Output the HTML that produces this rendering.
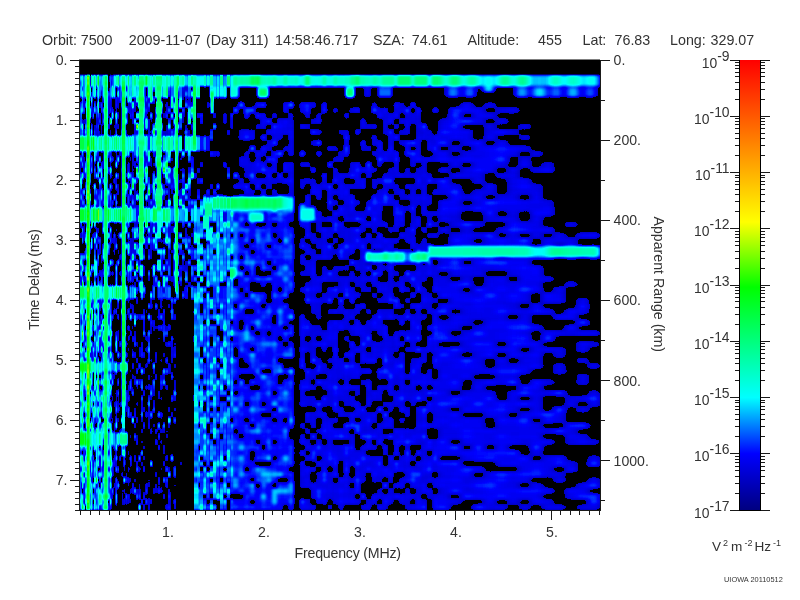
<!DOCTYPE html><html><head><meta charset="utf-8"><title>MARSIS Ionogram</title>
<style>html,body{margin:0;padding:0;background:#fff}svg{display:block}text{font-family:"Liberation Sans",Arial,sans-serif;fill:#333}</style></head><body>
<svg width="800" height="600" viewBox="0 0 800 600">
<rect width="800" height="600" fill="#fff"/>
<defs>
<linearGradient id="cb" x1="0" y1="1" x2="0" y2="0">
<stop offset="0.000" stop-color="rgb(0,0,128)"/>
<stop offset="0.125" stop-color="rgb(0,0,255)"/>
<stop offset="0.250" stop-color="rgb(0,255,255)"/>
<stop offset="0.495" stop-color="rgb(0,255,0)"/>
<stop offset="0.640" stop-color="rgb(255,255,0)"/>
<stop offset="1.000" stop-color="rgb(255,0,0)"/>
</linearGradient>
<filter id="fA" filterUnits="userSpaceOnUse" x="73.0" y="50" width="166.0" height="470" color-interpolation-filters="sRGB"><feGaussianBlur stdDeviation="0.6 1.3"/><feComponentTransfer><feFuncR type="table" tableValues="0.000 0.000 0.000 0.000 0.000 0.000 0.000 0.000 0.000 0.000 0.000 0.000 0.000 0.000 0.000 0.000 0.000 0.000 0.000 0.000 0.000 0.000 0.000 0.000 0.000 0.000 0.000 0.000 0.000 0.000 0.000 0.000 0.000 0.000 0.000 0.000 0.000 0.000 0.000 0.000 0.000 0.000 0.000 0.000 0.000 0.000 0.000 0.000 0.000 0.000 0.000 0.000 0.000 0.000 0.000 0.000 0.000 0.000 0.000 0.000 0.000 0.000 0.000 0.000 0.000 0.000 0.000 0.000 0.000 0.000 0.000 0.000 0.000 0.000 0.000 0.000 0.000 0.000 0.000 0.000 0.000 0.000 0.000 0.000 0.000 0.000 0.000 0.000 0.000 0.000 0.000 0.000 0.000 0.000 0.000 0.000 0.000 0.000 0.000 0.000 0.000 0.000 0.000 0.000 0.000 0.000 0.000 0.000 0.000 0.000 0.000 0.000 0.000 0.000 0.000 0.000 0.000 0.000 0.000 0.000 0.000 0.000 0.000 0.000 0.000 0.000 0.000 0.021 0.048 0.075 0.102 0.129 0.156 0.183 0.210 0.237 0.264 0.291 0.318 0.346 0.373 0.400 0.427 0.454 0.481 0.508 0.535 0.562 0.589 0.616 0.643 0.670 0.697 0.724 0.751 0.778 0.805 0.832 0.859 0.886 0.913 0.941 0.968 0.995 1.000 1.000 1.000 1.000 1.000 1.000 1.000 1.000 1.000 1.000 1.000 1.000 1.000 1.000 1.000 1.000 1.000 1.000 1.000 1.000 1.000 1.000 1.000 1.000 1.000 1.000 1.000 1.000 1.000 1.000 1.000 1.000 1.000 1.000 1.000 1.000 1.000 1.000 1.000 1.000 1.000 1.000 1.000 1.000 1.000 1.000 1.000 1.000 1.000 1.000 1.000 1.000 1.000 1.000 1.000 1.000 1.000 1.000 1.000 1.000 1.000 1.000 1.000 1.000 1.000 1.000 1.000 1.000 1.000 1.000 1.000 1.000 1.000 1.000 1.000 1.000 1.000 1.000 1.000 1.000 1.000 1.000 1.000 1.000 1.000 1.000 1.000 1.000 1.000 1.000 1.000 1.000"/><feFuncG type="table" tableValues="0.000 0.000 0.000 0.000 0.000 0.000 0.000 0.000 0.000 0.000 0.000 0.000 0.000 0.000 0.000 0.000 0.000 0.000 0.000 0.000 0.000 0.000 0.000 0.000 0.000 0.000 0.000 0.000 0.000 0.000 0.000 0.000 0.004 0.035 0.067 0.098 0.129 0.161 0.192 0.224 0.255 0.286 0.318 0.349 0.380 0.412 0.443 0.475 0.506 0.537 0.569 0.600 0.631 0.663 0.694 0.725 0.757 0.788 0.820 0.851 0.882 0.914 0.945 0.976 1.000 1.000 1.000 1.000 1.000 1.000 1.000 1.000 1.000 1.000 1.000 1.000 1.000 1.000 1.000 1.000 1.000 1.000 1.000 1.000 1.000 1.000 1.000 1.000 1.000 1.000 1.000 1.000 1.000 1.000 1.000 1.000 1.000 1.000 1.000 1.000 1.000 1.000 1.000 1.000 1.000 1.000 1.000 1.000 1.000 1.000 1.000 1.000 1.000 1.000 1.000 1.000 1.000 1.000 1.000 1.000 1.000 1.000 1.000 1.000 1.000 1.000 1.000 1.000 1.000 1.000 1.000 1.000 1.000 1.000 1.000 1.000 1.000 1.000 1.000 1.000 1.000 1.000 1.000 1.000 1.000 1.000 1.000 1.000 1.000 1.000 1.000 1.000 1.000 1.000 1.000 1.000 1.000 1.000 1.000 1.000 1.000 1.000 1.000 1.000 0.991 0.980 0.969 0.959 0.948 0.937 0.926 0.915 0.904 0.893 0.882 0.871 0.861 0.850 0.839 0.828 0.817 0.806 0.795 0.784 0.773 0.763 0.752 0.741 0.730 0.719 0.708 0.697 0.686 0.675 0.664 0.654 0.643 0.632 0.621 0.610 0.599 0.588 0.577 0.566 0.556 0.545 0.534 0.523 0.512 0.501 0.490 0.479 0.468 0.458 0.447 0.436 0.425 0.414 0.403 0.392 0.381 0.370 0.359 0.349 0.338 0.327 0.316 0.305 0.294 0.283 0.272 0.261 0.251 0.240 0.229 0.218 0.207 0.196 0.185 0.174 0.163 0.153 0.142 0.131 0.120 0.109 0.098 0.087 0.076 0.065 0.054 0.044 0.033 0.022 0.011 0.000"/><feFuncB type="table" tableValues="0.000 0.000 0.000 0.000 0.000 0.000 0.000 0.000 0.000 0.000 0.000 0.000 0.000 0.000 0.000 0.000 0.000 0.000 0.783 0.799 0.814 0.830 0.846 0.861 0.877 0.893 0.908 0.924 0.939 0.955 0.971 0.986 1.000 1.000 1.000 1.000 1.000 1.000 1.000 1.000 1.000 1.000 1.000 1.000 1.000 1.000 1.000 1.000 1.000 1.000 1.000 1.000 1.000 1.000 1.000 1.000 1.000 1.000 1.000 1.000 1.000 1.000 1.000 1.000 0.996 0.980 0.964 0.948 0.932 0.916 0.900 0.884 0.868 0.852 0.836 0.820 0.804 0.788 0.772 0.756 0.740 0.724 0.708 0.692 0.676 0.660 0.644 0.628 0.612 0.596 0.580 0.564 0.548 0.532 0.516 0.500 0.484 0.468 0.452 0.436 0.420 0.404 0.388 0.372 0.356 0.340 0.324 0.308 0.292 0.276 0.260 0.244 0.228 0.212 0.196 0.180 0.164 0.148 0.132 0.116 0.100 0.084 0.068 0.052 0.036 0.020 0.004 0.000 0.000 0.000 0.000 0.000 0.000 0.000 0.000 0.000 0.000 0.000 0.000 0.000 0.000 0.000 0.000 0.000 0.000 0.000 0.000 0.000 0.000 0.000 0.000 0.000 0.000 0.000 0.000 0.000 0.000 0.000 0.000 0.000 0.000 0.000 0.000 0.000 0.000 0.000 0.000 0.000 0.000 0.000 0.000 0.000 0.000 0.000 0.000 0.000 0.000 0.000 0.000 0.000 0.000 0.000 0.000 0.000 0.000 0.000 0.000 0.000 0.000 0.000 0.000 0.000 0.000 0.000 0.000 0.000 0.000 0.000 0.000 0.000 0.000 0.000 0.000 0.000 0.000 0.000 0.000 0.000 0.000 0.000 0.000 0.000 0.000 0.000 0.000 0.000 0.000 0.000 0.000 0.000 0.000 0.000 0.000 0.000 0.000 0.000 0.000 0.000 0.000 0.000 0.000 0.000 0.000 0.000 0.000 0.000 0.000 0.000 0.000 0.000 0.000 0.000 0.000 0.000 0.000 0.000 0.000 0.000 0.000 0.000 0.000 0.000 0.000 0.000 0.000 0.000"/></feComponentTransfer></filter>
<clipPath id="cA"><rect x="79.0" y="74.6" width="154.0" height="435.4"/></clipPath>
<filter id="fB" filterUnits="userSpaceOnUse" x="225.0" y="50" width="221.0" height="470" color-interpolation-filters="sRGB"><feGaussianBlur stdDeviation="1.35 1.35"/><feComponentTransfer><feFuncR type="table" tableValues="0.000 0.000 0.000 0.000 0.000 0.000 0.000 0.000 0.000 0.000 0.000 0.000 0.000 0.000 0.000 0.000 0.000 0.000 0.000 0.000 0.000 0.000 0.000 0.000 0.000 0.000 0.000 0.000 0.000 0.000 0.000 0.000 0.000 0.000 0.000 0.000 0.000 0.000 0.000 0.000 0.000 0.000 0.000 0.000 0.000 0.000 0.000 0.000 0.000 0.000 0.000 0.000 0.000 0.000 0.000 0.000 0.000 0.000 0.000 0.000 0.000 0.000 0.000 0.000 0.000 0.000 0.000 0.000 0.000 0.000 0.000 0.000 0.000 0.000 0.000 0.000 0.000 0.000 0.000 0.000 0.000 0.000 0.000 0.000 0.000 0.000 0.000 0.000 0.000 0.000 0.000 0.000 0.000 0.000 0.000 0.000 0.000 0.000 0.000 0.000 0.000 0.000 0.000 0.000 0.000 0.000 0.000 0.000 0.000 0.000 0.000 0.000 0.000 0.000 0.000 0.000 0.000 0.000 0.000 0.000 0.000 0.000 0.000 0.000 0.000 0.000 0.000 0.021 0.048 0.075 0.102 0.129 0.156 0.183 0.210 0.237 0.264 0.291 0.318 0.346 0.373 0.400 0.427 0.454 0.481 0.508 0.535 0.562 0.589 0.616 0.643 0.670 0.697 0.724 0.751 0.778 0.805 0.832 0.859 0.886 0.913 0.941 0.968 0.995 1.000 1.000 1.000 1.000 1.000 1.000 1.000 1.000 1.000 1.000 1.000 1.000 1.000 1.000 1.000 1.000 1.000 1.000 1.000 1.000 1.000 1.000 1.000 1.000 1.000 1.000 1.000 1.000 1.000 1.000 1.000 1.000 1.000 1.000 1.000 1.000 1.000 1.000 1.000 1.000 1.000 1.000 1.000 1.000 1.000 1.000 1.000 1.000 1.000 1.000 1.000 1.000 1.000 1.000 1.000 1.000 1.000 1.000 1.000 1.000 1.000 1.000 1.000 1.000 1.000 1.000 1.000 1.000 1.000 1.000 1.000 1.000 1.000 1.000 1.000 1.000 1.000 1.000 1.000 1.000 1.000 1.000 1.000 1.000 1.000 1.000 1.000 1.000 1.000 1.000 1.000 1.000"/><feFuncG type="table" tableValues="0.000 0.000 0.000 0.000 0.000 0.000 0.000 0.000 0.000 0.000 0.000 0.000 0.000 0.000 0.000 0.000 0.000 0.000 0.000 0.000 0.000 0.000 0.000 0.000 0.000 0.000 0.000 0.000 0.000 0.000 0.000 0.000 0.004 0.035 0.067 0.098 0.129 0.161 0.192 0.224 0.255 0.286 0.318 0.349 0.380 0.412 0.443 0.475 0.506 0.537 0.569 0.600 0.631 0.663 0.694 0.725 0.757 0.788 0.820 0.851 0.882 0.914 0.945 0.976 1.000 1.000 1.000 1.000 1.000 1.000 1.000 1.000 1.000 1.000 1.000 1.000 1.000 1.000 1.000 1.000 1.000 1.000 1.000 1.000 1.000 1.000 1.000 1.000 1.000 1.000 1.000 1.000 1.000 1.000 1.000 1.000 1.000 1.000 1.000 1.000 1.000 1.000 1.000 1.000 1.000 1.000 1.000 1.000 1.000 1.000 1.000 1.000 1.000 1.000 1.000 1.000 1.000 1.000 1.000 1.000 1.000 1.000 1.000 1.000 1.000 1.000 1.000 1.000 1.000 1.000 1.000 1.000 1.000 1.000 1.000 1.000 1.000 1.000 1.000 1.000 1.000 1.000 1.000 1.000 1.000 1.000 1.000 1.000 1.000 1.000 1.000 1.000 1.000 1.000 1.000 1.000 1.000 1.000 1.000 1.000 1.000 1.000 1.000 1.000 0.991 0.980 0.969 0.959 0.948 0.937 0.926 0.915 0.904 0.893 0.882 0.871 0.861 0.850 0.839 0.828 0.817 0.806 0.795 0.784 0.773 0.763 0.752 0.741 0.730 0.719 0.708 0.697 0.686 0.675 0.664 0.654 0.643 0.632 0.621 0.610 0.599 0.588 0.577 0.566 0.556 0.545 0.534 0.523 0.512 0.501 0.490 0.479 0.468 0.458 0.447 0.436 0.425 0.414 0.403 0.392 0.381 0.370 0.359 0.349 0.338 0.327 0.316 0.305 0.294 0.283 0.272 0.261 0.251 0.240 0.229 0.218 0.207 0.196 0.185 0.174 0.163 0.153 0.142 0.131 0.120 0.109 0.098 0.087 0.076 0.065 0.054 0.044 0.033 0.022 0.011 0.000"/><feFuncB type="table" tableValues="0.000 0.000 0.000 0.000 0.000 0.000 0.000 0.000 0.000 0.000 0.000 0.000 0.000 0.000 0.000 0.000 0.000 0.000 0.783 0.799 0.814 0.830 0.846 0.861 0.877 0.893 0.908 0.924 0.939 0.955 0.971 0.986 1.000 1.000 1.000 1.000 1.000 1.000 1.000 1.000 1.000 1.000 1.000 1.000 1.000 1.000 1.000 1.000 1.000 1.000 1.000 1.000 1.000 1.000 1.000 1.000 1.000 1.000 1.000 1.000 1.000 1.000 1.000 1.000 0.996 0.980 0.964 0.948 0.932 0.916 0.900 0.884 0.868 0.852 0.836 0.820 0.804 0.788 0.772 0.756 0.740 0.724 0.708 0.692 0.676 0.660 0.644 0.628 0.612 0.596 0.580 0.564 0.548 0.532 0.516 0.500 0.484 0.468 0.452 0.436 0.420 0.404 0.388 0.372 0.356 0.340 0.324 0.308 0.292 0.276 0.260 0.244 0.228 0.212 0.196 0.180 0.164 0.148 0.132 0.116 0.100 0.084 0.068 0.052 0.036 0.020 0.004 0.000 0.000 0.000 0.000 0.000 0.000 0.000 0.000 0.000 0.000 0.000 0.000 0.000 0.000 0.000 0.000 0.000 0.000 0.000 0.000 0.000 0.000 0.000 0.000 0.000 0.000 0.000 0.000 0.000 0.000 0.000 0.000 0.000 0.000 0.000 0.000 0.000 0.000 0.000 0.000 0.000 0.000 0.000 0.000 0.000 0.000 0.000 0.000 0.000 0.000 0.000 0.000 0.000 0.000 0.000 0.000 0.000 0.000 0.000 0.000 0.000 0.000 0.000 0.000 0.000 0.000 0.000 0.000 0.000 0.000 0.000 0.000 0.000 0.000 0.000 0.000 0.000 0.000 0.000 0.000 0.000 0.000 0.000 0.000 0.000 0.000 0.000 0.000 0.000 0.000 0.000 0.000 0.000 0.000 0.000 0.000 0.000 0.000 0.000 0.000 0.000 0.000 0.000 0.000 0.000 0.000 0.000 0.000 0.000 0.000 0.000 0.000 0.000 0.000 0.000 0.000 0.000 0.000 0.000 0.000 0.000 0.000 0.000 0.000 0.000 0.000 0.000 0.000 0.000"/></feComponentTransfer></filter>
<clipPath id="cB"><rect x="233.0" y="74.6" width="205.0" height="435.4"/></clipPath>
<filter id="fC" filterUnits="userSpaceOnUse" x="424.0" y="50" width="190.0" height="470" color-interpolation-filters="sRGB"><feGaussianBlur stdDeviation="3.0 1.7"/><feComponentTransfer><feFuncR type="table" tableValues="0.000 0.000 0.000 0.000 0.000 0.000 0.000 0.000 0.000 0.000 0.000 0.000 0.000 0.000 0.000 0.000 0.000 0.000 0.000 0.000 0.000 0.000 0.000 0.000 0.000 0.000 0.000 0.000 0.000 0.000 0.000 0.000 0.000 0.000 0.000 0.000 0.000 0.000 0.000 0.000 0.000 0.000 0.000 0.000 0.000 0.000 0.000 0.000 0.000 0.000 0.000 0.000 0.000 0.000 0.000 0.000 0.000 0.000 0.000 0.000 0.000 0.000 0.000 0.000 0.000 0.000 0.000 0.000 0.000 0.000 0.000 0.000 0.000 0.000 0.000 0.000 0.000 0.000 0.000 0.000 0.000 0.000 0.000 0.000 0.000 0.000 0.000 0.000 0.000 0.000 0.000 0.000 0.000 0.000 0.000 0.000 0.000 0.000 0.000 0.000 0.000 0.000 0.000 0.000 0.000 0.000 0.000 0.000 0.000 0.000 0.000 0.000 0.000 0.000 0.000 0.000 0.000 0.000 0.000 0.000 0.000 0.000 0.000 0.000 0.000 0.000 0.000 0.021 0.048 0.075 0.102 0.129 0.156 0.183 0.210 0.237 0.264 0.291 0.318 0.346 0.373 0.400 0.427 0.454 0.481 0.508 0.535 0.562 0.589 0.616 0.643 0.670 0.697 0.724 0.751 0.778 0.805 0.832 0.859 0.886 0.913 0.941 0.968 0.995 1.000 1.000 1.000 1.000 1.000 1.000 1.000 1.000 1.000 1.000 1.000 1.000 1.000 1.000 1.000 1.000 1.000 1.000 1.000 1.000 1.000 1.000 1.000 1.000 1.000 1.000 1.000 1.000 1.000 1.000 1.000 1.000 1.000 1.000 1.000 1.000 1.000 1.000 1.000 1.000 1.000 1.000 1.000 1.000 1.000 1.000 1.000 1.000 1.000 1.000 1.000 1.000 1.000 1.000 1.000 1.000 1.000 1.000 1.000 1.000 1.000 1.000 1.000 1.000 1.000 1.000 1.000 1.000 1.000 1.000 1.000 1.000 1.000 1.000 1.000 1.000 1.000 1.000 1.000 1.000 1.000 1.000 1.000 1.000 1.000 1.000 1.000 1.000 1.000 1.000 1.000 1.000"/><feFuncG type="table" tableValues="0.000 0.000 0.000 0.000 0.000 0.000 0.000 0.000 0.000 0.000 0.000 0.000 0.000 0.000 0.000 0.000 0.000 0.000 0.000 0.000 0.000 0.000 0.000 0.000 0.000 0.000 0.000 0.000 0.000 0.000 0.000 0.000 0.004 0.035 0.067 0.098 0.129 0.161 0.192 0.224 0.255 0.286 0.318 0.349 0.380 0.412 0.443 0.475 0.506 0.537 0.569 0.600 0.631 0.663 0.694 0.725 0.757 0.788 0.820 0.851 0.882 0.914 0.945 0.976 1.000 1.000 1.000 1.000 1.000 1.000 1.000 1.000 1.000 1.000 1.000 1.000 1.000 1.000 1.000 1.000 1.000 1.000 1.000 1.000 1.000 1.000 1.000 1.000 1.000 1.000 1.000 1.000 1.000 1.000 1.000 1.000 1.000 1.000 1.000 1.000 1.000 1.000 1.000 1.000 1.000 1.000 1.000 1.000 1.000 1.000 1.000 1.000 1.000 1.000 1.000 1.000 1.000 1.000 1.000 1.000 1.000 1.000 1.000 1.000 1.000 1.000 1.000 1.000 1.000 1.000 1.000 1.000 1.000 1.000 1.000 1.000 1.000 1.000 1.000 1.000 1.000 1.000 1.000 1.000 1.000 1.000 1.000 1.000 1.000 1.000 1.000 1.000 1.000 1.000 1.000 1.000 1.000 1.000 1.000 1.000 1.000 1.000 1.000 1.000 0.991 0.980 0.969 0.959 0.948 0.937 0.926 0.915 0.904 0.893 0.882 0.871 0.861 0.850 0.839 0.828 0.817 0.806 0.795 0.784 0.773 0.763 0.752 0.741 0.730 0.719 0.708 0.697 0.686 0.675 0.664 0.654 0.643 0.632 0.621 0.610 0.599 0.588 0.577 0.566 0.556 0.545 0.534 0.523 0.512 0.501 0.490 0.479 0.468 0.458 0.447 0.436 0.425 0.414 0.403 0.392 0.381 0.370 0.359 0.349 0.338 0.327 0.316 0.305 0.294 0.283 0.272 0.261 0.251 0.240 0.229 0.218 0.207 0.196 0.185 0.174 0.163 0.153 0.142 0.131 0.120 0.109 0.098 0.087 0.076 0.065 0.054 0.044 0.033 0.022 0.011 0.000"/><feFuncB type="table" tableValues="0.000 0.000 0.000 0.000 0.000 0.000 0.000 0.000 0.000 0.000 0.000 0.000 0.000 0.000 0.000 0.000 0.000 0.000 0.783 0.799 0.814 0.830 0.846 0.861 0.877 0.893 0.908 0.924 0.939 0.955 0.971 0.986 1.000 1.000 1.000 1.000 1.000 1.000 1.000 1.000 1.000 1.000 1.000 1.000 1.000 1.000 1.000 1.000 1.000 1.000 1.000 1.000 1.000 1.000 1.000 1.000 1.000 1.000 1.000 1.000 1.000 1.000 1.000 1.000 0.996 0.980 0.964 0.948 0.932 0.916 0.900 0.884 0.868 0.852 0.836 0.820 0.804 0.788 0.772 0.756 0.740 0.724 0.708 0.692 0.676 0.660 0.644 0.628 0.612 0.596 0.580 0.564 0.548 0.532 0.516 0.500 0.484 0.468 0.452 0.436 0.420 0.404 0.388 0.372 0.356 0.340 0.324 0.308 0.292 0.276 0.260 0.244 0.228 0.212 0.196 0.180 0.164 0.148 0.132 0.116 0.100 0.084 0.068 0.052 0.036 0.020 0.004 0.000 0.000 0.000 0.000 0.000 0.000 0.000 0.000 0.000 0.000 0.000 0.000 0.000 0.000 0.000 0.000 0.000 0.000 0.000 0.000 0.000 0.000 0.000 0.000 0.000 0.000 0.000 0.000 0.000 0.000 0.000 0.000 0.000 0.000 0.000 0.000 0.000 0.000 0.000 0.000 0.000 0.000 0.000 0.000 0.000 0.000 0.000 0.000 0.000 0.000 0.000 0.000 0.000 0.000 0.000 0.000 0.000 0.000 0.000 0.000 0.000 0.000 0.000 0.000 0.000 0.000 0.000 0.000 0.000 0.000 0.000 0.000 0.000 0.000 0.000 0.000 0.000 0.000 0.000 0.000 0.000 0.000 0.000 0.000 0.000 0.000 0.000 0.000 0.000 0.000 0.000 0.000 0.000 0.000 0.000 0.000 0.000 0.000 0.000 0.000 0.000 0.000 0.000 0.000 0.000 0.000 0.000 0.000 0.000 0.000 0.000 0.000 0.000 0.000 0.000 0.000 0.000 0.000 0.000 0.000 0.000 0.000 0.000 0.000 0.000 0.000 0.000 0.000 0.000"/></feComponentTransfer></filter>
<clipPath id="cC"><rect x="438.0" y="74.6" width="162.0" height="435.4"/></clipPath>
<g id="cells">
<path fill="#070707" d="M104.3,75.0h1.8v5.44h-1.8zM143.0,75.0h2.3v5.44h-2.3zM102.5,80.4h1.8v5.44h-1.8zM127.5,80.4h2.1v5.44h-2.1zM150.1,80.4h2.4v5.44h-2.4zM79.0,85.9h1.4v5.44h-1.4zM115.4,91.3h1.9v5.44h-1.9zM150.1,91.3h2.4v5.44h-2.4zM125.4,96.8h2.1v5.44h-2.1zM160.1,96.8h2.6v5.44h-2.6zM168.0,96.8h2.7v5.44h-2.7zM92.5,102.2h1.6v5.44h-1.6zM193.8,102.2h3.1v5.44h-3.1zM200.0,102.2h3.2v5.44h-3.2zM203.2,102.2h3.2v5.44h-3.2zM213.0,102.2h3.4v5.44h-3.4zM233.0,102.2h5.5v5.44h-5.5zM271.8,102.2h5.5v5.44h-5.5zM277.3,102.2h5.5v5.44h-5.5zM327.2,102.2h5.5v5.44h-5.5zM343.8,102.2h5.5v5.44h-5.5zM388.1,102.2h5.5v5.44h-5.5zM421.4,102.2h5.5v5.44h-5.5zM426.9,102.2h5.5v5.44h-5.5zM193.8,107.6h3.1v5.44h-3.1zM196.9,107.6h3.1v5.44h-3.1zM206.4,107.6h3.3v5.44h-3.3zM213.0,107.6h3.4v5.44h-3.4zM219.8,107.6h3.5v5.44h-3.5zM230.3,107.6h2.7v5.44h-2.7zM238.5,107.6h5.5v5.44h-5.5zM277.3,107.6h5.5v5.44h-5.5zM288.4,107.6h5.5v5.44h-5.5zM327.2,107.6h5.5v5.44h-5.5zM360.4,107.6h5.5v5.44h-5.5zM366.0,107.6h5.5v5.44h-5.5zM193.8,113.1h3.1v5.44h-3.1zM206.4,113.1h3.3v5.44h-3.3zM226.7,113.1h3.6v5.44h-3.6zM233.0,113.1h5.5v5.44h-5.5zM266.2,113.1h5.5v5.44h-5.5zM327.2,113.1h5.5v5.44h-5.5zM349.4,113.1h5.5v5.44h-5.5zM354.9,113.1h5.5v5.44h-5.5zM366.0,113.1h5.5v5.44h-5.5zM209.7,118.5h3.3v5.44h-3.3zM213.0,118.5h3.4v5.44h-3.4zM233.0,118.5h5.5v5.44h-5.5zM249.6,118.5h5.5v5.44h-5.5zM271.8,118.5h5.5v5.44h-5.5zM299.5,118.5h5.5v5.44h-5.5zM321.6,118.5h5.5v5.44h-5.5zM338.3,118.5h5.5v5.44h-5.5zM354.9,118.5h5.5v5.44h-5.5zM426.9,118.5h5.5v5.44h-5.5zM200.0,123.9h3.2v5.44h-3.2zM209.7,123.9h3.3v5.44h-3.3zM219.8,123.9h3.5v5.44h-3.5zM226.7,123.9h3.6v5.44h-3.6zM233.0,123.9h5.5v5.44h-5.5zM244.1,123.9h5.5v5.44h-5.5zM310.6,123.9h5.5v5.44h-5.5zM316.1,123.9h5.5v5.44h-5.5zM321.6,123.9h5.5v5.44h-5.5zM338.3,123.9h5.5v5.44h-5.5zM426.9,123.9h5.5v5.44h-5.5zM131.7,129.4h2.2v5.44h-2.2zM213.0,129.4h3.4v5.44h-3.4zM223.2,129.4h3.5v5.44h-3.5zM233.0,129.4h5.5v5.44h-5.5zM299.5,129.4h5.5v5.44h-5.5zM305.0,129.4h5.5v5.44h-5.5zM321.6,129.4h5.5v5.44h-5.5zM349.4,129.4h5.5v5.44h-5.5zM360.4,129.4h5.5v5.44h-5.5zM366.0,129.4h5.5v5.44h-5.5zM377.1,129.4h5.5v5.44h-5.5zM393.7,129.4h5.5v5.44h-5.5zM410.3,129.4h5.5v5.44h-5.5zM203.2,134.8h3.2v5.44h-3.2zM216.3,134.8h3.4v5.44h-3.4zM223.2,134.8h3.5v5.44h-3.5zM226.7,134.8h3.6v5.44h-3.6zM255.2,134.8h5.5v5.44h-5.5zM282.9,134.8h5.5v5.44h-5.5zM305.0,134.8h5.5v5.44h-5.5zM366.0,134.8h5.5v5.44h-5.5zM404.8,134.8h5.5v5.44h-5.5zM213.0,140.2h3.4v5.44h-3.4zM223.2,140.2h3.5v5.44h-3.5zM226.7,140.2h3.6v5.44h-3.6zM230.3,140.2h2.7v5.44h-2.7zM260.7,140.2h5.5v5.44h-5.5zM277.3,140.2h5.5v5.44h-5.5zM299.5,140.2h5.5v5.44h-5.5zM327.2,140.2h5.5v5.44h-5.5zM349.4,140.2h5.5v5.44h-5.5zM354.9,140.2h5.5v5.44h-5.5zM421.4,140.2h5.5v5.44h-5.5zM193.8,145.7h3.1v5.44h-3.1zM216.3,145.7h3.4v5.44h-3.4zM219.8,145.7h3.5v5.44h-3.5zM223.2,145.7h3.5v5.44h-3.5zM226.7,145.7h3.6v5.44h-3.6zM271.8,145.7h5.5v5.44h-5.5zM277.3,145.7h5.5v5.44h-5.5zM305.0,145.7h5.5v5.44h-5.5zM310.6,145.7h5.5v5.44h-5.5zM338.3,145.7h5.5v5.44h-5.5zM349.4,145.7h5.5v5.44h-5.5zM354.9,145.7h5.5v5.44h-5.5zM371.5,145.7h5.5v5.44h-5.5zM421.4,145.7h5.5v5.44h-5.5zM193.8,151.1h3.1v5.44h-3.1zM203.2,151.1h3.2v5.44h-3.2zM206.4,151.1h3.3v5.44h-3.3zM219.8,151.1h3.5v5.44h-3.5zM223.2,151.1h3.5v5.44h-3.5zM238.5,151.1h5.5v5.44h-5.5zM310.6,151.1h5.5v5.44h-5.5zM327.2,151.1h5.5v5.44h-5.5zM399.2,151.1h5.5v5.44h-5.5zM181.9,156.6h2.9v5.44h-2.9zM184.8,156.6h3.0v5.44h-3.0zM193.8,156.6h3.1v5.44h-3.1zM209.7,156.6h3.3v5.44h-3.3zM223.2,156.6h3.5v5.44h-3.5zM230.3,156.6h2.7v5.44h-2.7zM233.0,156.6h5.5v5.44h-5.5zM249.6,156.6h5.5v5.44h-5.5zM260.7,156.6h5.5v5.44h-5.5zM277.3,156.6h5.5v5.44h-5.5zM288.4,156.6h5.5v5.44h-5.5zM316.1,156.6h5.5v5.44h-5.5zM327.2,156.6h5.5v5.44h-5.5zM360.4,156.6h5.5v5.44h-5.5zM399.2,156.6h5.5v5.44h-5.5zM404.8,156.6h5.5v5.44h-5.5zM125.4,162.0h2.1v5.44h-2.1zM206.4,162.0h3.3v5.44h-3.3zM209.7,162.0h3.3v5.44h-3.3zM219.8,162.0h3.5v5.44h-3.5zM226.7,162.0h3.6v5.44h-3.6zM230.3,162.0h2.7v5.44h-2.7zM371.5,162.0h5.5v5.44h-5.5zM388.1,162.0h5.5v5.44h-5.5zM432.5,162.0h5.5v5.44h-5.5zM193.8,167.4h3.1v5.44h-3.1zM200.0,167.4h3.2v5.44h-3.2zM206.4,167.4h3.3v5.44h-3.3zM213.0,167.4h3.4v5.44h-3.4zM216.3,167.4h3.4v5.44h-3.4zM277.3,167.4h5.5v5.44h-5.5zM305.0,167.4h5.5v5.44h-5.5zM316.1,167.4h5.5v5.44h-5.5zM321.6,167.4h5.5v5.44h-5.5zM399.2,167.4h5.5v5.44h-5.5zM426.9,167.4h5.5v5.44h-5.5zM196.9,172.9h3.1v5.44h-3.1zM200.0,172.9h3.2v5.44h-3.2zM203.2,172.9h3.2v5.44h-3.2zM206.4,172.9h3.3v5.44h-3.3zM216.3,172.9h3.4v5.44h-3.4zM219.8,172.9h3.5v5.44h-3.5zM223.2,172.9h3.5v5.44h-3.5zM230.3,172.9h2.7v5.44h-2.7zM305.0,172.9h5.5v5.44h-5.5zM310.6,172.9h5.5v5.44h-5.5zM316.1,172.9h5.5v5.44h-5.5zM360.4,172.9h5.5v5.44h-5.5zM371.5,172.9h5.5v5.44h-5.5zM90.9,178.3h1.6v5.44h-1.6zM94.1,178.3h1.6v5.44h-1.6zM213.0,178.3h3.4v5.44h-3.4zM216.3,178.3h3.4v5.44h-3.4zM230.3,178.3h2.7v5.44h-2.7zM233.0,178.3h5.5v5.44h-5.5zM327.2,178.3h5.5v5.44h-5.5zM349.4,178.3h5.5v5.44h-5.5zM366.0,178.3h5.5v5.44h-5.5zM393.7,178.3h5.5v5.44h-5.5zM404.8,178.3h5.5v5.44h-5.5zM196.9,183.8h3.1v5.44h-3.1zM200.0,183.8h3.2v5.44h-3.2zM203.2,183.8h3.2v5.44h-3.2zM219.8,183.8h3.5v5.44h-3.5zM223.2,183.8h3.5v5.44h-3.5zM271.8,183.8h5.5v5.44h-5.5zM282.9,183.8h5.5v5.44h-5.5zM332.7,183.8h5.5v5.44h-5.5zM138.4,189.2h2.3v5.44h-2.3zM209.7,189.2h3.3v5.44h-3.3zM216.3,189.2h3.4v5.44h-3.4zM223.2,189.2h3.5v5.44h-3.5zM266.2,189.2h5.5v5.44h-5.5zM277.3,189.2h5.5v5.44h-5.5zM299.5,189.2h5.5v5.44h-5.5zM349.4,189.2h5.5v5.44h-5.5zM360.4,189.2h5.5v5.44h-5.5zM366.0,189.2h5.5v5.44h-5.5zM388.1,189.2h5.5v5.44h-5.5zM404.8,189.2h5.5v5.44h-5.5zM415.8,189.2h5.5v5.44h-5.5zM426.9,189.2h5.5v5.44h-5.5zM92.5,194.6h1.6v5.44h-1.6zM106.1,194.6h1.8v5.44h-1.8zM193.8,194.6h3.1v5.44h-3.1zM200.0,194.6h3.2v5.44h-3.2zM226.7,194.6h3.6v5.44h-3.6zM255.2,194.6h5.5v5.44h-5.5zM310.6,194.6h5.5v5.44h-5.5zM354.9,194.6h5.5v5.44h-5.5zM393.7,194.6h5.5v5.44h-5.5zM87.8,200.1h1.5v5.44h-1.5zM170.7,200.1h2.7v5.44h-2.7zM206.4,200.1h3.3v5.44h-3.3zM404.8,200.1h5.5v5.44h-5.5zM432.5,200.1h5.5v5.44h-5.5zM288.4,205.5h5.5v5.44h-5.5zM299.5,205.5h5.5v5.44h-5.5zM354.9,205.5h5.5v5.44h-5.5zM360.4,205.5h5.5v5.44h-5.5zM388.1,205.5h5.5v5.44h-5.5zM426.9,205.5h5.5v5.44h-5.5zM165.3,210.9h2.7v5.44h-2.7zM203.2,210.9h3.2v5.44h-3.2zM206.4,210.9h3.3v5.44h-3.3zM223.2,210.9h3.5v5.44h-3.5zM321.6,210.9h5.5v5.44h-5.5zM404.8,210.9h5.5v5.44h-5.5zM415.8,210.9h5.5v5.44h-5.5zM200.0,216.4h3.2v5.44h-3.2zM260.7,216.4h5.5v5.44h-5.5zM366.0,216.4h5.5v5.44h-5.5zM388.1,216.4h5.5v5.44h-5.5zM97.4,221.8h1.7v5.44h-1.7zM143.0,221.8h2.3v5.44h-2.3zM147.7,221.8h2.4v5.44h-2.4zM209.7,221.8h3.3v5.44h-3.3zM288.4,221.8h5.5v5.44h-5.5zM310.6,221.8h5.5v5.44h-5.5zM321.6,221.8h5.5v5.44h-5.5zM343.8,221.8h5.5v5.44h-5.5zM388.1,221.8h5.5v5.44h-5.5zM404.8,221.8h5.5v5.44h-5.5zM213.0,227.2h3.4v5.44h-3.4zM299.5,227.2h5.5v5.44h-5.5zM366.0,227.2h5.5v5.44h-5.5zM426.9,227.2h5.5v5.44h-5.5zM219.8,232.7h3.5v5.44h-3.5zM299.5,232.7h5.5v5.44h-5.5zM316.1,232.7h5.5v5.44h-5.5zM332.7,232.7h5.5v5.44h-5.5zM360.4,232.7h5.5v5.44h-5.5zM371.5,232.7h5.5v5.44h-5.5zM382.6,232.7h5.5v5.44h-5.5zM388.1,232.7h5.5v5.44h-5.5zM117.3,238.1h2.0v5.44h-2.0zM200.0,238.1h3.2v5.44h-3.2zM206.4,238.1h3.3v5.44h-3.3zM249.6,238.1h5.5v5.44h-5.5zM305.0,238.1h5.5v5.44h-5.5zM327.2,238.1h5.5v5.44h-5.5zM415.8,238.1h5.5v5.44h-5.5zM332.7,243.6h5.5v5.44h-5.5zM432.5,243.6h5.5v5.44h-5.5zM299.5,249.0h5.5v5.44h-5.5zM316.1,249.0h5.5v5.44h-5.5zM354.9,249.0h5.5v5.44h-5.5zM410.3,249.0h5.5v5.44h-5.5zM426.9,249.0h5.5v5.44h-5.5zM157.6,254.4h2.6v5.44h-2.6zM200.0,254.4h3.2v5.44h-3.2zM399.2,254.4h5.5v5.44h-5.5zM415.8,254.4h5.5v5.44h-5.5zM86.3,259.9h1.5v5.44h-1.5zM140.7,259.9h2.3v5.44h-2.3zM152.6,259.9h2.5v5.44h-2.5zM162.7,259.9h2.6v5.44h-2.6zM193.8,259.9h3.1v5.44h-3.1zM266.2,259.9h5.5v5.44h-5.5zM321.6,259.9h5.5v5.44h-5.5zM327.2,259.9h5.5v5.44h-5.5zM332.7,259.9h5.5v5.44h-5.5zM366.0,259.9h5.5v5.44h-5.5zM206.4,265.3h3.3v5.44h-3.3zM238.5,265.3h5.5v5.44h-5.5zM349.4,265.3h5.5v5.44h-5.5zM393.7,265.3h5.5v5.44h-5.5zM104.3,270.8h1.8v5.44h-1.8zM244.1,270.8h5.5v5.44h-5.5zM366.0,270.8h5.5v5.44h-5.5zM86.3,276.2h1.5v5.44h-1.5zM92.5,276.2h1.6v5.44h-1.6zM117.3,276.2h2.0v5.44h-2.0zM393.7,276.2h5.5v5.44h-5.5zM92.5,281.6h1.6v5.44h-1.6zM107.9,281.6h1.8v5.44h-1.8zM200.0,281.6h3.2v5.44h-3.2zM255.2,281.6h5.5v5.44h-5.5zM299.5,281.6h5.5v5.44h-5.5zM404.8,281.6h5.5v5.44h-5.5zM426.9,281.6h5.5v5.44h-5.5zM238.5,287.1h5.5v5.44h-5.5zM255.2,287.1h5.5v5.44h-5.5zM260.7,287.1h5.5v5.44h-5.5zM266.2,287.1h5.5v5.44h-5.5zM371.5,287.1h5.5v5.44h-5.5zM426.9,287.1h5.5v5.44h-5.5zM203.2,292.5h3.2v5.44h-3.2zM299.5,292.5h5.5v5.44h-5.5zM393.7,292.5h5.5v5.44h-5.5zM404.8,292.5h5.5v5.44h-5.5zM432.5,292.5h5.5v5.44h-5.5zM266.2,297.9h5.5v5.44h-5.5zM282.9,297.9h5.5v5.44h-5.5zM366.0,297.9h5.5v5.44h-5.5zM399.2,297.9h5.5v5.44h-5.5zM415.8,297.9h5.5v5.44h-5.5zM200.0,303.4h3.2v5.44h-3.2zM233.0,303.4h5.5v5.44h-5.5zM260.7,303.4h5.5v5.44h-5.5zM288.4,303.4h5.5v5.44h-5.5zM299.5,303.4h5.5v5.44h-5.5zM321.6,303.4h5.5v5.44h-5.5zM332.7,303.4h5.5v5.44h-5.5zM349.4,303.4h5.5v5.44h-5.5zM366.0,303.4h5.5v5.44h-5.5zM377.1,303.4h5.5v5.44h-5.5zM382.6,303.4h5.5v5.44h-5.5zM388.1,303.4h5.5v5.44h-5.5zM404.8,303.4h5.5v5.44h-5.5zM299.5,308.8h5.5v5.44h-5.5zM305.0,308.8h5.5v5.44h-5.5zM371.5,308.8h5.5v5.44h-5.5zM421.4,308.8h5.5v5.44h-5.5zM310.6,314.2h5.5v5.44h-5.5zM327.2,314.2h5.5v5.44h-5.5zM332.7,314.2h5.5v5.44h-5.5zM360.4,314.2h5.5v5.44h-5.5zM138.4,319.7h2.3v5.44h-2.3zM165.3,319.7h2.7v5.44h-2.7zM230.3,319.7h2.7v5.44h-2.7zM310.6,319.7h5.5v5.44h-5.5zM349.4,319.7h5.5v5.44h-5.5zM360.4,319.7h5.5v5.44h-5.5zM404.8,319.7h5.5v5.44h-5.5zM282.9,325.1h5.5v5.44h-5.5zM157.6,330.6h2.6v5.44h-2.6zM216.3,330.6h3.4v5.44h-3.4zM255.2,330.6h5.5v5.44h-5.5zM338.3,330.6h5.5v5.44h-5.5zM343.8,330.6h5.5v5.44h-5.5zM388.1,330.6h5.5v5.44h-5.5zM86.3,336.0h1.5v5.44h-1.5zM209.7,336.0h3.3v5.44h-3.3zM277.3,336.0h5.5v5.44h-5.5zM305.0,336.0h5.5v5.44h-5.5zM349.4,336.0h5.5v5.44h-5.5zM377.1,336.0h5.5v5.44h-5.5zM209.7,341.4h3.3v5.44h-3.3zM338.3,341.4h5.5v5.44h-5.5zM404.8,341.4h5.5v5.44h-5.5zM421.4,341.4h5.5v5.44h-5.5zM200.0,346.9h3.2v5.44h-3.2zM249.6,346.9h5.5v5.44h-5.5zM316.1,346.9h5.5v5.44h-5.5zM343.8,346.9h5.5v5.44h-5.5zM399.2,346.9h5.5v5.44h-5.5zM121.3,352.3h2.0v5.44h-2.0zM160.1,352.3h2.6v5.44h-2.6zM200.0,352.3h3.2v5.44h-3.2zM233.0,352.3h5.5v5.44h-5.5zM305.0,352.3h5.5v5.44h-5.5zM316.1,352.3h5.5v5.44h-5.5zM393.7,352.3h5.5v5.44h-5.5zM404.8,352.3h5.5v5.44h-5.5zM168.0,357.8h2.7v5.44h-2.7zM203.2,357.8h3.2v5.44h-3.2zM288.4,357.8h5.5v5.44h-5.5zM305.0,357.8h5.5v5.44h-5.5zM354.9,357.8h5.5v5.44h-5.5zM404.8,357.8h5.5v5.44h-5.5zM150.1,363.2h2.4v5.44h-2.4zM157.6,363.2h2.6v5.44h-2.6zM288.4,363.2h5.5v5.44h-5.5zM305.0,363.2h5.5v5.44h-5.5zM366.0,363.2h5.5v5.44h-5.5zM371.5,363.2h5.5v5.44h-5.5zM377.1,363.2h5.5v5.44h-5.5zM404.8,363.2h5.5v5.44h-5.5zM216.3,368.6h3.4v5.44h-3.4zM421.4,368.6h5.5v5.44h-5.5zM99.1,374.1h1.7v5.44h-1.7zM129.6,374.1h2.1v5.44h-2.1zM165.3,374.1h2.7v5.44h-2.7zM216.3,374.1h3.4v5.44h-3.4zM238.5,374.1h5.5v5.44h-5.5zM316.1,374.1h5.5v5.44h-5.5zM371.5,374.1h5.5v5.44h-5.5zM432.5,374.1h5.5v5.44h-5.5zM155.0,379.5h2.5v5.44h-2.5zM168.0,379.5h2.7v5.44h-2.7zM233.0,379.5h5.5v5.44h-5.5zM338.3,379.5h5.5v5.44h-5.5zM349.4,379.5h5.5v5.44h-5.5zM255.2,384.9h5.5v5.44h-5.5zM393.7,384.9h5.5v5.44h-5.5zM426.9,384.9h5.5v5.44h-5.5zM226.7,390.4h3.6v5.44h-3.6zM305.0,390.4h5.5v5.44h-5.5zM121.3,395.8h2.0v5.44h-2.0zM219.8,395.8h3.5v5.44h-3.5zM223.2,395.8h3.5v5.44h-3.5zM382.6,395.8h5.5v5.44h-5.5zM203.2,401.2h3.2v5.44h-3.2zM244.1,401.2h5.5v5.44h-5.5zM377.1,401.2h5.5v5.44h-5.5zM165.3,406.7h2.7v5.44h-2.7zM203.2,406.7h3.2v5.44h-3.2zM209.7,406.7h3.3v5.44h-3.3zM299.5,406.7h5.5v5.44h-5.5zM310.6,406.7h5.5v5.44h-5.5zM321.6,406.7h5.5v5.44h-5.5zM393.7,406.7h5.5v5.44h-5.5zM410.3,406.7h5.5v5.44h-5.5zM119.3,412.1h2.0v5.44h-2.0zM266.2,412.1h5.5v5.44h-5.5zM299.5,412.1h5.5v5.44h-5.5zM393.7,412.1h5.5v5.44h-5.5zM399.2,412.1h5.5v5.44h-5.5zM230.3,417.6h2.7v5.44h-2.7zM244.1,417.6h5.5v5.44h-5.5zM271.8,417.6h5.5v5.44h-5.5zM299.5,417.6h5.5v5.44h-5.5zM316.1,417.6h5.5v5.44h-5.5zM343.8,417.6h5.5v5.44h-5.5zM393.7,417.6h5.5v5.44h-5.5zM404.8,417.6h5.5v5.44h-5.5zM206.4,423.0h3.3v5.44h-3.3zM316.1,423.0h5.5v5.44h-5.5zM299.5,428.4h5.5v5.44h-5.5zM310.6,428.4h5.5v5.44h-5.5zM388.1,428.4h5.5v5.44h-5.5zM432.5,428.4h5.5v5.44h-5.5zM168.0,433.9h2.7v5.44h-2.7zM219.8,433.9h3.5v5.44h-3.5zM305.0,433.9h5.5v5.44h-5.5zM271.8,439.3h5.5v5.44h-5.5zM388.1,439.3h5.5v5.44h-5.5zM136.1,444.8h2.2v5.44h-2.2zM138.4,444.8h2.3v5.44h-2.3zM260.7,444.8h5.5v5.44h-5.5zM299.5,444.8h5.5v5.44h-5.5zM354.9,444.8h5.5v5.44h-5.5zM377.1,444.8h5.5v5.44h-5.5zM388.1,444.8h5.5v5.44h-5.5zM113.5,450.2h1.9v5.44h-1.9zM131.7,450.2h2.2v5.44h-2.2zM399.2,450.2h5.5v5.44h-5.5zM223.2,455.6h3.5v5.44h-3.5zM382.6,455.6h5.5v5.44h-5.5zM393.7,455.6h5.5v5.44h-5.5zM203.2,461.1h3.2v5.44h-3.2zM266.2,461.1h5.5v5.44h-5.5zM310.6,461.1h5.5v5.44h-5.5zM382.6,461.1h5.5v5.44h-5.5zM410.3,461.1h5.5v5.44h-5.5zM97.4,466.5h1.7v5.44h-1.7zM170.7,466.5h2.7v5.44h-2.7zM223.2,466.5h3.5v5.44h-3.5zM316.1,466.5h5.5v5.44h-5.5zM123.3,471.9h2.1v5.44h-2.1zM366.0,471.9h5.5v5.44h-5.5zM136.1,477.4h2.2v5.44h-2.2zM150.1,477.4h2.4v5.44h-2.4zM277.3,477.4h5.5v5.44h-5.5zM282.9,477.4h5.5v5.44h-5.5zM310.6,477.4h5.5v5.44h-5.5zM366.0,477.4h5.5v5.44h-5.5zM226.7,482.8h3.6v5.44h-3.6zM371.5,482.8h5.5v5.44h-5.5zM404.8,482.8h5.5v5.44h-5.5zM426.9,482.8h5.5v5.44h-5.5zM193.8,488.2h3.1v5.44h-3.1zM360.4,488.2h5.5v5.44h-5.5zM366.0,488.2h5.5v5.44h-5.5zM206.4,499.1h3.3v5.44h-3.3zM213.0,499.1h3.4v5.44h-3.4zM249.6,499.1h5.5v5.44h-5.5zM377.1,499.1h5.5v5.44h-5.5zM349.4,504.6h5.5v5.44h-5.5zM354.9,504.6h5.5v5.44h-5.5zM399.2,504.6h5.5v5.44h-5.5z"/>
<path fill="#080808" d="M173.5,85.9h2.8v5.44h-2.8zM131.7,91.3h2.2v5.44h-2.2zM104.3,102.2h1.8v5.44h-1.8zM196.9,102.2h3.1v5.44h-3.1zM216.3,102.2h3.4v5.44h-3.4zM223.2,102.2h3.5v5.44h-3.5zM244.1,102.2h5.5v5.44h-5.5zM249.6,102.2h5.5v5.44h-5.5zM266.2,102.2h5.5v5.44h-5.5zM349.4,102.2h5.5v5.44h-5.5zM354.9,102.2h5.5v5.44h-5.5zM360.4,102.2h5.5v5.44h-5.5zM377.1,102.2h5.5v5.44h-5.5zM404.8,102.2h5.5v5.44h-5.5zM216.3,107.6h3.4v5.44h-3.4zM223.2,107.6h3.5v5.44h-3.5zM255.2,107.6h5.5v5.44h-5.5zM266.2,107.6h5.5v5.44h-5.5zM271.8,107.6h5.5v5.44h-5.5zM338.3,107.6h5.5v5.44h-5.5zM343.8,107.6h5.5v5.44h-5.5zM410.3,107.6h5.5v5.44h-5.5zM426.9,107.6h5.5v5.44h-5.5zM147.7,113.1h2.4v5.44h-2.4zM209.7,113.1h3.3v5.44h-3.3zM216.3,113.1h3.4v5.44h-3.4zM219.8,113.1h3.5v5.44h-3.5zM238.5,113.1h5.5v5.44h-5.5zM249.6,113.1h5.5v5.44h-5.5zM277.3,113.1h5.5v5.44h-5.5zM282.9,113.1h5.5v5.44h-5.5zM299.5,113.1h5.5v5.44h-5.5zM321.6,113.1h5.5v5.44h-5.5zM332.7,113.1h5.5v5.44h-5.5zM360.4,113.1h5.5v5.44h-5.5zM371.5,113.1h5.5v5.44h-5.5zM399.2,113.1h5.5v5.44h-5.5zM421.4,113.1h5.5v5.44h-5.5zM92.5,118.5h1.6v5.44h-1.6zM190.8,118.5h3.0v5.44h-3.0zM206.4,118.5h3.3v5.44h-3.3zM219.8,118.5h3.5v5.44h-3.5zM226.7,118.5h3.6v5.44h-3.6zM238.5,118.5h5.5v5.44h-5.5zM244.1,118.5h5.5v5.44h-5.5zM255.2,118.5h5.5v5.44h-5.5zM305.0,118.5h5.5v5.44h-5.5zM327.2,118.5h5.5v5.44h-5.5zM332.7,118.5h5.5v5.44h-5.5zM343.8,118.5h5.5v5.44h-5.5zM366.0,118.5h5.5v5.44h-5.5zM393.7,118.5h5.5v5.44h-5.5zM421.4,118.5h5.5v5.44h-5.5zM123.3,123.9h2.1v5.44h-2.1zM127.5,123.9h2.1v5.44h-2.1zM157.6,123.9h2.6v5.44h-2.6zM193.8,123.9h3.1v5.44h-3.1zM203.2,123.9h3.2v5.44h-3.2zM206.4,123.9h3.3v5.44h-3.3zM216.3,123.9h3.4v5.44h-3.4zM238.5,123.9h5.5v5.44h-5.5zM249.6,123.9h5.5v5.44h-5.5zM332.7,123.9h5.5v5.44h-5.5zM349.4,123.9h5.5v5.44h-5.5zM354.9,123.9h5.5v5.44h-5.5zM388.1,123.9h5.5v5.44h-5.5zM432.5,123.9h5.5v5.44h-5.5zM117.3,129.4h2.0v5.44h-2.0zM127.5,129.4h2.1v5.44h-2.1zM129.6,129.4h2.1v5.44h-2.1zM145.3,129.4h2.4v5.44h-2.4zM193.8,129.4h3.1v5.44h-3.1zM216.3,129.4h3.4v5.44h-3.4zM219.8,129.4h3.5v5.44h-3.5zM327.2,129.4h5.5v5.44h-5.5zM371.5,129.4h5.5v5.44h-5.5zM432.5,129.4h5.5v5.44h-5.5zM84.8,134.8h1.5v5.44h-1.5zM150.1,134.8h2.4v5.44h-2.4zM193.8,134.8h3.1v5.44h-3.1zM196.9,134.8h3.1v5.44h-3.1zM200.0,134.8h3.2v5.44h-3.2zM206.4,134.8h3.3v5.44h-3.3zM213.0,134.8h3.4v5.44h-3.4zM233.0,134.8h5.5v5.44h-5.5zM266.2,134.8h5.5v5.44h-5.5zM310.6,134.8h5.5v5.44h-5.5zM316.1,134.8h5.5v5.44h-5.5zM321.6,134.8h5.5v5.44h-5.5zM332.7,134.8h5.5v5.44h-5.5zM382.6,134.8h5.5v5.44h-5.5zM173.5,140.2h2.8v5.44h-2.8zM193.8,140.2h3.1v5.44h-3.1zM216.3,140.2h3.4v5.44h-3.4zM238.5,140.2h5.5v5.44h-5.5zM244.1,140.2h5.5v5.44h-5.5zM255.2,140.2h5.5v5.44h-5.5zM305.0,140.2h5.5v5.44h-5.5zM321.6,140.2h5.5v5.44h-5.5zM338.3,140.2h5.5v5.44h-5.5zM366.0,140.2h5.5v5.44h-5.5zM393.7,140.2h5.5v5.44h-5.5zM196.9,145.7h3.1v5.44h-3.1zM200.0,145.7h3.2v5.44h-3.2zM206.4,145.7h3.3v5.44h-3.3zM209.7,145.7h3.3v5.44h-3.3zM233.0,145.7h5.5v5.44h-5.5zM244.1,145.7h5.5v5.44h-5.5zM255.2,145.7h5.5v5.44h-5.5zM299.5,145.7h5.5v5.44h-5.5zM316.1,145.7h5.5v5.44h-5.5zM321.6,145.7h5.5v5.44h-5.5zM393.7,145.7h5.5v5.44h-5.5zM410.3,145.7h5.5v5.44h-5.5zM170.7,151.1h2.7v5.44h-2.7zM196.9,151.1h3.1v5.44h-3.1zM230.3,151.1h2.7v5.44h-2.7zM233.0,151.1h5.5v5.44h-5.5zM282.9,151.1h5.5v5.44h-5.5zM305.0,151.1h5.5v5.44h-5.5zM321.6,151.1h5.5v5.44h-5.5zM332.7,151.1h5.5v5.44h-5.5zM354.9,151.1h5.5v5.44h-5.5zM157.6,156.6h2.6v5.44h-2.6zM196.9,156.6h3.1v5.44h-3.1zM203.2,156.6h3.2v5.44h-3.2zM206.4,156.6h3.3v5.44h-3.3zM213.0,156.6h3.4v5.44h-3.4zM282.9,156.6h5.5v5.44h-5.5zM349.4,156.6h5.5v5.44h-5.5zM354.9,156.6h5.5v5.44h-5.5zM366.0,156.6h5.5v5.44h-5.5zM107.9,162.0h1.8v5.44h-1.8zM193.8,162.0h3.1v5.44h-3.1zM266.2,162.0h5.5v5.44h-5.5zM277.3,162.0h5.5v5.44h-5.5zM338.3,162.0h5.5v5.44h-5.5zM360.4,162.0h5.5v5.44h-5.5zM399.2,162.0h5.5v5.44h-5.5zM404.8,162.0h5.5v5.44h-5.5zM415.8,162.0h5.5v5.44h-5.5zM147.7,167.4h2.4v5.44h-2.4zM203.2,167.4h3.2v5.44h-3.2zM219.8,167.4h3.5v5.44h-3.5zM233.0,167.4h5.5v5.44h-5.5zM299.5,167.4h5.5v5.44h-5.5zM338.3,167.4h5.5v5.44h-5.5zM343.8,167.4h5.5v5.44h-5.5zM377.1,167.4h5.5v5.44h-5.5zM99.1,172.9h1.7v5.44h-1.7zM113.5,172.9h1.9v5.44h-1.9zM213.0,172.9h3.4v5.44h-3.4zM238.5,172.9h5.5v5.44h-5.5zM260.7,172.9h5.5v5.44h-5.5zM271.8,172.9h5.5v5.44h-5.5zM327.2,172.9h5.5v5.44h-5.5zM377.1,172.9h5.5v5.44h-5.5zM432.5,172.9h5.5v5.44h-5.5zM123.3,178.3h2.1v5.44h-2.1zM160.1,178.3h2.6v5.44h-2.6zM193.8,178.3h3.1v5.44h-3.1zM203.2,178.3h3.2v5.44h-3.2zM206.4,178.3h3.3v5.44h-3.3zM209.7,178.3h3.3v5.44h-3.3zM226.7,178.3h3.6v5.44h-3.6zM343.8,178.3h5.5v5.44h-5.5zM410.3,178.3h5.5v5.44h-5.5zM106.1,183.8h1.8v5.44h-1.8zM155.0,183.8h2.5v5.44h-2.5zM213.0,183.8h3.4v5.44h-3.4zM260.7,183.8h5.5v5.44h-5.5zM399.2,183.8h5.5v5.44h-5.5zM432.5,183.8h5.5v5.44h-5.5zM203.2,189.2h3.2v5.44h-3.2zM226.7,189.2h3.6v5.44h-3.6zM233.0,189.2h5.5v5.44h-5.5zM238.5,189.2h5.5v5.44h-5.5zM255.2,189.2h5.5v5.44h-5.5zM321.6,189.2h5.5v5.44h-5.5zM354.9,189.2h5.5v5.44h-5.5zM371.5,189.2h5.5v5.44h-5.5zM230.3,194.6h2.7v5.44h-2.7zM233.0,194.6h5.5v5.44h-5.5zM249.6,194.6h5.5v5.44h-5.5zM299.5,194.6h5.5v5.44h-5.5zM321.6,194.6h5.5v5.44h-5.5zM360.4,194.6h5.5v5.44h-5.5zM366.0,194.6h5.5v5.44h-5.5zM113.5,200.1h1.9v5.44h-1.9zM230.3,200.1h2.7v5.44h-2.7zM310.6,200.1h5.5v5.44h-5.5zM316.1,200.1h5.5v5.44h-5.5zM321.6,200.1h5.5v5.44h-5.5zM206.4,205.5h3.3v5.44h-3.3zM316.1,205.5h5.5v5.44h-5.5zM321.6,205.5h5.5v5.44h-5.5zM332.7,205.5h5.5v5.44h-5.5zM415.8,205.5h5.5v5.44h-5.5zM152.6,210.9h2.5v5.44h-2.5zM181.9,210.9h2.9v5.44h-2.9zM310.6,210.9h5.5v5.44h-5.5zM327.2,210.9h5.5v5.44h-5.5zM388.1,210.9h5.5v5.44h-5.5zM109.7,216.4h1.9v5.44h-1.9zM150.1,216.4h2.4v5.44h-2.4zM233.0,216.4h5.5v5.44h-5.5zM382.6,216.4h5.5v5.44h-5.5zM432.5,216.4h5.5v5.44h-5.5zM244.1,221.8h5.5v5.44h-5.5zM260.7,221.8h5.5v5.44h-5.5zM117.3,227.2h2.0v5.44h-2.0zM203.2,227.2h3.2v5.44h-3.2zM310.6,227.2h5.5v5.44h-5.5zM382.6,227.2h5.5v5.44h-5.5zM399.2,227.2h5.5v5.44h-5.5zM160.1,232.7h2.6v5.44h-2.6zM238.5,232.7h5.5v5.44h-5.5zM421.4,232.7h5.5v5.44h-5.5zM170.7,238.1h2.7v5.44h-2.7zM203.2,238.1h3.2v5.44h-3.2zM399.2,238.1h5.5v5.44h-5.5zM193.8,243.6h3.1v5.44h-3.1zM266.2,243.6h5.5v5.44h-5.5zM310.6,243.6h5.5v5.44h-5.5zM393.7,243.6h5.5v5.44h-5.5zM399.2,243.6h5.5v5.44h-5.5zM213.0,249.0h3.4v5.44h-3.4zM249.6,249.0h5.5v5.44h-5.5zM371.5,249.0h5.5v5.44h-5.5zM377.1,249.0h5.5v5.44h-5.5zM238.5,254.4h5.5v5.44h-5.5zM305.0,254.4h5.5v5.44h-5.5zM332.7,254.4h5.5v5.44h-5.5zM349.4,254.4h5.5v5.44h-5.5zM354.9,254.4h5.5v5.44h-5.5zM393.7,254.4h5.5v5.44h-5.5zM421.4,254.4h5.5v5.44h-5.5zM90.9,259.9h1.6v5.44h-1.6zM316.1,259.9h5.5v5.44h-5.5zM343.8,259.9h5.5v5.44h-5.5zM89.4,265.3h1.6v5.44h-1.6zM100.8,265.3h1.7v5.44h-1.7zM255.2,265.3h5.5v5.44h-5.5zM271.8,265.3h5.5v5.44h-5.5zM299.5,265.3h5.5v5.44h-5.5zM327.2,265.3h5.5v5.44h-5.5zM371.5,265.3h5.5v5.44h-5.5zM399.2,265.3h5.5v5.44h-5.5zM79.0,270.8h1.4v5.44h-1.4zM145.3,270.8h2.4v5.44h-2.4zM193.8,270.8h3.1v5.44h-3.1zM316.1,270.8h5.5v5.44h-5.5zM338.3,270.8h5.5v5.44h-5.5zM343.8,270.8h5.5v5.44h-5.5zM399.2,270.8h5.5v5.44h-5.5zM125.4,276.2h2.1v5.44h-2.1zM143.0,276.2h2.3v5.44h-2.3zM196.9,276.2h3.1v5.44h-3.1zM203.2,276.2h3.2v5.44h-3.2zM233.0,276.2h5.5v5.44h-5.5zM299.5,276.2h5.5v5.44h-5.5zM377.1,276.2h5.5v5.44h-5.5zM426.9,276.2h5.5v5.44h-5.5zM89.4,281.6h1.6v5.44h-1.6zM168.0,281.6h2.7v5.44h-2.7zM203.2,281.6h3.2v5.44h-3.2zM219.8,281.6h3.5v5.44h-3.5zM223.2,281.6h3.5v5.44h-3.5zM321.6,281.6h5.5v5.44h-5.5zM327.2,281.6h5.5v5.44h-5.5zM349.4,281.6h5.5v5.44h-5.5zM366.0,281.6h5.5v5.44h-5.5zM206.4,287.1h3.3v5.44h-3.3zM277.3,287.1h5.5v5.44h-5.5zM410.3,287.1h5.5v5.44h-5.5zM244.1,292.5h5.5v5.44h-5.5zM338.3,292.5h5.5v5.44h-5.5zM366.0,292.5h5.5v5.44h-5.5zM377.1,292.5h5.5v5.44h-5.5zM415.8,292.5h5.5v5.44h-5.5zM354.9,297.9h5.5v5.44h-5.5zM360.4,297.9h5.5v5.44h-5.5zM371.5,297.9h5.5v5.44h-5.5zM410.3,297.9h5.5v5.44h-5.5zM305.0,303.4h5.5v5.44h-5.5zM200.0,308.8h3.2v5.44h-3.2zM209.7,308.8h3.3v5.44h-3.3zM249.6,308.8h5.5v5.44h-5.5zM321.6,308.8h5.5v5.44h-5.5zM360.4,308.8h5.5v5.44h-5.5zM393.7,308.8h5.5v5.44h-5.5zM410.3,308.8h5.5v5.44h-5.5zM271.8,314.2h5.5v5.44h-5.5zM305.0,314.2h5.5v5.44h-5.5zM321.6,314.2h5.5v5.44h-5.5zM338.3,314.2h5.5v5.44h-5.5zM354.9,314.2h5.5v5.44h-5.5zM426.9,314.2h5.5v5.44h-5.5zM140.7,319.7h2.3v5.44h-2.3zM147.7,319.7h2.4v5.44h-2.4zM213.0,319.7h3.4v5.44h-3.4zM238.5,319.7h5.5v5.44h-5.5zM271.8,319.7h5.5v5.44h-5.5zM288.4,319.7h5.5v5.44h-5.5zM316.1,319.7h5.5v5.44h-5.5zM321.6,319.7h5.5v5.44h-5.5zM382.6,319.7h5.5v5.44h-5.5zM216.3,325.1h3.4v5.44h-3.4zM249.6,325.1h5.5v5.44h-5.5zM321.6,325.1h5.5v5.44h-5.5zM393.7,325.1h5.5v5.44h-5.5zM399.2,325.1h5.5v5.44h-5.5zM404.8,325.1h5.5v5.44h-5.5zM219.8,330.6h3.5v5.44h-3.5zM266.2,330.6h5.5v5.44h-5.5zM371.5,330.6h5.5v5.44h-5.5zM421.4,330.6h5.5v5.44h-5.5zM426.9,330.6h5.5v5.44h-5.5zM125.4,336.0h2.1v5.44h-2.1zM230.3,336.0h2.7v5.44h-2.7zM288.4,336.0h5.5v5.44h-5.5zM338.3,336.0h5.5v5.44h-5.5zM354.9,336.0h5.5v5.44h-5.5zM371.5,336.0h5.5v5.44h-5.5zM399.2,336.0h5.5v5.44h-5.5zM152.6,341.4h2.5v5.44h-2.5zM343.8,341.4h5.5v5.44h-5.5zM354.9,341.4h5.5v5.44h-5.5zM133.9,346.9h2.2v5.44h-2.2zM338.3,346.9h5.5v5.44h-5.5zM366.0,346.9h5.5v5.44h-5.5zM113.5,352.3h1.9v5.44h-1.9zM123.3,352.3h2.1v5.44h-2.1zM136.1,352.3h2.2v5.44h-2.2zM165.3,352.3h2.7v5.44h-2.7zM354.9,352.3h5.5v5.44h-5.5zM415.8,352.3h5.5v5.44h-5.5zM426.9,352.3h5.5v5.44h-5.5zM123.3,357.8h2.1v5.44h-2.1zM216.3,357.8h3.4v5.44h-3.4zM238.5,357.8h5.5v5.44h-5.5zM282.9,357.8h5.5v5.44h-5.5zM321.6,357.8h5.5v5.44h-5.5zM343.8,357.8h5.5v5.44h-5.5zM426.9,357.8h5.5v5.44h-5.5zM162.7,363.2h2.6v5.44h-2.6zM219.8,363.2h3.5v5.44h-3.5zM238.5,363.2h5.5v5.44h-5.5zM360.4,363.2h5.5v5.44h-5.5zM157.6,368.6h2.6v5.44h-2.6zM260.7,368.6h5.5v5.44h-5.5zM371.5,368.6h5.5v5.44h-5.5zM404.8,368.6h5.5v5.44h-5.5zM193.8,374.1h3.1v5.44h-3.1zM200.0,374.1h3.2v5.44h-3.2zM244.1,374.1h5.5v5.44h-5.5zM249.6,374.1h5.5v5.44h-5.5zM277.3,374.1h5.5v5.44h-5.5zM321.6,374.1h5.5v5.44h-5.5zM360.4,374.1h5.5v5.44h-5.5zM366.0,374.1h5.5v5.44h-5.5zM244.1,379.5h5.5v5.44h-5.5zM310.6,379.5h5.5v5.44h-5.5zM371.5,379.5h5.5v5.44h-5.5zM377.1,379.5h5.5v5.44h-5.5zM404.8,379.5h5.5v5.44h-5.5zM143.0,384.9h2.3v5.44h-2.3zM203.2,384.9h3.2v5.44h-3.2zM360.4,384.9h5.5v5.44h-5.5zM316.1,390.4h5.5v5.44h-5.5zM349.4,390.4h5.5v5.44h-5.5zM382.6,390.4h5.5v5.44h-5.5zM129.6,395.8h2.1v5.44h-2.1zM209.7,395.8h3.3v5.44h-3.3zM316.1,395.8h5.5v5.44h-5.5zM426.9,395.8h5.5v5.44h-5.5zM106.1,401.2h1.8v5.44h-1.8zM260.7,401.2h5.5v5.44h-5.5zM360.4,401.2h5.5v5.44h-5.5zM371.5,401.2h5.5v5.44h-5.5zM415.8,401.2h5.5v5.44h-5.5zM371.5,406.7h5.5v5.44h-5.5zM382.6,406.7h5.5v5.44h-5.5zM152.6,412.1h2.5v5.44h-2.5zM327.2,412.1h5.5v5.44h-5.5zM332.7,412.1h5.5v5.44h-5.5zM388.1,412.1h5.5v5.44h-5.5zM209.7,417.6h3.3v5.44h-3.3zM377.1,417.6h5.5v5.44h-5.5zM196.9,423.0h3.1v5.44h-3.1zM305.0,423.0h5.5v5.44h-5.5zM338.3,423.0h5.5v5.44h-5.5zM399.2,423.0h5.5v5.44h-5.5zM410.3,423.0h5.5v5.44h-5.5zM233.0,428.4h5.5v5.44h-5.5zM288.4,428.4h5.5v5.44h-5.5zM349.4,428.4h5.5v5.44h-5.5zM152.6,433.9h2.5v5.44h-2.5zM193.8,433.9h3.1v5.44h-3.1zM238.5,433.9h5.5v5.44h-5.5zM288.4,433.9h5.5v5.44h-5.5zM426.9,433.9h5.5v5.44h-5.5zM432.5,433.9h5.5v5.44h-5.5zM213.0,439.3h3.4v5.44h-3.4zM255.2,439.3h5.5v5.44h-5.5zM321.6,439.3h5.5v5.44h-5.5zM332.7,439.3h5.5v5.44h-5.5zM338.3,439.3h5.5v5.44h-5.5zM343.8,439.3h5.5v5.44h-5.5zM371.5,439.3h5.5v5.44h-5.5zM382.6,439.3h5.5v5.44h-5.5zM196.9,444.8h3.1v5.44h-3.1zM399.2,444.8h5.5v5.44h-5.5zM415.8,444.8h5.5v5.44h-5.5zM305.0,450.2h5.5v5.44h-5.5zM377.1,450.2h5.5v5.44h-5.5zM145.3,455.6h2.4v5.44h-2.4zM200.0,455.6h3.2v5.44h-3.2zM249.6,455.6h5.5v5.44h-5.5zM415.8,455.6h5.5v5.44h-5.5zM147.7,461.1h2.4v5.44h-2.4zM152.6,466.5h2.5v5.44h-2.5zM200.0,466.5h3.2v5.44h-3.2zM288.4,466.5h5.5v5.44h-5.5zM338.3,471.9h5.5v5.44h-5.5zM393.7,471.9h5.5v5.44h-5.5zM399.2,471.9h5.5v5.44h-5.5zM143.0,477.4h2.3v5.44h-2.3zM209.7,477.4h3.3v5.44h-3.3zM249.6,477.4h5.5v5.44h-5.5zM332.7,477.4h5.5v5.44h-5.5zM196.9,482.8h3.1v5.44h-3.1zM271.8,482.8h5.5v5.44h-5.5zM349.4,482.8h5.5v5.44h-5.5zM388.1,482.8h5.5v5.44h-5.5zM299.5,488.2h5.5v5.44h-5.5zM305.0,488.2h5.5v5.44h-5.5zM371.5,488.2h5.5v5.44h-5.5zM393.7,488.2h5.5v5.44h-5.5zM399.2,488.2h5.5v5.44h-5.5zM203.2,493.7h3.2v5.44h-3.2zM209.7,493.7h3.3v5.44h-3.3zM223.2,493.7h3.5v5.44h-3.5zM230.3,493.7h2.7v5.44h-2.7zM238.5,493.7h5.5v5.44h-5.5zM133.9,499.1h2.2v5.44h-2.2zM216.3,499.1h3.4v5.44h-3.4zM327.2,499.1h5.5v5.44h-5.5zM360.4,499.1h5.5v5.44h-5.5zM393.7,499.1h5.5v5.44h-5.5zM410.3,499.1h5.5v5.44h-5.5zM79.0,504.6h1.4v5.44h-1.4zM111.6,504.6h1.9v5.44h-1.9zM131.7,504.6h2.2v5.44h-2.2zM282.9,504.6h5.5v5.44h-5.5zM316.1,504.6h5.5v5.44h-5.5zM388.1,504.6h5.5v5.44h-5.5z"/>
<path fill="#090909" d="M150.1,75.0h2.4v5.44h-2.4zM165.3,75.0h2.7v5.44h-2.7zM155.0,96.8h2.5v5.44h-2.5zM125.4,102.2h2.1v5.44h-2.1zM495.9,102.2h11.6v5.44h-11.6zM519.0,102.2h11.6v5.44h-11.6zM179.1,107.6h2.9v5.44h-2.9zM438.0,107.6h11.6v5.44h-11.6zM519.0,107.6h11.6v5.44h-11.6zM84.8,113.1h1.5v5.44h-1.5zM530.6,113.1h11.6v5.44h-11.6zM100.8,118.5h1.7v5.44h-1.7zM119.3,118.5h2.0v5.44h-2.0zM152.6,118.5h2.5v5.44h-2.5zM92.5,123.9h1.6v5.44h-1.6zM472.7,134.8h11.6v5.44h-11.6zM507.4,134.8h11.6v5.44h-11.6zM165.3,140.2h2.7v5.44h-2.7zM507.4,140.2h11.6v5.44h-11.6zM150.1,151.1h2.4v5.44h-2.4zM519.0,151.1h11.6v5.44h-11.6zM79.0,162.0h1.4v5.44h-1.4zM438.0,162.0h11.6v5.44h-11.6zM438.0,172.9h11.6v5.44h-11.6zM530.6,172.9h11.6v5.44h-11.6zM106.1,178.3h1.8v5.44h-1.8zM150.1,178.3h2.4v5.44h-2.4zM565.3,183.8h11.6v5.44h-11.6zM519.0,194.6h11.6v5.44h-11.6zM553.7,194.6h11.6v5.44h-11.6zM553.7,200.1h11.6v5.44h-11.6zM131.7,205.5h2.2v5.44h-2.2zM576.9,205.5h11.6v5.44h-11.6zM461.1,210.9h11.6v5.44h-11.6zM495.9,210.9h11.6v5.44h-11.6zM519.0,210.9h11.6v5.44h-11.6zM179.1,221.8h2.9v5.44h-2.9zM588.4,221.8h11.6v5.44h-11.6zM113.5,227.2h1.9v5.44h-1.9zM553.7,227.2h11.6v5.44h-11.6zM102.5,232.7h1.8v5.44h-1.8zM173.5,232.7h2.8v5.44h-2.8zM519.0,232.7h11.6v5.44h-11.6zM133.9,238.1h2.2v5.44h-2.2zM117.3,243.6h2.0v5.44h-2.0zM553.7,243.6h11.6v5.44h-11.6zM576.9,243.6h11.6v5.44h-11.6zM95.8,249.0h1.7v5.44h-1.7zM106.1,254.4h1.8v5.44h-1.8zM138.4,254.4h2.3v5.44h-2.3zM140.7,254.4h2.3v5.44h-2.3zM553.7,254.4h11.6v5.44h-11.6zM89.4,259.9h1.6v5.44h-1.6zM106.1,259.9h1.8v5.44h-1.8zM530.6,259.9h11.6v5.44h-11.6zM542.1,259.9h11.6v5.44h-11.6zM97.4,265.3h1.7v5.44h-1.7zM125.4,265.3h2.1v5.44h-2.1zM155.0,270.8h2.5v5.44h-2.5zM157.6,270.8h2.6v5.44h-2.6zM495.9,270.8h11.6v5.44h-11.6zM565.3,270.8h11.6v5.44h-11.6zM472.7,276.2h11.6v5.44h-11.6zM147.7,287.1h2.4v5.44h-2.4zM152.6,287.1h2.5v5.44h-2.5zM565.3,287.1h11.6v5.44h-11.6zM576.9,287.1h11.6v5.44h-11.6zM89.4,292.5h1.6v5.44h-1.6zM565.3,292.5h11.6v5.44h-11.6zM576.9,292.5h11.6v5.44h-11.6zM438.0,297.9h11.6v5.44h-11.6zM115.4,303.4h1.9v5.44h-1.9zM121.3,303.4h2.0v5.44h-2.0zM143.0,303.4h2.3v5.44h-2.3zM542.1,303.4h11.6v5.44h-11.6zM138.4,308.8h2.3v5.44h-2.3zM152.6,308.8h2.5v5.44h-2.5zM553.7,308.8h11.6v5.44h-11.6zM588.4,308.8h11.6v5.44h-11.6zM145.3,314.2h2.4v5.44h-2.4zM438.0,314.2h11.6v5.44h-11.6zM507.4,314.2h11.6v5.44h-11.6zM588.4,314.2h11.6v5.44h-11.6zM121.3,319.7h2.0v5.44h-2.0zM542.1,319.7h11.6v5.44h-11.6zM565.3,319.7h11.6v5.44h-11.6zM127.5,330.6h2.1v5.44h-2.1zM449.6,330.6h11.6v5.44h-11.6zM553.7,336.0h11.6v5.44h-11.6zM565.3,336.0h11.6v5.44h-11.6zM588.4,336.0h11.6v5.44h-11.6zM438.0,341.4h11.6v5.44h-11.6zM495.9,341.4h11.6v5.44h-11.6zM542.1,341.4h11.6v5.44h-11.6zM553.7,341.4h11.6v5.44h-11.6zM119.3,346.9h2.0v5.44h-2.0zM461.1,352.3h11.6v5.44h-11.6zM495.9,352.3h11.6v5.44h-11.6zM162.7,357.8h2.6v5.44h-2.6zM507.4,357.8h11.6v5.44h-11.6zM155.0,363.2h2.5v5.44h-2.5zM565.3,363.2h11.6v5.44h-11.6zM588.4,368.6h11.6v5.44h-11.6zM138.4,374.1h2.3v5.44h-2.3zM140.7,374.1h2.3v5.44h-2.3zM565.3,374.1h11.6v5.44h-11.6zM145.3,379.5h2.4v5.44h-2.4zM519.0,379.5h11.6v5.44h-11.6zM588.4,379.5h11.6v5.44h-11.6zM125.4,384.9h2.1v5.44h-2.1zM495.9,384.9h11.6v5.44h-11.6zM553.7,384.9h11.6v5.44h-11.6zM495.9,390.4h11.6v5.44h-11.6zM576.9,390.4h11.6v5.44h-11.6zM519.0,395.8h11.6v5.44h-11.6zM542.1,395.8h11.6v5.44h-11.6zM576.9,401.2h11.6v5.44h-11.6zM565.3,412.1h11.6v5.44h-11.6zM157.6,417.6h2.6v5.44h-2.6zM170.7,417.6h2.7v5.44h-2.7zM576.9,417.6h11.6v5.44h-11.6zM123.3,433.9h2.1v5.44h-2.1zM542.1,433.9h11.6v5.44h-11.6zM83.3,439.3h1.5v5.44h-1.5zM449.6,439.3h11.6v5.44h-11.6zM553.7,439.3h11.6v5.44h-11.6zM542.1,444.8h11.6v5.44h-11.6zM588.4,444.8h11.6v5.44h-11.6zM565.3,450.2h11.6v5.44h-11.6zM438.0,455.6h11.6v5.44h-11.6zM576.9,455.6h11.6v5.44h-11.6zM143.0,461.1h2.3v5.44h-2.3zM152.6,461.1h2.5v5.44h-2.5zM461.1,461.1h11.6v5.44h-11.6zM553.7,466.5h11.6v5.44h-11.6zM588.4,471.9h11.6v5.44h-11.6zM530.6,477.4h11.6v5.44h-11.6zM136.1,482.8h2.2v5.44h-2.2zM553.7,482.8h11.6v5.44h-11.6zM133.9,493.7h2.2v5.44h-2.2zM542.1,493.7h11.6v5.44h-11.6zM495.9,499.1h11.6v5.44h-11.6zM553.7,499.1h11.6v5.44h-11.6zM576.9,499.1h11.6v5.44h-11.6zM119.3,504.6h2.0v5.44h-2.0zM507.4,504.6h11.6v5.44h-11.6z"/>
<path fill="#0a0a0a" d="M119.3,75.0h2.0v5.44h-2.0zM140.7,80.4h2.3v5.44h-2.3zM111.6,85.9h1.9v5.44h-1.9zM160.1,91.3h2.6v5.44h-2.6zM173.5,91.3h2.8v5.44h-2.8zM99.1,96.8h1.7v5.44h-1.7zM123.3,102.2h2.1v5.44h-2.1zM449.6,102.2h11.6v5.44h-11.6zM168.0,113.1h2.7v5.44h-2.7zM461.1,113.1h11.6v5.44h-11.6zM530.6,118.5h11.6v5.44h-11.6zM102.5,123.9h1.8v5.44h-1.8zM131.7,123.9h2.2v5.44h-2.2zM461.1,123.9h11.6v5.44h-11.6zM495.9,123.9h11.6v5.44h-11.6zM530.6,123.9h11.6v5.44h-11.6zM472.7,129.4h11.6v5.44h-11.6zM519.0,129.4h11.6v5.44h-11.6zM90.9,134.8h1.6v5.44h-1.6zM530.6,134.8h11.6v5.44h-11.6zM484.3,140.2h11.6v5.44h-11.6zM542.1,140.2h11.6v5.44h-11.6zM461.1,145.7h11.6v5.44h-11.6zM530.6,145.7h11.6v5.44h-11.6zM542.1,156.6h11.6v5.44h-11.6zM173.5,162.0h2.8v5.44h-2.8zM461.1,162.0h11.6v5.44h-11.6zM507.4,162.0h11.6v5.44h-11.6zM553.7,162.0h11.6v5.44h-11.6zM449.6,167.4h11.6v5.44h-11.6zM495.9,167.4h11.6v5.44h-11.6zM553.7,167.4h11.6v5.44h-11.6zM106.1,172.9h1.8v5.44h-1.8zM133.9,172.9h2.2v5.44h-2.2zM484.3,172.9h11.6v5.44h-11.6zM519.0,172.9h11.6v5.44h-11.6zM542.1,172.9h11.6v5.44h-11.6zM553.7,172.9h11.6v5.44h-11.6zM107.9,178.3h1.8v5.44h-1.8zM162.7,178.3h2.6v5.44h-2.6zM542.1,178.3h11.6v5.44h-11.6zM553.7,178.3h11.6v5.44h-11.6zM461.1,183.8h11.6v5.44h-11.6zM495.9,183.8h11.6v5.44h-11.6zM127.5,189.2h2.1v5.44h-2.1zM542.1,189.2h11.6v5.44h-11.6zM553.7,189.2h11.6v5.44h-11.6zM438.0,194.6h11.6v5.44h-11.6zM565.3,194.6h11.6v5.44h-11.6zM81.9,205.5h1.5v5.44h-1.5zM179.1,205.5h2.9v5.44h-2.9zM553.7,205.5h11.6v5.44h-11.6zM565.3,205.5h11.6v5.44h-11.6zM138.4,210.9h2.3v5.44h-2.3zM553.7,210.9h11.6v5.44h-11.6zM576.9,210.9h11.6v5.44h-11.6zM133.9,216.4h2.2v5.44h-2.2zM576.9,216.4h11.6v5.44h-11.6zM79.0,221.8h1.4v5.44h-1.4zM129.6,227.2h2.1v5.44h-2.1zM157.6,227.2h2.6v5.44h-2.6zM187.8,227.2h3.0v5.44h-3.0zM449.6,227.2h11.6v5.44h-11.6zM484.3,227.2h11.6v5.44h-11.6zM565.3,227.2h11.6v5.44h-11.6zM89.4,238.1h1.6v5.44h-1.6zM530.6,238.1h11.6v5.44h-11.6zM576.9,238.1h11.6v5.44h-11.6zM588.4,238.1h11.6v5.44h-11.6zM438.0,243.6h11.6v5.44h-11.6zM81.9,249.0h1.5v5.44h-1.5zM125.4,249.0h2.1v5.44h-2.1zM176.2,249.0h2.8v5.44h-2.8zM553.7,249.0h11.6v5.44h-11.6zM588.4,249.0h11.6v5.44h-11.6zM152.6,254.4h2.5v5.44h-2.5zM576.9,254.4h11.6v5.44h-11.6zM127.5,259.9h2.1v5.44h-2.1zM179.1,259.9h2.9v5.44h-2.9zM461.1,259.9h11.6v5.44h-11.6zM565.3,259.9h11.6v5.44h-11.6zM576.9,259.9h11.6v5.44h-11.6zM553.7,265.3h11.6v5.44h-11.6zM542.1,270.8h11.6v5.44h-11.6zM553.7,270.8h11.6v5.44h-11.6zM449.6,276.2h11.6v5.44h-11.6zM507.4,276.2h11.6v5.44h-11.6zM553.7,276.2h11.6v5.44h-11.6zM565.3,276.2h11.6v5.44h-11.6zM106.1,281.6h1.8v5.44h-1.8zM472.7,281.6h11.6v5.44h-11.6zM542.1,281.6h11.6v5.44h-11.6zM576.9,281.6h11.6v5.44h-11.6zM542.1,287.1h11.6v5.44h-11.6zM565.3,297.9h11.6v5.44h-11.6zM588.4,297.9h11.6v5.44h-11.6zM119.3,303.4h2.0v5.44h-2.0zM133.9,303.4h2.2v5.44h-2.2zM553.7,303.4h11.6v5.44h-11.6zM565.3,303.4h11.6v5.44h-11.6zM588.4,303.4h11.6v5.44h-11.6zM95.8,308.8h1.7v5.44h-1.7zM155.0,308.8h2.5v5.44h-2.5zM542.1,314.2h11.6v5.44h-11.6zM136.1,319.7h2.2v5.44h-2.2zM472.7,319.7h11.6v5.44h-11.6zM588.4,319.7h11.6v5.44h-11.6zM170.7,325.1h2.7v5.44h-2.7zM461.1,325.1h11.6v5.44h-11.6zM542.1,325.1h11.6v5.44h-11.6zM553.7,325.1h11.6v5.44h-11.6zM588.4,325.1h11.6v5.44h-11.6zM530.6,330.6h11.6v5.44h-11.6zM530.6,336.0h11.6v5.44h-11.6zM576.9,336.0h11.6v5.44h-11.6zM79.0,341.4h1.4v5.44h-1.4zM86.3,341.4h1.5v5.44h-1.5zM162.7,341.4h2.6v5.44h-2.6zM449.6,341.4h11.6v5.44h-11.6zM565.3,352.3h11.6v5.44h-11.6zM588.4,352.3h11.6v5.44h-11.6zM173.5,357.8h2.8v5.44h-2.8zM179.1,357.8h2.9v5.44h-2.9zM484.3,357.8h11.6v5.44h-11.6zM542.1,357.8h11.6v5.44h-11.6zM588.4,357.8h11.6v5.44h-11.6zM140.7,363.2h2.3v5.44h-2.3zM542.1,363.2h11.6v5.44h-11.6zM173.5,368.6h2.8v5.44h-2.8zM530.6,368.6h11.6v5.44h-11.6zM542.1,368.6h11.6v5.44h-11.6zM484.3,374.1h11.6v5.44h-11.6zM519.0,374.1h11.6v5.44h-11.6zM530.6,374.1h11.6v5.44h-11.6zM588.4,374.1h11.6v5.44h-11.6zM127.5,379.5h2.1v5.44h-2.1zM565.3,379.5h11.6v5.44h-11.6zM542.1,384.9h11.6v5.44h-11.6zM576.9,384.9h11.6v5.44h-11.6zM588.4,384.9h11.6v5.44h-11.6zM136.1,390.4h2.2v5.44h-2.2zM155.0,390.4h2.5v5.44h-2.5zM160.1,390.4h2.6v5.44h-2.6zM449.6,390.4h11.6v5.44h-11.6zM495.9,395.8h11.6v5.44h-11.6zM553.7,395.8h11.6v5.44h-11.6zM553.7,401.2h11.6v5.44h-11.6zM113.5,406.7h1.9v5.44h-1.9zM449.6,406.7h11.6v5.44h-11.6zM519.0,406.7h11.6v5.44h-11.6zM143.0,412.1h2.3v5.44h-2.3zM472.7,412.1h11.6v5.44h-11.6zM507.4,412.1h11.6v5.44h-11.6zM576.9,412.1h11.6v5.44h-11.6zM588.4,412.1h11.6v5.44h-11.6zM89.4,417.6h1.6v5.44h-1.6zM143.0,417.6h2.3v5.44h-2.3zM484.3,417.6h11.6v5.44h-11.6zM140.7,423.0h2.3v5.44h-2.3zM553.7,423.0h11.6v5.44h-11.6zM179.1,428.4h2.9v5.44h-2.9zM576.9,428.4h11.6v5.44h-11.6zM553.7,433.9h11.6v5.44h-11.6zM588.4,433.9h11.6v5.44h-11.6zM125.4,439.3h2.1v5.44h-2.1zM173.5,439.3h2.8v5.44h-2.8zM147.7,444.8h2.4v5.44h-2.4zM484.3,444.8h11.6v5.44h-11.6zM507.4,444.8h11.6v5.44h-11.6zM565.3,444.8h11.6v5.44h-11.6zM576.9,444.8h11.6v5.44h-11.6zM145.3,450.2h2.4v5.44h-2.4zM519.0,450.2h11.6v5.44h-11.6zM553.7,450.2h11.6v5.44h-11.6zM576.9,450.2h11.6v5.44h-11.6zM588.4,450.2h11.6v5.44h-11.6zM530.6,455.6h11.6v5.44h-11.6zM484.3,461.1h11.6v5.44h-11.6zM133.9,466.5h2.2v5.44h-2.2zM484.3,466.5h11.6v5.44h-11.6zM495.9,466.5h11.6v5.44h-11.6zM576.9,466.5h11.6v5.44h-11.6zM588.4,466.5h11.6v5.44h-11.6zM115.4,471.9h1.9v5.44h-1.9zM472.7,471.9h11.6v5.44h-11.6zM565.3,471.9h11.6v5.44h-11.6zM542.1,477.4h11.6v5.44h-11.6zM565.3,477.4h11.6v5.44h-11.6zM576.9,477.4h11.6v5.44h-11.6zM133.9,482.8h2.2v5.44h-2.2zM140.7,482.8h2.3v5.44h-2.3zM119.3,488.2h2.0v5.44h-2.0zM553.7,488.2h11.6v5.44h-11.6zM553.7,493.7h11.6v5.44h-11.6zM136.1,499.1h2.2v5.44h-2.2zM565.3,499.1h11.6v5.44h-11.6zM449.6,504.6h11.6v5.44h-11.6zM461.1,504.6h11.6v5.44h-11.6zM530.6,504.6h11.6v5.44h-11.6z"/>
<path fill="#0b0b0b" d="M84.8,96.8h1.5v5.44h-1.5zM111.6,102.2h1.9v5.44h-1.9zM438.0,102.2h11.6v5.44h-11.6zM472.7,102.2h11.6v5.44h-11.6zM507.4,102.2h11.6v5.44h-11.6zM157.6,107.6h2.6v5.44h-2.6zM484.3,107.6h11.6v5.44h-11.6zM438.0,113.1h11.6v5.44h-11.6zM495.9,113.1h11.6v5.44h-11.6zM507.4,113.1h11.6v5.44h-11.6zM519.0,113.1h11.6v5.44h-11.6zM484.3,118.5h11.6v5.44h-11.6zM507.4,118.5h11.6v5.44h-11.6zM519.0,118.5h11.6v5.44h-11.6zM472.7,123.9h11.6v5.44h-11.6zM507.4,123.9h11.6v5.44h-11.6zM530.6,129.4h11.6v5.44h-11.6zM495.9,134.8h11.6v5.44h-11.6zM542.1,134.8h11.6v5.44h-11.6zM449.6,140.2h11.6v5.44h-11.6zM519.0,140.2h11.6v5.44h-11.6zM530.6,140.2h11.6v5.44h-11.6zM438.0,145.7h11.6v5.44h-11.6zM542.1,145.7h11.6v5.44h-11.6zM84.8,151.1h1.5v5.44h-1.5zM123.3,151.1h2.1v5.44h-2.1zM449.6,151.1h11.6v5.44h-11.6zM542.1,151.1h11.6v5.44h-11.6zM507.4,156.6h11.6v5.44h-11.6zM530.6,156.6h11.6v5.44h-11.6zM553.7,156.6h11.6v5.44h-11.6zM530.6,162.0h11.6v5.44h-11.6zM138.4,167.4h2.3v5.44h-2.3zM155.0,167.4h2.5v5.44h-2.5zM519.0,167.4h11.6v5.44h-11.6zM150.1,172.9h2.4v5.44h-2.4zM449.6,178.3h11.6v5.44h-11.6zM461.1,178.3h11.6v5.44h-11.6zM484.3,178.3h11.6v5.44h-11.6zM495.9,178.3h11.6v5.44h-11.6zM530.6,178.3h11.6v5.44h-11.6zM565.3,178.3h11.6v5.44h-11.6zM107.9,183.8h1.8v5.44h-1.8zM138.4,183.8h2.3v5.44h-2.3zM472.7,183.8h11.6v5.44h-11.6zM542.1,183.8h11.6v5.44h-11.6zM553.7,183.8h11.6v5.44h-11.6zM461.1,189.2h11.6v5.44h-11.6zM495.9,189.2h11.6v5.44h-11.6zM565.3,189.2h11.6v5.44h-11.6zM484.3,194.6h11.6v5.44h-11.6zM542.1,194.6h11.6v5.44h-11.6zM143.0,200.1h2.3v5.44h-2.3zM461.1,200.1h11.6v5.44h-11.6zM565.3,200.1h11.6v5.44h-11.6zM576.9,200.1h11.6v5.44h-11.6zM150.1,205.5h2.4v5.44h-2.4zM472.7,210.9h11.6v5.44h-11.6zM565.3,210.9h11.6v5.44h-11.6zM461.1,216.4h11.6v5.44h-11.6zM472.7,216.4h11.6v5.44h-11.6zM519.0,216.4h11.6v5.44h-11.6zM542.1,216.4h11.6v5.44h-11.6zM553.7,216.4h11.6v5.44h-11.6zM565.3,216.4h11.6v5.44h-11.6zM438.0,221.8h11.6v5.44h-11.6zM484.3,221.8h11.6v5.44h-11.6zM495.9,221.8h11.6v5.44h-11.6zM542.1,221.8h11.6v5.44h-11.6zM553.7,221.8h11.6v5.44h-11.6zM576.9,221.8h11.6v5.44h-11.6zM138.4,227.2h2.3v5.44h-2.3zM472.7,227.2h11.6v5.44h-11.6zM576.9,227.2h11.6v5.44h-11.6zM588.4,227.2h11.6v5.44h-11.6zM152.6,232.7h2.5v5.44h-2.5zM438.0,232.7h11.6v5.44h-11.6zM495.9,232.7h11.6v5.44h-11.6zM542.1,232.7h11.6v5.44h-11.6zM565.3,232.7h11.6v5.44h-11.6zM438.0,238.1h11.6v5.44h-11.6zM472.7,238.1h11.6v5.44h-11.6zM530.6,243.6h11.6v5.44h-11.6zM588.4,243.6h11.6v5.44h-11.6zM519.0,249.0h11.6v5.44h-11.6zM179.1,254.4h2.9v5.44h-2.9zM495.9,254.4h11.6v5.44h-11.6zM145.3,259.9h2.4v5.44h-2.4zM553.7,259.9h11.6v5.44h-11.6zM109.7,265.3h1.9v5.44h-1.9zM140.7,265.3h2.3v5.44h-2.3zM176.2,265.3h2.8v5.44h-2.8zM542.1,265.3h11.6v5.44h-11.6zM565.3,265.3h11.6v5.44h-11.6zM576.9,265.3h11.6v5.44h-11.6zM162.7,270.8h2.6v5.44h-2.6zM170.7,270.8h2.7v5.44h-2.7zM181.9,270.8h2.9v5.44h-2.9zM438.0,270.8h11.6v5.44h-11.6zM484.3,270.8h11.6v5.44h-11.6zM576.9,270.8h11.6v5.44h-11.6zM157.6,276.2h2.6v5.44h-2.6zM576.9,276.2h11.6v5.44h-11.6zM184.8,281.6h3.0v5.44h-3.0zM553.7,281.6h11.6v5.44h-11.6zM125.4,287.1h2.1v5.44h-2.1zM187.8,287.1h3.0v5.44h-3.0zM461.1,287.1h11.6v5.44h-11.6zM530.6,292.5h11.6v5.44h-11.6zM140.7,297.9h2.3v5.44h-2.3zM530.6,297.9h11.6v5.44h-11.6zM519.0,303.4h11.6v5.44h-11.6zM449.6,308.8h11.6v5.44h-11.6zM89.4,314.2h1.6v5.44h-1.6zM102.5,314.2h1.8v5.44h-1.8zM530.6,314.2h11.6v5.44h-11.6zM576.9,314.2h11.6v5.44h-11.6zM168.0,319.7h2.7v5.44h-2.7zM530.6,319.7h11.6v5.44h-11.6zM553.7,319.7h11.6v5.44h-11.6zM576.9,325.1h11.6v5.44h-11.6zM145.3,330.6h2.4v5.44h-2.4zM173.5,336.0h2.8v5.44h-2.8zM131.7,341.4h2.2v5.44h-2.2zM565.3,341.4h11.6v5.44h-11.6zM152.6,346.9h2.5v5.44h-2.5zM519.0,346.9h11.6v5.44h-11.6zM565.3,346.9h11.6v5.44h-11.6zM588.4,346.9h11.6v5.44h-11.6zM87.8,352.3h1.5v5.44h-1.5zM542.1,352.3h11.6v5.44h-11.6zM576.9,352.3h11.6v5.44h-11.6zM113.5,357.8h1.9v5.44h-1.9zM553.7,357.8h11.6v5.44h-11.6zM565.3,357.8h11.6v5.44h-11.6zM143.0,363.2h2.3v5.44h-2.3zM484.3,363.2h11.6v5.44h-11.6zM576.9,363.2h11.6v5.44h-11.6zM565.3,368.6h11.6v5.44h-11.6zM576.9,368.6h11.6v5.44h-11.6zM472.7,374.1h11.6v5.44h-11.6zM542.1,374.1h11.6v5.44h-11.6zM553.7,374.1h11.6v5.44h-11.6zM119.3,379.5h2.0v5.44h-2.0zM461.1,379.5h11.6v5.44h-11.6zM553.7,379.5h11.6v5.44h-11.6zM155.0,384.9h2.5v5.44h-2.5zM461.1,384.9h11.6v5.44h-11.6zM484.3,384.9h11.6v5.44h-11.6zM507.4,384.9h11.6v5.44h-11.6zM565.3,384.9h11.6v5.44h-11.6zM111.6,390.4h1.9v5.44h-1.9zM129.6,390.4h2.1v5.44h-2.1zM162.7,390.4h2.6v5.44h-2.6zM170.7,390.4h2.7v5.44h-2.7zM565.3,390.4h11.6v5.44h-11.6zM542.1,401.2h11.6v5.44h-11.6zM542.1,406.7h11.6v5.44h-11.6zM565.3,406.7h11.6v5.44h-11.6zM588.4,406.7h11.6v5.44h-11.6zM461.1,412.1h11.6v5.44h-11.6zM530.6,417.6h11.6v5.44h-11.6zM565.3,417.6h11.6v5.44h-11.6zM588.4,417.6h11.6v5.44h-11.6zM125.4,423.0h2.1v5.44h-2.1zM484.3,423.0h11.6v5.44h-11.6zM542.1,423.0h11.6v5.44h-11.6zM588.4,423.0h11.6v5.44h-11.6zM588.4,428.4h11.6v5.44h-11.6zM83.3,433.9h1.5v5.44h-1.5zM127.5,439.3h2.1v5.44h-2.1zM111.6,444.8h1.9v5.44h-1.9zM461.1,444.8h11.6v5.44h-11.6zM519.0,444.8h11.6v5.44h-11.6zM553.7,444.8h11.6v5.44h-11.6zM542.1,450.2h11.6v5.44h-11.6zM136.1,455.6h2.2v5.44h-2.2zM449.6,455.6h11.6v5.44h-11.6zM565.3,455.6h11.6v5.44h-11.6zM472.7,461.1h11.6v5.44h-11.6zM576.9,461.1h11.6v5.44h-11.6zM507.4,466.5h11.6v5.44h-11.6zM131.7,471.9h2.2v5.44h-2.2zM140.7,471.9h2.3v5.44h-2.3zM576.9,471.9h11.6v5.44h-11.6zM140.7,477.4h2.3v5.44h-2.3zM519.0,482.8h11.6v5.44h-11.6zM542.1,482.8h11.6v5.44h-11.6zM565.3,482.8h11.6v5.44h-11.6zM588.4,488.2h11.6v5.44h-11.6zM150.1,493.7h2.4v5.44h-2.4zM157.6,493.7h2.6v5.44h-2.6zM449.6,493.7h11.6v5.44h-11.6zM152.6,499.1h2.5v5.44h-2.5zM461.1,499.1h11.6v5.44h-11.6zM472.7,499.1h11.6v5.44h-11.6zM519.0,499.1h11.6v5.44h-11.6zM115.4,504.6h1.9v5.44h-1.9zM565.3,504.6h11.6v5.44h-11.6z"/>
<path fill="#0c0c0c" d="M179.1,80.4h2.9v5.44h-2.9zM138.4,85.9h2.3v5.44h-2.3zM190.8,96.8h3.0v5.44h-3.0zM168.0,102.2h2.7v5.44h-2.7zM136.1,107.6h2.2v5.44h-2.2zM152.6,134.8h2.5v5.44h-2.5zM152.6,140.2h2.5v5.44h-2.5zM155.0,140.2h2.5v5.44h-2.5zM107.9,145.7h1.8v5.44h-1.8zM84.8,156.6h1.5v5.44h-1.5zM140.7,162.0h2.3v5.44h-2.3zM133.9,167.4h2.2v5.44h-2.2zM179.1,172.9h2.9v5.44h-2.9zM143.0,189.2h2.3v5.44h-2.3zM176.2,194.6h2.8v5.44h-2.8zM157.6,200.1h2.6v5.44h-2.6zM117.3,205.5h2.0v5.44h-2.0zM79.0,210.9h1.4v5.44h-1.4zM136.1,210.9h2.2v5.44h-2.2zM190.8,210.9h3.0v5.44h-3.0zM190.8,221.8h3.0v5.44h-3.0zM90.9,227.2h1.6v5.44h-1.6zM94.1,227.2h1.6v5.44h-1.6zM99.1,232.7h1.7v5.44h-1.7zM115.4,232.7h1.9v5.44h-1.9zM129.6,232.7h2.1v5.44h-2.1zM181.9,232.7h2.9v5.44h-2.9zM147.7,243.6h2.4v5.44h-2.4zM86.3,249.0h1.5v5.44h-1.5zM133.9,265.3h2.2v5.44h-2.2zM131.7,270.8h2.2v5.44h-2.2zM95.8,276.2h1.7v5.44h-1.7zM160.1,276.2h2.6v5.44h-2.6zM181.9,276.2h2.9v5.44h-2.9zM181.9,281.6h2.9v5.44h-2.9zM173.5,287.1h2.8v5.44h-2.8zM179.1,287.1h2.9v5.44h-2.9zM92.5,292.5h1.6v5.44h-1.6zM157.6,292.5h2.6v5.44h-2.6zM129.6,297.9h2.1v5.44h-2.1zM157.6,297.9h2.6v5.44h-2.6zM123.3,303.4h2.1v5.44h-2.1zM160.1,308.8h2.6v5.44h-2.6zM129.6,325.1h2.1v5.44h-2.1zM133.9,325.1h2.2v5.44h-2.2zM150.1,336.0h2.4v5.44h-2.4zM165.3,346.9h2.7v5.44h-2.7zM115.4,379.5h1.9v5.44h-1.9zM113.5,384.9h1.9v5.44h-1.9zM84.8,395.8h1.5v5.44h-1.5zM170.7,401.2h2.7v5.44h-2.7zM86.3,412.1h1.5v5.44h-1.5zM111.6,412.1h1.9v5.44h-1.9zM129.6,417.6h2.1v5.44h-2.1zM155.0,417.6h2.5v5.44h-2.5zM123.3,428.4h2.1v5.44h-2.1zM143.0,428.4h2.3v5.44h-2.3zM147.7,428.4h2.4v5.44h-2.4zM113.5,439.3h1.9v5.44h-1.9zM147.7,439.3h2.4v5.44h-2.4zM133.9,450.2h2.2v5.44h-2.2zM165.3,450.2h2.7v5.44h-2.7zM117.3,455.6h2.0v5.44h-2.0zM157.6,455.6h2.6v5.44h-2.6zM173.5,461.1h2.8v5.44h-2.8zM147.7,466.5h2.4v5.44h-2.4zM121.3,482.8h2.0v5.44h-2.0zM123.3,493.7h2.1v5.44h-2.1zM84.8,504.6h1.5v5.44h-1.5zM125.4,504.6h2.1v5.44h-2.1zM157.6,504.6h2.6v5.44h-2.6z"/>
<path fill="#0d0d0d" d="M89.4,75.0h1.6v5.44h-1.6zM160.1,75.0h2.6v5.44h-2.6zM179.1,75.0h2.9v5.44h-2.9zM129.6,80.4h2.1v5.44h-2.1zM84.8,85.9h1.5v5.44h-1.5zM86.3,85.9h1.5v5.44h-1.5zM136.1,85.9h2.2v5.44h-2.2zM127.5,91.3h2.1v5.44h-2.1zM165.3,96.8h2.7v5.44h-2.7zM150.1,102.2h2.4v5.44h-2.4zM162.7,102.2h2.6v5.44h-2.6zM150.1,107.6h2.4v5.44h-2.4zM81.9,113.1h1.5v5.44h-1.5zM181.9,123.9h2.9v5.44h-2.9zM190.8,129.4h3.0v5.44h-3.0zM99.1,134.8h1.7v5.44h-1.7zM187.8,140.2h3.0v5.44h-3.0zM117.3,145.7h2.0v5.44h-2.0zM152.6,156.6h2.5v5.44h-2.5zM129.6,167.4h2.1v5.44h-2.1zM190.8,194.6h3.0v5.44h-3.0zM136.1,200.1h2.2v5.44h-2.2zM127.5,205.5h2.1v5.44h-2.1zM131.7,210.9h2.2v5.44h-2.2zM143.0,232.7h2.3v5.44h-2.3zM160.1,243.6h2.6v5.44h-2.6zM99.1,254.4h1.7v5.44h-1.7zM127.5,254.4h2.1v5.44h-2.1zM133.9,259.9h2.2v5.44h-2.2zM155.0,259.9h2.5v5.44h-2.5zM90.9,276.2h1.6v5.44h-1.6zM102.5,281.6h1.8v5.44h-1.8zM127.5,281.6h2.1v5.44h-2.1zM136.1,292.5h2.2v5.44h-2.2zM165.3,303.4h2.7v5.44h-2.7zM84.8,308.8h1.5v5.44h-1.5zM133.9,308.8h2.2v5.44h-2.2zM111.6,319.7h1.9v5.44h-1.9zM136.1,346.9h2.2v5.44h-2.2zM155.0,346.9h2.5v5.44h-2.5zM160.1,346.9h2.6v5.44h-2.6zM162.7,346.9h2.6v5.44h-2.6zM129.6,363.2h2.1v5.44h-2.1zM86.3,390.4h1.5v5.44h-1.5zM133.9,395.8h2.2v5.44h-2.2zM157.6,406.7h2.6v5.44h-2.6zM102.5,417.6h1.8v5.44h-1.8zM92.5,439.3h1.6v5.44h-1.6zM165.3,444.8h2.7v5.44h-2.7zM147.7,455.6h2.4v5.44h-2.4zM160.1,455.6h2.6v5.44h-2.6zM160.1,461.1h2.6v5.44h-2.6zM179.1,477.4h2.9v5.44h-2.9zM145.3,493.7h2.4v5.44h-2.4zM170.7,493.7h2.7v5.44h-2.7zM117.3,504.6h2.0v5.44h-2.0z"/>
<path fill="#0e0e0e" d="M119.3,80.4h2.0v5.44h-2.0zM160.1,80.4h2.6v5.44h-2.6zM90.9,85.9h1.6v5.44h-1.6zM190.8,85.9h3.0v5.44h-3.0zM147.7,91.3h2.4v5.44h-2.4zM113.5,96.8h1.9v5.44h-1.9zM95.8,102.2h1.7v5.44h-1.7zM123.3,118.5h2.1v5.44h-2.1zM136.1,118.5h2.2v5.44h-2.2zM143.0,129.4h2.3v5.44h-2.3zM79.0,134.8h1.4v5.44h-1.4zM121.3,140.2h2.0v5.44h-2.0zM133.9,156.6h2.2v5.44h-2.2zM181.9,162.0h2.9v5.44h-2.9zM184.8,162.0h3.0v5.44h-3.0zM80.4,167.4h1.4v5.44h-1.4zM111.6,167.4h1.9v5.44h-1.9zM125.4,167.4h2.1v5.44h-2.1zM184.8,167.4h3.0v5.44h-3.0zM107.9,172.9h1.8v5.44h-1.8zM143.0,172.9h2.3v5.44h-2.3zM117.3,178.3h2.0v5.44h-2.0zM89.4,183.8h1.6v5.44h-1.6zM121.3,183.8h2.0v5.44h-2.0zM129.6,183.8h2.1v5.44h-2.1zM173.5,189.2h2.8v5.44h-2.8zM187.8,210.9h3.0v5.44h-3.0zM99.1,216.4h1.7v5.44h-1.7zM176.2,216.4h2.8v5.44h-2.8zM115.4,221.8h1.9v5.44h-1.9zM184.8,221.8h3.0v5.44h-3.0zM125.4,238.1h2.1v5.44h-2.1zM176.2,238.1h2.8v5.44h-2.8zM92.5,243.6h1.6v5.44h-1.6zM170.7,243.6h2.7v5.44h-2.7zM125.4,254.4h2.1v5.44h-2.1zM129.6,281.6h2.1v5.44h-2.1zM150.1,281.6h2.4v5.44h-2.4zM102.5,287.1h1.8v5.44h-1.8zM138.4,287.1h2.3v5.44h-2.3zM145.3,287.1h2.4v5.44h-2.4zM170.7,292.5h2.7v5.44h-2.7zM136.1,303.4h2.2v5.44h-2.2zM155.0,314.2h2.5v5.44h-2.5zM125.4,319.7h2.1v5.44h-2.1zM140.7,330.6h2.3v5.44h-2.3zM109.7,363.2h1.9v5.44h-1.9zM111.6,368.6h1.9v5.44h-1.9zM92.5,379.5h1.6v5.44h-1.6zM115.4,384.9h1.9v5.44h-1.9zM117.3,384.9h2.0v5.44h-2.0zM168.0,384.9h2.7v5.44h-2.7zM143.0,401.2h2.3v5.44h-2.3zM145.3,406.7h2.4v5.44h-2.4zM131.7,412.1h2.2v5.44h-2.2zM113.5,417.6h1.9v5.44h-1.9zM99.1,444.8h1.7v5.44h-1.7zM102.5,444.8h1.8v5.44h-1.8zM129.6,444.8h2.1v5.44h-2.1zM136.1,450.2h2.2v5.44h-2.2zM152.6,455.6h2.5v5.44h-2.5zM133.9,461.1h2.2v5.44h-2.2zM150.1,471.9h2.4v5.44h-2.4zM97.4,477.4h1.7v5.44h-1.7zM143.0,482.8h2.3v5.44h-2.3zM129.6,493.7h2.1v5.44h-2.1zM165.3,499.1h2.7v5.44h-2.7zM121.3,504.6h2.0v5.44h-2.0zM123.3,504.6h2.1v5.44h-2.1z"/>
<path fill="#0f0f0f" d="M97.4,80.4h1.7v5.44h-1.7zM121.3,80.4h2.0v5.44h-2.0zM155.0,80.4h2.5v5.44h-2.5zM168.0,80.4h2.7v5.44h-2.7zM97.4,85.9h1.7v5.44h-1.7zM160.1,85.9h2.6v5.44h-2.6zM187.8,91.3h3.0v5.44h-3.0zM152.6,102.2h2.5v5.44h-2.5zM83.3,113.1h1.5v5.44h-1.5zM160.1,113.1h2.6v5.44h-2.6zM162.7,118.5h2.6v5.44h-2.6zM170.7,118.5h2.7v5.44h-2.7zM176.2,118.5h2.8v5.44h-2.8zM111.6,123.9h1.9v5.44h-1.9zM179.1,134.8h2.9v5.44h-2.9zM111.6,140.2h1.9v5.44h-1.9zM150.1,140.2h2.4v5.44h-2.4zM121.3,145.7h2.0v5.44h-2.0zM83.3,151.1h1.5v5.44h-1.5zM90.9,151.1h1.6v5.44h-1.6zM129.6,151.1h2.1v5.44h-2.1zM162.7,151.1h2.6v5.44h-2.6zM107.9,156.6h1.8v5.44h-1.8zM173.5,156.6h2.8v5.44h-2.8zM90.9,172.9h1.6v5.44h-1.6zM147.7,172.9h2.4v5.44h-2.4zM155.0,172.9h2.5v5.44h-2.5zM95.8,183.8h1.7v5.44h-1.7zM136.1,183.8h2.2v5.44h-2.2zM179.1,183.8h2.9v5.44h-2.9zM83.3,194.6h1.5v5.44h-1.5zM92.5,200.1h1.6v5.44h-1.6zM125.4,200.1h2.1v5.44h-2.1zM143.0,205.5h2.3v5.44h-2.3zM127.5,210.9h2.1v5.44h-2.1zM121.3,216.4h2.0v5.44h-2.0zM125.4,216.4h2.1v5.44h-2.1zM131.7,216.4h2.2v5.44h-2.2zM170.7,221.8h2.7v5.44h-2.7zM80.4,227.2h1.4v5.44h-1.4zM190.8,227.2h3.0v5.44h-3.0zM121.3,238.1h2.0v5.44h-2.0zM162.7,243.6h2.6v5.44h-2.6zM83.3,249.0h1.5v5.44h-1.5zM155.0,249.0h2.5v5.44h-2.5zM155.0,254.4h2.5v5.44h-2.5zM170.7,254.4h2.7v5.44h-2.7zM107.9,259.9h1.8v5.44h-1.8zM99.1,265.3h1.7v5.44h-1.7zM117.3,270.8h2.0v5.44h-2.0zM131.7,281.6h2.2v5.44h-2.2zM140.7,281.6h2.3v5.44h-2.3zM150.1,287.1h2.4v5.44h-2.4zM162.7,297.9h2.6v5.44h-2.6zM125.4,308.8h2.1v5.44h-2.1zM123.3,325.1h2.1v5.44h-2.1zM152.6,330.6h2.5v5.44h-2.5zM84.8,346.9h1.5v5.44h-1.5zM145.3,357.8h2.4v5.44h-2.4zM127.5,368.6h2.1v5.44h-2.1zM117.3,374.1h2.0v5.44h-2.0zM106.1,395.8h1.8v5.44h-1.8zM79.0,428.4h1.4v5.44h-1.4zM133.9,439.3h2.2v5.44h-2.2zM138.4,439.3h2.3v5.44h-2.3zM168.0,439.3h2.7v5.44h-2.7zM140.7,466.5h2.3v5.44h-2.3zM117.3,471.9h2.0v5.44h-2.0zM117.3,477.4h2.0v5.44h-2.0zM147.7,493.7h2.4v5.44h-2.4zM143.0,499.1h2.3v5.44h-2.3zM136.1,504.6h2.2v5.44h-2.2z"/>
<path fill="#101010" d="M147.7,75.0h2.4v5.44h-2.4zM107.9,80.4h1.8v5.44h-1.8zM152.6,80.4h2.5v5.44h-2.5zM89.4,96.8h1.6v5.44h-1.6zM94.1,96.8h1.6v5.44h-1.6zM79.0,107.6h1.4v5.44h-1.4zM117.3,107.6h2.0v5.44h-2.0zM152.6,107.6h2.5v5.44h-2.5zM162.7,107.6h2.6v5.44h-2.6zM184.8,113.1h3.0v5.44h-3.0zM138.4,118.5h2.3v5.44h-2.3zM129.6,123.9h2.1v5.44h-2.1zM89.4,140.2h1.6v5.44h-1.6zM160.1,145.7h2.6v5.44h-2.6zM179.1,145.7h2.9v5.44h-2.9zM100.8,151.1h1.7v5.44h-1.7zM184.8,151.1h3.0v5.44h-3.0zM136.1,162.0h2.2v5.44h-2.2zM152.6,167.4h2.5v5.44h-2.5zM160.1,172.9h2.6v5.44h-2.6zM84.8,178.3h1.5v5.44h-1.5zM145.3,183.8h2.4v5.44h-2.4zM165.3,183.8h2.7v5.44h-2.7zM111.6,189.2h1.9v5.44h-1.9zM143.0,194.6h2.3v5.44h-2.3zM119.3,205.5h2.0v5.44h-2.0zM190.8,205.5h3.0v5.44h-3.0zM147.7,216.4h2.4v5.44h-2.4zM84.8,221.8h1.5v5.44h-1.5zM113.5,221.8h1.9v5.44h-1.9zM119.3,221.8h2.0v5.44h-2.0zM100.8,227.2h1.7v5.44h-1.7zM97.4,232.7h1.7v5.44h-1.7zM100.8,232.7h1.7v5.44h-1.7zM140.7,232.7h2.3v5.44h-2.3zM79.0,238.1h1.4v5.44h-1.4zM136.1,238.1h2.2v5.44h-2.2zM121.3,243.6h2.0v5.44h-2.0zM102.5,259.9h1.8v5.44h-1.8zM170.7,259.9h2.7v5.44h-2.7zM145.3,265.3h2.4v5.44h-2.4zM111.6,281.6h1.9v5.44h-1.9zM181.9,287.1h2.9v5.44h-2.9zM125.4,297.9h2.1v5.44h-2.1zM117.3,325.1h2.0v5.44h-2.0zM136.1,330.6h2.2v5.44h-2.2zM138.4,336.0h2.3v5.44h-2.3zM106.1,352.3h1.8v5.44h-1.8zM86.3,357.8h1.5v5.44h-1.5zM157.6,357.8h2.6v5.44h-2.6zM170.7,363.2h2.7v5.44h-2.7zM147.7,379.5h2.4v5.44h-2.4zM99.1,384.9h1.7v5.44h-1.7zM113.5,390.4h1.9v5.44h-1.9zM152.6,395.8h2.5v5.44h-2.5zM119.3,406.7h2.0v5.44h-2.0zM150.1,417.6h2.4v5.44h-2.4zM160.1,417.6h2.6v5.44h-2.6zM157.6,428.4h2.6v5.44h-2.6zM117.3,444.8h2.0v5.44h-2.0zM168.0,444.8h2.7v5.44h-2.7zM170.7,450.2h2.7v5.44h-2.7zM138.4,477.4h2.3v5.44h-2.3zM160.1,482.8h2.6v5.44h-2.6zM143.0,488.2h2.3v5.44h-2.3zM107.9,499.1h1.8v5.44h-1.8z"/>
<path fill="#111111" d="M176.2,75.0h2.8v5.44h-2.8zM176.2,80.4h2.8v5.44h-2.8zM95.8,85.9h1.7v5.44h-1.7zM138.4,91.3h2.3v5.44h-2.3zM173.5,96.8h2.8v5.44h-2.8zM176.2,96.8h2.8v5.44h-2.8zM162.7,123.9h2.6v5.44h-2.6zM181.9,129.4h2.9v5.44h-2.9zM165.3,134.8h2.7v5.44h-2.7zM117.3,140.2h2.0v5.44h-2.0zM131.7,140.2h2.2v5.44h-2.2zM170.7,140.2h2.7v5.44h-2.7zM181.9,140.2h2.9v5.44h-2.9zM143.0,145.7h2.3v5.44h-2.3zM86.3,151.1h1.5v5.44h-1.5zM179.1,151.1h2.9v5.44h-2.9zM157.6,162.0h2.6v5.44h-2.6zM102.5,167.4h1.8v5.44h-1.8zM160.1,167.4h2.6v5.44h-2.6zM115.4,189.2h1.9v5.44h-1.9zM125.4,194.6h2.1v5.44h-2.1zM129.6,200.1h2.1v5.44h-2.1zM138.4,200.1h2.3v5.44h-2.3zM147.7,205.5h2.4v5.44h-2.4zM90.9,210.9h1.6v5.44h-1.6zM145.3,210.9h2.4v5.44h-2.4zM173.5,216.4h2.8v5.44h-2.8zM145.3,227.2h2.4v5.44h-2.4zM176.2,227.2h2.8v5.44h-2.8zM187.8,232.7h3.0v5.44h-3.0zM127.5,238.1h2.1v5.44h-2.1zM165.3,243.6h2.7v5.44h-2.7zM152.6,249.0h2.5v5.44h-2.5zM157.6,259.9h2.6v5.44h-2.6zM136.1,270.8h2.2v5.44h-2.2zM133.9,276.2h2.2v5.44h-2.2zM143.0,281.6h2.3v5.44h-2.3zM92.5,287.1h1.6v5.44h-1.6zM113.5,287.1h1.9v5.44h-1.9zM127.5,287.1h2.1v5.44h-2.1zM131.7,287.1h2.2v5.44h-2.2zM81.9,292.5h1.5v5.44h-1.5zM111.6,292.5h1.9v5.44h-1.9zM145.3,292.5h2.4v5.44h-2.4zM99.1,314.2h1.7v5.44h-1.7zM121.3,314.2h2.0v5.44h-2.0zM121.3,341.4h2.0v5.44h-2.0zM170.7,368.6h2.7v5.44h-2.7zM109.7,395.8h1.9v5.44h-1.9zM86.3,401.2h1.5v5.44h-1.5zM111.6,406.7h1.9v5.44h-1.9zM87.8,423.0h1.5v5.44h-1.5zM111.6,428.4h1.9v5.44h-1.9zM125.4,433.9h2.1v5.44h-2.1zM94.1,450.2h1.6v5.44h-1.6zM168.0,450.2h2.7v5.44h-2.7zM168.0,455.6h2.7v5.44h-2.7zM113.5,471.9h1.9v5.44h-1.9zM152.6,477.4h2.5v5.44h-2.5zM157.6,482.8h2.6v5.44h-2.6zM152.6,504.6h2.5v5.44h-2.5z"/>
<path fill="#121212" d="M170.7,80.4h2.7v5.44h-2.7zM129.6,91.3h2.1v5.44h-2.1zM181.9,96.8h2.9v5.44h-2.9zM79.0,102.2h1.4v5.44h-1.4zM150.1,118.5h2.4v5.44h-2.4zM160.1,118.5h2.6v5.44h-2.6zM181.9,118.5h2.9v5.44h-2.9zM176.2,129.4h2.8v5.44h-2.8zM127.5,134.8h2.1v5.44h-2.1zM162.7,134.8h2.6v5.44h-2.6zM184.8,134.8h3.0v5.44h-3.0zM145.3,140.2h2.4v5.44h-2.4zM147.7,140.2h2.4v5.44h-2.4zM99.1,145.7h1.7v5.44h-1.7zM147.7,145.7h2.4v5.44h-2.4zM80.4,151.1h1.4v5.44h-1.4zM179.1,156.6h2.9v5.44h-2.9zM83.3,162.0h1.5v5.44h-1.5zM117.3,162.0h2.0v5.44h-2.0zM111.6,172.9h1.9v5.44h-1.9zM97.4,178.3h1.7v5.44h-1.7zM184.8,189.2h3.0v5.44h-3.0zM133.9,194.6h2.2v5.44h-2.2zM147.7,194.6h2.4v5.44h-2.4zM145.3,200.1h2.4v5.44h-2.4zM115.4,227.2h1.9v5.44h-1.9zM145.3,232.7h2.4v5.44h-2.4zM80.4,249.0h1.4v5.44h-1.4zM170.7,249.0h2.7v5.44h-2.7zM100.8,259.9h1.7v5.44h-1.7zM181.9,259.9h2.9v5.44h-2.9zM150.1,265.3h2.4v5.44h-2.4zM97.4,270.8h1.7v5.44h-1.7zM121.3,270.8h2.0v5.44h-2.0zM109.7,281.6h1.9v5.44h-1.9zM86.3,287.1h1.5v5.44h-1.5zM162.7,287.1h2.6v5.44h-2.6zM95.8,292.5h1.7v5.44h-1.7zM127.5,314.2h2.1v5.44h-2.1zM86.3,330.6h1.5v5.44h-1.5zM125.4,330.6h2.1v5.44h-2.1zM150.1,330.6h2.4v5.44h-2.4zM157.6,336.0h2.6v5.44h-2.6zM173.5,341.4h2.8v5.44h-2.8zM107.9,346.9h1.8v5.44h-1.8zM131.7,346.9h2.2v5.44h-2.2zM129.6,368.6h2.1v5.44h-2.1zM133.9,374.1h2.2v5.44h-2.2zM150.1,374.1h2.4v5.44h-2.4zM92.5,384.9h1.6v5.44h-1.6zM131.7,384.9h2.2v5.44h-2.2zM157.6,395.8h2.6v5.44h-2.6zM165.3,428.4h2.7v5.44h-2.7zM162.7,450.2h2.6v5.44h-2.6zM99.1,455.6h1.7v5.44h-1.7zM115.4,461.1h1.9v5.44h-1.9zM160.1,466.5h2.6v5.44h-2.6zM147.7,477.4h2.4v5.44h-2.4zM80.4,482.8h1.4v5.44h-1.4zM127.5,482.8h2.1v5.44h-2.1zM173.5,482.8h2.8v5.44h-2.8zM121.3,488.2h2.0v5.44h-2.0z"/>
<path fill="#131313" d="M184.8,75.0h3.0v5.44h-3.0zM155.0,91.3h2.5v5.44h-2.5zM83.3,102.2h1.5v5.44h-1.5zM145.3,102.2h2.4v5.44h-2.4zM133.9,107.6h2.2v5.44h-2.2zM138.4,107.6h2.3v5.44h-2.3zM90.9,113.1h1.6v5.44h-1.6zM176.2,113.1h2.8v5.44h-2.8zM89.4,118.5h1.6v5.44h-1.6zM140.7,123.9h2.3v5.44h-2.3zM184.8,123.9h3.0v5.44h-3.0zM162.7,129.4h2.6v5.44h-2.6zM165.3,129.4h2.7v5.44h-2.7zM190.8,134.8h3.0v5.44h-3.0zM179.1,140.2h2.9v5.44h-2.9zM150.1,156.6h2.4v5.44h-2.4zM170.7,156.6h2.7v5.44h-2.7zM131.7,162.0h2.2v5.44h-2.2zM152.6,162.0h2.5v5.44h-2.5zM179.1,167.4h2.9v5.44h-2.9zM100.8,178.3h1.7v5.44h-1.7zM127.5,178.3h2.1v5.44h-2.1zM100.8,183.8h1.7v5.44h-1.7zM133.9,189.2h2.2v5.44h-2.2zM150.1,189.2h2.4v5.44h-2.4zM168.0,189.2h2.7v5.44h-2.7zM168.0,194.6h2.7v5.44h-2.7zM123.3,200.1h2.1v5.44h-2.1zM89.4,205.5h1.6v5.44h-1.6zM121.3,205.5h2.0v5.44h-2.0zM179.1,216.4h2.9v5.44h-2.9zM184.8,216.4h3.0v5.44h-3.0zM133.9,221.8h2.2v5.44h-2.2zM150.1,227.2h2.4v5.44h-2.4zM155.0,227.2h2.5v5.44h-2.5zM184.8,227.2h3.0v5.44h-3.0zM86.3,243.6h1.5v5.44h-1.5zM181.9,249.0h2.9v5.44h-2.9zM184.8,259.9h3.0v5.44h-3.0zM123.3,276.2h2.1v5.44h-2.1zM84.8,281.6h1.5v5.44h-1.5zM133.9,281.6h2.2v5.44h-2.2zM179.1,281.6h2.9v5.44h-2.9zM119.3,287.1h2.0v5.44h-2.0zM99.1,292.5h1.7v5.44h-1.7zM106.1,292.5h1.8v5.44h-1.8zM145.3,308.8h2.4v5.44h-2.4zM99.1,325.1h1.7v5.44h-1.7zM131.7,325.1h2.2v5.44h-2.2zM121.3,336.0h2.0v5.44h-2.0zM86.3,346.9h1.5v5.44h-1.5zM127.5,346.9h2.1v5.44h-2.1zM150.1,357.8h2.4v5.44h-2.4zM121.3,379.5h2.0v5.44h-2.0zM136.1,384.9h2.2v5.44h-2.2zM117.3,395.8h2.0v5.44h-2.0zM140.7,417.6h2.3v5.44h-2.3zM147.7,417.6h2.4v5.44h-2.4zM84.8,423.0h1.5v5.44h-1.5zM152.6,423.0h2.5v5.44h-2.5zM84.8,428.4h1.5v5.44h-1.5zM106.1,428.4h1.8v5.44h-1.8zM129.6,433.9h2.1v5.44h-2.1zM165.3,433.9h2.7v5.44h-2.7zM140.7,439.3h2.3v5.44h-2.3zM179.1,461.1h2.9v5.44h-2.9zM99.1,466.5h1.7v5.44h-1.7zM123.3,466.5h2.1v5.44h-2.1zM138.4,482.8h2.3v5.44h-2.3z"/>
<path fill="#141414" d="M136.1,80.4h2.2v5.44h-2.2zM173.5,80.4h2.8v5.44h-2.8zM181.9,80.4h2.9v5.44h-2.9zM125.4,85.9h2.1v5.44h-2.1zM90.9,91.3h1.6v5.44h-1.6zM181.9,91.3h2.9v5.44h-2.9zM133.9,96.8h2.2v5.44h-2.2zM157.6,96.8h2.6v5.44h-2.6zM136.1,102.2h2.2v5.44h-2.2zM147.7,107.6h2.4v5.44h-2.4zM162.7,113.1h2.6v5.44h-2.6zM95.8,118.5h1.7v5.44h-1.7zM165.3,123.9h2.7v5.44h-2.7zM100.8,129.4h1.7v5.44h-1.7zM170.7,134.8h2.7v5.44h-2.7zM102.5,151.1h1.8v5.44h-1.8zM143.0,151.1h2.3v5.44h-2.3zM129.6,156.6h2.1v5.44h-2.1zM145.3,156.6h2.4v5.44h-2.4zM109.7,162.0h1.9v5.44h-1.9zM147.7,162.0h2.4v5.44h-2.4zM157.6,172.9h2.6v5.44h-2.6zM115.4,178.3h1.9v5.44h-1.9zM170.7,178.3h2.7v5.44h-2.7zM111.6,183.8h1.9v5.44h-1.9zM117.3,183.8h2.0v5.44h-2.0zM168.0,183.8h2.7v5.44h-2.7zM176.2,183.8h2.8v5.44h-2.8zM136.1,189.2h2.2v5.44h-2.2zM187.8,194.6h3.0v5.44h-3.0zM95.8,205.5h1.7v5.44h-1.7zM162.7,205.5h2.6v5.44h-2.6zM165.3,205.5h2.7v5.44h-2.7zM184.8,205.5h3.0v5.44h-3.0zM117.3,210.9h2.0v5.44h-2.0zM168.0,210.9h2.7v5.44h-2.7zM173.5,210.9h2.8v5.44h-2.8zM121.3,221.8h2.0v5.44h-2.0zM138.4,221.8h2.3v5.44h-2.3zM190.8,232.7h3.0v5.44h-3.0zM157.6,238.1h2.6v5.44h-2.6zM109.7,243.6h1.9v5.44h-1.9zM190.8,243.6h3.0v5.44h-3.0zM87.8,281.6h1.5v5.44h-1.5zM100.8,292.5h1.7v5.44h-1.7zM121.3,297.9h2.0v5.44h-2.0zM150.1,314.2h2.4v5.44h-2.4zM162.7,314.2h2.6v5.44h-2.6zM86.3,319.7h1.5v5.44h-1.5zM121.3,325.1h2.0v5.44h-2.0zM155.0,325.1h2.5v5.44h-2.5zM84.8,336.0h1.5v5.44h-1.5zM99.1,352.3h1.7v5.44h-1.7zM100.8,352.3h1.7v5.44h-1.7zM119.3,352.3h2.0v5.44h-2.0zM162.7,352.3h2.6v5.44h-2.6zM127.5,357.8h2.1v5.44h-2.1zM160.1,357.8h2.6v5.44h-2.6zM173.5,363.2h2.8v5.44h-2.8zM125.4,379.5h2.1v5.44h-2.1zM173.5,384.9h2.8v5.44h-2.8zM115.4,395.8h1.9v5.44h-1.9zM160.1,395.8h2.6v5.44h-2.6zM147.7,406.7h2.4v5.44h-2.4zM136.1,433.9h2.2v5.44h-2.2zM106.1,450.2h1.8v5.44h-1.8zM127.5,450.2h2.1v5.44h-2.1zM140.7,461.1h2.3v5.44h-2.3zM104.3,477.4h1.8v5.44h-1.8zM133.9,477.4h2.2v5.44h-2.2zM79.0,493.7h1.4v5.44h-1.4zM129.6,499.1h2.1v5.44h-2.1z"/>
<path fill="#151515" d="M170.7,75.0h2.7v5.44h-2.7zM133.9,85.9h2.2v5.44h-2.2zM184.8,85.9h3.0v5.44h-3.0zM100.8,91.3h1.7v5.44h-1.7zM184.8,96.8h3.0v5.44h-3.0zM127.5,102.2h2.1v5.44h-2.1zM113.5,123.9h1.9v5.44h-1.9zM115.4,123.9h1.9v5.44h-1.9zM99.1,129.4h1.7v5.44h-1.7zM106.1,129.4h1.8v5.44h-1.8zM109.7,129.4h1.9v5.44h-1.9zM187.8,129.4h3.0v5.44h-3.0zM107.9,134.8h1.8v5.44h-1.8zM155.0,145.7h2.5v5.44h-2.5zM155.0,151.1h2.5v5.44h-2.5zM150.1,162.0h2.4v5.44h-2.4zM131.7,167.4h2.2v5.44h-2.2zM170.7,167.4h2.7v5.44h-2.7zM125.4,172.9h2.1v5.44h-2.1zM136.1,178.3h2.2v5.44h-2.2zM179.1,178.3h2.9v5.44h-2.9zM170.7,189.2h2.7v5.44h-2.7zM84.8,194.6h1.5v5.44h-1.5zM129.6,194.6h2.1v5.44h-2.1zM181.9,194.6h2.9v5.44h-2.9zM162.7,210.9h2.6v5.44h-2.6zM127.5,216.4h2.1v5.44h-2.1zM138.4,216.4h2.3v5.44h-2.3zM173.5,221.8h2.8v5.44h-2.8zM131.7,232.7h2.2v5.44h-2.2zM106.1,238.1h1.8v5.44h-1.8zM115.4,238.1h1.9v5.44h-1.9zM131.7,238.1h2.2v5.44h-2.2zM160.1,238.1h2.6v5.44h-2.6zM113.5,243.6h1.9v5.44h-1.9zM187.8,243.6h3.0v5.44h-3.0zM89.4,249.0h1.6v5.44h-1.6zM117.3,249.0h2.0v5.44h-2.0zM168.0,249.0h2.7v5.44h-2.7zM81.9,287.1h1.5v5.44h-1.5zM168.0,303.4h2.7v5.44h-2.7zM99.1,308.8h1.7v5.44h-1.7zM133.9,330.6h2.2v5.44h-2.2zM94.1,352.3h1.6v5.44h-1.6zM121.3,357.8h2.0v5.44h-2.0zM170.7,357.8h2.7v5.44h-2.7zM173.5,379.5h2.8v5.44h-2.8zM152.6,390.4h2.5v5.44h-2.5zM150.1,395.8h2.4v5.44h-2.4zM123.3,401.2h2.1v5.44h-2.1zM133.9,406.7h2.2v5.44h-2.2zM173.5,406.7h2.8v5.44h-2.8zM100.8,412.1h1.7v5.44h-1.7zM106.1,417.6h1.8v5.44h-1.8zM117.3,417.6h2.0v5.44h-2.0zM168.0,423.0h2.7v5.44h-2.7zM113.5,428.4h1.9v5.44h-1.9zM162.7,428.4h2.6v5.44h-2.6zM121.3,439.3h2.0v5.44h-2.0zM143.0,444.8h2.3v5.44h-2.3zM143.0,455.6h2.3v5.44h-2.3zM168.0,466.5h2.7v5.44h-2.7zM147.7,482.8h2.4v5.44h-2.4zM121.3,493.7h2.0v5.44h-2.0z"/>
<path fill="#161616" d="M95.8,75.0h1.7v5.44h-1.7zM100.8,75.0h1.7v5.44h-1.7zM187.8,96.8h3.0v5.44h-3.0zM165.3,107.6h2.7v5.44h-2.7zM145.3,113.1h2.4v5.44h-2.4zM181.9,113.1h2.9v5.44h-2.9zM121.3,118.5h2.0v5.44h-2.0zM150.1,129.4h2.4v5.44h-2.4zM109.7,140.2h1.9v5.44h-1.9zM95.8,156.6h1.7v5.44h-1.7zM176.2,156.6h2.8v5.44h-2.8zM94.1,162.0h1.6v5.44h-1.6zM181.9,167.4h2.9v5.44h-2.9zM104.3,183.8h1.8v5.44h-1.8zM181.9,183.8h2.9v5.44h-2.9zM102.5,189.2h1.8v5.44h-1.8zM179.1,189.2h2.9v5.44h-2.9zM86.3,210.9h1.5v5.44h-1.5zM115.4,216.4h1.9v5.44h-1.9zM83.3,221.8h1.5v5.44h-1.5zM136.1,221.8h2.2v5.44h-2.2zM155.0,221.8h2.5v5.44h-2.5zM160.1,227.2h2.6v5.44h-2.6zM150.1,232.7h2.4v5.44h-2.4zM140.7,238.1h2.3v5.44h-2.3zM131.7,243.6h2.2v5.44h-2.2zM121.3,259.9h2.0v5.44h-2.0zM184.8,265.3h3.0v5.44h-3.0zM157.6,287.1h2.6v5.44h-2.6zM160.1,297.9h2.6v5.44h-2.6zM100.8,303.4h1.7v5.44h-1.7zM131.7,303.4h2.2v5.44h-2.2zM143.0,308.8h2.3v5.44h-2.3zM125.4,314.2h2.1v5.44h-2.1zM131.7,314.2h2.2v5.44h-2.2zM100.8,319.7h1.7v5.44h-1.7zM150.1,325.1h2.4v5.44h-2.4zM165.3,325.1h2.7v5.44h-2.7zM83.3,330.6h1.5v5.44h-1.5zM107.9,336.0h1.8v5.44h-1.8zM123.3,336.0h2.1v5.44h-2.1zM89.4,352.3h1.6v5.44h-1.6zM138.4,352.3h2.3v5.44h-2.3zM155.0,357.8h2.5v5.44h-2.5zM147.7,374.1h2.4v5.44h-2.4zM162.7,374.1h2.6v5.44h-2.6zM127.5,390.4h2.1v5.44h-2.1zM157.6,390.4h2.6v5.44h-2.6zM119.3,401.2h2.0v5.44h-2.0zM136.1,401.2h2.2v5.44h-2.2zM143.0,406.7h2.3v5.44h-2.3zM121.3,412.1h2.0v5.44h-2.0zM94.1,423.0h1.6v5.44h-1.6zM113.5,423.0h1.9v5.44h-1.9zM140.7,428.4h2.3v5.44h-2.3zM107.9,433.9h1.8v5.44h-1.8zM111.6,439.3h1.9v5.44h-1.9zM160.1,439.3h2.6v5.44h-2.6zM86.3,444.8h1.5v5.44h-1.5zM79.0,471.9h1.4v5.44h-1.4zM125.4,471.9h2.1v5.44h-2.1zM129.6,477.4h2.1v5.44h-2.1zM95.8,482.8h1.7v5.44h-1.7zM155.0,482.8h2.5v5.44h-2.5z"/>
<path fill="#171717" d="M150.1,85.9h2.4v5.44h-2.4zM165.3,91.3h2.7v5.44h-2.7zM143.0,96.8h2.3v5.44h-2.3zM147.7,96.8h2.4v5.44h-2.4zM107.9,107.6h1.8v5.44h-1.8zM107.9,113.1h1.8v5.44h-1.8zM81.9,118.5h1.5v5.44h-1.5zM147.7,118.5h2.4v5.44h-2.4zM94.1,123.9h1.6v5.44h-1.6zM121.3,123.9h2.0v5.44h-2.0zM147.7,123.9h2.4v5.44h-2.4zM86.3,145.7h1.5v5.44h-1.5zM97.4,156.6h1.7v5.44h-1.7zM89.4,167.4h1.6v5.44h-1.6zM176.2,172.9h2.8v5.44h-2.8zM133.9,183.8h2.2v5.44h-2.2zM109.7,189.2h1.9v5.44h-1.9zM79.0,194.6h1.4v5.44h-1.4zM102.5,194.6h1.8v5.44h-1.8zM140.7,194.6h2.3v5.44h-2.3zM133.9,205.5h2.2v5.44h-2.2zM111.6,210.9h1.9v5.44h-1.9zM176.2,210.9h2.8v5.44h-2.8zM79.0,227.2h1.4v5.44h-1.4zM97.4,227.2h1.7v5.44h-1.7zM184.8,232.7h3.0v5.44h-3.0zM95.8,238.1h1.7v5.44h-1.7zM129.6,243.6h2.1v5.44h-2.1zM150.1,249.0h2.4v5.44h-2.4zM150.1,254.4h2.4v5.44h-2.4zM115.4,259.9h1.9v5.44h-1.9zM81.9,270.8h1.5v5.44h-1.5zM106.1,270.8h1.8v5.44h-1.8zM109.7,270.8h1.9v5.44h-1.9zM138.4,270.8h2.3v5.44h-2.3zM147.7,276.2h2.4v5.44h-2.4zM152.6,276.2h2.5v5.44h-2.5zM109.7,287.1h1.9v5.44h-1.9zM176.2,287.1h2.8v5.44h-2.8zM87.8,292.5h1.5v5.44h-1.5zM190.8,292.5h3.0v5.44h-3.0zM157.6,308.8h2.6v5.44h-2.6zM152.6,325.1h2.5v5.44h-2.5zM121.3,363.2h2.0v5.44h-2.0zM160.1,374.1h2.6v5.44h-2.6zM111.6,395.8h1.9v5.44h-1.9zM97.4,401.2h1.7v5.44h-1.7zM125.4,406.7h2.1v5.44h-2.1zM168.0,406.7h2.7v5.44h-2.7zM109.7,417.6h1.9v5.44h-1.9zM123.3,417.6h2.1v5.44h-2.1zM162.7,444.8h2.6v5.44h-2.6zM92.5,461.1h1.6v5.44h-1.6zM136.1,488.2h2.2v5.44h-2.2zM168.0,488.2h2.7v5.44h-2.7zM173.5,504.6h2.8v5.44h-2.8z"/>
<path fill="#181818" d="M87.8,80.4h1.5v5.44h-1.5zM104.3,96.8h1.8v5.44h-1.8zM107.9,102.2h1.8v5.44h-1.8zM165.3,102.2h2.7v5.44h-2.7zM104.3,113.1h1.8v5.44h-1.8zM83.3,118.5h1.5v5.44h-1.5zM143.0,118.5h2.3v5.44h-2.3zM138.4,123.9h2.3v5.44h-2.3zM147.7,129.4h2.4v5.44h-2.4zM155.0,129.4h2.5v5.44h-2.5zM104.3,140.2h1.8v5.44h-1.8zM104.3,151.1h1.8v5.44h-1.8zM81.9,156.6h1.5v5.44h-1.5zM102.5,156.6h1.8v5.44h-1.8zM131.7,172.9h2.2v5.44h-2.2zM145.3,205.5h2.4v5.44h-2.4zM147.7,210.9h2.4v5.44h-2.4zM106.1,221.8h1.8v5.44h-1.8zM123.3,221.8h2.1v5.44h-2.1zM168.0,227.2h2.7v5.44h-2.7zM117.3,232.7h2.0v5.44h-2.0zM123.3,238.1h2.1v5.44h-2.1zM79.0,249.0h1.4v5.44h-1.4zM106.1,249.0h1.8v5.44h-1.8zM143.0,249.0h2.3v5.44h-2.3zM168.0,259.9h2.7v5.44h-2.7zM143.0,265.3h2.3v5.44h-2.3zM123.3,281.6h2.1v5.44h-2.1zM90.9,303.4h1.6v5.44h-1.6zM83.3,314.2h1.5v5.44h-1.5zM136.1,341.4h2.2v5.44h-2.2zM102.5,346.9h1.8v5.44h-1.8zM170.7,346.9h2.7v5.44h-2.7zM173.5,346.9h2.8v5.44h-2.8zM102.5,363.2h1.8v5.44h-1.8zM131.7,374.1h2.2v5.44h-2.2zM152.6,401.2h2.5v5.44h-2.5zM87.8,412.1h1.5v5.44h-1.5zM111.6,417.6h1.9v5.44h-1.9zM138.4,466.5h2.3v5.44h-2.3zM123.3,488.2h2.1v5.44h-2.1zM121.3,499.1h2.0v5.44h-2.0zM147.7,504.6h2.4v5.44h-2.4z"/>
<path fill="#191919" d="M94.1,75.0h1.6v5.44h-1.6zM157.6,80.4h2.6v5.44h-2.6zM115.4,107.6h1.9v5.44h-1.9zM84.8,118.5h1.5v5.44h-1.5zM131.7,118.5h2.2v5.44h-2.2zM89.4,129.4h1.6v5.44h-1.6zM136.1,129.4h2.2v5.44h-2.2zM94.1,140.2h1.6v5.44h-1.6zM115.4,156.6h1.9v5.44h-1.9zM123.3,162.0h2.1v5.44h-2.1zM143.0,162.0h2.3v5.44h-2.3zM162.7,172.9h2.6v5.44h-2.6zM97.4,200.1h1.7v5.44h-1.7zM143.0,210.9h2.3v5.44h-2.3zM84.8,216.4h1.5v5.44h-1.5zM89.4,216.4h1.6v5.44h-1.6zM104.3,227.2h1.8v5.44h-1.8zM80.4,232.7h1.4v5.44h-1.4zM176.2,232.7h2.8v5.44h-2.8zM140.7,243.6h2.3v5.44h-2.3zM133.9,249.0h2.2v5.44h-2.2zM138.4,259.9h2.3v5.44h-2.3zM160.1,265.3h2.6v5.44h-2.6zM119.3,270.8h2.0v5.44h-2.0zM143.0,270.8h2.3v5.44h-2.3zM179.1,270.8h2.9v5.44h-2.9zM168.0,276.2h2.7v5.44h-2.7zM187.8,281.6h3.0v5.44h-3.0zM97.4,297.9h1.7v5.44h-1.7zM127.5,297.9h2.1v5.44h-2.1zM150.1,297.9h2.4v5.44h-2.4zM160.1,303.4h2.6v5.44h-2.6zM123.3,319.7h2.1v5.44h-2.1zM92.5,341.4h1.6v5.44h-1.6zM90.9,346.9h1.6v5.44h-1.6zM90.9,352.3h1.6v5.44h-1.6zM106.1,357.8h1.8v5.44h-1.8zM100.8,363.2h1.7v5.44h-1.7zM152.6,368.6h2.5v5.44h-2.5zM115.4,390.4h1.9v5.44h-1.9zM113.5,401.2h1.9v5.44h-1.9zM117.3,401.2h2.0v5.44h-2.0zM140.7,401.2h2.3v5.44h-2.3zM170.7,412.1h2.7v5.44h-2.7zM89.4,428.4h1.6v5.44h-1.6zM160.1,428.4h2.6v5.44h-2.6zM84.8,433.9h1.5v5.44h-1.5zM99.1,461.1h1.7v5.44h-1.7zM89.4,466.5h1.6v5.44h-1.6zM129.6,488.2h2.1v5.44h-2.1zM155.0,488.2h2.5v5.44h-2.5zM160.1,488.2h2.6v5.44h-2.6zM111.6,493.7h1.9v5.44h-1.9zM127.5,499.1h2.1v5.44h-2.1zM147.7,499.1h2.4v5.44h-2.4zM168.0,499.1h2.7v5.44h-2.7z"/>
<path fill="#1a1a1a" d="M162.7,75.0h2.6v5.44h-2.6zM127.5,85.9h2.1v5.44h-2.1zM138.4,96.8h2.3v5.44h-2.3zM117.3,102.2h2.0v5.44h-2.0zM140.7,102.2h2.3v5.44h-2.3zM209.7,102.2h3.3v5.44h-3.3zM399.2,102.2h5.5v5.44h-5.5zM129.6,107.6h2.1v5.44h-2.1zM176.2,107.6h2.8v5.44h-2.8zM332.7,107.6h5.5v5.44h-5.5zM393.7,107.6h5.5v5.44h-5.5zM213.0,113.1h3.4v5.44h-3.4zM223.2,113.1h3.5v5.44h-3.5zM305.0,113.1h5.5v5.44h-5.5zM316.1,113.1h5.5v5.44h-5.5zM382.6,113.1h5.5v5.44h-5.5zM404.8,113.1h5.5v5.44h-5.5zM97.4,118.5h1.7v5.44h-1.7zM288.4,118.5h5.5v5.44h-5.5zM415.8,118.5h5.5v5.44h-5.5zM255.2,123.9h5.5v5.44h-5.5zM305.0,123.9h5.5v5.44h-5.5zM382.6,123.9h5.5v5.44h-5.5zM95.8,129.4h1.7v5.44h-1.7zM125.4,129.4h2.1v5.44h-2.1zM133.9,129.4h2.2v5.44h-2.2zM140.7,129.4h2.3v5.44h-2.3zM168.0,129.4h2.7v5.44h-2.7zM338.3,129.4h5.5v5.44h-5.5zM343.8,129.4h5.5v5.44h-5.5zM415.8,129.4h5.5v5.44h-5.5zM271.8,134.8h5.5v5.44h-5.5zM277.3,134.8h5.5v5.44h-5.5zM426.9,134.8h5.5v5.44h-5.5zM140.7,140.2h2.3v5.44h-2.3zM266.2,140.2h5.5v5.44h-5.5zM282.9,145.7h5.5v5.44h-5.5zM332.7,145.7h5.5v5.44h-5.5zM360.4,145.7h5.5v5.44h-5.5zM366.0,145.7h5.5v5.44h-5.5zM115.4,151.1h1.9v5.44h-1.9zM377.1,151.1h5.5v5.44h-5.5zM432.5,151.1h5.5v5.44h-5.5zM131.7,156.6h2.2v5.44h-2.2zM255.2,156.6h5.5v5.44h-5.5zM388.1,156.6h5.5v5.44h-5.5zM200.0,162.0h3.2v5.44h-3.2zM377.1,162.0h5.5v5.44h-5.5zM393.7,162.0h5.5v5.44h-5.5zM410.3,162.0h5.5v5.44h-5.5zM421.4,162.0h5.5v5.44h-5.5zM244.1,167.4h5.5v5.44h-5.5zM404.8,167.4h5.5v5.44h-5.5zM332.7,172.9h5.5v5.44h-5.5zM404.8,172.9h5.5v5.44h-5.5zM426.9,172.9h5.5v5.44h-5.5zM129.6,178.3h2.1v5.44h-2.1zM238.5,178.3h5.5v5.44h-5.5zM277.3,178.3h5.5v5.44h-5.5zM299.5,178.3h5.5v5.44h-5.5zM371.5,178.3h5.5v5.44h-5.5zM421.4,178.3h5.5v5.44h-5.5zM432.5,178.3h5.5v5.44h-5.5zM150.1,183.8h2.4v5.44h-2.4zM354.9,183.8h5.5v5.44h-5.5zM382.6,183.8h5.5v5.44h-5.5zM410.3,183.8h5.5v5.44h-5.5zM187.8,189.2h3.0v5.44h-3.0zM249.6,189.2h5.5v5.44h-5.5zM288.4,189.2h5.5v5.44h-5.5zM223.2,194.6h3.5v5.44h-3.5zM288.4,194.6h5.5v5.44h-5.5zM399.2,194.6h5.5v5.44h-5.5zM426.9,194.6h5.5v5.44h-5.5zM366.0,200.1h5.5v5.44h-5.5zM410.3,200.1h5.5v5.44h-5.5zM415.8,200.1h5.5v5.44h-5.5zM115.4,205.5h1.9v5.44h-1.9zM310.6,205.5h5.5v5.44h-5.5zM343.8,205.5h5.5v5.44h-5.5zM92.5,210.9h1.6v5.44h-1.6zM349.4,210.9h5.5v5.44h-5.5zM410.3,210.9h5.5v5.44h-5.5zM145.3,216.4h2.4v5.44h-2.4zM377.1,216.4h5.5v5.44h-5.5zM410.3,216.4h5.5v5.44h-5.5zM426.9,216.4h5.5v5.44h-5.5zM316.1,221.8h5.5v5.44h-5.5zM360.4,221.8h5.5v5.44h-5.5zM432.5,221.8h5.5v5.44h-5.5zM83.3,227.2h1.5v5.44h-1.5zM316.1,227.2h5.5v5.44h-5.5zM338.3,227.2h5.5v5.44h-5.5zM343.8,227.2h5.5v5.44h-5.5zM360.4,227.2h5.5v5.44h-5.5zM393.7,227.2h5.5v5.44h-5.5zM404.8,227.2h5.5v5.44h-5.5zM343.8,232.7h5.5v5.44h-5.5zM349.4,232.7h5.5v5.44h-5.5zM354.9,232.7h5.5v5.44h-5.5zM410.3,232.7h5.5v5.44h-5.5zM426.9,232.7h5.5v5.44h-5.5zM316.1,238.1h5.5v5.44h-5.5zM343.8,238.1h5.5v5.44h-5.5zM371.5,238.1h5.5v5.44h-5.5zM421.4,238.1h5.5v5.44h-5.5zM94.1,243.6h1.6v5.44h-1.6zM316.1,243.6h5.5v5.44h-5.5zM382.6,243.6h5.5v5.44h-5.5zM415.8,243.6h5.5v5.44h-5.5zM421.4,243.6h5.5v5.44h-5.5zM310.6,249.0h5.5v5.44h-5.5zM332.7,249.0h5.5v5.44h-5.5zM388.1,249.0h5.5v5.44h-5.5zM129.6,254.4h2.1v5.44h-2.1zM310.6,254.4h5.5v5.44h-5.5zM343.8,254.4h5.5v5.44h-5.5zM382.6,254.4h5.5v5.44h-5.5zM388.1,254.4h5.5v5.44h-5.5zM432.5,254.4h5.5v5.44h-5.5zM131.7,259.9h2.2v5.44h-2.2zM299.5,259.9h5.5v5.44h-5.5zM360.4,259.9h5.5v5.44h-5.5zM371.5,259.9h5.5v5.44h-5.5zM377.1,259.9h5.5v5.44h-5.5zM404.8,259.9h5.5v5.44h-5.5zM321.6,265.3h5.5v5.44h-5.5zM332.7,265.3h5.5v5.44h-5.5zM343.8,265.3h5.5v5.44h-5.5zM360.4,265.3h5.5v5.44h-5.5zM382.6,265.3h5.5v5.44h-5.5zM140.7,270.8h2.3v5.44h-2.3zM305.0,270.8h5.5v5.44h-5.5zM332.7,270.8h5.5v5.44h-5.5zM393.7,270.8h5.5v5.44h-5.5zM354.9,276.2h5.5v5.44h-5.5zM404.8,276.2h5.5v5.44h-5.5zM432.5,276.2h5.5v5.44h-5.5zM152.6,281.6h2.5v5.44h-2.5zM305.0,281.6h5.5v5.44h-5.5zM338.3,281.6h5.5v5.44h-5.5zM360.4,281.6h5.5v5.44h-5.5zM371.5,281.6h5.5v5.44h-5.5zM388.1,281.6h5.5v5.44h-5.5zM410.3,281.6h5.5v5.44h-5.5zM360.4,287.1h5.5v5.44h-5.5zM388.1,287.1h5.5v5.44h-5.5zM404.8,287.1h5.5v5.44h-5.5zM321.6,292.5h5.5v5.44h-5.5zM426.9,292.5h5.5v5.44h-5.5zM432.5,297.9h5.5v5.44h-5.5zM170.7,303.4h2.7v5.44h-2.7zM338.3,303.4h5.5v5.44h-5.5zM354.9,303.4h5.5v5.44h-5.5zM399.2,303.4h5.5v5.44h-5.5zM426.9,303.4h5.5v5.44h-5.5zM310.6,308.8h5.5v5.44h-5.5zM316.1,308.8h5.5v5.44h-5.5zM338.3,308.8h5.5v5.44h-5.5zM349.4,308.8h5.5v5.44h-5.5zM382.6,308.8h5.5v5.44h-5.5zM123.3,314.2h2.1v5.44h-2.1zM371.5,314.2h5.5v5.44h-5.5zM382.6,314.2h5.5v5.44h-5.5zM393.7,314.2h5.5v5.44h-5.5zM399.2,314.2h5.5v5.44h-5.5zM327.2,319.7h5.5v5.44h-5.5zM316.1,325.1h5.5v5.44h-5.5zM343.8,325.1h5.5v5.44h-5.5zM366.0,325.1h5.5v5.44h-5.5zM310.6,330.6h5.5v5.44h-5.5zM349.4,330.6h5.5v5.44h-5.5zM377.1,330.6h5.5v5.44h-5.5zM140.7,341.4h2.3v5.44h-2.3zM299.5,341.4h5.5v5.44h-5.5zM305.0,341.4h5.5v5.44h-5.5zM138.4,346.9h2.3v5.44h-2.3zM145.3,346.9h2.4v5.44h-2.4zM310.6,346.9h5.5v5.44h-5.5zM349.4,346.9h5.5v5.44h-5.5zM360.4,346.9h5.5v5.44h-5.5zM388.1,346.9h5.5v5.44h-5.5zM393.7,346.9h5.5v5.44h-5.5zM404.8,346.9h5.5v5.44h-5.5zM170.7,352.3h2.7v5.44h-2.7zM388.1,352.3h5.5v5.44h-5.5zM432.5,352.3h5.5v5.44h-5.5zM327.2,357.8h5.5v5.44h-5.5zM349.4,357.8h5.5v5.44h-5.5zM410.3,357.8h5.5v5.44h-5.5zM145.3,363.2h2.4v5.44h-2.4zM168.0,363.2h2.7v5.44h-2.7zM388.1,363.2h5.5v5.44h-5.5zM168.0,368.6h2.7v5.44h-2.7zM321.6,368.6h5.5v5.44h-5.5zM415.8,368.6h5.5v5.44h-5.5zM343.8,374.1h5.5v5.44h-5.5zM382.6,374.1h5.5v5.44h-5.5zM393.7,374.1h5.5v5.44h-5.5zM343.8,379.5h5.5v5.44h-5.5zM360.4,379.5h5.5v5.44h-5.5zM121.3,384.9h2.0v5.44h-2.0zM321.6,384.9h5.5v5.44h-5.5zM421.4,384.9h5.5v5.44h-5.5zM432.5,384.9h5.5v5.44h-5.5zM343.8,390.4h5.5v5.44h-5.5zM366.0,390.4h5.5v5.44h-5.5zM410.3,390.4h5.5v5.44h-5.5zM173.5,395.8h2.8v5.44h-2.8zM305.0,395.8h5.5v5.44h-5.5zM310.6,395.8h5.5v5.44h-5.5zM327.2,395.8h5.5v5.44h-5.5zM338.3,395.8h5.5v5.44h-5.5zM343.8,395.8h5.5v5.44h-5.5zM432.5,395.8h5.5v5.44h-5.5zM305.0,401.2h5.5v5.44h-5.5zM327.2,401.2h5.5v5.44h-5.5zM343.8,401.2h5.5v5.44h-5.5zM382.6,401.2h5.5v5.44h-5.5zM388.1,401.2h5.5v5.44h-5.5zM410.3,401.2h5.5v5.44h-5.5zM388.1,406.7h5.5v5.44h-5.5zM115.4,412.1h1.9v5.44h-1.9zM147.7,412.1h2.4v5.44h-2.4zM343.8,412.1h5.5v5.44h-5.5zM360.4,412.1h5.5v5.44h-5.5zM415.8,412.1h5.5v5.44h-5.5zM432.5,412.1h5.5v5.44h-5.5zM305.0,417.6h5.5v5.44h-5.5zM321.6,417.6h5.5v5.44h-5.5zM360.4,417.6h5.5v5.44h-5.5zM382.6,417.6h5.5v5.44h-5.5zM415.8,417.6h5.5v5.44h-5.5zM133.9,423.0h2.2v5.44h-2.2zM316.1,428.4h5.5v5.44h-5.5zM360.4,428.4h5.5v5.44h-5.5zM366.0,428.4h5.5v5.44h-5.5zM421.4,428.4h5.5v5.44h-5.5zM349.4,433.9h5.5v5.44h-5.5zM349.4,439.3h5.5v5.44h-5.5zM415.8,439.3h5.5v5.44h-5.5zM321.6,444.8h5.5v5.44h-5.5zM332.7,444.8h5.5v5.44h-5.5zM404.8,444.8h5.5v5.44h-5.5zM382.6,450.2h5.5v5.44h-5.5zM421.4,450.2h5.5v5.44h-5.5zM338.3,455.6h5.5v5.44h-5.5zM343.8,455.6h5.5v5.44h-5.5zM421.4,455.6h5.5v5.44h-5.5zM426.9,455.6h5.5v5.44h-5.5zM102.5,461.1h1.8v5.44h-1.8zM349.4,461.1h5.5v5.44h-5.5zM366.0,461.1h5.5v5.44h-5.5zM87.8,466.5h1.5v5.44h-1.5zM332.7,466.5h5.5v5.44h-5.5zM354.9,466.5h5.5v5.44h-5.5zM415.8,466.5h5.5v5.44h-5.5zM155.0,471.9h2.5v5.44h-2.5zM327.2,471.9h5.5v5.44h-5.5zM360.4,471.9h5.5v5.44h-5.5zM426.9,471.9h5.5v5.44h-5.5zM299.5,477.4h5.5v5.44h-5.5zM316.1,477.4h5.5v5.44h-5.5zM327.2,477.4h5.5v5.44h-5.5zM349.4,477.4h5.5v5.44h-5.5zM377.1,477.4h5.5v5.44h-5.5zM421.4,477.4h5.5v5.44h-5.5zM83.3,482.8h1.5v5.44h-1.5zM316.1,482.8h5.5v5.44h-5.5zM321.6,482.8h5.5v5.44h-5.5zM332.7,482.8h5.5v5.44h-5.5zM338.3,482.8h5.5v5.44h-5.5zM415.8,488.2h5.5v5.44h-5.5zM310.6,493.7h5.5v5.44h-5.5zM332.7,493.7h5.5v5.44h-5.5zM426.9,493.7h5.5v5.44h-5.5zM305.0,499.1h5.5v5.44h-5.5zM366.0,499.1h5.5v5.44h-5.5zM404.8,499.1h5.5v5.44h-5.5zM327.2,504.6h5.5v5.44h-5.5z"/>
<path fill="#1b1b1b" d="M102.5,75.0h1.8v5.44h-1.8zM147.7,85.9h2.4v5.44h-2.4zM157.6,85.9h2.6v5.44h-2.6zM117.3,96.8h2.0v5.44h-2.0zM190.8,102.2h3.0v5.44h-3.0zM206.4,102.2h3.3v5.44h-3.3zM495.9,107.6h11.6v5.44h-11.6zM271.8,113.1h5.5v5.44h-5.5zM288.4,113.1h5.5v5.44h-5.5zM415.8,113.1h5.5v5.44h-5.5zM223.2,118.5h3.5v5.44h-3.5zM230.3,118.5h2.7v5.44h-2.7zM310.6,118.5h5.5v5.44h-5.5zM382.6,118.5h5.5v5.44h-5.5zM410.3,118.5h5.5v5.44h-5.5zM438.0,118.5h11.6v5.44h-11.6zM79.0,123.9h1.4v5.44h-1.4zM100.8,123.9h1.7v5.44h-1.7zM173.5,123.9h2.8v5.44h-2.8zM230.3,123.9h2.7v5.44h-2.7zM366.0,123.9h5.5v5.44h-5.5zM393.7,123.9h5.5v5.44h-5.5zM226.7,129.4h3.6v5.44h-3.6zM382.6,129.4h5.5v5.44h-5.5zM421.4,129.4h5.5v5.44h-5.5zM426.9,129.4h5.5v5.44h-5.5zM507.4,129.4h11.6v5.44h-11.6zM113.5,134.8h1.9v5.44h-1.9zM155.0,134.8h2.5v5.44h-2.5zM438.0,134.8h11.6v5.44h-11.6zM519.0,134.8h11.6v5.44h-11.6zM288.4,140.2h5.5v5.44h-5.5zM310.6,140.2h5.5v5.44h-5.5zM371.5,140.2h5.5v5.44h-5.5zM388.1,140.2h5.5v5.44h-5.5zM136.1,145.7h2.2v5.44h-2.2zM266.2,145.7h5.5v5.44h-5.5zM288.4,145.7h5.5v5.44h-5.5zM244.1,151.1h5.5v5.44h-5.5zM260.7,151.1h5.5v5.44h-5.5zM338.3,151.1h5.5v5.44h-5.5zM371.5,151.1h5.5v5.44h-5.5zM83.3,156.6h1.5v5.44h-1.5zM332.7,156.6h5.5v5.44h-5.5zM519.0,156.6h11.6v5.44h-11.6zM238.5,162.0h5.5v5.44h-5.5zM249.6,162.0h5.5v5.44h-5.5zM299.5,162.0h5.5v5.44h-5.5zM349.4,162.0h5.5v5.44h-5.5zM542.1,162.0h11.6v5.44h-11.6zM196.9,167.4h3.1v5.44h-3.1zM249.6,167.4h5.5v5.44h-5.5zM332.7,167.4h5.5v5.44h-5.5zM349.4,167.4h5.5v5.44h-5.5zM371.5,167.4h5.5v5.44h-5.5zM415.8,167.4h5.5v5.44h-5.5zM421.4,167.4h5.5v5.44h-5.5zM170.7,172.9h2.7v5.44h-2.7zM244.1,172.9h5.5v5.44h-5.5zM288.4,172.9h5.5v5.44h-5.5zM343.8,172.9h5.5v5.44h-5.5zM388.1,172.9h5.5v5.44h-5.5zM410.3,172.9h5.5v5.44h-5.5zM415.8,172.9h5.5v5.44h-5.5zM196.9,178.3h3.1v5.44h-3.1zM310.6,178.3h5.5v5.44h-5.5zM321.6,178.3h5.5v5.44h-5.5zM338.3,178.3h5.5v5.44h-5.5zM299.5,183.8h5.5v5.44h-5.5zM343.8,183.8h5.5v5.44h-5.5zM349.4,183.8h5.5v5.44h-5.5zM371.5,183.8h5.5v5.44h-5.5zM388.1,183.8h5.5v5.44h-5.5zM415.8,183.8h5.5v5.44h-5.5zM530.6,183.8h11.6v5.44h-11.6zM97.4,189.2h1.7v5.44h-1.7zM106.1,189.2h1.8v5.44h-1.8zM393.7,189.2h5.5v5.44h-5.5zM507.4,189.2h11.6v5.44h-11.6zM519.0,189.2h11.6v5.44h-11.6zM104.3,194.6h1.8v5.44h-1.8zM162.7,194.6h2.6v5.44h-2.6zM209.7,194.6h3.3v5.44h-3.3zM343.8,194.6h5.5v5.44h-5.5zM404.8,194.6h5.5v5.44h-5.5zM410.3,194.6h5.5v5.44h-5.5zM461.1,194.6h11.6v5.44h-11.6zM507.4,194.6h11.6v5.44h-11.6zM133.9,200.1h2.2v5.44h-2.2zM147.7,200.1h2.4v5.44h-2.4zM332.7,200.1h5.5v5.44h-5.5zM354.9,200.1h5.5v5.44h-5.5zM426.9,200.1h5.5v5.44h-5.5zM472.7,200.1h11.6v5.44h-11.6zM542.1,200.1h11.6v5.44h-11.6zM327.2,205.5h5.5v5.44h-5.5zM371.5,205.5h5.5v5.44h-5.5zM404.8,205.5h5.5v5.44h-5.5zM104.3,210.9h1.8v5.44h-1.8zM343.8,210.9h5.5v5.44h-5.5zM354.9,210.9h5.5v5.44h-5.5zM366.0,210.9h5.5v5.44h-5.5zM377.1,210.9h5.5v5.44h-5.5zM426.9,210.9h5.5v5.44h-5.5zM432.5,210.9h5.5v5.44h-5.5zM321.6,216.4h5.5v5.44h-5.5zM332.7,216.4h5.5v5.44h-5.5zM449.6,216.4h11.6v5.44h-11.6zM371.5,221.8h5.5v5.44h-5.5zM410.3,221.8h5.5v5.44h-5.5zM106.1,227.2h1.8v5.44h-1.8zM327.2,227.2h5.5v5.44h-5.5zM461.1,227.2h11.6v5.44h-11.6zM147.7,232.7h2.4v5.44h-2.4zM310.6,232.7h5.5v5.44h-5.5zM338.3,232.7h5.5v5.44h-5.5zM404.8,232.7h5.5v5.44h-5.5zM111.6,238.1h1.9v5.44h-1.9zM113.5,238.1h1.9v5.44h-1.9zM129.6,238.1h2.1v5.44h-2.1zM173.5,238.1h2.8v5.44h-2.8zM321.6,238.1h5.5v5.44h-5.5zM332.7,238.1h5.5v5.44h-5.5zM349.4,238.1h5.5v5.44h-5.5zM360.4,238.1h5.5v5.44h-5.5zM366.0,238.1h5.5v5.44h-5.5zM449.6,243.6h11.6v5.44h-11.6zM99.1,249.0h1.7v5.44h-1.7zM327.2,249.0h5.5v5.44h-5.5zM121.3,254.4h2.0v5.44h-2.0zM565.3,254.4h11.6v5.44h-11.6zM305.0,259.9h5.5v5.44h-5.5zM354.9,259.9h5.5v5.44h-5.5zM410.3,259.9h5.5v5.44h-5.5zM165.3,265.3h2.7v5.44h-2.7zM338.3,265.3h5.5v5.44h-5.5zM484.3,265.3h11.6v5.44h-11.6zM90.9,270.8h1.6v5.44h-1.6zM299.5,270.8h5.5v5.44h-5.5zM321.6,270.8h5.5v5.44h-5.5zM349.4,270.8h5.5v5.44h-5.5zM360.4,270.8h5.5v5.44h-5.5zM410.3,270.8h5.5v5.44h-5.5zM421.4,270.8h5.5v5.44h-5.5zM432.5,270.8h5.5v5.44h-5.5zM327.2,276.2h5.5v5.44h-5.5zM332.7,276.2h5.5v5.44h-5.5zM338.3,276.2h5.5v5.44h-5.5zM343.8,276.2h5.5v5.44h-5.5zM349.4,276.2h5.5v5.44h-5.5zM388.1,276.2h5.5v5.44h-5.5zM415.8,276.2h5.5v5.44h-5.5zM461.1,276.2h11.6v5.44h-11.6zM165.3,281.6h2.7v5.44h-2.7zM310.6,281.6h5.5v5.44h-5.5zM316.1,281.6h5.5v5.44h-5.5zM354.9,281.6h5.5v5.44h-5.5zM382.6,281.6h5.5v5.44h-5.5zM393.7,281.6h5.5v5.44h-5.5zM438.0,281.6h11.6v5.44h-11.6zM507.4,281.6h11.6v5.44h-11.6zM117.3,287.1h2.0v5.44h-2.0zM338.3,287.1h5.5v5.44h-5.5zM366.0,287.1h5.5v5.44h-5.5zM421.4,287.1h5.5v5.44h-5.5zM109.7,292.5h1.9v5.44h-1.9zM115.4,292.5h1.9v5.44h-1.9zM310.6,292.5h5.5v5.44h-5.5zM327.2,292.5h5.5v5.44h-5.5zM371.5,292.5h5.5v5.44h-5.5zM382.6,292.5h5.5v5.44h-5.5zM472.7,292.5h11.6v5.44h-11.6zM321.6,297.9h5.5v5.44h-5.5zM377.1,297.9h5.5v5.44h-5.5zM382.6,297.9h5.5v5.44h-5.5zM404.8,297.9h5.5v5.44h-5.5zM316.1,303.4h5.5v5.44h-5.5zM421.4,303.4h5.5v5.44h-5.5zM507.4,303.4h11.6v5.44h-11.6zM327.2,308.8h5.5v5.44h-5.5zM366.0,308.8h5.5v5.44h-5.5zM388.1,308.8h5.5v5.44h-5.5zM404.8,308.8h5.5v5.44h-5.5zM484.3,308.8h11.6v5.44h-11.6zM92.5,314.2h1.6v5.44h-1.6zM316.1,314.2h5.5v5.44h-5.5zM343.8,314.2h5.5v5.44h-5.5zM484.3,314.2h11.6v5.44h-11.6zM305.0,319.7h5.5v5.44h-5.5zM343.8,319.7h5.5v5.44h-5.5zM415.8,319.7h5.5v5.44h-5.5zM438.0,319.7h11.6v5.44h-11.6zM472.7,325.1h11.6v5.44h-11.6zM117.3,330.6h2.0v5.44h-2.0zM305.0,330.6h5.5v5.44h-5.5zM321.6,330.6h5.5v5.44h-5.5zM366.0,330.6h5.5v5.44h-5.5zM393.7,330.6h5.5v5.44h-5.5zM484.3,330.6h11.6v5.44h-11.6zM565.3,330.6h11.6v5.44h-11.6zM310.6,336.0h5.5v5.44h-5.5zM321.6,336.0h5.5v5.44h-5.5zM343.8,336.0h5.5v5.44h-5.5zM360.4,336.0h5.5v5.44h-5.5zM382.6,336.0h5.5v5.44h-5.5zM388.1,336.0h5.5v5.44h-5.5zM472.7,336.0h11.6v5.44h-11.6zM484.3,336.0h11.6v5.44h-11.6zM165.3,341.4h2.7v5.44h-2.7zM170.7,341.4h2.7v5.44h-2.7zM366.0,341.4h5.5v5.44h-5.5zM588.4,341.4h11.6v5.44h-11.6zM321.6,346.9h5.5v5.44h-5.5zM377.1,346.9h5.5v5.44h-5.5zM461.1,346.9h11.6v5.44h-11.6zM155.0,352.3h2.5v5.44h-2.5zM299.5,352.3h5.5v5.44h-5.5zM366.0,352.3h5.5v5.44h-5.5zM421.4,352.3h5.5v5.44h-5.5zM84.8,357.8h1.5v5.44h-1.5zM87.8,357.8h1.5v5.44h-1.5zM399.2,357.8h5.5v5.44h-5.5zM576.9,357.8h11.6v5.44h-11.6zM438.0,363.2h11.6v5.44h-11.6zM507.4,363.2h11.6v5.44h-11.6zM121.3,368.6h2.0v5.44h-2.0zM310.6,368.6h5.5v5.44h-5.5zM327.2,368.6h5.5v5.44h-5.5zM332.7,368.6h5.5v5.44h-5.5zM426.9,368.6h5.5v5.44h-5.5zM113.5,374.1h1.9v5.44h-1.9zM310.6,374.1h5.5v5.44h-5.5zM332.7,374.1h5.5v5.44h-5.5zM338.3,374.1h5.5v5.44h-5.5zM404.8,374.1h5.5v5.44h-5.5zM410.3,374.1h5.5v5.44h-5.5zM415.8,374.1h5.5v5.44h-5.5zM426.9,374.1h5.5v5.44h-5.5zM449.6,374.1h11.6v5.44h-11.6zM507.4,374.1h11.6v5.44h-11.6zM332.7,379.5h5.5v5.44h-5.5zM393.7,379.5h5.5v5.44h-5.5zM127.5,384.9h2.1v5.44h-2.1zM145.3,384.9h2.4v5.44h-2.4zM160.1,384.9h2.6v5.44h-2.6zM382.6,384.9h5.5v5.44h-5.5zM410.3,384.9h5.5v5.44h-5.5zM327.2,390.4h5.5v5.44h-5.5zM393.7,390.4h5.5v5.44h-5.5zM404.8,390.4h5.5v5.44h-5.5zM299.5,395.8h5.5v5.44h-5.5zM371.5,395.8h5.5v5.44h-5.5zM377.1,395.8h5.5v5.44h-5.5zM404.8,395.8h5.5v5.44h-5.5zM565.3,395.8h11.6v5.44h-11.6zM393.7,401.2h5.5v5.44h-5.5zM399.2,401.2h5.5v5.44h-5.5zM461.1,401.2h11.6v5.44h-11.6zM316.1,406.7h5.5v5.44h-5.5zM404.8,406.7h5.5v5.44h-5.5zM310.6,412.1h5.5v5.44h-5.5zM327.2,417.6h5.5v5.44h-5.5zM371.5,417.6h5.5v5.44h-5.5zM432.5,417.6h5.5v5.44h-5.5zM553.7,417.6h11.6v5.44h-11.6zM310.6,423.0h5.5v5.44h-5.5zM438.0,423.0h11.6v5.44h-11.6zM119.3,428.4h2.0v5.44h-2.0zM343.8,428.4h5.5v5.44h-5.5zM371.5,428.4h5.5v5.44h-5.5zM410.3,428.4h5.5v5.44h-5.5zM377.1,433.9h5.5v5.44h-5.5zM382.6,433.9h5.5v5.44h-5.5zM393.7,433.9h5.5v5.44h-5.5zM404.8,433.9h5.5v5.44h-5.5zM484.3,433.9h11.6v5.44h-11.6zM305.0,439.3h5.5v5.44h-5.5zM421.4,439.3h5.5v5.44h-5.5zM519.0,439.3h11.6v5.44h-11.6zM588.4,439.3h11.6v5.44h-11.6zM84.8,450.2h1.5v5.44h-1.5zM102.5,450.2h1.8v5.44h-1.8zM316.1,450.2h5.5v5.44h-5.5zM338.3,450.2h5.5v5.44h-5.5zM354.9,450.2h5.5v5.44h-5.5zM360.4,450.2h5.5v5.44h-5.5zM321.6,455.6h5.5v5.44h-5.5zM354.9,455.6h5.5v5.44h-5.5zM371.5,455.6h5.5v5.44h-5.5zM136.1,461.1h2.2v5.44h-2.2zM162.7,461.1h2.6v5.44h-2.6zM321.6,461.1h5.5v5.44h-5.5zM388.1,461.1h5.5v5.44h-5.5zM399.2,461.1h5.5v5.44h-5.5zM404.8,461.1h5.5v5.44h-5.5zM565.3,461.1h11.6v5.44h-11.6zM299.5,466.5h5.5v5.44h-5.5zM360.4,466.5h5.5v5.44h-5.5zM432.5,466.5h5.5v5.44h-5.5zM305.0,471.9h5.5v5.44h-5.5zM316.1,471.9h5.5v5.44h-5.5zM421.4,471.9h5.5v5.44h-5.5zM371.5,477.4h5.5v5.44h-5.5zM388.1,477.4h5.5v5.44h-5.5zM461.1,477.4h11.6v5.44h-11.6zM113.5,482.8h1.9v5.44h-1.9zM299.5,482.8h5.5v5.44h-5.5zM507.4,482.8h11.6v5.44h-11.6zM138.4,488.2h2.3v5.44h-2.3zM377.1,488.2h5.5v5.44h-5.5zM404.8,488.2h5.5v5.44h-5.5zM438.0,488.2h11.6v5.44h-11.6zM461.1,488.2h11.6v5.44h-11.6zM321.6,493.7h5.5v5.44h-5.5zM327.2,493.7h5.5v5.44h-5.5zM343.8,493.7h5.5v5.44h-5.5zM349.4,493.7h5.5v5.44h-5.5zM415.8,493.7h5.5v5.44h-5.5zM432.5,493.7h5.5v5.44h-5.5zM125.4,499.1h2.1v5.44h-2.1zM150.1,499.1h2.4v5.44h-2.4zM316.1,499.1h5.5v5.44h-5.5zM332.7,499.1h5.5v5.44h-5.5zM388.1,499.1h5.5v5.44h-5.5zM421.4,499.1h5.5v5.44h-5.5zM143.0,504.6h2.3v5.44h-2.3zM360.4,504.6h5.5v5.44h-5.5zM382.6,504.6h5.5v5.44h-5.5zM404.8,504.6h5.5v5.44h-5.5zM484.3,504.6h11.6v5.44h-11.6zM576.9,504.6h11.6v5.44h-11.6z"/>
<path fill="#1c1c1c" d="M181.9,85.9h2.9v5.44h-2.9zM95.8,91.3h1.7v5.44h-1.7zM102.5,91.3h1.8v5.44h-1.8zM99.1,102.2h1.7v5.44h-1.7zM106.1,102.2h1.8v5.44h-1.8zM371.5,102.2h5.5v5.44h-5.5zM349.4,107.6h5.5v5.44h-5.5zM377.1,107.6h5.5v5.44h-5.5zM399.2,107.6h5.5v5.44h-5.5zM196.9,113.1h3.1v5.44h-3.1zM388.1,113.1h5.5v5.44h-5.5zM410.3,113.1h5.5v5.44h-5.5zM399.2,118.5h5.5v5.44h-5.5zM404.8,118.5h5.5v5.44h-5.5zM260.7,123.9h5.5v5.44h-5.5zM288.4,123.9h5.5v5.44h-5.5zM238.5,129.4h5.5v5.44h-5.5zM249.6,129.4h5.5v5.44h-5.5zM399.2,129.4h5.5v5.44h-5.5zM484.3,129.4h11.6v5.44h-11.6zM415.8,134.8h5.5v5.44h-5.5zM421.4,134.8h5.5v5.44h-5.5zM461.1,134.8h11.6v5.44h-11.6zM83.3,140.2h1.5v5.44h-1.5zM138.4,140.2h2.3v5.44h-2.3zM343.8,140.2h5.5v5.44h-5.5zM399.2,140.2h5.5v5.44h-5.5zM432.5,140.2h5.5v5.44h-5.5zM190.8,145.7h3.0v5.44h-3.0zM415.8,145.7h5.5v5.44h-5.5zM119.3,151.1h2.0v5.44h-2.0zM213.0,151.1h3.4v5.44h-3.4zM461.1,151.1h11.6v5.44h-11.6zM472.7,151.1h11.6v5.44h-11.6zM138.4,156.6h2.3v5.44h-2.3zM238.5,156.6h5.5v5.44h-5.5zM244.1,156.6h5.5v5.44h-5.5zM338.3,156.6h5.5v5.44h-5.5zM432.5,156.6h5.5v5.44h-5.5zM449.6,156.6h11.6v5.44h-11.6zM102.5,162.0h1.8v5.44h-1.8zM244.1,162.0h5.5v5.44h-5.5zM305.0,162.0h5.5v5.44h-5.5zM495.9,162.0h11.6v5.44h-11.6zM388.1,167.4h5.5v5.44h-5.5zM382.6,172.9h5.5v5.44h-5.5zM393.7,172.9h5.5v5.44h-5.5zM399.2,172.9h5.5v5.44h-5.5zM472.7,172.9h11.6v5.44h-11.6zM507.4,172.9h11.6v5.44h-11.6zM81.9,178.3h1.5v5.44h-1.5zM266.2,178.3h5.5v5.44h-5.5zM271.8,178.3h5.5v5.44h-5.5zM305.0,178.3h5.5v5.44h-5.5zM377.1,178.3h5.5v5.44h-5.5zM86.3,183.8h1.5v5.44h-1.5zM162.7,183.8h2.6v5.44h-2.6zM209.7,183.8h3.3v5.44h-3.3zM288.4,183.8h5.5v5.44h-5.5zM316.1,183.8h5.5v5.44h-5.5zM393.7,183.8h5.5v5.44h-5.5zM449.6,183.8h11.6v5.44h-11.6zM507.4,183.8h11.6v5.44h-11.6zM89.4,189.2h1.6v5.44h-1.6zM377.1,189.2h5.5v5.44h-5.5zM410.3,189.2h5.5v5.44h-5.5zM421.4,189.2h5.5v5.44h-5.5zM438.0,189.2h11.6v5.44h-11.6zM472.7,189.2h11.6v5.44h-11.6zM95.8,194.6h1.7v5.44h-1.7zM115.4,194.6h1.9v5.44h-1.9zM238.5,194.6h5.5v5.44h-5.5zM377.1,194.6h5.5v5.44h-5.5zM415.8,194.6h5.5v5.44h-5.5zM495.9,194.6h11.6v5.44h-11.6zM152.6,200.1h2.5v5.44h-2.5zM343.8,200.1h5.5v5.44h-5.5zM421.4,200.1h5.5v5.44h-5.5zM170.7,205.5h2.7v5.44h-2.7zM461.1,205.5h11.6v5.44h-11.6zM495.9,205.5h11.6v5.44h-11.6zM507.4,205.5h11.6v5.44h-11.6zM530.6,205.5h11.6v5.44h-11.6zM360.4,210.9h5.5v5.44h-5.5zM421.4,210.9h5.5v5.44h-5.5zM449.6,210.9h11.6v5.44h-11.6zM507.4,210.9h11.6v5.44h-11.6zM87.8,216.4h1.5v5.44h-1.5zM170.7,216.4h2.7v5.44h-2.7zM310.6,216.4h5.5v5.44h-5.5zM484.3,216.4h11.6v5.44h-11.6zM399.2,221.8h5.5v5.44h-5.5zM449.6,221.8h11.6v5.44h-11.6zM530.6,221.8h11.6v5.44h-11.6zM565.3,221.8h11.6v5.44h-11.6zM371.5,227.2h5.5v5.44h-5.5zM388.1,227.2h5.5v5.44h-5.5zM321.6,232.7h5.5v5.44h-5.5zM449.6,232.7h11.6v5.44h-11.6zM472.7,232.7h11.6v5.44h-11.6zM507.4,232.7h11.6v5.44h-11.6zM162.7,238.1h2.6v5.44h-2.6zM299.5,238.1h5.5v5.44h-5.5zM310.6,238.1h5.5v5.44h-5.5zM377.1,238.1h5.5v5.44h-5.5zM404.8,238.1h5.5v5.44h-5.5zM507.4,238.1h11.6v5.44h-11.6zM553.7,238.1h11.6v5.44h-11.6zM565.3,238.1h11.6v5.44h-11.6zM87.8,243.6h1.5v5.44h-1.5zM305.0,243.6h5.5v5.44h-5.5zM131.7,249.0h2.2v5.44h-2.2zM147.7,249.0h2.4v5.44h-2.4zM343.8,249.0h5.5v5.44h-5.5zM349.4,249.0h5.5v5.44h-5.5zM399.2,249.0h5.5v5.44h-5.5zM404.8,249.0h5.5v5.44h-5.5zM432.5,249.0h5.5v5.44h-5.5zM438.0,249.0h11.6v5.44h-11.6zM449.6,249.0h11.6v5.44h-11.6zM461.1,249.0h11.6v5.44h-11.6zM472.7,249.0h11.6v5.44h-11.6zM495.9,249.0h11.6v5.44h-11.6zM542.1,249.0h11.6v5.44h-11.6zM168.0,254.4h2.7v5.44h-2.7zM366.0,254.4h5.5v5.44h-5.5zM377.1,254.4h5.5v5.44h-5.5zM410.3,254.4h5.5v5.44h-5.5zM426.9,254.4h5.5v5.44h-5.5zM472.7,254.4h11.6v5.44h-11.6zM507.4,254.4h11.6v5.44h-11.6zM588.4,254.4h11.6v5.44h-11.6zM310.6,259.9h5.5v5.44h-5.5zM438.0,259.9h11.6v5.44h-11.6zM86.3,265.3h1.5v5.44h-1.5zM87.8,265.3h1.5v5.44h-1.5zM305.0,265.3h5.5v5.44h-5.5zM415.8,265.3h5.5v5.44h-5.5zM421.4,265.3h5.5v5.44h-5.5zM432.5,265.3h5.5v5.44h-5.5zM472.7,265.3h11.6v5.44h-11.6zM461.1,270.8h11.6v5.44h-11.6zM507.4,270.8h11.6v5.44h-11.6zM84.8,276.2h1.5v5.44h-1.5zM170.7,276.2h2.7v5.44h-2.7zM310.6,276.2h5.5v5.44h-5.5zM399.2,276.2h5.5v5.44h-5.5zM438.0,276.2h11.6v5.44h-11.6zM484.3,276.2h11.6v5.44h-11.6zM542.1,276.2h11.6v5.44h-11.6zM377.1,281.6h5.5v5.44h-5.5zM432.5,281.6h5.5v5.44h-5.5zM495.9,281.6h11.6v5.44h-11.6zM530.6,281.6h11.6v5.44h-11.6zM484.3,287.1h11.6v5.44h-11.6zM507.4,287.1h11.6v5.44h-11.6zM332.7,292.5h5.5v5.44h-5.5zM421.4,292.5h5.5v5.44h-5.5zM495.9,292.5h11.6v5.44h-11.6zM519.0,292.5h11.6v5.44h-11.6zM426.9,297.9h5.5v5.44h-5.5zM495.9,297.9h11.6v5.44h-11.6zM519.0,297.9h11.6v5.44h-11.6zM310.6,303.4h5.5v5.44h-5.5zM461.1,303.4h11.6v5.44h-11.6zM131.7,308.8h2.2v5.44h-2.2zM415.8,308.8h5.5v5.44h-5.5zM461.1,308.8h11.6v5.44h-11.6zM519.0,308.8h11.6v5.44h-11.6zM410.3,314.2h5.5v5.44h-5.5zM421.4,314.2h5.5v5.44h-5.5zM472.7,314.2h11.6v5.44h-11.6zM495.9,314.2h11.6v5.44h-11.6zM366.0,319.7h5.5v5.44h-5.5zM377.1,319.7h5.5v5.44h-5.5zM461.1,319.7h11.6v5.44h-11.6zM143.0,325.1h2.3v5.44h-2.3zM310.6,325.1h5.5v5.44h-5.5zM332.7,325.1h5.5v5.44h-5.5zM449.6,325.1h11.6v5.44h-11.6zM316.1,330.6h5.5v5.44h-5.5zM404.8,330.6h5.5v5.44h-5.5zM410.3,330.6h5.5v5.44h-5.5zM415.8,330.6h5.5v5.44h-5.5zM461.1,330.6h11.6v5.44h-11.6zM519.0,330.6h11.6v5.44h-11.6zM117.3,336.0h2.0v5.44h-2.0zM145.3,336.0h2.4v5.44h-2.4zM449.6,336.0h11.6v5.44h-11.6zM327.2,341.4h5.5v5.44h-5.5zM382.6,341.4h5.5v5.44h-5.5zM388.1,341.4h5.5v5.44h-5.5zM410.3,341.4h5.5v5.44h-5.5zM305.0,346.9h5.5v5.44h-5.5zM421.4,346.9h5.5v5.44h-5.5zM553.7,346.9h11.6v5.44h-11.6zM377.1,352.3h5.5v5.44h-5.5zM553.7,352.3h11.6v5.44h-11.6zM316.1,357.8h5.5v5.44h-5.5zM338.3,357.8h5.5v5.44h-5.5zM388.1,357.8h5.5v5.44h-5.5zM393.7,357.8h5.5v5.44h-5.5zM472.7,357.8h11.6v5.44h-11.6zM519.0,357.8h11.6v5.44h-11.6zM530.6,357.8h11.6v5.44h-11.6zM115.4,363.2h1.9v5.44h-1.9zM338.3,363.2h5.5v5.44h-5.5zM354.9,363.2h5.5v5.44h-5.5zM432.5,363.2h5.5v5.44h-5.5zM102.5,368.6h1.8v5.44h-1.8zM338.3,368.6h5.5v5.44h-5.5zM399.2,368.6h5.5v5.44h-5.5zM449.6,368.6h11.6v5.44h-11.6zM461.1,368.6h11.6v5.44h-11.6zM472.7,368.6h11.6v5.44h-11.6zM305.0,374.1h5.5v5.44h-5.5zM349.4,374.1h5.5v5.44h-5.5zM354.9,374.1h5.5v5.44h-5.5zM495.9,374.1h11.6v5.44h-11.6zM576.9,374.1h11.6v5.44h-11.6zM109.7,379.5h1.9v5.44h-1.9zM299.5,379.5h5.5v5.44h-5.5zM438.0,379.5h11.6v5.44h-11.6zM472.7,379.5h11.6v5.44h-11.6zM495.9,379.5h11.6v5.44h-11.6zM542.1,379.5h11.6v5.44h-11.6zM576.9,379.5h11.6v5.44h-11.6zM147.7,384.9h2.4v5.44h-2.4zM404.8,384.9h5.5v5.44h-5.5zM438.0,384.9h11.6v5.44h-11.6zM143.0,390.4h2.3v5.44h-2.3zM354.9,390.4h5.5v5.44h-5.5zM377.1,390.4h5.5v5.44h-5.5zM421.4,390.4h5.5v5.44h-5.5zM461.1,390.4h11.6v5.44h-11.6zM472.7,390.4h11.6v5.44h-11.6zM484.3,390.4h11.6v5.44h-11.6zM530.6,390.4h11.6v5.44h-11.6zM588.4,390.4h11.6v5.44h-11.6zM332.7,395.8h5.5v5.44h-5.5zM438.0,395.8h11.6v5.44h-11.6zM472.7,395.8h11.6v5.44h-11.6zM530.6,395.8h11.6v5.44h-11.6zM310.6,401.2h5.5v5.44h-5.5zM349.4,401.2h5.5v5.44h-5.5zM484.3,401.2h11.6v5.44h-11.6zM530.6,401.2h11.6v5.44h-11.6zM140.7,406.7h2.3v5.44h-2.3zM432.5,406.7h5.5v5.44h-5.5zM438.0,406.7h11.6v5.44h-11.6zM507.4,406.7h11.6v5.44h-11.6zM530.6,406.7h11.6v5.44h-11.6zM366.0,412.1h5.5v5.44h-5.5zM404.8,412.1h5.5v5.44h-5.5zM438.0,412.1h11.6v5.44h-11.6zM495.9,412.1h11.6v5.44h-11.6zM310.6,417.6h5.5v5.44h-5.5zM332.7,417.6h5.5v5.44h-5.5zM421.4,417.6h5.5v5.44h-5.5zM449.6,417.6h11.6v5.44h-11.6zM147.7,423.0h2.4v5.44h-2.4zM360.4,423.0h5.5v5.44h-5.5zM366.0,423.0h5.5v5.44h-5.5zM377.1,423.0h5.5v5.44h-5.5zM495.9,423.0h11.6v5.44h-11.6zM507.4,423.0h11.6v5.44h-11.6zM530.6,423.0h11.6v5.44h-11.6zM305.0,428.4h5.5v5.44h-5.5zM415.8,428.4h5.5v5.44h-5.5zM438.0,428.4h11.6v5.44h-11.6zM449.6,428.4h11.6v5.44h-11.6zM542.1,428.4h11.6v5.44h-11.6zM565.3,428.4h11.6v5.44h-11.6zM321.6,433.9h5.5v5.44h-5.5zM438.0,433.9h11.6v5.44h-11.6zM449.6,433.9h11.6v5.44h-11.6zM576.9,433.9h11.6v5.44h-11.6zM102.5,439.3h1.8v5.44h-1.8zM316.1,439.3h5.5v5.44h-5.5zM327.2,439.3h5.5v5.44h-5.5zM432.5,439.3h5.5v5.44h-5.5zM565.3,439.3h11.6v5.44h-11.6zM310.6,444.8h5.5v5.44h-5.5zM327.2,444.8h5.5v5.44h-5.5zM371.5,444.8h5.5v5.44h-5.5zM332.7,450.2h5.5v5.44h-5.5zM349.4,450.2h5.5v5.44h-5.5zM106.1,455.6h1.8v5.44h-1.8zM377.1,455.6h5.5v5.44h-5.5zM399.2,455.6h5.5v5.44h-5.5zM410.3,455.6h5.5v5.44h-5.5zM461.1,455.6h11.6v5.44h-11.6zM507.4,455.6h11.6v5.44h-11.6zM327.2,461.1h5.5v5.44h-5.5zM360.4,461.1h5.5v5.44h-5.5zM371.5,461.1h5.5v5.44h-5.5zM432.5,461.1h5.5v5.44h-5.5zM519.0,461.1h11.6v5.44h-11.6zM542.1,461.1h11.6v5.44h-11.6zM127.5,466.5h2.1v5.44h-2.1zM310.6,466.5h5.5v5.44h-5.5zM388.1,466.5h5.5v5.44h-5.5zM438.0,466.5h11.6v5.44h-11.6zM519.0,466.5h11.6v5.44h-11.6zM542.1,466.5h11.6v5.44h-11.6zM111.6,471.9h1.9v5.44h-1.9zM299.5,471.9h5.5v5.44h-5.5zM377.1,471.9h5.5v5.44h-5.5zM404.8,471.9h5.5v5.44h-5.5zM438.0,471.9h11.6v5.44h-11.6zM542.1,471.9h11.6v5.44h-11.6zM553.7,471.9h11.6v5.44h-11.6zM432.5,477.4h5.5v5.44h-5.5zM472.7,477.4h11.6v5.44h-11.6zM165.3,482.8h2.7v5.44h-2.7zM327.2,482.8h5.5v5.44h-5.5zM432.5,482.8h5.5v5.44h-5.5zM152.6,488.2h2.5v5.44h-2.5zM310.6,488.2h5.5v5.44h-5.5zM349.4,488.2h5.5v5.44h-5.5zM162.7,493.7h2.6v5.44h-2.6zM382.6,493.7h5.5v5.44h-5.5zM388.1,493.7h5.5v5.44h-5.5zM404.8,493.7h5.5v5.44h-5.5zM410.3,493.7h5.5v5.44h-5.5zM438.0,493.7h11.6v5.44h-11.6zM565.3,493.7h11.6v5.44h-11.6zM86.3,499.1h1.5v5.44h-1.5zM507.4,499.1h11.6v5.44h-11.6zM542.1,499.1h11.6v5.44h-11.6zM310.6,504.6h5.5v5.44h-5.5zM366.0,504.6h5.5v5.44h-5.5zM519.0,504.6h11.6v5.44h-11.6zM588.4,504.6h11.6v5.44h-11.6z"/>
<path fill="#1d1d1d" d="M111.6,75.0h1.9v5.44h-1.9zM92.5,85.9h1.6v5.44h-1.6zM121.3,96.8h2.0v5.44h-2.0zM109.7,102.2h1.9v5.44h-1.9zM129.6,102.2h2.1v5.44h-2.1zM133.9,102.2h2.2v5.44h-2.2zM484.3,102.2h11.6v5.44h-11.6zM92.5,107.6h1.6v5.44h-1.6zM104.3,107.6h1.8v5.44h-1.8zM299.5,107.6h5.5v5.44h-5.5zM99.1,113.1h1.7v5.44h-1.7zM155.0,113.1h2.5v5.44h-2.5zM343.8,113.1h5.5v5.44h-5.5zM277.3,118.5h5.5v5.44h-5.5zM282.9,123.9h5.5v5.44h-5.5zM360.4,123.9h5.5v5.44h-5.5zM371.5,123.9h5.5v5.44h-5.5zM415.8,123.9h5.5v5.44h-5.5zM438.0,123.9h11.6v5.44h-11.6zM484.3,123.9h11.6v5.44h-11.6zM519.0,123.9h11.6v5.44h-11.6zM282.9,129.4h5.5v5.44h-5.5zM404.8,129.4h5.5v5.44h-5.5zM106.1,134.8h1.8v5.44h-1.8zM238.5,134.8h5.5v5.44h-5.5zM388.1,134.8h5.5v5.44h-5.5zM415.8,140.2h5.5v5.44h-5.5zM426.9,140.2h5.5v5.44h-5.5zM81.9,145.7h1.5v5.44h-1.5zM87.8,145.7h1.5v5.44h-1.5zM102.5,145.7h1.8v5.44h-1.8zM426.9,145.7h5.5v5.44h-5.5zM449.6,145.7h11.6v5.44h-11.6zM472.7,145.7h11.6v5.44h-11.6zM519.0,145.7h11.6v5.44h-11.6zM97.4,151.1h1.7v5.44h-1.7zM288.4,151.1h5.5v5.44h-5.5zM382.6,151.1h5.5v5.44h-5.5zM388.1,151.1h5.5v5.44h-5.5zM415.8,151.1h5.5v5.44h-5.5zM507.4,151.1h11.6v5.44h-11.6zM530.6,151.1h11.6v5.44h-11.6zM89.4,156.6h1.6v5.44h-1.6zM410.3,156.6h5.5v5.44h-5.5zM421.4,156.6h5.5v5.44h-5.5zM426.9,156.6h5.5v5.44h-5.5zM106.1,162.0h1.8v5.44h-1.8zM271.8,162.0h5.5v5.44h-5.5zM288.4,167.4h5.5v5.44h-5.5zM393.7,167.4h5.5v5.44h-5.5zM461.1,167.4h11.6v5.44h-11.6zM530.6,167.4h11.6v5.44h-11.6zM84.8,172.9h1.5v5.44h-1.5zM449.6,172.9h11.6v5.44h-11.6zM461.1,172.9h11.6v5.44h-11.6zM495.9,172.9h11.6v5.44h-11.6zM354.9,178.3h5.5v5.44h-5.5zM507.4,178.3h11.6v5.44h-11.6zM266.2,183.8h5.5v5.44h-5.5zM404.8,183.8h5.5v5.44h-5.5zM421.4,183.8h5.5v5.44h-5.5zM196.9,189.2h3.1v5.44h-3.1zM260.7,189.2h5.5v5.44h-5.5zM271.8,189.2h5.5v5.44h-5.5zM484.3,189.2h11.6v5.44h-11.6zM530.6,189.2h11.6v5.44h-11.6zM260.7,194.6h5.5v5.44h-5.5zM327.2,194.6h5.5v5.44h-5.5zM338.3,194.6h5.5v5.44h-5.5zM100.8,200.1h1.7v5.44h-1.7zM388.1,200.1h5.5v5.44h-5.5zM530.6,200.1h11.6v5.44h-11.6zM83.3,205.5h1.5v5.44h-1.5zM377.1,205.5h5.5v5.44h-5.5zM519.0,205.5h11.6v5.44h-11.6zM160.1,210.9h2.6v5.44h-2.6zM349.4,216.4h5.5v5.44h-5.5zM507.4,216.4h11.6v5.44h-11.6zM377.1,221.8h5.5v5.44h-5.5zM472.7,221.8h11.6v5.44h-11.6zM170.7,227.2h2.7v5.44h-2.7zM495.9,227.2h11.6v5.44h-11.6zM123.3,232.7h2.1v5.44h-2.1zM327.2,232.7h5.5v5.44h-5.5zM432.5,232.7h5.5v5.44h-5.5zM530.6,232.7h11.6v5.44h-11.6zM388.1,238.1h5.5v5.44h-5.5zM145.3,243.6h2.4v5.44h-2.4zM354.9,243.6h5.5v5.44h-5.5zM484.3,243.6h11.6v5.44h-11.6zM495.9,243.6h11.6v5.44h-11.6zM519.0,243.6h11.6v5.44h-11.6zM129.6,249.0h2.1v5.44h-2.1zM421.4,249.0h5.5v5.44h-5.5zM100.8,254.4h1.7v5.44h-1.7zM371.5,254.4h5.5v5.44h-5.5zM404.8,254.4h5.5v5.44h-5.5zM519.0,254.4h11.6v5.44h-11.6zM530.6,254.4h11.6v5.44h-11.6zM102.5,265.3h1.8v5.44h-1.8zM155.0,265.3h2.5v5.44h-2.5zM354.9,265.3h5.5v5.44h-5.5zM366.0,276.2h5.5v5.44h-5.5zM343.8,281.6h5.5v5.44h-5.5zM484.3,281.6h11.6v5.44h-11.6zM519.0,281.6h11.6v5.44h-11.6zM565.3,281.6h11.6v5.44h-11.6zM83.3,287.1h1.5v5.44h-1.5zM299.5,287.1h5.5v5.44h-5.5zM382.6,287.1h5.5v5.44h-5.5zM438.0,287.1h11.6v5.44h-11.6zM143.0,292.5h2.3v5.44h-2.3zM461.1,292.5h11.6v5.44h-11.6zM553.7,292.5h11.6v5.44h-11.6zM576.9,297.9h11.6v5.44h-11.6zM117.3,303.4h2.0v5.44h-2.0zM354.9,308.8h5.5v5.44h-5.5zM377.1,308.8h5.5v5.44h-5.5zM426.9,308.8h5.5v5.44h-5.5zM472.7,308.8h11.6v5.44h-11.6zM576.9,308.8h11.6v5.44h-11.6zM415.8,314.2h5.5v5.44h-5.5zM461.1,314.2h11.6v5.44h-11.6zM519.0,314.2h11.6v5.44h-11.6zM152.6,319.7h2.5v5.44h-2.5zM338.3,319.7h5.5v5.44h-5.5zM410.3,325.1h5.5v5.44h-5.5zM111.6,330.6h1.9v5.44h-1.9zM115.4,330.6h1.9v5.44h-1.9zM495.9,330.6h11.6v5.44h-11.6zM553.7,330.6h11.6v5.44h-11.6zM127.5,336.0h2.1v5.44h-2.1zM299.5,336.0h5.5v5.44h-5.5zM495.9,336.0h11.6v5.44h-11.6zM310.6,341.4h5.5v5.44h-5.5zM332.7,341.4h5.5v5.44h-5.5zM371.5,341.4h5.5v5.44h-5.5zM377.1,341.4h5.5v5.44h-5.5zM393.7,341.4h5.5v5.44h-5.5zM399.2,341.4h5.5v5.44h-5.5zM432.5,341.4h5.5v5.44h-5.5zM461.1,341.4h11.6v5.44h-11.6zM410.3,346.9h5.5v5.44h-5.5zM426.9,346.9h5.5v5.44h-5.5zM530.6,346.9h11.6v5.44h-11.6zM371.5,352.3h5.5v5.44h-5.5zM399.2,352.3h5.5v5.44h-5.5zM449.6,352.3h11.6v5.44h-11.6zM472.7,352.3h11.6v5.44h-11.6zM519.0,352.3h11.6v5.44h-11.6zM332.7,357.8h5.5v5.44h-5.5zM415.8,357.8h5.5v5.44h-5.5zM421.4,357.8h5.5v5.44h-5.5zM438.0,357.8h11.6v5.44h-11.6zM321.6,363.2h5.5v5.44h-5.5zM382.6,363.2h5.5v5.44h-5.5zM495.9,363.2h11.6v5.44h-11.6zM519.0,363.2h11.6v5.44h-11.6zM553.7,363.2h11.6v5.44h-11.6zM143.0,368.6h2.3v5.44h-2.3zM438.0,368.6h11.6v5.44h-11.6zM123.3,374.1h2.1v5.44h-2.1zM155.0,374.1h2.5v5.44h-2.5zM377.1,374.1h5.5v5.44h-5.5zM305.0,379.5h5.5v5.44h-5.5zM321.6,379.5h5.5v5.44h-5.5zM327.2,379.5h5.5v5.44h-5.5zM399.2,379.5h5.5v5.44h-5.5zM165.3,384.9h2.7v5.44h-2.7zM354.9,384.9h5.5v5.44h-5.5zM299.5,390.4h5.5v5.44h-5.5zM415.8,390.4h5.5v5.44h-5.5zM507.4,390.4h11.6v5.44h-11.6zM349.4,395.8h5.5v5.44h-5.5zM366.0,395.8h5.5v5.44h-5.5zM421.4,395.8h5.5v5.44h-5.5zM507.4,395.8h11.6v5.44h-11.6zM576.9,395.8h11.6v5.44h-11.6zM321.6,401.2h5.5v5.44h-5.5zM338.3,406.7h5.5v5.44h-5.5zM472.7,406.7h11.6v5.44h-11.6zM338.3,412.1h5.5v5.44h-5.5zM354.9,412.1h5.5v5.44h-5.5zM349.4,417.6h5.5v5.44h-5.5zM399.2,417.6h5.5v5.44h-5.5zM472.7,417.6h11.6v5.44h-11.6zM299.5,423.0h5.5v5.44h-5.5zM426.9,423.0h5.5v5.44h-5.5zM432.5,423.0h5.5v5.44h-5.5zM461.1,423.0h11.6v5.44h-11.6zM155.0,428.4h2.5v5.44h-2.5zM377.1,428.4h5.5v5.44h-5.5zM495.9,428.4h11.6v5.44h-11.6zM507.4,428.4h11.6v5.44h-11.6zM519.0,428.4h11.6v5.44h-11.6zM530.6,428.4h11.6v5.44h-11.6zM92.5,433.9h1.6v5.44h-1.6zM299.5,433.9h5.5v5.44h-5.5zM472.7,433.9h11.6v5.44h-11.6zM507.4,433.9h11.6v5.44h-11.6zM472.7,439.3h11.6v5.44h-11.6zM484.3,439.3h11.6v5.44h-11.6zM87.8,444.8h1.5v5.44h-1.5zM338.3,444.8h5.5v5.44h-5.5zM360.4,444.8h5.5v5.44h-5.5zM421.4,444.8h5.5v5.44h-5.5zM432.5,444.8h5.5v5.44h-5.5zM115.4,450.2h1.9v5.44h-1.9zM449.6,450.2h11.6v5.44h-11.6zM530.6,450.2h11.6v5.44h-11.6zM87.8,455.6h1.5v5.44h-1.5zM349.4,455.6h5.5v5.44h-5.5zM495.9,455.6h11.6v5.44h-11.6zM542.1,455.6h11.6v5.44h-11.6zM588.4,455.6h11.6v5.44h-11.6zM371.5,466.5h5.5v5.44h-5.5zM404.8,466.5h5.5v5.44h-5.5zM410.3,466.5h5.5v5.44h-5.5zM449.6,466.5h11.6v5.44h-11.6zM121.3,471.9h2.0v5.44h-2.0zM343.8,471.9h5.5v5.44h-5.5zM79.0,477.4h1.4v5.44h-1.4zM360.4,477.4h5.5v5.44h-5.5zM399.2,477.4h5.5v5.44h-5.5zM426.9,477.4h5.5v5.44h-5.5zM507.4,477.4h11.6v5.44h-11.6zM519.0,477.4h11.6v5.44h-11.6zM588.4,477.4h11.6v5.44h-11.6zM145.3,482.8h2.4v5.44h-2.4zM305.0,482.8h5.5v5.44h-5.5zM343.8,482.8h5.5v5.44h-5.5zM410.3,482.8h5.5v5.44h-5.5zM415.8,482.8h5.5v5.44h-5.5zM449.6,482.8h11.6v5.44h-11.6zM461.1,482.8h11.6v5.44h-11.6zM495.9,482.8h11.6v5.44h-11.6zM576.9,482.8h11.6v5.44h-11.6zM332.7,488.2h5.5v5.44h-5.5zM388.1,488.2h5.5v5.44h-5.5zM472.7,488.2h11.6v5.44h-11.6zM338.3,493.7h5.5v5.44h-5.5zM377.1,493.7h5.5v5.44h-5.5zM507.4,493.7h11.6v5.44h-11.6zM519.0,493.7h11.6v5.44h-11.6zM530.6,493.7h11.6v5.44h-11.6zM123.3,499.1h2.1v5.44h-2.1zM371.5,499.1h5.5v5.44h-5.5zM399.2,499.1h5.5v5.44h-5.5zM449.6,499.1h11.6v5.44h-11.6zM305.0,504.6h5.5v5.44h-5.5zM338.3,504.6h5.5v5.44h-5.5zM495.9,504.6h11.6v5.44h-11.6zM542.1,504.6h11.6v5.44h-11.6zM553.7,504.6h11.6v5.44h-11.6z"/>
<path fill="#1e1e1e" d="M94.1,85.9h1.6v5.44h-1.6zM113.5,91.3h1.9v5.44h-1.9zM107.9,96.8h1.8v5.44h-1.8zM310.6,102.2h5.5v5.44h-5.5zM127.5,107.6h2.1v5.44h-2.1zM382.6,107.6h5.5v5.44h-5.5zM507.4,107.6h11.6v5.44h-11.6zM260.7,113.1h5.5v5.44h-5.5zM472.7,113.1h11.6v5.44h-11.6zM316.1,118.5h5.5v5.44h-5.5zM495.9,118.5h11.6v5.44h-11.6zM117.3,123.9h2.0v5.44h-2.0zM404.8,123.9h5.5v5.44h-5.5zM97.4,129.4h1.7v5.44h-1.7zM277.3,129.4h5.5v5.44h-5.5zM316.1,129.4h5.5v5.44h-5.5zM94.1,134.8h1.6v5.44h-1.6zM160.1,134.8h2.6v5.44h-2.6zM371.5,134.8h5.5v5.44h-5.5zM432.5,134.8h5.5v5.44h-5.5zM461.1,140.2h11.6v5.44h-11.6zM97.4,145.7h1.7v5.44h-1.7zM131.7,151.1h2.2v5.44h-2.2zM216.3,151.1h3.4v5.44h-3.4zM484.3,151.1h11.6v5.44h-11.6zM472.7,156.6h11.6v5.44h-11.6zM484.3,156.6h11.6v5.44h-11.6zM133.9,162.0h2.2v5.44h-2.2zM288.4,162.0h5.5v5.44h-5.5zM449.6,162.0h11.6v5.44h-11.6zM472.7,162.0h11.6v5.44h-11.6zM484.3,162.0h11.6v5.44h-11.6zM271.8,167.4h5.5v5.44h-5.5zM484.3,167.4h11.6v5.44h-11.6zM507.4,167.4h11.6v5.44h-11.6zM338.3,172.9h5.5v5.44h-5.5zM366.0,172.9h5.5v5.44h-5.5zM421.4,172.9h5.5v5.44h-5.5zM249.6,178.3h5.5v5.44h-5.5zM255.2,178.3h5.5v5.44h-5.5zM260.7,178.3h5.5v5.44h-5.5zM472.7,178.3h11.6v5.44h-11.6zM92.5,183.8h1.6v5.44h-1.6zM140.7,183.8h2.3v5.44h-2.3zM233.0,183.8h5.5v5.44h-5.5zM238.5,183.8h5.5v5.44h-5.5zM310.6,183.8h5.5v5.44h-5.5zM321.6,183.8h5.5v5.44h-5.5zM80.4,189.2h1.4v5.44h-1.4zM244.1,189.2h5.5v5.44h-5.5zM332.7,189.2h5.5v5.44h-5.5zM399.2,189.2h5.5v5.44h-5.5zM432.5,189.2h5.5v5.44h-5.5zM219.8,194.6h3.5v5.44h-3.5zM305.0,194.6h5.5v5.44h-5.5zM316.1,194.6h5.5v5.44h-5.5zM388.1,194.6h5.5v5.44h-5.5zM530.6,194.6h11.6v5.44h-11.6zM393.7,200.1h5.5v5.44h-5.5zM519.0,200.1h11.6v5.44h-11.6zM97.4,205.5h1.7v5.44h-1.7zM136.1,205.5h2.2v5.44h-2.2zM305.0,205.5h5.5v5.44h-5.5zM421.4,205.5h5.5v5.44h-5.5zM484.3,205.5h11.6v5.44h-11.6zM271.8,210.9h5.5v5.44h-5.5zM299.5,210.9h5.5v5.44h-5.5zM338.3,210.9h5.5v5.44h-5.5zM438.0,210.9h11.6v5.44h-11.6zM299.5,216.4h5.5v5.44h-5.5zM343.8,216.4h5.5v5.44h-5.5zM415.8,216.4h5.5v5.44h-5.5zM495.9,216.4h11.6v5.44h-11.6zM305.0,221.8h5.5v5.44h-5.5zM393.7,221.8h5.5v5.44h-5.5zM415.8,221.8h5.5v5.44h-5.5zM519.0,221.8h11.6v5.44h-11.6zM123.3,227.2h2.1v5.44h-2.1zM305.0,227.2h5.5v5.44h-5.5zM349.4,227.2h5.5v5.44h-5.5zM421.4,227.2h5.5v5.44h-5.5zM530.6,227.2h11.6v5.44h-11.6zM109.7,232.7h1.9v5.44h-1.9zM168.0,232.7h2.7v5.44h-2.7zM277.3,232.7h5.5v5.44h-5.5zM366.0,232.7h5.5v5.44h-5.5zM553.7,232.7h11.6v5.44h-11.6zM87.8,238.1h1.5v5.44h-1.5zM145.3,238.1h2.4v5.44h-2.4zM393.7,238.1h5.5v5.44h-5.5zM410.3,238.1h5.5v5.44h-5.5zM461.1,238.1h11.6v5.44h-11.6zM542.1,238.1h11.6v5.44h-11.6zM321.6,243.6h5.5v5.44h-5.5zM338.3,243.6h5.5v5.44h-5.5zM388.1,243.6h5.5v5.44h-5.5zM410.3,243.6h5.5v5.44h-5.5zM472.7,243.6h11.6v5.44h-11.6zM97.4,249.0h1.7v5.44h-1.7zM360.4,249.0h5.5v5.44h-5.5zM366.0,249.0h5.5v5.44h-5.5zM565.3,249.0h11.6v5.44h-11.6zM316.1,254.4h5.5v5.44h-5.5zM327.2,254.4h5.5v5.44h-5.5zM160.1,259.9h2.6v5.44h-2.6zM399.2,259.9h5.5v5.44h-5.5zM507.4,259.9h11.6v5.44h-11.6zM519.0,259.9h11.6v5.44h-11.6zM181.9,265.3h2.9v5.44h-2.9zM377.1,265.3h5.5v5.44h-5.5zM495.9,265.3h11.6v5.44h-11.6zM388.1,270.8h5.5v5.44h-5.5zM449.6,270.8h11.6v5.44h-11.6zM472.7,270.8h11.6v5.44h-11.6zM519.0,270.8h11.6v5.44h-11.6zM360.4,276.2h5.5v5.44h-5.5zM421.4,276.2h5.5v5.44h-5.5zM519.0,276.2h11.6v5.44h-11.6zM530.6,276.2h11.6v5.44h-11.6zM104.3,281.6h1.8v5.44h-1.8zM277.3,281.6h5.5v5.44h-5.5zM399.2,281.6h5.5v5.44h-5.5zM377.1,287.1h5.5v5.44h-5.5zM449.6,287.1h11.6v5.44h-11.6zM553.7,287.1h11.6v5.44h-11.6zM184.8,292.5h3.0v5.44h-3.0zM305.0,292.5h5.5v5.44h-5.5zM349.4,292.5h5.5v5.44h-5.5zM449.6,292.5h11.6v5.44h-11.6zM107.9,297.9h1.8v5.44h-1.8zM271.8,297.9h5.5v5.44h-5.5zM449.6,297.9h11.6v5.44h-11.6zM484.3,297.9h11.6v5.44h-11.6zM553.7,297.9h11.6v5.44h-11.6zM79.0,303.4h1.4v5.44h-1.4zM129.6,303.4h2.1v5.44h-2.1zM449.6,303.4h11.6v5.44h-11.6zM484.3,303.4h11.6v5.44h-11.6zM495.9,303.4h11.6v5.44h-11.6zM288.4,308.8h5.5v5.44h-5.5zM332.7,308.8h5.5v5.44h-5.5zM343.8,308.8h5.5v5.44h-5.5zM507.4,308.8h11.6v5.44h-11.6zM238.5,314.2h5.5v5.44h-5.5zM432.5,314.2h5.5v5.44h-5.5zM80.4,319.7h1.4v5.44h-1.4zM143.0,319.7h2.3v5.44h-2.3zM162.7,319.7h2.6v5.44h-2.6zM299.5,319.7h5.5v5.44h-5.5zM432.5,319.7h5.5v5.44h-5.5zM449.6,319.7h11.6v5.44h-11.6zM484.3,319.7h11.6v5.44h-11.6zM507.4,319.7h11.6v5.44h-11.6zM371.5,325.1h5.5v5.44h-5.5zM377.1,325.1h5.5v5.44h-5.5zM438.0,325.1h11.6v5.44h-11.6zM495.9,325.1h11.6v5.44h-11.6zM299.5,330.6h5.5v5.44h-5.5zM327.2,330.6h5.5v5.44h-5.5zM360.4,330.6h5.5v5.44h-5.5zM576.9,330.6h11.6v5.44h-11.6zM461.1,336.0h11.6v5.44h-11.6zM125.4,341.4h2.1v5.44h-2.1zM371.5,346.9h5.5v5.44h-5.5zM382.6,346.9h5.5v5.44h-5.5zM432.5,346.9h5.5v5.44h-5.5zM472.7,346.9h11.6v5.44h-11.6zM542.1,346.9h11.6v5.44h-11.6zM576.9,346.9h11.6v5.44h-11.6zM143.0,352.3h2.3v5.44h-2.3zM310.6,352.3h5.5v5.44h-5.5zM83.3,357.8h1.5v5.44h-1.5zM136.1,357.8h2.2v5.44h-2.2zM260.7,357.8h5.5v5.44h-5.5zM266.2,357.8h5.5v5.44h-5.5zM449.6,357.8h11.6v5.44h-11.6zM332.7,363.2h5.5v5.44h-5.5zM410.3,363.2h5.5v5.44h-5.5zM472.7,363.2h11.6v5.44h-11.6zM349.4,368.6h5.5v5.44h-5.5zM360.4,368.6h5.5v5.44h-5.5zM484.3,368.6h11.6v5.44h-11.6zM327.2,374.1h5.5v5.44h-5.5zM366.0,379.5h5.5v5.44h-5.5zM388.1,379.5h5.5v5.44h-5.5zM426.9,379.5h5.5v5.44h-5.5zM432.5,379.5h5.5v5.44h-5.5zM377.1,384.9h5.5v5.44h-5.5zM399.2,384.9h5.5v5.44h-5.5zM449.6,384.9h11.6v5.44h-11.6zM371.5,390.4h5.5v5.44h-5.5zM399.2,390.4h5.5v5.44h-5.5zM438.0,390.4h11.6v5.44h-11.6zM542.1,390.4h11.6v5.44h-11.6zM410.3,395.8h5.5v5.44h-5.5zM233.0,401.2h5.5v5.44h-5.5zM507.4,401.2h11.6v5.44h-11.6zM565.3,401.2h11.6v5.44h-11.6zM576.9,406.7h11.6v5.44h-11.6zM99.1,412.1h1.7v5.44h-1.7zM316.1,412.1h5.5v5.44h-5.5zM321.6,412.1h5.5v5.44h-5.5zM484.3,412.1h11.6v5.44h-11.6zM519.0,412.1h11.6v5.44h-11.6zM553.7,412.1h11.6v5.44h-11.6zM461.1,417.6h11.6v5.44h-11.6zM507.4,417.6h11.6v5.44h-11.6zM106.1,423.0h1.8v5.44h-1.8zM321.6,423.0h5.5v5.44h-5.5zM388.1,423.0h5.5v5.44h-5.5zM472.7,423.0h11.6v5.44h-11.6zM150.1,428.4h2.4v5.44h-2.4zM404.8,428.4h5.5v5.44h-5.5zM117.3,433.9h2.0v5.44h-2.0zM249.6,433.9h5.5v5.44h-5.5zM410.3,433.9h5.5v5.44h-5.5zM415.8,433.9h5.5v5.44h-5.5zM519.0,433.9h11.6v5.44h-11.6zM530.6,433.9h11.6v5.44h-11.6zM366.0,439.3h5.5v5.44h-5.5zM92.5,444.8h1.6v5.44h-1.6zM366.0,444.8h5.5v5.44h-5.5zM393.7,444.8h5.5v5.44h-5.5zM107.9,450.2h1.8v5.44h-1.8zM321.6,450.2h5.5v5.44h-5.5zM104.3,455.6h1.8v5.44h-1.8zM113.5,455.6h1.9v5.44h-1.9zM133.9,455.6h2.2v5.44h-2.2zM165.3,455.6h2.7v5.44h-2.7zM305.0,455.6h5.5v5.44h-5.5zM366.0,455.6h5.5v5.44h-5.5zM421.4,461.1h5.5v5.44h-5.5zM495.9,461.1h11.6v5.44h-11.6zM277.3,466.5h5.5v5.44h-5.5zM377.1,466.5h5.5v5.44h-5.5zM449.6,471.9h11.6v5.44h-11.6zM484.3,471.9h11.6v5.44h-11.6zM305.0,477.4h5.5v5.44h-5.5zM343.8,477.4h5.5v5.44h-5.5zM415.8,477.4h5.5v5.44h-5.5zM553.7,477.4h11.6v5.44h-11.6zM438.0,482.8h11.6v5.44h-11.6zM327.2,488.2h5.5v5.44h-5.5zM343.8,488.2h5.5v5.44h-5.5zM576.9,488.2h11.6v5.44h-11.6zM255.2,493.7h5.5v5.44h-5.5zM354.9,499.1h5.5v5.44h-5.5zM438.0,499.1h11.6v5.44h-11.6zM165.3,504.6h2.7v5.44h-2.7zM255.2,504.6h5.5v5.44h-5.5zM299.5,504.6h5.5v5.44h-5.5zM410.3,504.6h5.5v5.44h-5.5z"/>
<path fill="#1f1f1f" d="M131.7,75.0h2.2v5.44h-2.2zM121.3,91.3h2.0v5.44h-2.0zM282.9,102.2h5.5v5.44h-5.5zM131.7,107.6h2.2v5.44h-2.2zM282.9,107.6h5.5v5.44h-5.5zM472.7,107.6h11.6v5.44h-11.6zM79.0,113.1h1.4v5.44h-1.4zM484.3,113.1h11.6v5.44h-11.6zM260.7,118.5h5.5v5.44h-5.5zM282.9,118.5h5.5v5.44h-5.5zM360.4,118.5h5.5v5.44h-5.5zM472.7,118.5h11.6v5.44h-11.6zM107.9,123.9h1.8v5.44h-1.8zM133.9,123.9h2.2v5.44h-2.2zM190.8,123.9h3.0v5.44h-3.0zM299.5,123.9h5.5v5.44h-5.5zM83.3,129.4h1.5v5.44h-1.5zM271.8,129.4h5.5v5.44h-5.5zM461.1,129.4h11.6v5.44h-11.6zM249.6,134.8h5.5v5.44h-5.5zM288.4,134.8h5.5v5.44h-5.5zM449.6,134.8h11.6v5.44h-11.6zM92.5,140.2h1.6v5.44h-1.6zM377.1,140.2h5.5v5.44h-5.5zM495.9,140.2h11.6v5.44h-11.6zM83.3,145.7h1.5v5.44h-1.5zM327.2,145.7h5.5v5.44h-5.5zM404.8,145.7h5.5v5.44h-5.5zM316.1,151.1h5.5v5.44h-5.5zM80.4,162.0h1.4v5.44h-1.4zM127.5,162.0h2.1v5.44h-2.1zM282.9,162.0h5.5v5.44h-5.5zM255.2,167.4h5.5v5.44h-5.5zM282.9,167.4h5.5v5.44h-5.5zM360.4,167.4h5.5v5.44h-5.5zM438.0,167.4h11.6v5.44h-11.6zM138.4,172.9h2.3v5.44h-2.3zM354.9,172.9h5.5v5.44h-5.5zM360.4,178.3h5.5v5.44h-5.5zM519.0,178.3h11.6v5.44h-11.6zM338.3,189.2h5.5v5.44h-5.5zM382.6,189.2h5.5v5.44h-5.5zM421.4,194.6h5.5v5.44h-5.5zM176.2,200.1h2.8v5.44h-2.8zM244.1,200.1h5.5v5.44h-5.5zM305.0,200.1h5.5v5.44h-5.5zM449.6,200.1h11.6v5.44h-11.6zM106.1,205.5h1.8v5.44h-1.8zM187.8,205.5h3.0v5.44h-3.0zM271.8,205.5h5.5v5.44h-5.5zM399.2,205.5h5.5v5.44h-5.5zM542.1,205.5h11.6v5.44h-11.6zM371.5,210.9h5.5v5.44h-5.5zM160.1,216.4h2.6v5.44h-2.6zM393.7,216.4h5.5v5.44h-5.5zM438.0,216.4h11.6v5.44h-11.6zM530.6,216.4h11.6v5.44h-11.6zM299.5,221.8h5.5v5.44h-5.5zM382.6,221.8h5.5v5.44h-5.5zM249.6,227.2h5.5v5.44h-5.5zM438.0,227.2h11.6v5.44h-11.6zM260.7,232.7h5.5v5.44h-5.5zM461.1,232.7h11.6v5.44h-11.6zM576.9,232.7h11.6v5.44h-11.6zM238.5,238.1h5.5v5.44h-5.5zM484.3,238.1h11.6v5.44h-11.6zM238.5,243.6h5.5v5.44h-5.5zM371.5,243.6h5.5v5.44h-5.5zM113.5,249.0h1.9v5.44h-1.9zM123.3,249.0h2.1v5.44h-2.1zM179.1,249.0h2.9v5.44h-2.9zM271.8,249.0h5.5v5.44h-5.5zM321.6,249.0h5.5v5.44h-5.5zM382.6,249.0h5.5v5.44h-5.5zM530.6,249.0h11.6v5.44h-11.6zM576.9,249.0h11.6v5.44h-11.6zM119.3,254.4h2.0v5.44h-2.0zM299.5,254.4h5.5v5.44h-5.5zM277.3,259.9h5.5v5.44h-5.5zM393.7,259.9h5.5v5.44h-5.5zM83.3,265.3h1.5v5.44h-1.5zM244.1,265.3h5.5v5.44h-5.5zM426.9,265.3h5.5v5.44h-5.5zM507.4,265.3h11.6v5.44h-11.6zM83.3,276.2h1.5v5.44h-1.5zM131.7,276.2h2.2v5.44h-2.2zM140.7,276.2h2.3v5.44h-2.3zM190.8,276.2h3.0v5.44h-3.0zM316.1,276.2h5.5v5.44h-5.5zM495.9,276.2h11.6v5.44h-11.6zM155.0,281.6h2.5v5.44h-2.5zM244.1,281.6h5.5v5.44h-5.5zM316.1,287.1h5.5v5.44h-5.5zM349.4,287.1h5.5v5.44h-5.5zM97.4,292.5h1.7v5.44h-1.7zM316.1,297.9h5.5v5.44h-5.5zM461.1,297.9h11.6v5.44h-11.6zM507.4,297.9h11.6v5.44h-11.6zM271.8,308.8h5.5v5.44h-5.5zM432.5,308.8h5.5v5.44h-5.5zM173.5,314.2h2.8v5.44h-2.8zM449.6,314.2h11.6v5.44h-11.6zM266.2,319.7h5.5v5.44h-5.5zM495.9,319.7h11.6v5.44h-11.6zM519.0,319.7h11.6v5.44h-11.6zM102.5,325.1h1.8v5.44h-1.8zM233.0,325.1h5.5v5.44h-5.5zM349.4,325.1h5.5v5.44h-5.5zM354.9,325.1h5.5v5.44h-5.5zM360.4,325.1h5.5v5.44h-5.5zM484.3,325.1h11.6v5.44h-11.6zM249.6,330.6h5.5v5.44h-5.5zM260.7,330.6h5.5v5.44h-5.5zM277.3,330.6h5.5v5.44h-5.5zM332.7,330.6h5.5v5.44h-5.5zM354.9,330.6h5.5v5.44h-5.5zM399.2,330.6h5.5v5.44h-5.5zM507.4,330.6h11.6v5.44h-11.6zM588.4,330.6h11.6v5.44h-11.6zM233.0,336.0h5.5v5.44h-5.5zM266.2,336.0h5.5v5.44h-5.5zM332.7,336.0h5.5v5.44h-5.5zM393.7,336.0h5.5v5.44h-5.5zM410.3,336.0h5.5v5.44h-5.5zM244.1,341.4h5.5v5.44h-5.5zM426.9,341.4h5.5v5.44h-5.5zM277.3,346.9h5.5v5.44h-5.5zM438.0,346.9h11.6v5.44h-11.6zM495.9,346.9h11.6v5.44h-11.6zM266.2,352.3h5.5v5.44h-5.5zM95.8,357.8h1.7v5.44h-1.7zM109.7,357.8h1.9v5.44h-1.9zM449.6,363.2h11.6v5.44h-11.6zM588.4,363.2h11.6v5.44h-11.6zM84.8,368.6h1.5v5.44h-1.5zM249.6,368.6h5.5v5.44h-5.5zM343.8,368.6h5.5v5.44h-5.5zM354.9,368.6h5.5v5.44h-5.5zM393.7,368.6h5.5v5.44h-5.5zM553.7,368.6h11.6v5.44h-11.6zM111.6,374.1h1.9v5.44h-1.9zM288.4,374.1h5.5v5.44h-5.5zM461.1,374.1h11.6v5.44h-11.6zM133.9,379.5h2.2v5.44h-2.2zM338.3,384.9h5.5v5.44h-5.5zM388.1,384.9h5.5v5.44h-5.5zM244.1,390.4h5.5v5.44h-5.5zM249.6,390.4h5.5v5.44h-5.5zM338.3,390.4h5.5v5.44h-5.5zM388.1,390.4h5.5v5.44h-5.5zM244.1,395.8h5.5v5.44h-5.5zM104.3,401.2h1.8v5.44h-1.8zM266.2,401.2h5.5v5.44h-5.5zM432.5,401.2h5.5v5.44h-5.5zM588.4,401.2h11.6v5.44h-11.6zM354.9,406.7h5.5v5.44h-5.5zM415.8,406.7h5.5v5.44h-5.5zM426.9,406.7h5.5v5.44h-5.5zM244.1,412.1h5.5v5.44h-5.5zM277.3,412.1h5.5v5.44h-5.5zM282.9,412.1h5.5v5.44h-5.5zM305.0,412.1h5.5v5.44h-5.5zM277.3,417.6h5.5v5.44h-5.5zM438.0,417.6h11.6v5.44h-11.6zM327.2,423.0h5.5v5.44h-5.5zM382.6,423.0h5.5v5.44h-5.5zM415.8,423.0h5.5v5.44h-5.5zM519.0,423.0h11.6v5.44h-11.6zM238.5,428.4h5.5v5.44h-5.5zM327.2,428.4h5.5v5.44h-5.5zM332.7,428.4h5.5v5.44h-5.5zM338.3,428.4h5.5v5.44h-5.5zM399.2,428.4h5.5v5.44h-5.5zM472.7,428.4h11.6v5.44h-11.6zM484.3,428.4h11.6v5.44h-11.6zM255.2,433.9h5.5v5.44h-5.5zM327.2,433.9h5.5v5.44h-5.5zM565.3,433.9h11.6v5.44h-11.6zM79.0,439.3h1.4v5.44h-1.4zM260.7,439.3h5.5v5.44h-5.5zM461.1,439.3h11.6v5.44h-11.6zM495.9,439.3h11.6v5.44h-11.6zM530.6,439.3h11.6v5.44h-11.6zM89.4,444.8h1.6v5.44h-1.6zM305.0,444.8h5.5v5.44h-5.5zM438.0,444.8h11.6v5.44h-11.6zM238.5,450.2h5.5v5.44h-5.5zM255.2,450.2h5.5v5.44h-5.5zM277.3,450.2h5.5v5.44h-5.5zM282.9,450.2h5.5v5.44h-5.5zM299.5,461.1h5.5v5.44h-5.5zM415.8,461.1h5.5v5.44h-5.5zM507.4,461.1h11.6v5.44h-11.6zM530.6,461.1h11.6v5.44h-11.6zM321.6,466.5h5.5v5.44h-5.5zM399.2,466.5h5.5v5.44h-5.5zM354.9,471.9h5.5v5.44h-5.5zM382.6,471.9h5.5v5.44h-5.5zM90.9,477.4h1.6v5.44h-1.6zM438.0,477.4h11.6v5.44h-11.6zM131.7,482.8h2.2v5.44h-2.2zM266.2,482.8h5.5v5.44h-5.5zM310.6,482.8h5.5v5.44h-5.5zM393.7,482.8h5.5v5.44h-5.5zM530.6,482.8h11.6v5.44h-11.6zM83.3,488.2h1.5v5.44h-1.5zM131.7,488.2h2.2v5.44h-2.2zM426.9,488.2h5.5v5.44h-5.5zM266.2,493.7h5.5v5.44h-5.5zM371.5,493.7h5.5v5.44h-5.5zM399.2,493.7h5.5v5.44h-5.5zM484.3,493.7h11.6v5.44h-11.6zM233.0,499.1h5.5v5.44h-5.5zM238.5,499.1h5.5v5.44h-5.5zM277.3,499.1h5.5v5.44h-5.5zM282.9,499.1h5.5v5.44h-5.5zM321.6,499.1h5.5v5.44h-5.5zM415.8,499.1h5.5v5.44h-5.5zM484.3,499.1h11.6v5.44h-11.6z"/>
<path fill="#202020" d="M115.4,75.0h1.9v5.44h-1.9zM115.4,96.8h1.9v5.44h-1.9zM393.7,102.2h5.5v5.44h-5.5zM461.1,102.2h11.6v5.44h-11.6zM106.1,107.6h1.8v5.44h-1.8zM354.9,107.6h5.5v5.44h-5.5zM461.1,107.6h11.6v5.44h-11.6zM393.7,113.1h5.5v5.44h-5.5zM140.7,118.5h2.3v5.44h-2.3zM244.1,129.4h5.5v5.44h-5.5zM266.2,129.4h5.5v5.44h-5.5zM288.4,129.4h5.5v5.44h-5.5zM449.6,129.4h11.6v5.44h-11.6zM484.3,134.8h11.6v5.44h-11.6zM115.4,140.2h1.9v5.44h-1.9zM203.2,140.2h3.2v5.44h-3.2zM127.5,145.7h2.1v5.44h-2.1zM377.1,145.7h5.5v5.44h-5.5zM484.3,145.7h11.6v5.44h-11.6zM507.4,145.7h11.6v5.44h-11.6zM157.6,151.1h2.6v5.44h-2.6zM255.2,151.1h5.5v5.44h-5.5zM393.7,151.1h5.5v5.44h-5.5zM438.0,151.1h11.6v5.44h-11.6zM495.9,151.1h11.6v5.44h-11.6zM86.3,156.6h1.5v5.44h-1.5zM382.6,156.6h5.5v5.44h-5.5zM176.2,162.0h2.8v5.44h-2.8zM223.2,162.0h3.5v5.44h-3.5zM519.0,162.0h11.6v5.44h-11.6zM121.3,167.4h2.0v5.44h-2.0zM127.5,167.4h2.1v5.44h-2.1zM187.8,167.4h3.0v5.44h-3.0zM266.2,167.4h5.5v5.44h-5.5zM86.3,178.3h1.5v5.44h-1.5zM338.3,183.8h5.5v5.44h-5.5zM360.4,183.8h5.5v5.44h-5.5zM438.0,183.8h11.6v5.44h-11.6zM484.3,183.8h11.6v5.44h-11.6zM117.3,189.2h2.0v5.44h-2.0zM316.1,189.2h5.5v5.44h-5.5zM327.2,189.2h5.5v5.44h-5.5zM81.9,194.6h1.5v5.44h-1.5zM349.4,194.6h5.5v5.44h-5.5zM449.6,194.6h11.6v5.44h-11.6zM472.7,194.6h11.6v5.44h-11.6zM80.4,200.1h1.4v5.44h-1.4zM165.3,200.1h2.7v5.44h-2.7zM181.9,200.1h2.9v5.44h-2.9zM238.5,200.1h5.5v5.44h-5.5zM438.0,200.1h11.6v5.44h-11.6zM507.4,200.1h11.6v5.44h-11.6zM155.0,205.5h2.5v5.44h-2.5zM266.2,205.5h5.5v5.44h-5.5zM277.3,205.5h5.5v5.44h-5.5zM349.4,205.5h5.5v5.44h-5.5zM449.6,205.5h11.6v5.44h-11.6zM542.1,210.9h11.6v5.44h-11.6zM157.6,216.4h2.6v5.44h-2.6zM244.1,216.4h5.5v5.44h-5.5zM255.2,216.4h5.5v5.44h-5.5zM288.4,216.4h5.5v5.44h-5.5zM316.1,216.4h5.5v5.44h-5.5zM150.1,221.8h2.4v5.44h-2.4zM238.5,221.8h5.5v5.44h-5.5zM277.3,221.8h5.5v5.44h-5.5zM366.0,221.8h5.5v5.44h-5.5zM95.8,227.2h1.7v5.44h-1.7zM271.8,227.2h5.5v5.44h-5.5zM92.5,232.7h1.6v5.44h-1.6zM249.6,232.7h5.5v5.44h-5.5zM150.1,243.6h2.4v5.44h-2.4zM507.4,243.6h11.6v5.44h-11.6zM565.3,243.6h11.6v5.44h-11.6zM305.0,249.0h5.5v5.44h-5.5zM79.0,254.4h1.4v5.44h-1.4zM438.0,254.4h11.6v5.44h-11.6zM449.6,254.4h11.6v5.44h-11.6zM461.1,254.4h11.6v5.44h-11.6zM288.4,265.3h5.5v5.44h-5.5zM310.6,265.3h5.5v5.44h-5.5zM530.6,265.3h11.6v5.44h-11.6zM100.8,270.8h1.7v5.44h-1.7zM310.6,270.8h5.5v5.44h-5.5zM415.8,270.8h5.5v5.44h-5.5zM530.6,270.8h11.6v5.44h-11.6zM238.5,276.2h5.5v5.44h-5.5zM271.8,276.2h5.5v5.44h-5.5zM277.3,276.2h5.5v5.44h-5.5zM371.5,276.2h5.5v5.44h-5.5zM173.5,281.6h2.8v5.44h-2.8zM260.7,281.6h5.5v5.44h-5.5zM432.5,287.1h5.5v5.44h-5.5zM530.6,287.1h11.6v5.44h-11.6zM354.9,292.5h5.5v5.44h-5.5zM388.1,292.5h5.5v5.44h-5.5zM410.3,292.5h5.5v5.44h-5.5zM99.1,297.9h1.7v5.44h-1.7zM136.1,297.9h2.2v5.44h-2.2zM238.5,297.9h5.5v5.44h-5.5zM260.7,297.9h5.5v5.44h-5.5zM277.3,297.9h5.5v5.44h-5.5zM542.1,297.9h11.6v5.44h-11.6zM271.8,303.4h5.5v5.44h-5.5zM410.3,303.4h5.5v5.44h-5.5zM472.7,303.4h11.6v5.44h-11.6zM282.9,308.8h5.5v5.44h-5.5zM542.1,308.8h11.6v5.44h-11.6zM106.1,314.2h1.8v5.44h-1.8zM249.6,314.2h5.5v5.44h-5.5zM299.5,314.2h5.5v5.44h-5.5zM349.4,314.2h5.5v5.44h-5.5zM565.3,314.2h11.6v5.44h-11.6zM244.1,319.7h5.5v5.44h-5.5zM332.7,319.7h5.5v5.44h-5.5zM354.9,319.7h5.5v5.44h-5.5zM271.8,325.1h5.5v5.44h-5.5zM277.3,325.1h5.5v5.44h-5.5zM327.2,325.1h5.5v5.44h-5.5zM382.6,325.1h5.5v5.44h-5.5zM94.1,330.6h1.6v5.44h-1.6zM271.8,330.6h5.5v5.44h-5.5zM542.1,330.6h11.6v5.44h-11.6zM147.7,336.0h2.4v5.44h-2.4zM271.8,336.0h5.5v5.44h-5.5zM327.2,336.0h5.5v5.44h-5.5zM99.1,341.4h1.7v5.44h-1.7zM288.4,341.4h5.5v5.44h-5.5zM530.6,341.4h11.6v5.44h-11.6zM576.9,341.4h11.6v5.44h-11.6zM140.7,346.9h2.3v5.44h-2.3zM266.2,346.9h5.5v5.44h-5.5zM484.3,346.9h11.6v5.44h-11.6zM507.4,346.9h11.6v5.44h-11.6zM79.0,352.3h1.4v5.44h-1.4zM133.9,352.3h2.2v5.44h-2.2zM238.5,352.3h5.5v5.44h-5.5zM332.7,352.3h5.5v5.44h-5.5zM360.4,352.3h5.5v5.44h-5.5zM244.1,357.8h5.5v5.44h-5.5zM360.4,357.8h5.5v5.44h-5.5zM495.9,357.8h11.6v5.44h-11.6zM109.7,368.6h1.9v5.44h-1.9zM366.0,368.6h5.5v5.44h-5.5zM388.1,368.6h5.5v5.44h-5.5zM519.0,368.6h11.6v5.44h-11.6zM121.3,374.1h2.0v5.44h-2.0zM233.0,374.1h5.5v5.44h-5.5zM255.2,374.1h5.5v5.44h-5.5zM399.2,374.1h5.5v5.44h-5.5zM421.4,374.1h5.5v5.44h-5.5zM438.0,374.1h11.6v5.44h-11.6zM410.3,379.5h5.5v5.44h-5.5zM271.8,384.9h5.5v5.44h-5.5zM310.6,384.9h5.5v5.44h-5.5zM327.2,384.9h5.5v5.44h-5.5zM343.8,384.9h5.5v5.44h-5.5zM349.4,384.9h5.5v5.44h-5.5zM472.7,384.9h11.6v5.44h-11.6zM530.6,384.9h11.6v5.44h-11.6zM260.7,395.8h5.5v5.44h-5.5zM461.1,395.8h11.6v5.44h-11.6zM100.8,401.2h1.7v5.44h-1.7zM125.4,401.2h2.1v5.44h-2.1zM277.3,401.2h5.5v5.44h-5.5zM288.4,401.2h5.5v5.44h-5.5zM299.5,401.2h5.5v5.44h-5.5zM354.9,401.2h5.5v5.44h-5.5zM366.0,401.2h5.5v5.44h-5.5zM244.1,406.7h5.5v5.44h-5.5zM266.2,406.7h5.5v5.44h-5.5zM461.1,406.7h11.6v5.44h-11.6zM484.3,406.7h11.6v5.44h-11.6zM123.3,412.1h2.1v5.44h-2.1zM133.9,412.1h2.2v5.44h-2.2zM145.3,412.1h2.4v5.44h-2.4zM160.1,412.1h2.6v5.44h-2.6zM349.4,412.1h5.5v5.44h-5.5zM371.5,412.1h5.5v5.44h-5.5zM530.6,412.1h11.6v5.44h-11.6zM255.2,417.6h5.5v5.44h-5.5zM388.1,417.6h5.5v5.44h-5.5zM238.5,423.0h5.5v5.44h-5.5zM266.2,423.0h5.5v5.44h-5.5zM449.6,423.0h11.6v5.44h-11.6zM233.0,433.9h5.5v5.44h-5.5zM244.1,433.9h5.5v5.44h-5.5zM244.1,439.3h5.5v5.44h-5.5zM288.4,439.3h5.5v5.44h-5.5zM507.4,439.3h11.6v5.44h-11.6zM79.0,444.8h1.4v5.44h-1.4zM282.9,444.8h5.5v5.44h-5.5zM495.9,444.8h11.6v5.44h-11.6zM271.8,450.2h5.5v5.44h-5.5zM432.5,450.2h5.5v5.44h-5.5zM438.0,450.2h11.6v5.44h-11.6zM461.1,450.2h11.6v5.44h-11.6zM388.1,455.6h5.5v5.44h-5.5zM404.8,455.6h5.5v5.44h-5.5zM89.4,461.1h1.6v5.44h-1.6zM249.6,461.1h5.5v5.44h-5.5zM143.0,466.5h2.3v5.44h-2.3zM305.0,466.5h5.5v5.44h-5.5zM421.4,466.5h5.5v5.44h-5.5zM472.7,466.5h11.6v5.44h-11.6zM233.0,471.9h5.5v5.44h-5.5zM461.1,471.9h11.6v5.44h-11.6zM507.4,471.9h11.6v5.44h-11.6zM127.5,477.4h2.1v5.44h-2.1zM157.6,477.4h2.6v5.44h-2.6zM484.3,477.4h11.6v5.44h-11.6zM399.2,482.8h5.5v5.44h-5.5zM421.4,482.8h5.5v5.44h-5.5zM244.1,488.2h5.5v5.44h-5.5zM255.2,488.2h5.5v5.44h-5.5zM266.2,488.2h5.5v5.44h-5.5zM321.6,488.2h5.5v5.44h-5.5zM484.3,488.2h11.6v5.44h-11.6zM495.9,488.2h11.6v5.44h-11.6zM507.4,488.2h11.6v5.44h-11.6zM542.1,488.2h11.6v5.44h-11.6zM143.0,493.7h2.3v5.44h-2.3zM472.7,493.7h11.6v5.44h-11.6zM343.8,499.1h5.5v5.44h-5.5zM432.5,499.1h5.5v5.44h-5.5zM530.6,499.1h11.6v5.44h-11.6zM277.3,504.6h5.5v5.44h-5.5zM377.1,504.6h5.5v5.44h-5.5zM432.5,504.6h5.5v5.44h-5.5z"/>
<path fill="#212121" d="M152.6,75.0h2.5v5.44h-2.5zM184.8,80.4h3.0v5.44h-3.0zM106.1,96.8h1.8v5.44h-1.8zM187.8,102.2h3.0v5.44h-3.0zM299.5,102.2h5.5v5.44h-5.5zM432.5,107.6h5.5v5.44h-5.5zM377.1,113.1h5.5v5.44h-5.5zM200.0,118.5h3.2v5.44h-3.2zM388.1,118.5h5.5v5.44h-5.5zM277.3,123.9h5.5v5.44h-5.5zM145.3,134.8h2.4v5.44h-2.4zM157.6,134.8h2.6v5.44h-2.6zM360.4,140.2h5.5v5.44h-5.5zM152.6,151.1h2.5v5.44h-2.5zM190.8,156.6h3.0v5.44h-3.0zM461.1,156.6h11.6v5.44h-11.6zM190.8,162.0h3.0v5.44h-3.0zM354.9,162.0h5.5v5.44h-5.5zM83.3,172.9h1.5v5.44h-1.5zM193.8,172.9h3.1v5.44h-3.1zM343.8,189.2h5.5v5.44h-5.5zM131.7,194.6h2.2v5.44h-2.2zM260.7,200.1h5.5v5.44h-5.5zM377.1,200.1h5.5v5.44h-5.5zM495.9,200.1h11.6v5.44h-11.6zM106.1,210.9h1.8v5.44h-1.8zM288.4,210.9h5.5v5.44h-5.5zM316.1,210.9h5.5v5.44h-5.5zM530.6,210.9h11.6v5.44h-11.6zM282.9,216.4h5.5v5.44h-5.5zM399.2,216.4h5.5v5.44h-5.5zM152.6,221.8h2.5v5.44h-2.5zM266.2,221.8h5.5v5.44h-5.5zM282.9,221.8h5.5v5.44h-5.5zM338.3,221.8h5.5v5.44h-5.5zM507.4,221.8h11.6v5.44h-11.6zM321.6,227.2h5.5v5.44h-5.5zM542.1,227.2h11.6v5.44h-11.6zM79.0,232.7h1.4v5.44h-1.4zM399.2,232.7h5.5v5.44h-5.5zM588.4,232.7h11.6v5.44h-11.6zM271.8,238.1h5.5v5.44h-5.5zM382.6,238.1h5.5v5.44h-5.5zM152.6,243.6h2.5v5.44h-2.5zM349.4,243.6h5.5v5.44h-5.5zM377.1,243.6h5.5v5.44h-5.5zM426.9,243.6h5.5v5.44h-5.5zM461.1,243.6h11.6v5.44h-11.6zM542.1,243.6h11.6v5.44h-11.6zM190.8,254.4h3.0v5.44h-3.0zM260.7,254.4h5.5v5.44h-5.5zM321.6,254.4h5.5v5.44h-5.5zM360.4,254.4h5.5v5.44h-5.5zM484.3,254.4h11.6v5.44h-11.6zM87.8,259.9h1.5v5.44h-1.5zM282.9,259.9h5.5v5.44h-5.5zM472.7,259.9h11.6v5.44h-11.6zM461.1,265.3h11.6v5.44h-11.6zM111.6,270.8h1.9v5.44h-1.9zM426.9,270.8h5.5v5.44h-5.5zM249.6,276.2h5.5v5.44h-5.5zM321.6,276.2h5.5v5.44h-5.5zM271.8,281.6h5.5v5.44h-5.5zM415.8,281.6h5.5v5.44h-5.5zM449.6,281.6h11.6v5.44h-11.6zM271.8,287.1h5.5v5.44h-5.5zM310.6,287.1h5.5v5.44h-5.5zM327.2,287.1h5.5v5.44h-5.5zM495.9,287.1h11.6v5.44h-11.6zM542.1,292.5h11.6v5.44h-11.6zM310.6,297.9h5.5v5.44h-5.5zM255.2,303.4h5.5v5.44h-5.5zM438.0,303.4h11.6v5.44h-11.6zM565.3,308.8h11.6v5.44h-11.6zM138.4,314.2h2.3v5.44h-2.3zM157.6,314.2h2.6v5.44h-2.6zM255.2,314.2h5.5v5.44h-5.5zM282.9,314.2h5.5v5.44h-5.5zM553.7,314.2h11.6v5.44h-11.6zM260.7,319.7h5.5v5.44h-5.5zM410.3,319.7h5.5v5.44h-5.5zM92.5,325.1h1.6v5.44h-1.6zM97.4,325.1h1.7v5.44h-1.7zM168.0,325.1h2.7v5.44h-2.7zM338.3,325.1h5.5v5.44h-5.5zM530.6,325.1h11.6v5.44h-11.6zM129.6,330.6h2.1v5.44h-2.1zM382.6,330.6h5.5v5.44h-5.5zM131.7,336.0h2.2v5.44h-2.2zM133.9,336.0h2.2v5.44h-2.2zM282.9,336.0h5.5v5.44h-5.5zM507.4,336.0h11.6v5.44h-11.6zM277.3,341.4h5.5v5.44h-5.5zM354.9,346.9h5.5v5.44h-5.5zM255.2,352.3h5.5v5.44h-5.5zM343.8,352.3h5.5v5.44h-5.5zM507.4,352.3h11.6v5.44h-11.6zM530.6,352.3h11.6v5.44h-11.6zM366.0,357.8h5.5v5.44h-5.5zM371.5,357.8h5.5v5.44h-5.5zM131.7,363.2h2.2v5.44h-2.2zM415.8,363.2h5.5v5.44h-5.5zM461.1,363.2h11.6v5.44h-11.6zM530.6,363.2h11.6v5.44h-11.6zM238.5,368.6h5.5v5.44h-5.5zM260.7,379.5h5.5v5.44h-5.5zM415.8,379.5h5.5v5.44h-5.5zM421.4,379.5h5.5v5.44h-5.5zM366.0,384.9h5.5v5.44h-5.5zM83.3,390.4h1.5v5.44h-1.5zM393.7,395.8h5.5v5.44h-5.5zM238.5,406.7h5.5v5.44h-5.5zM332.7,406.7h5.5v5.44h-5.5zM255.2,412.1h5.5v5.44h-5.5zM136.1,417.6h2.2v5.44h-2.2zM238.5,417.6h5.5v5.44h-5.5zM277.3,423.0h5.5v5.44h-5.5zM282.9,423.0h5.5v5.44h-5.5zM421.4,423.0h5.5v5.44h-5.5zM271.8,428.4h5.5v5.44h-5.5zM277.3,428.4h5.5v5.44h-5.5zM393.7,428.4h5.5v5.44h-5.5zM100.8,433.9h1.7v5.44h-1.7zM260.7,433.9h5.5v5.44h-5.5zM343.8,433.9h5.5v5.44h-5.5zM399.2,433.9h5.5v5.44h-5.5zM155.0,439.3h2.5v5.44h-2.5zM299.5,439.3h5.5v5.44h-5.5zM542.1,439.3h11.6v5.44h-11.6zM576.9,439.3h11.6v5.44h-11.6zM157.6,444.8h2.6v5.44h-2.6zM382.6,444.8h5.5v5.44h-5.5zM426.9,444.8h5.5v5.44h-5.5zM266.2,450.2h5.5v5.44h-5.5zM244.1,455.6h5.5v5.44h-5.5zM332.7,455.6h5.5v5.44h-5.5zM472.7,455.6h11.6v5.44h-11.6zM113.5,461.1h1.9v5.44h-1.9zM129.6,461.1h2.1v5.44h-2.1zM316.1,461.1h5.5v5.44h-5.5zM426.9,461.1h5.5v5.44h-5.5zM107.9,466.5h1.8v5.44h-1.8zM282.9,466.5h5.5v5.44h-5.5zM382.6,466.5h5.5v5.44h-5.5zM371.5,471.9h5.5v5.44h-5.5zM338.3,477.4h5.5v5.44h-5.5zM238.5,482.8h5.5v5.44h-5.5zM233.0,488.2h5.5v5.44h-5.5zM421.4,488.2h5.5v5.44h-5.5zM565.3,488.2h11.6v5.44h-11.6zM127.5,493.7h2.1v5.44h-2.1zM255.2,499.1h5.5v5.44h-5.5zM349.4,499.1h5.5v5.44h-5.5zM271.8,504.6h5.5v5.44h-5.5zM415.8,504.6h5.5v5.44h-5.5z"/>
<path fill="#222222" d="M100.8,80.4h1.7v5.44h-1.7zM115.4,80.4h1.9v5.44h-1.9zM190.8,80.4h3.0v5.44h-3.0zM176.2,91.3h2.8v5.44h-2.8zM109.7,96.8h1.9v5.44h-1.9zM115.4,102.2h1.9v5.44h-1.9zM321.6,102.2h5.5v5.44h-5.5zM111.6,107.6h1.9v5.44h-1.9zM415.8,107.6h5.5v5.44h-5.5zM102.5,113.1h1.8v5.44h-1.8zM117.3,113.1h2.0v5.44h-2.0zM131.7,113.1h2.2v5.44h-2.2zM200.0,113.1h3.2v5.44h-3.2zM244.1,113.1h5.5v5.44h-5.5zM449.6,118.5h11.6v5.44h-11.6zM354.9,129.4h5.5v5.44h-5.5zM84.8,145.7h1.5v5.44h-1.5zM260.7,145.7h5.5v5.44h-5.5zM388.1,145.7h5.5v5.44h-5.5zM109.7,151.1h1.9v5.44h-1.9zM209.7,151.1h3.3v5.44h-3.3zM271.8,151.1h5.5v5.44h-5.5zM343.8,151.1h5.5v5.44h-5.5zM415.8,156.6h5.5v5.44h-5.5zM438.0,156.6h11.6v5.44h-11.6zM260.7,162.0h5.5v5.44h-5.5zM226.7,167.4h3.6v5.44h-3.6zM366.0,167.4h5.5v5.44h-5.5zM542.1,167.4h11.6v5.44h-11.6zM321.6,172.9h5.5v5.44h-5.5zM113.5,178.3h1.9v5.44h-1.9zM282.9,178.3h5.5v5.44h-5.5zM519.0,183.8h11.6v5.44h-11.6zM206.4,189.2h3.3v5.44h-3.3zM310.6,189.2h5.5v5.44h-5.5zM179.1,194.6h2.9v5.44h-2.9zM371.5,194.6h5.5v5.44h-5.5zM282.9,200.1h5.5v5.44h-5.5zM238.5,205.5h5.5v5.44h-5.5zM438.0,205.5h11.6v5.44h-11.6zM255.2,210.9h5.5v5.44h-5.5zM332.7,210.9h5.5v5.44h-5.5zM327.2,216.4h5.5v5.44h-5.5zM249.6,221.8h5.5v5.44h-5.5zM277.3,227.2h5.5v5.44h-5.5zM81.9,232.7h1.5v5.44h-1.5zM495.9,238.1h11.6v5.44h-11.6zM89.4,243.6h1.6v5.44h-1.6zM99.1,243.6h1.7v5.44h-1.7zM282.9,243.6h5.5v5.44h-5.5zM255.2,249.0h5.5v5.44h-5.5zM484.3,249.0h11.6v5.44h-11.6zM249.6,254.4h5.5v5.44h-5.5zM542.1,254.4h11.6v5.44h-11.6zM173.5,259.9h2.8v5.44h-2.8zM388.1,259.9h5.5v5.44h-5.5zM415.8,259.9h5.5v5.44h-5.5zM173.5,265.3h2.8v5.44h-2.8zM519.0,265.3h11.6v5.44h-11.6zM377.1,270.8h5.5v5.44h-5.5zM238.5,281.6h5.5v5.44h-5.5zM282.9,281.6h5.5v5.44h-5.5zM399.2,287.1h5.5v5.44h-5.5zM238.5,292.5h5.5v5.44h-5.5zM438.0,292.5h11.6v5.44h-11.6zM507.4,292.5h11.6v5.44h-11.6zM249.6,297.9h5.5v5.44h-5.5zM349.4,297.9h5.5v5.44h-5.5zM421.4,297.9h5.5v5.44h-5.5zM150.1,303.4h2.4v5.44h-2.4zM360.4,303.4h5.5v5.44h-5.5zM530.6,303.4h11.6v5.44h-11.6zM162.7,308.8h2.6v5.44h-2.6zM233.0,314.2h5.5v5.44h-5.5zM388.1,314.2h5.5v5.44h-5.5zM233.0,319.7h5.5v5.44h-5.5zM282.9,319.7h5.5v5.44h-5.5zM371.5,319.7h5.5v5.44h-5.5zM399.2,319.7h5.5v5.44h-5.5zM127.5,325.1h2.1v5.44h-2.1zM157.6,325.1h2.6v5.44h-2.6zM260.7,325.1h5.5v5.44h-5.5zM299.5,325.1h5.5v5.44h-5.5zM426.9,325.1h5.5v5.44h-5.5zM438.0,330.6h11.6v5.44h-11.6zM162.7,336.0h2.6v5.44h-2.6zM255.2,336.0h5.5v5.44h-5.5zM316.1,341.4h5.5v5.44h-5.5zM519.0,341.4h11.6v5.44h-11.6zM244.1,346.9h5.5v5.44h-5.5zM282.9,346.9h5.5v5.44h-5.5zM299.5,346.9h5.5v5.44h-5.5zM173.5,352.3h2.8v5.44h-2.8zM244.1,352.3h5.5v5.44h-5.5zM349.4,352.3h5.5v5.44h-5.5zM233.0,363.2h5.5v5.44h-5.5zM244.1,368.6h5.5v5.44h-5.5zM282.9,368.6h5.5v5.44h-5.5zM271.8,374.1h5.5v5.44h-5.5zM255.2,379.5h5.5v5.44h-5.5zM484.3,379.5h11.6v5.44h-11.6zM530.6,379.5h11.6v5.44h-11.6zM150.1,384.9h2.4v5.44h-2.4zM233.0,384.9h5.5v5.44h-5.5zM238.5,384.9h5.5v5.44h-5.5zM260.7,384.9h5.5v5.44h-5.5zM299.5,384.9h5.5v5.44h-5.5zM305.0,384.9h5.5v5.44h-5.5zM271.8,395.8h5.5v5.44h-5.5zM421.4,412.1h5.5v5.44h-5.5zM449.6,412.1h11.6v5.44h-11.6zM495.9,417.6h11.6v5.44h-11.6zM542.1,417.6h11.6v5.44h-11.6zM104.3,428.4h1.8v5.44h-1.8zM266.2,433.9h5.5v5.44h-5.5zM371.5,433.9h5.5v5.44h-5.5zM136.1,439.3h2.2v5.44h-2.2zM282.9,439.3h5.5v5.44h-5.5zM393.7,439.3h5.5v5.44h-5.5zM399.2,439.3h5.5v5.44h-5.5zM410.3,439.3h5.5v5.44h-5.5zM113.5,444.8h1.9v5.44h-1.9zM271.8,444.8h5.5v5.44h-5.5zM299.5,450.2h5.5v5.44h-5.5zM393.7,450.2h5.5v5.44h-5.5zM472.7,450.2h11.6v5.44h-11.6zM119.3,455.6h2.0v5.44h-2.0zM553.7,455.6h11.6v5.44h-11.6zM244.1,461.1h5.5v5.44h-5.5zM343.8,461.1h5.5v5.44h-5.5zM111.6,466.5h1.9v5.44h-1.9zM393.7,466.5h5.5v5.44h-5.5zM530.6,466.5h11.6v5.44h-11.6zM565.3,466.5h11.6v5.44h-11.6zM388.1,471.9h5.5v5.44h-5.5zM238.5,477.4h5.5v5.44h-5.5zM449.6,477.4h11.6v5.44h-11.6zM109.7,488.2h1.9v5.44h-1.9zM338.3,488.2h5.5v5.44h-5.5zM277.3,493.7h5.5v5.44h-5.5zM282.9,493.7h5.5v5.44h-5.5zM393.7,493.7h5.5v5.44h-5.5zM244.1,499.1h5.5v5.44h-5.5zM266.2,499.1h5.5v5.44h-5.5zM338.3,499.1h5.5v5.44h-5.5zM382.6,499.1h5.5v5.44h-5.5zM99.1,504.6h1.7v5.44h-1.7zM168.0,504.6h2.7v5.44h-2.7zM238.5,504.6h5.5v5.44h-5.5zM288.4,504.6h5.5v5.44h-5.5z"/>
<path fill="#232323" d="M84.8,75.0h1.5v5.44h-1.5zM107.9,75.0h1.8v5.44h-1.8zM117.3,75.0h2.0v5.44h-2.0zM181.9,75.0h2.9v5.44h-2.9zM83.3,96.8h1.5v5.44h-1.5zM86.3,96.8h1.5v5.44h-1.5zM410.3,102.2h5.5v5.44h-5.5zM129.6,113.1h2.1v5.44h-2.1zM230.3,113.1h2.7v5.44h-2.7zM95.8,123.9h1.7v5.44h-1.7zM495.9,129.4h11.6v5.44h-11.6zM81.9,134.8h1.5v5.44h-1.5zM100.8,134.8h1.7v5.44h-1.7zM123.3,134.8h2.1v5.44h-2.1zM79.0,140.2h1.4v5.44h-1.4zM87.8,140.2h1.5v5.44h-1.5zM97.4,140.2h1.7v5.44h-1.7zM472.7,140.2h11.6v5.44h-11.6zM100.8,145.7h1.7v5.44h-1.7zM271.8,156.6h5.5v5.44h-5.5zM89.4,162.0h1.6v5.44h-1.6zM255.2,162.0h5.5v5.44h-5.5zM310.6,167.4h5.5v5.44h-5.5zM472.7,167.4h11.6v5.44h-11.6zM140.7,172.9h2.3v5.44h-2.3zM266.2,172.9h5.5v5.44h-5.5zM140.7,178.3h2.3v5.44h-2.3zM176.2,178.3h2.8v5.44h-2.8zM288.4,178.3h5.5v5.44h-5.5zM415.8,178.3h5.5v5.44h-5.5zM127.5,183.8h2.1v5.44h-2.1zM170.7,183.8h2.7v5.44h-2.7zM86.3,189.2h1.5v5.44h-1.5zM213.0,189.2h3.4v5.44h-3.4zM94.1,194.6h1.6v5.44h-1.6zM203.2,194.6h3.2v5.44h-3.2zM106.1,200.1h1.8v5.44h-1.8zM349.4,200.1h5.5v5.44h-5.5zM140.7,205.5h2.3v5.44h-2.3zM168.0,205.5h2.7v5.44h-2.7zM338.3,205.5h5.5v5.44h-5.5zM393.7,205.5h5.5v5.44h-5.5zM472.7,205.5h11.6v5.44h-11.6zM244.1,210.9h5.5v5.44h-5.5zM360.4,216.4h5.5v5.44h-5.5zM107.9,221.8h1.8v5.44h-1.8zM288.4,227.2h5.5v5.44h-5.5zM519.0,227.2h11.6v5.44h-11.6zM305.0,232.7h5.5v5.44h-5.5zM377.1,232.7h5.5v5.44h-5.5zM449.6,238.1h11.6v5.44h-11.6zM393.7,249.0h5.5v5.44h-5.5zM179.1,265.3h2.9v5.44h-2.9zM388.1,265.3h5.5v5.44h-5.5zM99.1,270.8h1.7v5.44h-1.7zM288.4,276.2h5.5v5.44h-5.5zM90.9,281.6h1.6v5.44h-1.6zM343.8,287.1h5.5v5.44h-5.5zM86.3,292.5h1.5v5.44h-1.5zM472.7,297.9h11.6v5.44h-11.6zM249.6,303.4h5.5v5.44h-5.5zM277.3,303.4h5.5v5.44h-5.5zM393.7,303.4h5.5v5.44h-5.5zM415.8,303.4h5.5v5.44h-5.5zM113.5,308.8h1.9v5.44h-1.9zM238.5,308.8h5.5v5.44h-5.5zM260.7,308.8h5.5v5.44h-5.5zM530.6,308.8h11.6v5.44h-11.6zM117.3,314.2h2.0v5.44h-2.0zM244.1,314.2h5.5v5.44h-5.5zM162.7,325.1h2.6v5.44h-2.6zM565.3,325.1h11.6v5.44h-11.6zM426.9,336.0h5.5v5.44h-5.5zM432.5,336.0h5.5v5.44h-5.5zM519.0,336.0h11.6v5.44h-11.6zM100.8,341.4h1.7v5.44h-1.7zM168.0,341.4h2.7v5.44h-2.7zM321.6,341.4h5.5v5.44h-5.5zM484.3,341.4h11.6v5.44h-11.6zM99.1,346.9h1.7v5.44h-1.7zM332.7,346.9h5.5v5.44h-5.5zM125.4,352.3h2.1v5.44h-2.1zM147.7,352.3h2.4v5.44h-2.4zM260.7,352.3h5.5v5.44h-5.5zM271.8,352.3h5.5v5.44h-5.5zM277.3,352.3h5.5v5.44h-5.5zM484.3,352.3h11.6v5.44h-11.6zM92.5,357.8h1.6v5.44h-1.6zM299.5,357.8h5.5v5.44h-5.5zM393.7,363.2h5.5v5.44h-5.5zM271.8,379.5h5.5v5.44h-5.5zM282.9,379.5h5.5v5.44h-5.5zM260.7,390.4h5.5v5.44h-5.5zM288.4,390.4h5.5v5.44h-5.5zM332.7,390.4h5.5v5.44h-5.5zM266.2,395.8h5.5v5.44h-5.5zM249.6,401.2h5.5v5.44h-5.5zM426.9,401.2h5.5v5.44h-5.5zM449.6,401.2h11.6v5.44h-11.6zM495.9,401.2h11.6v5.44h-11.6zM399.2,406.7h5.5v5.44h-5.5zM233.0,412.1h5.5v5.44h-5.5zM249.6,412.1h5.5v5.44h-5.5zM266.2,417.6h5.5v5.44h-5.5zM143.0,423.0h2.3v5.44h-2.3zM271.8,423.0h5.5v5.44h-5.5zM461.1,428.4h11.6v5.44h-11.6zM332.7,433.9h5.5v5.44h-5.5zM461.1,433.9h11.6v5.44h-11.6zM495.9,433.9h11.6v5.44h-11.6zM89.4,439.3h1.6v5.44h-1.6zM277.3,439.3h5.5v5.44h-5.5zM426.9,439.3h5.5v5.44h-5.5zM260.7,450.2h5.5v5.44h-5.5zM327.2,450.2h5.5v5.44h-5.5zM484.3,450.2h11.6v5.44h-11.6zM495.9,450.2h11.6v5.44h-11.6zM123.3,455.6h2.1v5.44h-2.1zM277.3,455.6h5.5v5.44h-5.5zM519.0,455.6h11.6v5.44h-11.6zM233.0,461.1h5.5v5.44h-5.5zM271.8,461.1h5.5v5.44h-5.5zM332.7,461.1h5.5v5.44h-5.5zM438.0,461.1h11.6v5.44h-11.6zM553.7,461.1h11.6v5.44h-11.6zM366.0,466.5h5.5v5.44h-5.5zM249.6,471.9h5.5v5.44h-5.5zM282.9,471.9h5.5v5.44h-5.5zM332.7,471.9h5.5v5.44h-5.5zM271.8,477.4h5.5v5.44h-5.5zM404.8,477.4h5.5v5.44h-5.5zM115.4,482.8h1.9v5.44h-1.9zM282.9,482.8h5.5v5.44h-5.5zM87.8,488.2h1.5v5.44h-1.5zM115.4,488.2h1.9v5.44h-1.9zM157.6,488.2h2.6v5.44h-2.6zM260.7,488.2h5.5v5.44h-5.5zM354.9,488.2h5.5v5.44h-5.5zM519.0,488.2h11.6v5.44h-11.6zM530.6,488.2h11.6v5.44h-11.6zM168.0,493.7h2.7v5.44h-2.7zM140.7,499.1h2.3v5.44h-2.3zM173.5,499.1h2.8v5.44h-2.8zM109.7,504.6h1.9v5.44h-1.9z"/>
<path fill="#242424" d="M102.5,96.8h1.8v5.44h-1.8zM255.2,102.2h5.5v5.44h-5.5zM305.0,102.2h5.5v5.44h-5.5zM305.0,107.6h5.5v5.44h-5.5zM165.3,113.1h2.7v5.44h-2.7zM255.2,113.1h5.5v5.44h-5.5zM168.0,118.5h2.7v5.44h-2.7zM393.7,134.8h5.5v5.44h-5.5zM404.8,140.2h5.5v5.44h-5.5zM432.5,145.7h5.5v5.44h-5.5zM495.9,145.7h11.6v5.44h-11.6zM89.4,151.1h1.6v5.44h-1.6zM404.8,151.1h5.5v5.44h-5.5zM143.0,156.6h2.3v5.44h-2.3zM393.7,156.6h5.5v5.44h-5.5zM90.9,162.0h1.6v5.44h-1.6zM123.3,167.4h2.1v5.44h-2.1zM277.3,172.9h5.5v5.44h-5.5zM147.7,178.3h2.4v5.44h-2.4zM181.9,178.3h2.9v5.44h-2.9zM200.0,178.3h3.2v5.44h-3.2zM332.7,178.3h5.5v5.44h-5.5zM255.2,183.8h5.5v5.44h-5.5zM196.9,194.6h3.1v5.44h-3.1zM282.9,194.6h5.5v5.44h-5.5zM107.9,200.1h1.8v5.44h-1.8zM288.4,200.1h5.5v5.44h-5.5zM410.3,205.5h5.5v5.44h-5.5zM150.1,210.9h2.4v5.44h-2.4zM238.5,210.9h5.5v5.44h-5.5zM393.7,210.9h5.5v5.44h-5.5zM399.2,210.9h5.5v5.44h-5.5zM100.8,216.4h1.7v5.44h-1.7zM157.6,221.8h2.6v5.44h-2.6zM181.9,221.8h2.9v5.44h-2.9zM143.0,227.2h2.3v5.44h-2.3zM83.3,232.7h1.5v5.44h-1.5zM288.4,238.1h5.5v5.44h-5.5zM249.6,243.6h5.5v5.44h-5.5zM299.5,243.6h5.5v5.44h-5.5zM238.5,249.0h5.5v5.44h-5.5zM271.8,254.4h5.5v5.44h-5.5zM277.3,254.4h5.5v5.44h-5.5zM97.4,259.9h1.7v5.44h-1.7zM238.5,259.9h5.5v5.44h-5.5zM288.4,259.9h5.5v5.44h-5.5zM266.2,265.3h5.5v5.44h-5.5zM438.0,265.3h11.6v5.44h-11.6zM415.8,287.1h5.5v5.44h-5.5zM576.9,303.4h11.6v5.44h-11.6zM84.8,319.7h1.5v5.44h-1.5zM150.1,319.7h2.4v5.44h-2.4zM305.0,325.1h5.5v5.44h-5.5zM415.8,325.1h5.5v5.44h-5.5zM432.5,325.1h5.5v5.44h-5.5zM260.7,336.0h5.5v5.44h-5.5zM233.0,341.4h5.5v5.44h-5.5zM507.4,341.4h11.6v5.44h-11.6zM111.6,352.3h1.9v5.44h-1.9zM140.7,352.3h2.3v5.44h-2.3zM382.6,352.3h5.5v5.44h-5.5zM255.2,357.8h5.5v5.44h-5.5zM432.5,357.8h5.5v5.44h-5.5zM255.2,363.2h5.5v5.44h-5.5zM316.1,363.2h5.5v5.44h-5.5zM89.4,368.6h1.6v5.44h-1.6zM316.1,368.6h5.5v5.44h-5.5zM495.9,368.6h11.6v5.44h-11.6zM449.6,379.5h11.6v5.44h-11.6zM90.9,384.9h1.6v5.44h-1.6zM152.6,384.9h2.5v5.44h-2.5zM282.9,384.9h5.5v5.44h-5.5zM519.0,384.9h11.6v5.44h-11.6zM94.1,390.4h1.6v5.44h-1.6zM125.4,390.4h2.1v5.44h-2.1zM238.5,390.4h5.5v5.44h-5.5zM125.4,395.8h2.1v5.44h-2.1zM147.7,395.8h2.4v5.44h-2.4zM321.6,395.8h5.5v5.44h-5.5zM449.6,395.8h11.6v5.44h-11.6zM519.0,401.2h11.6v5.44h-11.6zM288.4,406.7h5.5v5.44h-5.5zM360.4,406.7h5.5v5.44h-5.5zM495.9,406.7h11.6v5.44h-11.6zM109.7,412.1h1.9v5.44h-1.9zM129.6,412.1h2.1v5.44h-2.1zM271.8,412.1h5.5v5.44h-5.5zM94.1,417.6h1.6v5.44h-1.6zM366.0,417.6h5.5v5.44h-5.5zM565.3,423.0h11.6v5.44h-11.6zM260.7,428.4h5.5v5.44h-5.5zM321.6,428.4h5.5v5.44h-5.5zM80.4,433.9h1.4v5.44h-1.4zM157.6,433.9h2.6v5.44h-2.6zM271.8,433.9h5.5v5.44h-5.5zM106.1,439.3h1.8v5.44h-1.8zM377.1,439.3h5.5v5.44h-5.5zM438.0,439.3h11.6v5.44h-11.6zM233.0,444.8h5.5v5.44h-5.5zM277.3,444.8h5.5v5.44h-5.5zM349.4,444.8h5.5v5.44h-5.5zM233.0,450.2h5.5v5.44h-5.5zM415.8,450.2h5.5v5.44h-5.5zM484.3,455.6h11.6v5.44h-11.6zM92.5,466.5h1.6v5.44h-1.6zM102.5,466.5h1.8v5.44h-1.8zM249.6,466.5h5.5v5.44h-5.5zM271.8,466.5h5.5v5.44h-5.5zM106.1,471.9h1.8v5.44h-1.8zM519.0,471.9h11.6v5.44h-11.6zM244.1,477.4h5.5v5.44h-5.5zM495.9,477.4h11.6v5.44h-11.6zM354.9,482.8h5.5v5.44h-5.5zM472.7,482.8h11.6v5.44h-11.6zM249.6,493.7h5.5v5.44h-5.5zM495.9,493.7h11.6v5.44h-11.6zM95.8,499.1h1.7v5.44h-1.7zM266.2,504.6h5.5v5.44h-5.5z"/>
<path fill="#252525" d="M87.8,75.0h1.5v5.44h-1.5zM121.3,75.0h2.0v5.44h-2.0zM140.7,75.0h2.3v5.44h-2.3zM81.9,85.9h1.5v5.44h-1.5zM117.3,85.9h2.0v5.44h-2.0zM90.9,107.6h1.6v5.44h-1.6zM100.8,107.6h1.7v5.44h-1.7zM145.3,107.6h2.4v5.44h-2.4zM321.6,107.6h5.5v5.44h-5.5zM449.6,107.6h11.6v5.44h-11.6zM125.4,113.1h2.1v5.44h-2.1zM449.6,123.9h11.6v5.44h-11.6zM343.8,134.8h5.5v5.44h-5.5zM127.5,140.2h2.1v5.44h-2.1zM111.6,156.6h1.9v5.44h-1.9zM100.8,162.0h1.7v5.44h-1.7zM107.9,167.4h1.8v5.44h-1.8zM349.4,172.9h5.5v5.44h-5.5zM426.9,178.3h5.5v5.44h-5.5zM244.1,183.8h5.5v5.44h-5.5zM81.9,189.2h1.5v5.44h-1.5zM99.1,189.2h1.7v5.44h-1.7zM89.4,200.1h1.6v5.44h-1.6zM111.6,200.1h1.9v5.44h-1.9zM382.6,200.1h5.5v5.44h-5.5zM109.7,210.9h1.9v5.44h-1.9zM484.3,210.9h11.6v5.44h-11.6zM155.0,216.4h2.5v5.44h-2.5zM266.2,216.4h5.5v5.44h-5.5zM371.5,216.4h5.5v5.44h-5.5zM410.3,227.2h5.5v5.44h-5.5zM94.1,232.7h1.6v5.44h-1.6zM354.9,238.1h5.5v5.44h-5.5zM360.4,243.6h5.5v5.44h-5.5zM260.7,249.0h5.5v5.44h-5.5zM255.2,254.4h5.5v5.44h-5.5zM123.3,265.3h2.1v5.44h-2.1zM366.0,265.3h5.5v5.44h-5.5zM449.6,265.3h11.6v5.44h-11.6zM80.4,276.2h1.4v5.44h-1.4zM305.0,287.1h5.5v5.44h-5.5zM472.7,287.1h11.6v5.44h-11.6zM179.1,292.5h2.9v5.44h-2.9zM260.7,292.5h5.5v5.44h-5.5zM277.3,292.5h5.5v5.44h-5.5zM100.8,297.9h1.7v5.44h-1.7zM203.2,297.9h3.2v5.44h-3.2zM233.0,297.9h5.5v5.44h-5.5zM203.2,303.4h3.2v5.44h-3.2zM219.8,308.8h3.5v5.44h-3.5zM495.9,308.8h11.6v5.44h-11.6zM266.2,314.2h5.5v5.44h-5.5zM377.1,314.2h5.5v5.44h-5.5zM266.2,325.1h5.5v5.44h-5.5zM288.4,325.1h5.5v5.44h-5.5zM507.4,325.1h11.6v5.44h-11.6zM170.7,336.0h2.7v5.44h-2.7zM203.2,336.0h3.2v5.44h-3.2zM104.3,341.4h1.8v5.44h-1.8zM249.6,341.4h5.5v5.44h-5.5zM349.4,341.4h5.5v5.44h-5.5zM472.7,341.4h11.6v5.44h-11.6zM206.4,346.9h3.3v5.44h-3.3zM165.3,357.8h2.7v5.44h-2.7zM193.8,357.8h3.1v5.44h-3.1zM226.7,363.2h3.6v5.44h-3.6zM266.2,363.2h5.5v5.44h-5.5zM349.4,363.2h5.5v5.44h-5.5zM136.1,368.6h2.2v5.44h-2.2zM206.4,368.6h3.3v5.44h-3.3zM226.7,368.6h3.6v5.44h-3.6zM233.0,368.6h5.5v5.44h-5.5zM305.0,368.6h5.5v5.44h-5.5zM377.1,368.6h5.5v5.44h-5.5zM507.4,368.6h11.6v5.44h-11.6zM206.4,374.1h3.3v5.44h-3.3zM266.2,374.1h5.5v5.44h-5.5zM223.2,379.5h3.5v5.44h-3.5zM244.1,384.9h5.5v5.44h-5.5zM266.2,384.9h5.5v5.44h-5.5zM84.8,390.4h1.5v5.44h-1.5zM203.2,390.4h3.2v5.44h-3.2zM432.5,390.4h5.5v5.44h-5.5zM83.3,395.8h1.5v5.44h-1.5zM170.7,395.8h2.7v5.44h-2.7zM288.4,395.8h5.5v5.44h-5.5zM484.3,395.8h11.6v5.44h-11.6zM115.4,401.2h1.9v5.44h-1.9zM90.9,406.7h1.6v5.44h-1.6zM89.4,412.1h1.6v5.44h-1.6zM200.0,412.1h3.2v5.44h-3.2zM238.5,412.1h5.5v5.44h-5.5zM233.0,417.6h5.5v5.44h-5.5zM92.5,423.0h1.6v5.44h-1.6zM223.2,423.0h3.5v5.44h-3.5zM233.0,423.0h5.5v5.44h-5.5zM288.4,423.0h5.5v5.44h-5.5zM277.3,433.9h5.5v5.44h-5.5zM115.4,439.3h1.9v5.44h-1.9zM216.3,439.3h3.4v5.44h-3.4zM249.6,439.3h5.5v5.44h-5.5zM223.2,444.8h3.5v5.44h-3.5zM343.8,444.8h5.5v5.44h-5.5zM216.3,450.2h3.4v5.44h-3.4zM79.0,455.6h1.4v5.44h-1.4zM129.6,455.6h2.1v5.44h-2.1zM79.0,466.5h1.4v5.44h-1.4zM92.5,471.9h1.6v5.44h-1.6zM125.4,477.4h2.1v5.44h-2.1zM193.8,477.4h3.1v5.44h-3.1zM206.4,477.4h3.3v5.44h-3.3zM216.3,477.4h3.4v5.44h-3.4zM288.4,477.4h5.5v5.44h-5.5zM200.0,482.8h3.2v5.44h-3.2zM230.3,488.2h2.7v5.44h-2.7zM461.1,493.7h11.6v5.44h-11.6zM576.9,493.7h11.6v5.44h-11.6zM106.1,499.1h1.8v5.44h-1.8zM92.5,504.6h1.6v5.44h-1.6zM438.0,504.6h11.6v5.44h-11.6z"/>
<path fill="#262626" d="M162.7,91.3h2.6v5.44h-2.6zM168.0,91.3h2.7v5.44h-2.7zM260.7,102.2h5.5v5.44h-5.5zM109.7,107.6h1.9v5.44h-1.9zM266.2,118.5h5.5v5.44h-5.5zM388.1,129.4h5.5v5.44h-5.5zM438.0,129.4h11.6v5.44h-11.6zM121.3,134.8h2.0v5.44h-2.0zM260.7,134.8h5.5v5.44h-5.5zM354.9,167.4h5.5v5.44h-5.5zM109.7,172.9h1.9v5.44h-1.9zM168.0,172.9h2.7v5.44h-2.7zM438.0,178.3h11.6v5.44h-11.6zM84.8,183.8h1.5v5.44h-1.5zM327.2,183.8h5.5v5.44h-5.5zM109.7,200.1h1.9v5.44h-1.9zM127.5,200.1h2.1v5.44h-2.1zM255.2,200.1h5.5v5.44h-5.5zM87.8,205.5h1.5v5.44h-1.5zM249.6,210.9h5.5v5.44h-5.5zM125.4,221.8h2.1v5.44h-2.1zM266.2,227.2h5.5v5.44h-5.5zM282.9,227.2h5.5v5.44h-5.5zM332.7,227.2h5.5v5.44h-5.5zM113.5,232.7h1.9v5.44h-1.9zM244.1,232.7h5.5v5.44h-5.5zM282.9,232.7h5.5v5.44h-5.5zM484.3,232.7h11.6v5.44h-11.6zM255.2,243.6h5.5v5.44h-5.5zM271.8,243.6h5.5v5.44h-5.5zM277.3,249.0h5.5v5.44h-5.5zM507.4,249.0h11.6v5.44h-11.6zM133.9,254.4h2.2v5.44h-2.2zM338.3,254.4h5.5v5.44h-5.5zM255.2,259.9h5.5v5.44h-5.5zM271.8,259.9h5.5v5.44h-5.5zM271.8,270.8h5.5v5.44h-5.5zM127.5,276.2h2.1v5.44h-2.1zM260.7,276.2h5.5v5.44h-5.5zM176.2,281.6h2.8v5.44h-2.8zM461.1,281.6h11.6v5.44h-11.6zM244.1,287.1h5.5v5.44h-5.5zM288.4,287.1h5.5v5.44h-5.5zM219.8,297.9h3.5v5.44h-3.5zM223.2,297.9h3.5v5.44h-3.5zM388.1,297.9h5.5v5.44h-5.5zM216.3,303.4h3.4v5.44h-3.4zM266.2,303.4h5.5v5.44h-5.5zM115.4,308.8h1.9v5.44h-1.9zM223.2,308.8h3.5v5.44h-3.5zM255.2,308.8h5.5v5.44h-5.5zM404.8,314.2h5.5v5.44h-5.5zM249.6,319.7h5.5v5.44h-5.5zM160.1,325.1h2.6v5.44h-2.6zM223.2,330.6h3.5v5.44h-3.5zM432.5,330.6h5.5v5.44h-5.5zM415.8,336.0h5.5v5.44h-5.5zM438.0,336.0h11.6v5.44h-11.6zM216.3,341.4h3.4v5.44h-3.4zM219.8,341.4h3.5v5.44h-3.5zM213.0,346.9h3.4v5.44h-3.4zM223.2,346.9h3.5v5.44h-3.5zM449.6,346.9h11.6v5.44h-11.6zM131.7,352.3h2.2v5.44h-2.2zM213.0,352.3h3.4v5.44h-3.4zM438.0,352.3h11.6v5.44h-11.6zM196.9,357.8h3.1v5.44h-3.1zM209.7,357.8h3.3v5.44h-3.3zM219.8,357.8h3.5v5.44h-3.5zM193.8,363.2h3.1v5.44h-3.1zM299.5,363.2h5.5v5.44h-5.5zM213.0,368.6h3.4v5.44h-3.4zM106.1,374.1h1.8v5.44h-1.8zM170.7,374.1h2.7v5.44h-2.7zM316.1,379.5h5.5v5.44h-5.5zM86.3,395.8h1.5v5.44h-1.5zM127.5,395.8h2.1v5.44h-2.1zM121.3,401.2h2.0v5.44h-2.0zM255.2,401.2h5.5v5.44h-5.5zM282.9,401.2h5.5v5.44h-5.5zM332.7,401.2h5.5v5.44h-5.5zM117.3,406.7h2.0v5.44h-2.0zM223.2,406.7h3.5v5.44h-3.5zM196.9,412.1h3.1v5.44h-3.1zM206.4,412.1h3.3v5.44h-3.3zM230.3,412.1h2.7v5.44h-2.7zM95.8,417.6h1.7v5.44h-1.7zM99.1,423.0h1.7v5.44h-1.7zM193.8,423.0h3.1v5.44h-3.1zM209.7,423.0h3.3v5.44h-3.3zM226.7,428.4h3.6v5.44h-3.6zM230.3,428.4h2.7v5.44h-2.7zM193.8,444.8h3.1v5.44h-3.1zM206.4,444.8h3.3v5.44h-3.3zM80.4,450.2h1.4v5.44h-1.4zM230.3,450.2h2.7v5.44h-2.7zM244.1,450.2h5.5v5.44h-5.5zM343.8,450.2h5.5v5.44h-5.5zM507.4,450.2h11.6v5.44h-11.6zM213.0,455.6h3.4v5.44h-3.4zM310.6,455.6h5.5v5.44h-5.5zM327.2,455.6h5.5v5.44h-5.5zM377.1,461.1h5.5v5.44h-5.5zM449.6,461.1h11.6v5.44h-11.6zM193.8,466.5h3.1v5.44h-3.1zM233.0,466.5h5.5v5.44h-5.5zM343.8,466.5h5.5v5.44h-5.5zM89.4,471.9h1.6v5.44h-1.6zM530.6,471.9h11.6v5.44h-11.6zM200.0,477.4h3.2v5.44h-3.2zM193.8,482.8h3.1v5.44h-3.1zM145.3,488.2h2.4v5.44h-2.4zM449.6,488.2h11.6v5.44h-11.6zM109.7,493.7h1.9v5.44h-1.9zM244.1,493.7h5.5v5.44h-5.5zM288.4,493.7h5.5v5.44h-5.5zM193.8,499.1h3.1v5.44h-3.1zM203.2,499.1h3.2v5.44h-3.2zM100.8,504.6h1.7v5.44h-1.7zM107.9,504.6h1.8v5.44h-1.8zM421.4,504.6h5.5v5.44h-5.5z"/>
<path fill="#272727" d="M131.7,80.4h2.2v5.44h-2.2zM143.0,102.2h2.3v5.44h-2.3zM176.2,102.2h2.8v5.44h-2.8zM95.8,107.6h1.7v5.44h-1.7zM155.0,107.6h2.5v5.44h-2.5zM271.8,123.9h5.5v5.44h-5.5zM209.7,129.4h3.3v5.44h-3.3zM310.6,129.4h5.5v5.44h-5.5zM244.1,134.8h5.5v5.44h-5.5zM438.0,140.2h11.6v5.44h-11.6zM266.2,156.6h5.5v5.44h-5.5zM99.1,183.8h1.7v5.44h-1.7zM127.5,194.6h2.1v5.44h-2.1zM102.5,200.1h1.8v5.44h-1.8zM327.2,200.1h5.5v5.44h-5.5zM366.0,205.5h5.5v5.44h-5.5zM184.8,210.9h3.0v5.44h-3.0zM266.2,210.9h5.5v5.44h-5.5zM117.3,216.4h2.0v5.44h-2.0zM426.9,221.8h5.5v5.44h-5.5zM461.1,221.8h11.6v5.44h-11.6zM260.7,227.2h5.5v5.44h-5.5zM354.9,227.2h5.5v5.44h-5.5zM507.4,227.2h11.6v5.44h-11.6zM260.7,238.1h5.5v5.44h-5.5zM260.7,243.6h5.5v5.44h-5.5zM277.3,243.6h5.5v5.44h-5.5zM190.8,249.0h3.0v5.44h-3.0zM415.8,249.0h5.5v5.44h-5.5zM162.7,254.4h2.6v5.44h-2.6zM249.6,270.8h5.5v5.44h-5.5zM282.9,270.8h5.5v5.44h-5.5zM97.4,276.2h1.7v5.44h-1.7zM100.8,276.2h1.7v5.44h-1.7zM282.9,287.1h5.5v5.44h-5.5zM332.7,287.1h5.5v5.44h-5.5zM117.3,292.5h2.0v5.44h-2.0zM129.6,292.5h2.1v5.44h-2.1zM92.5,297.9h1.6v5.44h-1.6zM282.9,303.4h5.5v5.44h-5.5zM104.3,308.8h1.8v5.44h-1.8zM127.5,308.8h2.1v5.44h-2.1zM111.6,314.2h1.9v5.44h-1.9zM136.1,314.2h2.2v5.44h-2.2zM107.9,319.7h1.8v5.44h-1.8zM83.3,325.1h1.5v5.44h-1.5zM230.3,325.1h2.7v5.44h-2.7zM519.0,325.1h11.6v5.44h-11.6zM209.7,330.6h3.3v5.44h-3.3zM99.1,336.0h1.7v5.44h-1.7zM206.4,336.0h3.3v5.44h-3.3zM226.7,336.0h3.6v5.44h-3.6zM404.8,336.0h5.5v5.44h-5.5zM83.3,341.4h1.5v5.44h-1.5zM133.9,341.4h2.2v5.44h-2.2zM216.3,346.9h3.4v5.44h-3.4zM260.7,346.9h5.5v5.44h-5.5zM271.8,346.9h5.5v5.44h-5.5zM193.8,352.3h3.1v5.44h-3.1zM147.7,357.8h2.4v5.44h-2.4zM203.2,363.2h3.2v5.44h-3.2zM107.9,368.6h1.8v5.44h-1.8zM410.3,368.6h5.5v5.44h-5.5zM84.8,374.1h1.5v5.44h-1.5zM203.2,374.1h3.2v5.44h-3.2zM138.4,379.5h2.3v5.44h-2.3zM200.0,379.5h3.2v5.44h-3.2zM249.6,379.5h5.5v5.44h-5.5zM106.1,384.9h1.8v5.44h-1.8zM206.4,384.9h3.3v5.44h-3.3zM226.7,384.9h3.6v5.44h-3.6zM288.4,384.9h5.5v5.44h-5.5zM277.3,390.4h5.5v5.44h-5.5zM104.3,395.8h1.8v5.44h-1.8zM79.0,406.7h1.4v5.44h-1.4zM152.6,406.7h2.5v5.44h-2.5zM84.8,412.1h1.5v5.44h-1.5zM288.4,412.1h5.5v5.44h-5.5zM249.6,417.6h5.5v5.44h-5.5zM260.7,417.6h5.5v5.44h-5.5zM244.1,423.0h5.5v5.44h-5.5zM260.7,423.0h5.5v5.44h-5.5zM343.8,423.0h5.5v5.44h-5.5zM576.9,423.0h11.6v5.44h-11.6zM553.7,428.4h11.6v5.44h-11.6zM200.0,433.9h3.2v5.44h-3.2zM360.4,433.9h5.5v5.44h-5.5zM388.1,433.9h5.5v5.44h-5.5zM87.8,439.3h1.5v5.44h-1.5zM193.8,439.3h3.1v5.44h-3.1zM200.0,439.3h3.2v5.44h-3.2zM238.5,439.3h5.5v5.44h-5.5zM200.0,444.8h3.2v5.44h-3.2zM226.7,444.8h3.6v5.44h-3.6zM244.1,444.8h5.5v5.44h-5.5zM249.6,444.8h5.5v5.44h-5.5zM472.7,444.8h11.6v5.44h-11.6zM223.2,450.2h3.5v5.44h-3.5zM233.0,455.6h5.5v5.44h-5.5zM255.2,455.6h5.5v5.44h-5.5zM288.4,455.6h5.5v5.44h-5.5zM360.4,455.6h5.5v5.44h-5.5zM230.3,461.1h2.7v5.44h-2.7zM277.3,461.1h5.5v5.44h-5.5zM282.9,461.1h5.5v5.44h-5.5zM393.7,461.1h5.5v5.44h-5.5zM80.4,466.5h1.4v5.44h-1.4zM100.8,466.5h1.7v5.44h-1.7zM165.3,466.5h2.7v5.44h-2.7zM216.3,466.5h3.4v5.44h-3.4zM426.9,466.5h5.5v5.44h-5.5zM461.1,466.5h11.6v5.44h-11.6zM244.1,471.9h5.5v5.44h-5.5zM288.4,471.9h5.5v5.44h-5.5zM165.3,477.4h2.7v5.44h-2.7zM216.3,482.8h3.4v5.44h-3.4zM277.3,482.8h5.5v5.44h-5.5zM209.7,488.2h3.3v5.44h-3.3zM316.1,488.2h5.5v5.44h-5.5zM206.4,493.7h3.3v5.44h-3.3zM316.1,493.7h5.5v5.44h-5.5zM360.4,493.7h5.5v5.44h-5.5zM206.4,504.6h3.3v5.44h-3.3zM223.2,504.6h3.5v5.44h-3.5zM249.6,504.6h5.5v5.44h-5.5zM260.7,504.6h5.5v5.44h-5.5zM472.7,504.6h11.6v5.44h-11.6z"/>
<path fill="#282828" d="M152.6,85.9h2.5v5.44h-2.5zM181.9,107.6h2.9v5.44h-2.9zM95.8,113.1h1.7v5.44h-1.7zM106.1,113.1h1.8v5.44h-1.8zM449.6,113.1h11.6v5.44h-11.6zM179.1,118.5h2.9v5.44h-2.9zM461.1,118.5h11.6v5.44h-11.6zM160.1,129.4h2.6v5.44h-2.6zM173.5,129.4h2.8v5.44h-2.8zM209.7,134.8h3.3v5.44h-3.3zM299.5,151.1h5.5v5.44h-5.5zM87.8,156.6h1.5v5.44h-1.5zM495.9,156.6h11.6v5.44h-11.6zM145.3,162.0h2.4v5.44h-2.4zM327.2,162.0h5.5v5.44h-5.5zM83.3,167.4h1.5v5.44h-1.5zM117.3,172.9h2.0v5.44h-2.0zM382.6,178.3h5.5v5.44h-5.5zM388.1,178.3h5.5v5.44h-5.5zM449.6,189.2h11.6v5.44h-11.6zM277.3,194.6h5.5v5.44h-5.5zM371.5,200.1h5.5v5.44h-5.5zM484.3,200.1h11.6v5.44h-11.6zM100.8,205.5h1.7v5.44h-1.7zM138.4,205.5h2.3v5.44h-2.3zM107.9,210.9h1.8v5.44h-1.8zM249.6,216.4h5.5v5.44h-5.5zM332.7,221.8h5.5v5.44h-5.5zM97.4,238.1h1.7v5.44h-1.7zM150.1,238.1h2.4v5.44h-2.4zM519.0,238.1h11.6v5.44h-11.6zM349.4,259.9h5.5v5.44h-5.5zM449.6,259.9h11.6v5.44h-11.6zM484.3,259.9h11.6v5.44h-11.6zM495.9,259.9h11.6v5.44h-11.6zM102.5,270.8h1.8v5.44h-1.8zM136.1,287.1h2.2v5.44h-2.2zM519.0,287.1h11.6v5.44h-11.6zM484.3,292.5h11.6v5.44h-11.6zM102.5,297.9h1.8v5.44h-1.8zM305.0,297.9h5.5v5.44h-5.5zM327.2,297.9h5.5v5.44h-5.5zM99.1,303.4h1.7v5.44h-1.7zM244.1,303.4h5.5v5.44h-5.5zM438.0,308.8h11.6v5.44h-11.6zM193.8,314.2h3.1v5.44h-3.1zM226.7,314.2h3.6v5.44h-3.6zM219.8,319.7h3.5v5.44h-3.5zM576.9,319.7h11.6v5.44h-11.6zM219.8,325.1h3.5v5.44h-3.5zM213.0,330.6h3.4v5.44h-3.4zM288.4,330.6h5.5v5.44h-5.5zM472.7,330.6h11.6v5.44h-11.6zM100.8,336.0h1.7v5.44h-1.7zM238.5,336.0h5.5v5.44h-5.5zM542.1,336.0h11.6v5.44h-11.6zM119.3,341.4h2.0v5.44h-2.0zM238.5,341.4h5.5v5.44h-5.5zM255.2,346.9h5.5v5.44h-5.5zM415.8,346.9h5.5v5.44h-5.5zM86.3,352.3h1.5v5.44h-1.5zM209.7,352.3h3.3v5.44h-3.3zM216.3,352.3h3.4v5.44h-3.4zM226.7,357.8h3.6v5.44h-3.6zM461.1,357.8h11.6v5.44h-11.6zM79.0,363.2h1.4v5.44h-1.4zM138.4,363.2h2.3v5.44h-2.3zM200.0,363.2h3.2v5.44h-3.2zM206.4,363.2h3.3v5.44h-3.3zM249.6,363.2h5.5v5.44h-5.5zM209.7,368.6h3.3v5.44h-3.3zM123.3,379.5h2.1v5.44h-2.1zM129.6,379.5h2.1v5.44h-2.1zM160.1,379.5h2.6v5.44h-2.6zM507.4,379.5h11.6v5.44h-11.6zM277.3,384.9h5.5v5.44h-5.5zM519.0,390.4h11.6v5.44h-11.6zM553.7,390.4h11.6v5.44h-11.6zM79.0,395.8h1.4v5.44h-1.4zM216.3,395.8h3.4v5.44h-3.4zM588.4,395.8h11.6v5.44h-11.6zM219.8,401.2h3.5v5.44h-3.5zM223.2,401.2h3.5v5.44h-3.5zM438.0,401.2h11.6v5.44h-11.6zM472.7,401.2h11.6v5.44h-11.6zM219.8,406.7h3.5v5.44h-3.5zM553.7,406.7h11.6v5.44h-11.6zM219.8,412.1h3.5v5.44h-3.5zM542.1,412.1h11.6v5.44h-11.6zM519.0,417.6h11.6v5.44h-11.6zM349.4,423.0h5.5v5.44h-5.5zM203.2,428.4h3.2v5.44h-3.2zM244.1,428.4h5.5v5.44h-5.5zM216.3,444.8h3.4v5.44h-3.4zM255.2,444.8h5.5v5.44h-5.5zM449.6,444.8h11.6v5.44h-11.6zM530.6,444.8h11.6v5.44h-11.6zM196.9,450.2h3.1v5.44h-3.1zM288.4,450.2h5.5v5.44h-5.5zM92.5,455.6h1.6v5.44h-1.6zM260.7,455.6h5.5v5.44h-5.5zM432.5,455.6h5.5v5.44h-5.5zM123.3,461.1h2.1v5.44h-2.1zM206.4,461.1h3.3v5.44h-3.3zM288.4,461.1h5.5v5.44h-5.5zM588.4,461.1h11.6v5.44h-11.6zM117.3,466.5h2.0v5.44h-2.0zM173.5,466.5h2.8v5.44h-2.8zM219.8,466.5h3.5v5.44h-3.5zM266.2,466.5h5.5v5.44h-5.5zM173.5,471.9h2.8v5.44h-2.8zM216.3,471.9h3.4v5.44h-3.4zM255.2,471.9h5.5v5.44h-5.5zM495.9,471.9h11.6v5.44h-11.6zM84.8,477.4h1.5v5.44h-1.5zM226.7,477.4h3.6v5.44h-3.6zM230.3,482.8h2.7v5.44h-2.7zM244.1,482.8h5.5v5.44h-5.5zM484.3,482.8h11.6v5.44h-11.6zM588.4,482.8h11.6v5.44h-11.6zM83.3,493.7h1.5v5.44h-1.5zM138.4,493.7h2.3v5.44h-2.3zM588.4,493.7h11.6v5.44h-11.6zM260.7,499.1h5.5v5.44h-5.5zM588.4,499.1h11.6v5.44h-11.6zM230.3,504.6h2.7v5.44h-2.7zM233.0,504.6h5.5v5.44h-5.5zM244.1,504.6h5.5v5.44h-5.5z"/>
<path fill="#292929" d="M173.5,75.0h2.8v5.44h-2.8zM104.3,85.9h1.8v5.44h-1.8zM119.3,96.8h2.0v5.44h-2.0zM152.6,96.8h2.5v5.44h-2.5zM100.8,102.2h1.7v5.44h-1.7zM138.4,102.2h2.3v5.44h-2.3zM371.5,107.6h5.5v5.44h-5.5zM404.8,107.6h5.5v5.44h-5.5zM97.4,123.9h1.7v5.44h-1.7zM421.4,123.9h5.5v5.44h-5.5zM115.4,129.4h1.9v5.44h-1.9zM80.4,140.2h1.4v5.44h-1.4zM271.8,140.2h5.5v5.44h-5.5zM316.1,140.2h5.5v5.44h-5.5zM410.3,140.2h5.5v5.44h-5.5zM125.4,145.7h2.1v5.44h-2.1zM343.8,145.7h5.5v5.44h-5.5zM410.3,151.1h5.5v5.44h-5.5zM377.1,156.6h5.5v5.44h-5.5zM366.0,162.0h5.5v5.44h-5.5zM107.9,194.6h1.8v5.44h-1.8zM382.6,194.6h5.5v5.44h-5.5zM80.4,205.5h1.4v5.44h-1.4zM92.5,205.5h1.6v5.44h-1.6zM109.7,205.5h1.9v5.44h-1.9zM282.9,205.5h5.5v5.44h-5.5zM282.9,210.9h5.5v5.44h-5.5zM305.0,216.4h5.5v5.44h-5.5zM354.9,216.4h5.5v5.44h-5.5zM165.3,227.2h2.7v5.44h-2.7zM288.4,232.7h5.5v5.44h-5.5zM102.5,243.6h1.8v5.44h-1.8zM327.2,243.6h5.5v5.44h-5.5zM343.8,243.6h5.5v5.44h-5.5zM84.8,249.0h1.5v5.44h-1.5zM244.1,249.0h5.5v5.44h-5.5zM338.3,249.0h5.5v5.44h-5.5zM147.7,254.4h2.4v5.44h-2.4zM160.1,254.4h2.6v5.44h-2.6zM266.2,254.4h5.5v5.44h-5.5zM426.9,259.9h5.5v5.44h-5.5zM127.5,270.8h2.1v5.44h-2.1zM327.2,270.8h5.5v5.44h-5.5zM371.5,270.8h5.5v5.44h-5.5zM404.8,270.8h5.5v5.44h-5.5zM410.3,276.2h5.5v5.44h-5.5zM87.8,287.1h1.5v5.44h-1.5zM255.2,292.5h5.5v5.44h-5.5zM343.8,292.5h5.5v5.44h-5.5zM244.1,297.9h5.5v5.44h-5.5zM338.3,297.9h5.5v5.44h-5.5zM393.7,297.9h5.5v5.44h-5.5zM196.9,303.4h3.1v5.44h-3.1zM223.2,303.4h3.5v5.44h-3.5zM213.0,308.8h3.4v5.44h-3.4zM140.7,314.2h2.3v5.44h-2.3zM143.0,314.2h2.3v5.44h-2.3zM170.7,314.2h2.7v5.44h-2.7zM260.7,314.2h5.5v5.44h-5.5zM196.9,336.0h3.1v5.44h-3.1zM366.0,336.0h5.5v5.44h-5.5zM200.0,341.4h3.2v5.44h-3.2zM255.2,341.4h5.5v5.44h-5.5zM360.4,341.4h5.5v5.44h-5.5zM107.9,352.3h1.8v5.44h-1.8zM233.0,357.8h5.5v5.44h-5.5zM310.6,357.8h5.5v5.44h-5.5zM382.6,357.8h5.5v5.44h-5.5zM271.8,363.2h5.5v5.44h-5.5zM343.8,363.2h5.5v5.44h-5.5zM399.2,363.2h5.5v5.44h-5.5zM125.4,368.6h2.1v5.44h-2.1zM193.8,368.6h3.1v5.44h-3.1zM382.6,368.6h5.5v5.44h-5.5zM86.3,374.1h1.5v5.44h-1.5zM388.1,374.1h5.5v5.44h-5.5zM209.7,384.9h3.3v5.44h-3.3zM332.7,384.9h5.5v5.44h-5.5zM426.9,390.4h5.5v5.44h-5.5zM140.7,395.8h2.3v5.44h-2.3zM399.2,395.8h5.5v5.44h-5.5zM415.8,395.8h5.5v5.44h-5.5zM216.3,401.2h3.4v5.44h-3.4zM316.1,401.2h5.5v5.44h-5.5zM213.0,406.7h3.4v5.44h-3.4zM230.3,406.7h2.7v5.44h-2.7zM282.9,406.7h5.5v5.44h-5.5zM377.1,406.7h5.5v5.44h-5.5zM421.4,406.7h5.5v5.44h-5.5zM213.0,412.1h3.4v5.44h-3.4zM382.6,412.1h5.5v5.44h-5.5zM354.9,423.0h5.5v5.44h-5.5zM266.2,428.4h5.5v5.44h-5.5zM354.9,428.4h5.5v5.44h-5.5zM89.4,433.9h1.6v5.44h-1.6zM133.9,433.9h2.2v5.44h-2.2zM206.4,433.9h3.3v5.44h-3.3zM310.6,433.9h5.5v5.44h-5.5zM338.3,433.9h5.5v5.44h-5.5zM366.0,433.9h5.5v5.44h-5.5zM421.4,433.9h5.5v5.44h-5.5zM95.8,439.3h1.7v5.44h-1.7zM219.8,439.3h3.5v5.44h-3.5zM223.2,439.3h3.5v5.44h-3.5zM233.0,439.3h5.5v5.44h-5.5zM404.8,439.3h5.5v5.44h-5.5zM219.8,444.8h3.5v5.44h-3.5zM288.4,444.8h5.5v5.44h-5.5zM316.1,444.8h5.5v5.44h-5.5zM310.6,450.2h5.5v5.44h-5.5zM404.8,450.2h5.5v5.44h-5.5zM238.5,461.1h5.5v5.44h-5.5zM354.9,461.1h5.5v5.44h-5.5zM321.6,471.9h5.5v5.44h-5.5zM410.3,471.9h5.5v5.44h-5.5zM415.8,471.9h5.5v5.44h-5.5zM115.4,477.4h1.9v5.44h-1.9zM223.2,477.4h3.5v5.44h-3.5zM321.6,477.4h5.5v5.44h-5.5zM354.9,477.4h5.5v5.44h-5.5zM410.3,477.4h5.5v5.44h-5.5zM219.8,482.8h3.5v5.44h-3.5zM382.6,482.8h5.5v5.44h-5.5zM94.1,488.2h1.6v5.44h-1.6zM95.8,493.7h1.7v5.44h-1.7zM125.4,493.7h2.1v5.44h-2.1zM145.3,499.1h2.4v5.44h-2.4zM299.5,499.1h5.5v5.44h-5.5z"/>
<path fill="#2a2a2a" d="M125.4,75.0h2.1v5.44h-2.1zM129.6,85.9h2.1v5.44h-2.1zM104.3,91.3h1.8v5.44h-1.8zM106.1,91.3h1.8v5.44h-1.8zM107.9,91.3h1.8v5.44h-1.8zM86.3,113.1h1.5v5.44h-1.5zM97.4,113.1h1.7v5.44h-1.7zM106.1,118.5h1.8v5.44h-1.8zM90.9,123.9h1.6v5.44h-1.6zM94.1,129.4h1.6v5.44h-1.6zM170.7,129.4h2.7v5.44h-2.7zM152.6,145.7h2.5v5.44h-2.5zM260.7,167.4h5.5v5.44h-5.5zM79.0,172.9h1.4v5.44h-1.4zM165.3,189.2h2.7v5.44h-2.7zM176.2,189.2h2.8v5.44h-2.8zM97.4,194.6h1.7v5.44h-1.7zM187.8,200.1h3.0v5.44h-3.0zM255.2,205.5h5.5v5.44h-5.5zM84.8,210.9h1.5v5.44h-1.5zM84.8,232.7h1.5v5.44h-1.5zM109.7,238.1h1.9v5.44h-1.9zM266.2,249.0h5.5v5.44h-5.5zM282.9,249.0h5.5v5.44h-5.5zM288.4,249.0h5.5v5.44h-5.5zM84.8,254.4h1.5v5.44h-1.5zM123.3,254.4h2.1v5.44h-2.1zM81.9,259.9h1.5v5.44h-1.5zM165.3,259.9h2.7v5.44h-2.7zM260.7,259.9h5.5v5.44h-5.5zM173.5,276.2h2.8v5.44h-2.8zM181.9,292.5h2.9v5.44h-2.9zM213.0,297.9h3.4v5.44h-3.4zM109.7,303.4h1.9v5.44h-1.9zM87.8,308.8h1.5v5.44h-1.5zM107.9,314.2h1.8v5.44h-1.8zM223.2,314.2h3.5v5.44h-3.5zM244.1,325.1h5.5v5.44h-5.5zM255.2,325.1h5.5v5.44h-5.5zM162.7,330.6h2.6v5.44h-2.6zM165.3,330.6h2.7v5.44h-2.7zM238.5,330.6h5.5v5.44h-5.5zM282.9,330.6h5.5v5.44h-5.5zM147.7,341.4h2.4v5.44h-2.4zM203.2,341.4h3.2v5.44h-3.2zM109.7,346.9h1.9v5.44h-1.9zM100.8,357.8h1.7v5.44h-1.7zM230.3,363.2h2.7v5.44h-2.7zM165.3,368.6h2.7v5.44h-2.7zM203.2,368.6h3.2v5.44h-3.2zM117.3,379.5h2.0v5.44h-2.0zM140.7,379.5h2.3v5.44h-2.3zM213.0,379.5h3.4v5.44h-3.4zM288.4,379.5h5.5v5.44h-5.5zM83.3,384.9h1.5v5.44h-1.5zM129.6,384.9h2.1v5.44h-2.1zM123.3,390.4h2.1v5.44h-2.1zM216.3,390.4h3.4v5.44h-3.4zM249.6,395.8h5.5v5.44h-5.5zM100.8,406.7h1.7v5.44h-1.7zM127.5,406.7h2.1v5.44h-2.1zM260.7,406.7h5.5v5.44h-5.5zM173.5,417.6h2.8v5.44h-2.8zM200.0,423.0h3.2v5.44h-3.2zM226.7,423.0h3.6v5.44h-3.6zM200.0,428.4h3.2v5.44h-3.2zM219.8,428.4h3.5v5.44h-3.5zM226.7,433.9h3.6v5.44h-3.6zM99.1,439.3h1.7v5.44h-1.7zM209.7,439.3h3.3v5.44h-3.3zM193.8,450.2h3.1v5.44h-3.1zM203.2,455.6h3.2v5.44h-3.2zM206.4,455.6h3.3v5.44h-3.3zM226.7,461.1h3.6v5.44h-3.6zM209.7,466.5h3.3v5.44h-3.3zM102.5,471.9h1.8v5.44h-1.8zM203.2,471.9h3.2v5.44h-3.2zM226.7,471.9h3.6v5.44h-3.6zM213.0,477.4h3.4v5.44h-3.4zM206.4,482.8h3.3v5.44h-3.3zM104.3,488.2h1.8v5.44h-1.8zM238.5,488.2h5.5v5.44h-5.5zM89.4,493.7h1.6v5.44h-1.6zM209.7,499.1h3.3v5.44h-3.3zM230.3,499.1h2.7v5.44h-2.7zM219.8,504.6h3.5v5.44h-3.5z"/>
<path fill="#2b2b2b" d="M187.8,75.0h3.0v5.44h-3.0zM168.0,85.9h2.7v5.44h-2.7zM79.0,91.3h1.4v5.44h-1.4zM90.9,102.2h1.6v5.44h-1.6zM121.3,102.2h2.0v5.44h-2.0zM147.7,102.2h2.4v5.44h-2.4zM160.1,107.6h2.6v5.44h-2.6zM100.8,140.2h1.7v5.44h-1.7zM107.9,151.1h1.8v5.44h-1.8zM162.7,156.6h2.6v5.44h-2.6zM87.8,162.0h1.5v5.44h-1.5zM79.0,167.4h1.4v5.44h-1.4zM94.1,172.9h1.6v5.44h-1.6zM226.7,172.9h3.6v5.44h-3.6zM209.7,205.5h3.3v5.44h-3.3zM213.0,210.9h3.4v5.44h-3.4zM271.8,216.4h5.5v5.44h-5.5zM168.0,221.8h2.7v5.44h-2.7zM206.4,227.2h3.3v5.44h-3.3zM288.4,243.6h5.5v5.44h-5.5zM282.9,254.4h5.5v5.44h-5.5zM288.4,254.4h5.5v5.44h-5.5zM79.0,265.3h1.4v5.44h-1.4zM193.8,265.3h3.1v5.44h-3.1zM230.3,265.3h2.7v5.44h-2.7zM249.6,265.3h5.5v5.44h-5.5zM277.3,265.3h5.5v5.44h-5.5zM125.4,270.8h2.1v5.44h-2.1zM129.6,270.8h2.1v5.44h-2.1zM94.1,276.2h1.6v5.44h-1.6zM104.3,276.2h1.8v5.44h-1.8zM121.3,276.2h2.0v5.44h-2.0zM219.8,287.1h3.5v5.44h-3.5zM216.3,292.5h3.4v5.44h-3.4zM230.3,297.9h2.7v5.44h-2.7zM155.0,303.4h2.5v5.44h-2.5zM226.7,303.4h3.6v5.44h-3.6zM230.3,303.4h2.7v5.44h-2.7zM196.9,308.8h3.1v5.44h-3.1zM233.0,308.8h5.5v5.44h-5.5zM209.7,314.2h3.3v5.44h-3.3zM226.7,325.1h3.6v5.44h-3.6zM203.2,330.6h3.2v5.44h-3.2zM233.0,330.6h5.5v5.44h-5.5zM213.0,336.0h3.4v5.44h-3.4zM230.3,341.4h2.7v5.44h-2.7zM92.5,352.3h1.6v5.44h-1.6zM226.7,352.3h3.6v5.44h-3.6zM90.9,357.8h1.6v5.44h-1.6zM271.8,357.8h5.5v5.44h-5.5zM99.1,363.2h1.7v5.44h-1.7zM277.3,363.2h5.5v5.44h-5.5zM100.8,368.6h1.7v5.44h-1.7zM89.4,374.1h1.6v5.44h-1.6zM230.3,374.1h2.7v5.44h-2.7zM216.3,384.9h3.4v5.44h-3.4zM117.3,390.4h2.0v5.44h-2.0zM277.3,395.8h5.5v5.44h-5.5zM255.2,406.7h5.5v5.44h-5.5zM127.5,412.1h2.1v5.44h-2.1zM115.4,417.6h1.9v5.44h-1.9zM196.9,417.6h3.1v5.44h-3.1zM193.8,428.4h3.1v5.44h-3.1zM216.3,433.9h3.4v5.44h-3.4zM230.3,433.9h2.7v5.44h-2.7zM282.9,433.9h5.5v5.44h-5.5zM266.2,444.8h5.5v5.44h-5.5zM83.3,450.2h1.5v5.44h-1.5zM193.8,471.9h3.1v5.44h-3.1zM200.0,471.9h3.2v5.44h-3.2zM196.9,477.4h3.1v5.44h-3.1zM200.0,488.2h3.2v5.44h-3.2zM226.7,493.7h3.6v5.44h-3.6zM193.8,504.6h3.1v5.44h-3.1z"/>
<path fill="#2c2c2c" d="M81.9,75.0h1.5v5.44h-1.5zM89.4,80.4h1.6v5.44h-1.6zM187.8,80.4h3.0v5.44h-3.0zM170.7,85.9h2.7v5.44h-2.7zM170.7,91.3h2.7v5.44h-2.7zM145.3,96.8h2.4v5.44h-2.4zM87.8,107.6h1.5v5.44h-1.5zM168.0,107.6h2.7v5.44h-2.7zM244.1,107.6h5.5v5.44h-5.5zM249.6,107.6h5.5v5.44h-5.5zM99.1,118.5h1.7v5.44h-1.7zM179.1,123.9h2.9v5.44h-2.9zM138.4,145.7h2.3v5.44h-2.3zM133.9,151.1h2.2v5.44h-2.2zM173.5,183.8h2.8v5.44h-2.8zM244.1,205.5h5.5v5.44h-5.5zM97.4,216.4h1.7v5.44h-1.7zM230.3,221.8h2.7v5.44h-2.7zM89.4,227.2h1.6v5.44h-1.6zM193.8,227.2h3.1v5.44h-3.1zM209.7,232.7h3.3v5.44h-3.3zM209.7,243.6h3.3v5.44h-3.3zM226.7,243.6h3.6v5.44h-3.6zM219.8,249.0h3.5v5.44h-3.5zM209.7,254.4h3.3v5.44h-3.3zM80.4,265.3h1.4v5.44h-1.4zM168.0,265.3h2.7v5.44h-2.7zM147.7,270.8h2.4v5.44h-2.4zM168.0,270.8h2.7v5.44h-2.7zM184.8,270.8h3.0v5.44h-3.0zM179.1,276.2h2.9v5.44h-2.9zM223.2,276.2h3.5v5.44h-3.5zM99.1,281.6h1.7v5.44h-1.7zM100.8,281.6h1.7v5.44h-1.7zM84.8,287.1h1.5v5.44h-1.5zM94.1,292.5h1.6v5.44h-1.6zM162.7,292.5h2.6v5.44h-2.6zM170.7,297.9h2.7v5.44h-2.7zM193.8,297.9h3.1v5.44h-3.1zM109.7,308.8h1.9v5.44h-1.9zM206.4,308.8h3.3v5.44h-3.3zM100.8,314.2h1.7v5.44h-1.7zM99.1,319.7h1.7v5.44h-1.7zM206.4,325.1h3.3v5.44h-3.3zM213.0,325.1h3.4v5.44h-3.4zM100.8,330.6h1.7v5.44h-1.7zM83.3,336.0h1.5v5.44h-1.5zM249.6,336.0h5.5v5.44h-5.5zM102.5,341.4h1.8v5.44h-1.8zM209.7,346.9h3.3v5.44h-3.3zM288.4,346.9h5.5v5.44h-5.5zM83.3,352.3h1.5v5.44h-1.5zM203.2,352.3h3.2v5.44h-3.2zM206.4,357.8h3.3v5.44h-3.3zM249.6,357.8h5.5v5.44h-5.5zM260.7,363.2h5.5v5.44h-5.5zM271.8,368.6h5.5v5.44h-5.5zM106.1,379.5h1.8v5.44h-1.8zM219.8,379.5h3.5v5.44h-3.5zM266.2,379.5h5.5v5.44h-5.5zM95.8,384.9h1.7v5.44h-1.7zM106.1,390.4h1.8v5.44h-1.8zM131.7,390.4h2.2v5.44h-2.2zM255.2,390.4h5.5v5.44h-5.5zM238.5,395.8h5.5v5.44h-5.5zM255.2,395.8h5.5v5.44h-5.5zM282.9,395.8h5.5v5.44h-5.5zM193.8,401.2h3.1v5.44h-3.1zM83.3,417.6h1.5v5.44h-1.5zM216.3,417.6h3.4v5.44h-3.4zM100.8,423.0h1.7v5.44h-1.7zM255.2,423.0h5.5v5.44h-5.5zM223.2,428.4h3.5v5.44h-3.5zM230.3,455.6h2.7v5.44h-2.7zM196.9,461.1h3.1v5.44h-3.1zM104.3,466.5h1.8v5.44h-1.8zM136.1,466.5h2.2v5.44h-2.2zM230.3,477.4h2.7v5.44h-2.7zM136.1,493.7h2.2v5.44h-2.2zM200.0,493.7h3.2v5.44h-3.2zM89.4,499.1h1.6v5.44h-1.6z"/>
<path fill="#2d2d2d" d="M100.8,85.9h1.7v5.44h-1.7zM123.3,91.3h2.1v5.44h-2.1zM157.6,91.3h2.6v5.44h-2.6zM102.5,118.5h1.8v5.44h-1.8zM277.3,151.1h5.5v5.44h-5.5zM155.0,162.0h2.5v5.44h-2.5zM187.8,172.9h3.0v5.44h-3.0zM216.3,183.8h3.4v5.44h-3.4zM90.9,205.5h1.6v5.44h-1.6zM216.3,205.5h3.4v5.44h-3.4zM260.7,205.5h5.5v5.44h-5.5zM226.7,210.9h3.6v5.44h-3.6zM233.0,210.9h5.5v5.44h-5.5zM106.1,216.4h1.8v5.44h-1.8zM129.6,216.4h2.1v5.44h-2.1zM206.4,221.8h3.3v5.44h-3.3zM196.9,227.2h3.1v5.44h-3.1zM255.2,227.2h5.5v5.44h-5.5zM203.2,232.7h3.2v5.44h-3.2zM99.1,238.1h1.7v5.44h-1.7zM266.2,238.1h5.5v5.44h-5.5zM138.4,243.6h2.3v5.44h-2.3zM168.0,243.6h2.7v5.44h-2.7zM107.9,249.0h1.8v5.44h-1.8zM143.0,254.4h2.3v5.44h-2.3zM196.9,254.4h3.1v5.44h-3.1zM111.6,259.9h1.9v5.44h-1.9zM176.2,259.9h2.8v5.44h-2.8zM157.6,265.3h2.6v5.44h-2.6zM260.7,265.3h5.5v5.44h-5.5zM288.4,270.8h5.5v5.44h-5.5zM129.6,276.2h2.1v5.44h-2.1zM244.1,276.2h5.5v5.44h-5.5zM255.2,276.2h5.5v5.44h-5.5zM138.4,281.6h2.3v5.44h-2.3zM213.0,281.6h3.4v5.44h-3.4zM216.3,281.6h3.4v5.44h-3.4zM288.4,281.6h5.5v5.44h-5.5zM193.8,287.1h3.1v5.44h-3.1zM233.0,287.1h5.5v5.44h-5.5zM121.3,292.5h2.0v5.44h-2.0zM173.5,297.9h2.8v5.44h-2.8zM147.7,303.4h2.4v5.44h-2.4zM213.0,303.4h3.4v5.44h-3.4zM203.2,314.2h3.2v5.44h-3.2zM209.7,325.1h3.3v5.44h-3.3zM84.8,330.6h1.5v5.44h-1.5zM95.8,336.0h1.7v5.44h-1.7zM196.9,341.4h3.1v5.44h-3.1zM81.9,352.3h1.5v5.44h-1.5zM230.3,352.3h2.7v5.44h-2.7zM213.0,363.2h3.4v5.44h-3.4zM196.9,374.1h3.1v5.44h-3.1zM213.0,390.4h3.4v5.44h-3.4zM206.4,395.8h3.3v5.44h-3.3zM233.0,395.8h5.5v5.44h-5.5zM209.7,428.4h3.3v5.44h-3.3zM216.3,455.6h3.4v5.44h-3.4zM90.9,471.9h1.6v5.44h-1.6zM107.9,477.4h1.8v5.44h-1.8zM162.7,477.4h2.6v5.44h-2.6zM255.2,477.4h5.5v5.44h-5.5zM84.8,482.8h1.5v5.44h-1.5zM107.9,482.8h1.8v5.44h-1.8zM206.4,488.2h3.3v5.44h-3.3zM196.9,493.7h3.1v5.44h-3.1z"/>
<path fill="#2e2e2e" d="M83.3,107.6h1.5v5.44h-1.5zM233.0,107.6h5.5v5.44h-5.5zM121.3,129.4h2.0v5.44h-2.0zM184.8,129.4h3.0v5.44h-3.0zM176.2,151.1h2.8v5.44h-2.8zM136.1,156.6h2.2v5.44h-2.2zM187.8,156.6h3.0v5.44h-3.0zM165.3,178.3h2.7v5.44h-2.7zM115.4,183.8h1.9v5.44h-1.9zM160.1,194.6h2.6v5.44h-2.6zM95.8,200.1h1.7v5.44h-1.7zM150.1,200.1h2.4v5.44h-2.4zM230.3,205.5h2.7v5.44h-2.7zM277.3,216.4h5.5v5.44h-5.5zM127.5,221.8h2.1v5.44h-2.1zM216.3,227.2h3.4v5.44h-3.4zM226.7,227.2h3.6v5.44h-3.6zM238.5,227.2h5.5v5.44h-5.5zM266.2,232.7h5.5v5.44h-5.5zM226.7,238.1h3.6v5.44h-3.6zM233.0,238.1h5.5v5.44h-5.5zM244.1,238.1h5.5v5.44h-5.5zM106.1,243.6h1.8v5.44h-1.8zM233.0,249.0h5.5v5.44h-5.5zM193.8,254.4h3.1v5.44h-3.1zM203.2,254.4h3.2v5.44h-3.2zM187.8,259.9h3.0v5.44h-3.0zM206.4,259.9h3.3v5.44h-3.3zM213.0,265.3h3.4v5.44h-3.4zM203.2,270.8h3.2v5.44h-3.2zM136.1,276.2h2.2v5.44h-2.2zM193.8,276.2h3.1v5.44h-3.1zM209.7,281.6h3.3v5.44h-3.3zM209.7,287.1h3.3v5.44h-3.3zM226.7,287.1h3.6v5.44h-3.6zM127.5,292.5h2.1v5.44h-2.1zM176.2,292.5h2.8v5.44h-2.8zM209.7,292.5h3.3v5.44h-3.3zM219.8,292.5h3.5v5.44h-3.5zM223.2,292.5h3.5v5.44h-3.5zM271.8,292.5h5.5v5.44h-5.5zM170.7,308.8h2.7v5.44h-2.7zM277.3,314.2h5.5v5.44h-5.5zM147.7,330.6h2.4v5.44h-2.4zM230.3,346.9h2.7v5.44h-2.7zM238.5,346.9h5.5v5.44h-5.5zM100.8,374.1h1.7v5.44h-1.7zM100.8,390.4h1.7v5.44h-1.7zM157.6,412.1h2.6v5.44h-2.6zM209.7,412.1h3.3v5.44h-3.3zM226.7,417.6h3.6v5.44h-3.6zM162.7,423.0h2.6v5.44h-2.6zM94.1,428.4h1.6v5.44h-1.6zM223.2,433.9h3.5v5.44h-3.5zM123.3,444.8h2.1v5.44h-2.1zM213.0,444.8h3.4v5.44h-3.4zM206.4,450.2h3.3v5.44h-3.3zM238.5,466.5h5.5v5.44h-5.5zM99.1,477.4h1.7v5.44h-1.7zM260.7,477.4h5.5v5.44h-5.5zM260.7,482.8h5.5v5.44h-5.5zM288.4,499.1h5.5v5.44h-5.5z"/>
<path fill="#2f2f2f" d="M104.3,80.4h1.8v5.44h-1.8zM187.8,85.9h3.0v5.44h-3.0zM81.9,96.8h1.5v5.44h-1.5zM184.8,102.2h3.0v5.44h-3.0zM92.5,113.1h1.6v5.44h-1.6zM123.3,145.7h2.1v5.44h-2.1zM143.0,167.4h2.3v5.44h-2.3zM152.6,172.9h2.5v5.44h-2.5zM181.9,172.9h2.9v5.44h-2.9zM99.1,194.6h1.7v5.44h-1.7zM81.9,200.1h1.5v5.44h-1.5zM83.3,200.1h1.5v5.44h-1.5zM277.3,200.1h5.5v5.44h-5.5zM193.8,216.4h3.1v5.44h-3.1zM223.2,216.4h3.5v5.44h-3.5zM193.8,221.8h3.1v5.44h-3.1zM200.0,221.8h3.2v5.44h-3.2zM86.3,227.2h1.5v5.44h-1.5zM233.0,227.2h5.5v5.44h-5.5zM244.1,227.2h5.5v5.44h-5.5zM226.7,232.7h3.6v5.44h-3.6zM187.8,238.1h3.0v5.44h-3.0zM223.2,249.0h3.5v5.44h-3.5zM223.2,254.4h3.5v5.44h-3.5zM244.1,254.4h5.5v5.44h-5.5zM160.1,270.8h2.6v5.44h-2.6zM190.8,270.8h3.0v5.44h-3.0zM216.3,270.8h3.4v5.44h-3.4zM87.8,276.2h1.5v5.44h-1.5zM226.7,276.2h3.6v5.44h-3.6zM266.2,276.2h5.5v5.44h-5.5zM233.0,292.5h5.5v5.44h-5.5zM282.9,292.5h5.5v5.44h-5.5zM89.4,308.8h1.6v5.44h-1.6zM80.4,314.2h1.4v5.44h-1.4zM200.0,314.2h3.2v5.44h-3.2zM200.0,319.7h3.2v5.44h-3.2zM87.8,330.6h1.5v5.44h-1.5zM143.0,330.6h2.3v5.44h-2.3zM196.9,330.6h3.1v5.44h-3.1zM94.1,346.9h1.6v5.44h-1.6zM226.7,346.9h3.6v5.44h-3.6zM223.2,352.3h3.5v5.44h-3.5zM216.3,363.2h3.4v5.44h-3.4zM255.2,368.6h5.5v5.44h-5.5zM152.6,379.5h2.5v5.44h-2.5zM200.0,384.9h3.2v5.44h-3.2zM95.8,395.8h1.7v5.44h-1.7zM89.4,406.7h1.6v5.44h-1.6zM106.1,406.7h1.8v5.44h-1.8zM140.7,412.1h2.3v5.44h-2.3zM97.4,417.6h1.7v5.44h-1.7zM81.9,433.9h1.5v5.44h-1.5zM203.2,439.3h3.2v5.44h-3.2zM266.2,439.3h5.5v5.44h-5.5zM106.1,444.8h1.8v5.44h-1.8zM79.0,450.2h1.4v5.44h-1.4zM111.6,461.1h1.9v5.44h-1.9zM115.4,466.5h1.9v5.44h-1.9zM226.7,466.5h3.6v5.44h-3.6zM107.9,488.2h1.8v5.44h-1.8zM111.6,488.2h1.9v5.44h-1.9zM249.6,488.2h5.5v5.44h-5.5zM84.8,493.7h1.5v5.44h-1.5z"/>
<path fill="#303030" d="M133.9,75.0h2.2v5.44h-2.2zM84.8,102.2h1.5v5.44h-1.5zM238.5,102.2h5.5v5.44h-5.5zM288.4,102.2h5.5v5.44h-5.5zM213.0,123.9h3.4v5.44h-3.4zM147.7,134.8h2.4v5.44h-2.4zM249.6,145.7h5.5v5.44h-5.5zM95.8,151.1h1.7v5.44h-1.7zM165.3,151.1h2.7v5.44h-2.7zM190.8,167.4h3.0v5.44h-3.0zM233.0,172.9h5.5v5.44h-5.5zM249.6,172.9h5.5v5.44h-5.5zM187.8,183.8h3.0v5.44h-3.0zM125.4,189.2h2.1v5.44h-2.1zM216.3,194.6h3.4v5.44h-3.4zM226.7,200.1h3.6v5.44h-3.6zM271.8,200.1h5.5v5.44h-5.5zM226.7,205.5h3.6v5.44h-3.6zM233.0,205.5h5.5v5.44h-5.5zM249.6,205.5h5.5v5.44h-5.5zM80.4,210.9h1.4v5.44h-1.4zM238.5,216.4h5.5v5.44h-5.5zM223.2,232.7h3.5v5.44h-3.5zM181.9,238.1h2.9v5.44h-2.9zM184.8,238.1h3.0v5.44h-3.0zM219.8,238.1h3.5v5.44h-3.5zM136.1,243.6h2.2v5.44h-2.2zM206.4,243.6h3.3v5.44h-3.3zM233.0,254.4h5.5v5.44h-5.5zM136.1,259.9h2.2v5.44h-2.2zM213.0,259.9h3.4v5.44h-3.4zM223.2,259.9h3.5v5.44h-3.5zM84.8,265.3h1.5v5.44h-1.5zM131.7,265.3h2.2v5.44h-2.2zM190.8,265.3h3.0v5.44h-3.0zM81.9,276.2h1.5v5.44h-1.5zM230.3,281.6h2.7v5.44h-2.7zM79.0,287.1h1.4v5.44h-1.4zM140.7,287.1h2.3v5.44h-2.3zM200.0,292.5h3.2v5.44h-3.2zM255.2,297.9h5.5v5.44h-5.5zM203.2,308.8h3.2v5.44h-3.2zM266.2,308.8h5.5v5.44h-5.5zM160.1,314.2h2.6v5.44h-2.6zM81.9,319.7h1.5v5.44h-1.5zM196.9,319.7h3.1v5.44h-3.1zM277.3,319.7h5.5v5.44h-5.5zM94.1,341.4h1.6v5.44h-1.6zM79.0,346.9h1.4v5.44h-1.4zM196.9,363.2h3.1v5.44h-3.1zM95.8,368.6h1.7v5.44h-1.7zM230.3,368.6h2.7v5.44h-2.7zM102.5,374.1h1.8v5.44h-1.8zM213.0,374.1h3.4v5.44h-3.4zM219.8,374.1h3.5v5.44h-3.5zM140.7,384.9h2.3v5.44h-2.3zM219.8,390.4h3.5v5.44h-3.5zM223.2,390.4h3.5v5.44h-3.5zM79.0,401.2h1.4v5.44h-1.4zM89.4,401.2h1.6v5.44h-1.6zM95.8,401.2h1.7v5.44h-1.7zM209.7,401.2h3.3v5.44h-3.3zM83.3,406.7h1.5v5.44h-1.5zM107.9,417.6h1.8v5.44h-1.8zM213.0,423.0h3.4v5.44h-3.4zM226.7,439.3h3.6v5.44h-3.6zM230.3,439.3h2.7v5.44h-2.7zM121.3,450.2h2.0v5.44h-2.0zM140.7,450.2h2.3v5.44h-2.3zM196.9,466.5h3.1v5.44h-3.1zM260.7,466.5h5.5v5.44h-5.5zM219.8,471.9h3.5v5.44h-3.5zM87.8,482.8h1.5v5.44h-1.5zM97.4,482.8h1.7v5.44h-1.7zM196.9,488.2h3.1v5.44h-3.1zM196.9,499.1h3.1v5.44h-3.1z"/>
<path fill="#313131" d="M99.1,85.9h1.7v5.44h-1.7zM184.8,91.3h3.0v5.44h-3.0zM86.3,107.6h1.5v5.44h-1.5zM190.8,113.1h3.0v5.44h-3.0zM102.5,140.2h1.8v5.44h-1.8zM145.3,151.1h2.4v5.44h-2.4zM79.0,156.6h1.4v5.44h-1.4zM89.4,172.9h1.6v5.44h-1.6zM79.0,183.8h1.4v5.44h-1.4zM123.3,183.8h2.1v5.44h-2.1zM95.8,189.2h1.7v5.44h-1.7zM162.7,189.2h2.6v5.44h-2.6zM86.3,194.6h1.5v5.44h-1.5zM152.6,194.6h2.5v5.44h-2.5zM99.1,200.1h1.7v5.44h-1.7zM155.0,200.1h2.5v5.44h-2.5zM190.8,200.1h3.0v5.44h-3.0zM200.0,200.1h3.2v5.44h-3.2zM115.4,210.9h1.9v5.44h-1.9zM203.2,221.8h3.2v5.44h-3.2zM131.7,227.2h2.2v5.44h-2.2zM233.0,232.7h5.5v5.44h-5.5zM255.2,232.7h5.5v5.44h-5.5zM81.9,238.1h1.5v5.44h-1.5zM86.3,238.1h1.5v5.44h-1.5zM179.1,243.6h2.9v5.44h-2.9zM94.1,249.0h1.6v5.44h-1.6zM173.5,249.0h2.8v5.44h-2.8zM86.3,254.4h1.5v5.44h-1.5zM87.8,270.8h1.5v5.44h-1.5zM115.4,270.8h1.9v5.44h-1.9zM230.3,270.8h2.7v5.44h-2.7zM97.4,281.6h1.7v5.44h-1.7zM80.4,287.1h1.4v5.44h-1.4zM168.0,287.1h2.7v5.44h-2.7zM117.3,297.9h2.0v5.44h-2.0zM193.8,319.7h3.1v5.44h-3.1zM226.7,319.7h3.6v5.44h-3.6zM123.3,330.6h2.1v5.44h-2.1zM193.8,330.6h3.1v5.44h-3.1zM282.9,352.3h5.5v5.44h-5.5zM288.4,352.3h5.5v5.44h-5.5zM104.3,368.6h1.8v5.44h-1.8zM193.8,379.5h3.1v5.44h-3.1zM238.5,379.5h5.5v5.44h-5.5zM230.3,384.9h2.7v5.44h-2.7zM99.1,390.4h1.7v5.44h-1.7zM266.2,390.4h5.5v5.44h-5.5zM238.5,401.2h5.5v5.44h-5.5zM203.2,412.1h3.2v5.44h-3.2zM193.8,417.6h3.1v5.44h-3.1zM219.8,423.0h3.5v5.44h-3.5zM121.3,428.4h2.0v5.44h-2.0zM97.4,433.9h1.7v5.44h-1.7zM83.3,444.8h1.5v5.44h-1.5zM230.3,444.8h2.7v5.44h-2.7zM100.8,450.2h1.7v5.44h-1.7zM209.7,450.2h3.3v5.44h-3.3zM90.9,455.6h1.6v5.44h-1.6zM138.4,455.6h2.3v5.44h-2.3zM216.3,488.2h3.4v5.44h-3.4z"/>
<path fill="#323232" d="M136.1,75.0h2.2v5.44h-2.2zM94.1,80.4h1.6v5.44h-1.6zM123.3,80.4h2.1v5.44h-2.1zM145.3,80.4h2.4v5.44h-2.4zM109.7,91.3h1.9v5.44h-1.9zM87.8,102.2h1.5v5.44h-1.5zM94.1,102.2h1.6v5.44h-1.6zM115.4,118.5h1.9v5.44h-1.9zM155.0,118.5h2.5v5.44h-2.5zM152.6,123.9h2.5v5.44h-2.5zM80.4,129.4h1.4v5.44h-1.4zM86.3,140.2h1.5v5.44h-1.5zM104.3,145.7h1.8v5.44h-1.8zM104.3,167.4h1.8v5.44h-1.8zM89.4,178.3h1.6v5.44h-1.6zM193.8,200.1h3.1v5.44h-3.1zM102.5,216.4h1.8v5.44h-1.8zM196.9,221.8h3.1v5.44h-3.1zM86.3,232.7h1.5v5.44h-1.5zM226.7,254.4h3.6v5.44h-3.6zM230.3,259.9h2.7v5.44h-2.7zM219.8,265.3h3.5v5.44h-3.5zM223.2,265.3h3.5v5.44h-3.5zM233.0,265.3h5.5v5.44h-5.5zM277.3,270.8h5.5v5.44h-5.5zM155.0,276.2h2.5v5.44h-2.5zM203.2,287.1h3.2v5.44h-3.2zM123.3,292.5h2.1v5.44h-2.1zM216.3,297.9h3.4v5.44h-3.4zM86.3,303.4h1.5v5.44h-1.5zM226.7,308.8h3.6v5.44h-3.6zM86.3,325.1h1.5v5.44h-1.5zM196.9,325.1h3.1v5.44h-3.1zM203.2,325.1h3.2v5.44h-3.2zM226.7,341.4h3.6v5.44h-3.6zM260.7,341.4h5.5v5.44h-5.5zM266.2,341.4h5.5v5.44h-5.5zM115.4,368.6h1.9v5.44h-1.9zM206.4,401.2h3.3v5.44h-3.3zM115.4,406.7h1.9v5.44h-1.9zM196.9,406.7h3.1v5.44h-3.1zM150.1,412.1h2.4v5.44h-2.4zM90.9,417.6h1.6v5.44h-1.6zM83.3,428.4h1.5v5.44h-1.5zM249.6,428.4h5.5v5.44h-5.5zM213.0,450.2h3.4v5.44h-3.4zM219.8,450.2h3.5v5.44h-3.5zM97.4,455.6h1.7v5.44h-1.7zM94.1,493.7h1.6v5.44h-1.6zM213.0,493.7h3.4v5.44h-3.4zM102.5,499.1h1.8v5.44h-1.8zM213.0,504.6h3.4v5.44h-3.4z"/>
<path fill="#333333" d="M87.8,85.9h1.5v5.44h-1.5zM121.3,85.9h2.0v5.44h-2.0zM97.4,96.8h1.7v5.44h-1.7zM81.9,102.2h1.5v5.44h-1.5zM84.8,123.9h1.5v5.44h-1.5zM81.9,151.1h1.5v5.44h-1.5zM90.9,156.6h1.6v5.44h-1.6zM109.7,156.6h1.9v5.44h-1.9zM81.9,162.0h1.5v5.44h-1.5zM94.1,167.4h1.6v5.44h-1.6zM94.1,189.2h1.6v5.44h-1.6zM109.7,194.6h1.9v5.44h-1.9zM184.8,194.6h3.0v5.44h-3.0zM115.4,200.1h1.9v5.44h-1.9zM203.2,205.5h3.2v5.44h-3.2zM230.3,216.4h2.7v5.44h-2.7zM80.4,221.8h1.4v5.44h-1.4zM200.0,227.2h3.2v5.44h-3.2zM155.0,238.1h2.5v5.44h-2.5zM255.2,238.1h5.5v5.44h-5.5zM176.2,243.6h2.8v5.44h-2.8zM213.0,243.6h3.4v5.44h-3.4zM219.8,243.6h3.5v5.44h-3.5zM233.0,243.6h5.5v5.44h-5.5zM203.2,249.0h3.2v5.44h-3.2zM176.2,254.4h2.8v5.44h-2.8zM181.9,254.4h2.9v5.44h-2.9zM219.8,254.4h3.5v5.44h-3.5zM196.9,281.6h3.1v5.44h-3.1zM213.0,287.1h3.4v5.44h-3.4zM168.0,292.5h2.7v5.44h-2.7zM84.8,297.9h1.5v5.44h-1.5zM206.4,314.2h3.3v5.44h-3.3zM104.3,319.7h1.8v5.44h-1.8zM95.8,330.6h1.7v5.44h-1.7zM196.9,352.3h3.1v5.44h-3.1zM99.1,379.5h1.7v5.44h-1.7zM136.1,379.5h2.2v5.44h-2.2zM102.5,384.9h1.8v5.44h-1.8zM196.9,395.8h3.1v5.44h-3.1zM230.3,395.8h2.7v5.44h-2.7zM95.8,412.1h1.7v5.44h-1.7zM92.5,417.6h1.6v5.44h-1.6zM196.9,433.9h3.1v5.44h-3.1zM109.7,439.3h1.9v5.44h-1.9zM196.9,439.3h3.1v5.44h-3.1zM121.3,444.8h2.0v5.44h-2.0zM115.4,455.6h1.9v5.44h-1.9zM193.8,461.1h3.1v5.44h-3.1zM109.7,477.4h1.9v5.44h-1.9zM102.5,482.8h1.8v5.44h-1.8zM133.9,488.2h2.2v5.44h-2.2zM115.4,499.1h1.9v5.44h-1.9z"/>
<path fill="#343434" d="M102.5,107.6h1.8v5.44h-1.8zM143.0,113.1h2.3v5.44h-2.3zM80.4,118.5h1.4v5.44h-1.4zM79.0,129.4h1.4v5.44h-1.4zM84.8,162.0h1.5v5.44h-1.5zM165.3,167.4h2.7v5.44h-2.7zM131.7,200.1h2.2v5.44h-2.2zM277.3,210.9h5.5v5.44h-5.5zM181.9,216.4h2.9v5.44h-2.9zM203.2,216.4h3.2v5.44h-3.2zM136.1,232.7h2.2v5.44h-2.2zM230.3,238.1h2.7v5.44h-2.7zM223.2,243.6h3.5v5.44h-3.5zM193.8,249.0h3.1v5.44h-3.1zM209.7,249.0h3.3v5.44h-3.3zM209.7,276.2h3.3v5.44h-3.3zM196.9,287.1h3.1v5.44h-3.1zM90.9,297.9h1.6v5.44h-1.6zM107.9,308.8h1.8v5.44h-1.8zM95.8,319.7h1.7v5.44h-1.7zM115.4,336.0h1.9v5.44h-1.9zM86.3,363.2h1.5v5.44h-1.5zM162.7,368.6h2.6v5.44h-2.6zM200.0,368.6h3.2v5.44h-3.2zM196.9,379.5h3.1v5.44h-3.1zM147.7,401.2h2.4v5.44h-2.4zM200.0,406.7h3.2v5.44h-3.2zM157.6,423.0h2.6v5.44h-2.6zM282.9,428.4h5.5v5.44h-5.5zM81.9,444.8h1.5v5.44h-1.5zM209.7,444.8h3.3v5.44h-3.3zM86.3,461.1h1.5v5.44h-1.5zM200.0,461.1h3.2v5.44h-3.2zM213.0,471.9h3.4v5.44h-3.4zM80.4,488.2h1.4v5.44h-1.4zM100.8,488.2h1.7v5.44h-1.7zM92.5,493.7h1.6v5.44h-1.6zM200.0,499.1h3.2v5.44h-3.2z"/>
<path fill="#353535" d="M109.7,75.0h1.9v5.44h-1.9zM176.2,85.9h2.8v5.44h-2.8zM150.1,113.1h2.4v5.44h-2.4zM81.9,129.4h1.5v5.44h-1.5zM81.9,140.2h1.5v5.44h-1.5zM129.6,145.7h2.1v5.44h-2.1zM155.0,156.6h2.5v5.44h-2.5zM106.1,167.4h1.8v5.44h-1.8zM160.1,183.8h2.6v5.44h-2.6zM155.0,189.2h2.5v5.44h-2.5zM203.2,200.1h3.2v5.44h-3.2zM209.7,216.4h3.3v5.44h-3.3zM213.0,216.4h3.4v5.44h-3.4zM81.9,227.2h1.5v5.44h-1.5zM223.2,227.2h3.5v5.44h-3.5zM117.3,259.9h2.0v5.44h-2.0zM203.2,259.9h3.2v5.44h-3.2zM244.1,259.9h5.5v5.44h-5.5zM203.2,265.3h3.2v5.44h-3.2zM209.7,270.8h3.3v5.44h-3.3zM238.5,270.8h5.5v5.44h-5.5zM206.4,276.2h3.3v5.44h-3.3zM282.9,276.2h5.5v5.44h-5.5zM249.6,292.5h5.5v5.44h-5.5zM196.9,297.9h3.1v5.44h-3.1zM206.4,303.4h3.3v5.44h-3.3zM97.4,330.6h1.7v5.44h-1.7zM216.3,336.0h3.4v5.44h-3.4zM223.2,336.0h3.5v5.44h-3.5zM271.8,341.4h5.5v5.44h-5.5zM90.9,363.2h1.6v5.44h-1.6zM226.7,374.1h3.6v5.44h-3.6zM162.7,379.5h2.6v5.44h-2.6zM230.3,379.5h2.7v5.44h-2.7zM86.3,384.9h1.5v5.44h-1.5zM150.1,390.4h2.4v5.44h-2.4zM173.5,390.4h2.8v5.44h-2.8zM226.7,406.7h3.6v5.44h-3.6zM216.3,412.1h3.4v5.44h-3.4zM79.0,417.6h1.4v5.44h-1.4zM230.3,423.0h2.7v5.44h-2.7zM216.3,428.4h3.4v5.44h-3.4zM170.7,455.6h2.7v5.44h-2.7zM84.8,466.5h1.5v5.44h-1.5zM233.0,477.4h5.5v5.44h-5.5zM117.3,482.8h2.0v5.44h-2.0zM79.0,499.1h1.4v5.44h-1.4zM87.8,504.6h1.5v5.44h-1.5zM203.2,504.6h3.2v5.44h-3.2z"/>
<path fill="#363636" d="M162.7,80.4h2.6v5.44h-2.6zM179.1,85.9h2.9v5.44h-2.9zM80.4,102.2h1.4v5.44h-1.4zM86.3,102.2h1.5v5.44h-1.5zM102.5,134.8h1.8v5.44h-1.8zM133.9,134.8h2.2v5.44h-2.2zM129.6,172.9h2.1v5.44h-2.1zM102.5,178.3h1.8v5.44h-1.8zM152.6,178.3h2.5v5.44h-2.5zM173.5,178.3h2.8v5.44h-2.8zM249.6,200.1h5.5v5.44h-5.5zM81.9,210.9h1.5v5.44h-1.5zM102.5,221.8h1.8v5.44h-1.8zM219.8,221.8h3.5v5.44h-3.5zM213.0,232.7h3.4v5.44h-3.4zM95.8,243.6h1.7v5.44h-1.7zM249.6,259.9h5.5v5.44h-5.5zM107.9,270.8h1.8v5.44h-1.8zM115.4,281.6h1.9v5.44h-1.9zM143.0,287.1h2.3v5.44h-2.3zM230.3,287.1h2.7v5.44h-2.7zM104.3,292.5h1.8v5.44h-1.8zM94.1,308.8h1.6v5.44h-1.6zM133.9,314.2h2.2v5.44h-2.2zM213.0,314.2h3.4v5.44h-3.4zM219.8,314.2h3.5v5.44h-3.5zM106.1,319.7h1.8v5.44h-1.8zM95.8,325.1h1.7v5.44h-1.7zM89.4,336.0h1.6v5.44h-1.6zM147.7,346.9h2.4v5.44h-2.4zM117.3,352.3h2.0v5.44h-2.0zM111.6,357.8h1.9v5.44h-1.9zM152.6,363.2h2.5v5.44h-2.5zM277.3,368.6h5.5v5.44h-5.5zM203.2,379.5h3.2v5.44h-3.2zM84.8,384.9h1.5v5.44h-1.5zM87.8,384.9h1.5v5.44h-1.5zM89.4,395.8h1.6v5.44h-1.6zM80.4,401.2h1.4v5.44h-1.4zM109.7,401.2h1.9v5.44h-1.9zM206.4,406.7h3.3v5.44h-3.3zM277.3,406.7h5.5v5.44h-5.5zM81.9,439.3h1.5v5.44h-1.5zM100.8,444.8h1.7v5.44h-1.7zM255.2,466.5h5.5v5.44h-5.5zM97.4,471.9h1.7v5.44h-1.7zM238.5,471.9h5.5v5.44h-5.5zM106.1,482.8h1.8v5.44h-1.8zM209.7,482.8h3.3v5.44h-3.3zM288.4,482.8h5.5v5.44h-5.5zM79.0,488.2h1.4v5.44h-1.4zM106.1,488.2h1.8v5.44h-1.8zM288.4,488.2h5.5v5.44h-5.5z"/>
<path fill="#373737" d="M157.6,75.0h2.6v5.44h-2.6zM190.8,75.0h3.0v5.44h-3.0zM92.5,91.3h1.6v5.44h-1.6zM80.4,134.8h1.4v5.44h-1.4zM104.3,134.8h1.8v5.44h-1.8zM115.4,134.8h1.9v5.44h-1.9zM165.3,156.6h2.7v5.44h-2.7zM138.4,162.0h2.3v5.44h-2.3zM97.4,167.4h1.7v5.44h-1.7zM80.4,172.9h1.4v5.44h-1.4zM147.7,183.8h2.4v5.44h-2.4zM79.0,189.2h1.4v5.44h-1.4zM104.3,200.1h1.8v5.44h-1.8zM143.0,216.4h2.3v5.44h-2.3zM187.8,221.8h3.0v5.44h-3.0zM216.3,221.8h3.4v5.44h-3.4zM133.9,227.2h2.2v5.44h-2.2zM165.3,232.7h2.7v5.44h-2.7zM104.3,243.6h1.8v5.44h-1.8zM97.4,254.4h1.7v5.44h-1.7zM213.0,254.4h3.4v5.44h-3.4zM115.4,276.2h1.9v5.44h-1.9zM184.8,276.2h3.0v5.44h-3.0zM83.3,297.9h1.5v5.44h-1.5zM92.5,303.4h1.6v5.44h-1.6zM238.5,303.4h5.5v5.44h-5.5zM277.3,308.8h5.5v5.44h-5.5zM255.2,319.7h5.5v5.44h-5.5zM226.7,330.6h3.6v5.44h-3.6zM95.8,346.9h1.7v5.44h-1.7zM97.4,357.8h1.7v5.44h-1.7zM140.7,368.6h2.3v5.44h-2.3zM193.8,384.9h3.1v5.44h-3.1zM226.7,395.8h3.6v5.44h-3.6zM249.6,406.7h5.5v5.44h-5.5zM223.2,412.1h3.5v5.44h-3.5zM226.7,412.1h3.6v5.44h-3.6zM84.8,417.6h1.5v5.44h-1.5zM213.0,417.6h3.4v5.44h-3.4zM97.4,444.8h1.7v5.44h-1.7zM238.5,455.6h5.5v5.44h-5.5zM89.4,482.8h1.6v5.44h-1.6zM233.0,482.8h5.5v5.44h-5.5zM102.5,488.2h1.8v5.44h-1.8zM219.8,499.1h3.5v5.44h-3.5z"/>
<path fill="#383838" d="M97.4,91.3h1.7v5.44h-1.7zM133.9,140.2h2.2v5.44h-2.2zM90.9,167.4h1.6v5.44h-1.6zM109.7,183.8h1.9v5.44h-1.9zM115.4,243.6h1.9v5.44h-1.9zM196.9,243.6h3.1v5.44h-3.1zM136.1,249.0h2.2v5.44h-2.2zM140.7,249.0h2.3v5.44h-2.3zM206.4,249.0h3.3v5.44h-3.3zM81.9,254.4h1.5v5.44h-1.5zM282.9,265.3h5.5v5.44h-5.5zM86.3,270.8h1.5v5.44h-1.5zM206.4,270.8h3.3v5.44h-3.3zM216.3,276.2h3.4v5.44h-3.4zM223.2,287.1h3.5v5.44h-3.5zM83.3,308.8h1.5v5.44h-1.5zM147.7,314.2h2.4v5.44h-2.4zM196.9,314.2h3.1v5.44h-3.1zM109.7,325.1h1.9v5.44h-1.9zM193.8,325.1h3.1v5.44h-3.1zM206.4,330.6h3.3v5.44h-3.3zM106.1,341.4h1.8v5.44h-1.8zM209.7,374.1h3.3v5.44h-3.3zM79.0,390.4h1.4v5.44h-1.4zM282.9,390.4h5.5v5.44h-5.5zM200.0,395.8h3.2v5.44h-3.2zM203.2,395.8h3.2v5.44h-3.2zM107.9,401.2h1.8v5.44h-1.8zM230.3,401.2h2.7v5.44h-2.7zM219.8,417.6h3.5v5.44h-3.5zM80.4,423.0h1.4v5.44h-1.4zM102.5,433.9h1.8v5.44h-1.8zM106.1,433.9h1.8v5.44h-1.8zM209.7,455.6h3.3v5.44h-3.3zM168.0,471.9h2.7v5.44h-2.7zM249.6,482.8h5.5v5.44h-5.5zM86.3,488.2h1.5v5.44h-1.5z"/>
<path fill="#393939" d="M81.9,80.4h1.5v5.44h-1.5zM79.0,118.5h1.4v5.44h-1.4zM131.7,134.8h2.2v5.44h-2.2zM140.7,151.1h2.3v5.44h-2.3zM113.5,194.6h1.9v5.44h-1.9zM219.8,205.5h3.5v5.44h-3.5zM179.1,232.7h2.9v5.44h-2.9zM107.9,243.6h1.8v5.44h-1.8zM79.0,259.9h1.4v5.44h-1.4zM213.0,270.8h3.4v5.44h-3.4zM233.0,270.8h5.5v5.44h-5.5zM165.3,292.5h2.7v5.44h-2.7zM106.1,303.4h1.8v5.44h-1.8zM95.8,314.2h1.7v5.44h-1.7zM216.3,319.7h3.4v5.44h-3.4zM84.8,341.4h1.5v5.44h-1.5zM79.0,357.8h1.4v5.44h-1.4zM87.8,363.2h1.5v5.44h-1.5zM89.4,363.2h1.6v5.44h-1.6zM107.9,374.1h1.8v5.44h-1.8zM260.7,374.1h5.5v5.44h-5.5zM95.8,406.7h1.7v5.44h-1.7zM233.0,406.7h5.5v5.44h-5.5zM206.4,417.6h3.3v5.44h-3.3zM288.4,417.6h5.5v5.44h-5.5zM206.4,439.3h3.3v5.44h-3.3zM84.8,444.8h1.5v5.44h-1.5zM94.1,461.1h1.6v5.44h-1.6zM109.7,466.5h1.9v5.44h-1.9zM271.8,471.9h5.5v5.44h-5.5zM266.2,477.4h5.5v5.44h-5.5z"/>
<path fill="#3a3a3a" d="M80.4,113.1h1.4v5.44h-1.4zM157.6,140.2h2.6v5.44h-2.6zM173.5,145.7h2.8v5.44h-2.8zM200.0,210.9h3.2v5.44h-3.2zM209.7,210.9h3.3v5.44h-3.3zM196.9,216.4h3.1v5.44h-3.1zM200.0,232.7h3.2v5.44h-3.2zM213.0,238.1h3.4v5.44h-3.4zM282.9,238.1h5.5v5.44h-5.5zM200.0,243.6h3.2v5.44h-3.2zM187.8,249.0h3.0v5.44h-3.0zM209.7,259.9h3.3v5.44h-3.3zM216.3,259.9h3.4v5.44h-3.4zM89.4,270.8h1.6v5.44h-1.6zM106.1,287.1h1.8v5.44h-1.8zM80.4,292.5h1.4v5.44h-1.4zM230.3,292.5h2.7v5.44h-2.7zM109.7,297.9h1.9v5.44h-1.9zM83.3,303.4h1.5v5.44h-1.5zM87.8,303.4h1.5v5.44h-1.5zM288.4,314.2h5.5v5.44h-5.5zM244.1,330.6h5.5v5.44h-5.5zM79.0,336.0h1.4v5.44h-1.4zM244.1,336.0h5.5v5.44h-5.5zM115.4,346.9h1.9v5.44h-1.9zM193.8,346.9h3.1v5.44h-3.1zM196.9,346.9h3.1v5.44h-3.1zM95.8,352.3h1.7v5.44h-1.7zM249.6,352.3h5.5v5.44h-5.5zM288.4,368.6h5.5v5.44h-5.5zM111.6,379.5h1.9v5.44h-1.9zM271.8,401.2h5.5v5.44h-5.5zM193.8,412.1h3.1v5.44h-3.1zM255.2,428.4h5.5v5.44h-5.5zM90.9,433.9h1.6v5.44h-1.6zM213.0,433.9h3.4v5.44h-3.4zM84.8,439.3h1.5v5.44h-1.5zM238.5,444.8h5.5v5.44h-5.5zM266.2,455.6h5.5v5.44h-5.5zM282.9,455.6h5.5v5.44h-5.5zM219.8,461.1h3.5v5.44h-3.5zM203.2,466.5h3.2v5.44h-3.2zM94.1,471.9h1.6v5.44h-1.6zM100.8,471.9h1.7v5.44h-1.7zM230.3,471.9h2.7v5.44h-2.7zM260.7,471.9h5.5v5.44h-5.5zM266.2,471.9h5.5v5.44h-5.5zM277.3,471.9h5.5v5.44h-5.5zM89.4,488.2h1.6v5.44h-1.6zM95.8,488.2h1.7v5.44h-1.7zM223.2,488.2h3.5v5.44h-3.5zM271.8,488.2h5.5v5.44h-5.5zM277.3,488.2h5.5v5.44h-5.5zM282.9,488.2h5.5v5.44h-5.5zM115.4,493.7h1.9v5.44h-1.9zM260.7,493.7h5.5v5.44h-5.5zM271.8,493.7h5.5v5.44h-5.5zM271.8,499.1h5.5v5.44h-5.5zM89.4,504.6h1.6v5.44h-1.6z"/>
<path fill="#3b3b3b" d="M86.3,75.0h1.5v5.44h-1.5zM83.3,80.4h1.5v5.44h-1.5zM80.4,85.9h1.4v5.44h-1.4zM81.9,107.6h1.5v5.44h-1.5zM170.7,113.1h2.7v5.44h-2.7zM187.8,151.1h3.0v5.44h-3.0zM168.0,156.6h2.7v5.44h-2.7zM160.1,162.0h2.6v5.44h-2.6zM136.1,172.9h2.2v5.44h-2.2zM87.8,178.3h1.5v5.44h-1.5zM152.6,189.2h2.5v5.44h-2.5zM173.5,205.5h2.8v5.44h-2.8zM196.9,210.9h3.1v5.44h-3.1zM206.4,216.4h3.3v5.44h-3.3zM233.0,221.8h5.5v5.44h-5.5zM127.5,232.7h2.1v5.44h-2.1zM219.8,259.9h3.5v5.44h-3.5zM230.3,276.2h2.7v5.44h-2.7zM97.4,287.1h1.7v5.44h-1.7zM160.1,292.5h2.6v5.44h-2.6zM86.3,297.9h1.5v5.44h-1.5zM102.5,308.8h1.8v5.44h-1.8zM90.9,325.1h1.6v5.44h-1.6zM79.0,330.6h1.4v5.44h-1.4zM213.0,341.4h3.4v5.44h-3.4zM206.4,352.3h3.3v5.44h-3.3zM84.8,363.2h1.5v5.44h-1.5zM99.1,368.6h1.7v5.44h-1.7zM97.4,439.3h1.7v5.44h-1.7zM102.5,455.6h1.8v5.44h-1.8zM107.9,455.6h1.8v5.44h-1.8zM226.7,455.6h3.6v5.44h-3.6zM150.1,461.1h2.4v5.44h-2.4zM86.3,471.9h1.5v5.44h-1.5zM106.1,477.4h1.8v5.44h-1.8zM203.2,482.8h3.2v5.44h-3.2zM219.8,488.2h3.5v5.44h-3.5zM97.4,499.1h1.7v5.44h-1.7zM95.8,504.6h1.7v5.44h-1.7z"/>
<path fill="#3c3c3c" d="M173.5,102.2h2.8v5.44h-2.8zM133.9,118.5h2.2v5.44h-2.2zM84.8,129.4h1.5v5.44h-1.5zM100.8,167.4h1.7v5.44h-1.7zM115.4,172.9h1.9v5.44h-1.9zM160.1,200.1h2.6v5.44h-2.6zM233.0,200.1h5.5v5.44h-5.5zM152.6,205.5h2.5v5.44h-2.5zM226.7,216.4h3.6v5.44h-3.6zM216.3,238.1h3.4v5.44h-3.4zM184.8,243.6h3.0v5.44h-3.0zM94.1,254.4h1.6v5.44h-1.6zM104.3,259.9h1.8v5.44h-1.8zM200.0,259.9h3.2v5.44h-3.2zM226.7,259.9h3.6v5.44h-3.6zM196.9,265.3h3.1v5.44h-3.1zM84.8,270.8h1.5v5.44h-1.5zM152.6,270.8h2.5v5.44h-2.5zM223.2,270.8h3.5v5.44h-3.5zM226.7,281.6h3.6v5.44h-3.6zM80.4,297.9h1.4v5.44h-1.4zM206.4,297.9h3.3v5.44h-3.3zM87.8,314.2h1.5v5.44h-1.5zM109.7,314.2h1.9v5.44h-1.9zM230.3,314.2h2.7v5.44h-2.7zM223.2,319.7h3.5v5.44h-3.5zM200.0,330.6h3.2v5.44h-3.2zM80.4,352.3h1.4v5.44h-1.4zM206.4,379.5h3.3v5.44h-3.3zM123.3,384.9h2.1v5.44h-2.1zM109.7,390.4h1.9v5.44h-1.9zM209.7,390.4h3.3v5.44h-3.3zM90.9,395.8h1.6v5.44h-1.6zM81.9,412.1h1.5v5.44h-1.5zM99.1,428.4h1.7v5.44h-1.7zM203.2,450.2h3.2v5.44h-3.2zM106.1,466.5h1.8v5.44h-1.8zM95.8,471.9h1.7v5.44h-1.7zM80.4,477.4h1.4v5.44h-1.4zM223.2,499.1h3.5v5.44h-3.5zM196.9,504.6h3.1v5.44h-3.1z"/>
<path fill="#3d3d3d" d="M80.4,91.3h1.4v5.44h-1.4zM140.7,107.6h2.3v5.44h-2.3zM143.0,107.6h2.3v5.44h-2.3zM187.8,107.6h3.0v5.44h-3.0zM157.6,129.4h2.6v5.44h-2.6zM138.4,134.8h2.3v5.44h-2.3zM140.7,134.8h2.3v5.44h-2.3zM100.8,189.2h1.7v5.44h-1.7zM100.8,194.6h1.7v5.44h-1.7zM206.4,232.7h3.3v5.44h-3.3zM92.5,265.3h1.6v5.44h-1.6zM162.7,265.3h2.6v5.44h-2.6zM209.7,265.3h3.3v5.44h-3.3zM216.3,265.3h3.4v5.44h-3.4zM226.7,265.3h3.6v5.44h-3.6zM133.9,287.1h2.2v5.44h-2.2zM193.8,292.5h3.1v5.44h-3.1zM206.4,292.5h3.3v5.44h-3.3zM200.0,297.9h3.2v5.44h-3.2zM86.3,308.8h1.5v5.44h-1.5zM230.3,308.8h2.7v5.44h-2.7zM83.3,319.7h1.5v5.44h-1.5zM102.5,357.8h1.8v5.44h-1.8zM107.9,357.8h1.8v5.44h-1.8zM196.9,368.6h3.1v5.44h-3.1zM80.4,379.5h1.4v5.44h-1.4zM99.1,395.8h1.7v5.44h-1.7zM213.0,395.8h3.4v5.44h-3.4zM107.9,444.8h1.8v5.44h-1.8zM79.0,461.1h1.4v5.44h-1.4zM223.2,482.8h3.5v5.44h-3.5zM106.1,504.6h1.8v5.44h-1.8z"/>
<path fill="#3e3e3e" d="M173.5,134.8h2.8v5.44h-2.8zM181.9,151.1h2.9v5.44h-2.9zM99.1,156.6h1.7v5.44h-1.7zM162.7,162.0h2.6v5.44h-2.6zM97.4,172.9h1.7v5.44h-1.7zM168.0,178.3h2.7v5.44h-2.7zM219.8,200.1h3.5v5.44h-3.5zM170.7,210.9h2.7v5.44h-2.7zM109.7,227.2h1.9v5.44h-1.9zM104.3,238.1h1.8v5.44h-1.8zM206.4,254.4h3.3v5.44h-3.3zM216.3,254.4h3.4v5.44h-3.4zM80.4,336.0h1.4v5.44h-1.4zM200.0,336.0h3.2v5.44h-3.2zM206.4,341.4h3.3v5.44h-3.3zM203.2,346.9h3.2v5.44h-3.2zM219.8,346.9h3.5v5.44h-3.5zM200.0,357.8h3.2v5.44h-3.2zM106.1,363.2h1.8v5.44h-1.8zM223.2,368.6h3.5v5.44h-3.5zM79.0,379.5h1.4v5.44h-1.4zM79.0,384.9h1.4v5.44h-1.4zM92.5,390.4h1.6v5.44h-1.6zM213.0,401.2h3.4v5.44h-3.4zM86.3,423.0h1.5v5.44h-1.5zM95.8,450.2h1.7v5.44h-1.7zM200.0,450.2h3.2v5.44h-3.2zM230.3,466.5h2.7v5.44h-2.7zM84.8,488.2h1.5v5.44h-1.5z"/>
<path fill="#3f3f3f" d="M187.8,113.1h3.0v5.44h-3.0zM104.3,123.9h1.8v5.44h-1.8zM80.4,145.7h1.4v5.44h-1.4zM138.4,151.1h2.3v5.44h-2.3zM95.8,172.9h1.7v5.44h-1.7zM133.9,178.3h2.2v5.44h-2.2zM216.3,200.1h3.4v5.44h-3.4zM97.4,210.9h1.7v5.44h-1.7zM147.7,227.2h2.4v5.44h-2.4zM230.3,227.2h2.7v5.44h-2.7zM107.9,265.3h1.8v5.44h-1.8zM165.3,276.2h2.7v5.44h-2.7zM83.3,292.5h1.5v5.44h-1.5zM95.8,363.2h1.7v5.44h-1.7zM83.3,379.5h1.5v5.44h-1.5zM209.7,379.5h3.3v5.44h-3.3zM226.7,379.5h3.6v5.44h-3.6zM193.8,390.4h3.1v5.44h-3.1zM230.3,390.4h2.7v5.44h-2.7zM94.1,401.2h1.6v5.44h-1.6zM99.1,406.7h1.7v5.44h-1.7zM89.4,455.6h1.6v5.44h-1.6zM87.8,477.4h1.5v5.44h-1.5zM203.2,477.4h3.2v5.44h-3.2zM81.9,493.7h1.5v5.44h-1.5zM97.4,493.7h1.7v5.44h-1.7zM219.8,493.7h3.5v5.44h-3.5z"/>
<path fill="#404040" d="M89.4,107.6h1.6v5.44h-1.6zM127.5,151.1h2.1v5.44h-2.1zM117.3,156.6h2.0v5.44h-2.0zM79.0,178.3h1.4v5.44h-1.4zM157.6,194.6h2.6v5.44h-2.6zM99.1,205.5h1.7v5.44h-1.7zM213.0,205.5h3.4v5.44h-3.4zM136.1,227.2h2.2v5.44h-2.2zM119.3,232.7h2.0v5.44h-2.0zM138.4,232.7h2.3v5.44h-2.3zM196.9,232.7h3.1v5.44h-3.1zM152.6,238.1h2.5v5.44h-2.5zM168.0,238.1h2.7v5.44h-2.7zM196.9,249.0h3.1v5.44h-3.1zM83.3,254.4h1.5v5.44h-1.5zM95.8,259.9h1.7v5.44h-1.7zM233.0,259.9h5.5v5.44h-5.5zM115.4,265.3h1.9v5.44h-1.9zM94.1,287.1h1.6v5.44h-1.6zM200.0,287.1h3.2v5.44h-3.2zM79.0,308.8h1.4v5.44h-1.4zM97.4,346.9h1.7v5.44h-1.7zM104.3,357.8h1.8v5.44h-1.8zM196.9,390.4h3.1v5.44h-3.1zM99.1,401.2h1.7v5.44h-1.7zM79.0,412.1h1.4v5.44h-1.4zM106.1,461.1h1.8v5.44h-1.8zM213.0,461.1h3.4v5.44h-3.4zM81.9,466.5h1.5v5.44h-1.5zM92.5,482.8h1.6v5.44h-1.6zM97.4,504.6h1.7v5.44h-1.7z"/>
<path fill="#414141" d="M138.4,75.0h2.3v5.44h-2.3zM143.0,85.9h2.3v5.44h-2.3zM155.0,85.9h2.5v5.44h-2.5zM179.1,96.8h2.9v5.44h-2.9zM97.4,107.6h1.7v5.44h-1.7zM125.4,118.5h2.1v5.44h-2.1zM168.0,123.9h2.7v5.44h-2.7zM147.7,156.6h2.4v5.44h-2.4zM107.9,189.2h1.8v5.44h-1.8zM80.4,194.6h1.4v5.44h-1.4zM219.8,227.2h3.5v5.44h-3.5zM95.8,232.7h1.7v5.44h-1.7zM223.2,238.1h3.5v5.44h-3.5zM162.7,249.0h2.6v5.44h-2.6zM102.5,254.4h1.8v5.44h-1.8zM219.8,303.4h3.5v5.44h-3.5zM89.4,319.7h1.6v5.44h-1.6zM109.7,341.4h1.9v5.44h-1.9zM81.9,363.2h1.5v5.44h-1.5zM95.8,379.5h1.7v5.44h-1.7zM90.9,461.1h1.6v5.44h-1.6zM213.0,488.2h3.4v5.44h-3.4z"/>
<path fill="#424242" d="M94.1,107.6h1.6v5.44h-1.6zM160.1,123.9h2.6v5.44h-2.6zM176.2,123.9h2.8v5.44h-2.8zM104.3,162.0h1.8v5.44h-1.8zM87.8,194.6h1.5v5.44h-1.5zM102.5,210.9h1.8v5.44h-1.8zM216.3,210.9h3.4v5.44h-3.4zM125.4,243.6h2.1v5.44h-2.1zM129.6,259.9h2.1v5.44h-2.1zM173.5,270.8h2.8v5.44h-2.8zM219.8,270.8h3.5v5.44h-3.5zM213.0,276.2h3.4v5.44h-3.4zM226.7,297.9h3.6v5.44h-3.6zM95.8,303.4h1.7v5.44h-1.7zM79.0,314.2h1.4v5.44h-1.4zM80.4,325.1h1.4v5.44h-1.4zM80.4,330.6h1.4v5.44h-1.4zM109.7,336.0h1.9v5.44h-1.9zM81.9,346.9h1.5v5.44h-1.5zM209.7,363.2h3.3v5.44h-3.3zM223.2,374.1h3.5v5.44h-3.5zM216.3,379.5h3.4v5.44h-3.4zM107.9,384.9h1.8v5.44h-1.8zM87.8,406.7h1.5v5.44h-1.5zM109.7,444.8h1.9v5.44h-1.9zM193.8,455.6h3.1v5.44h-3.1zM196.9,455.6h3.1v5.44h-3.1zM94.1,466.5h1.6v5.44h-1.6zM193.8,493.7h3.1v5.44h-3.1z"/>
<path fill="#434343" d="M104.3,118.5h1.8v5.44h-1.8zM193.8,210.9h3.1v5.44h-3.1zM219.8,216.4h3.5v5.44h-3.5zM160.1,249.0h2.6v5.44h-2.6zM150.1,292.5h2.4v5.44h-2.4zM193.8,341.4h3.1v5.44h-3.1zM83.3,346.9h1.5v5.44h-1.5zM92.5,346.9h1.6v5.44h-1.6zM92.5,363.2h1.6v5.44h-1.6zM219.8,384.9h3.5v5.44h-3.5zM200.0,390.4h3.2v5.44h-3.2zM86.3,406.7h1.5v5.44h-1.5zM107.9,406.7h1.8v5.44h-1.8zM95.8,455.6h1.7v5.44h-1.7zM219.8,455.6h3.5v5.44h-3.5zM83.3,461.1h1.5v5.44h-1.5zM123.3,477.4h2.1v5.44h-2.1zM90.9,482.8h1.6v5.44h-1.6z"/>
<path fill="#444444" d="M125.4,91.3h2.1v5.44h-2.1zM190.8,91.3h3.0v5.44h-3.0zM136.1,134.8h2.2v5.44h-2.2zM80.4,156.6h1.4v5.44h-1.4zM145.3,178.3h2.4v5.44h-2.4zM83.3,189.2h1.5v5.44h-1.5zM157.6,210.9h2.6v5.44h-2.6zM165.3,221.8h2.7v5.44h-2.7zM102.5,227.2h1.8v5.44h-1.8zM121.3,232.7h2.0v5.44h-2.0zM84.8,238.1h1.5v5.44h-1.5zM216.3,243.6h3.4v5.44h-3.4zM87.8,249.0h1.5v5.44h-1.5zM230.3,249.0h2.7v5.44h-2.7zM95.8,270.8h1.7v5.44h-1.7zM176.2,270.8h2.8v5.44h-2.8zM95.8,297.9h1.7v5.44h-1.7zM121.3,308.8h2.0v5.44h-2.0zM94.1,319.7h1.6v5.44h-1.6zM133.9,319.7h2.2v5.44h-2.2zM107.9,325.1h1.8v5.44h-1.8zM107.9,330.6h1.8v5.44h-1.8zM95.8,341.4h1.7v5.44h-1.7zM131.7,417.6h2.2v5.44h-2.2zM81.9,428.4h1.5v5.44h-1.5zM86.3,433.9h1.5v5.44h-1.5zM203.2,433.9h3.2v5.44h-3.2zM203.2,444.8h3.2v5.44h-3.2zM99.1,450.2h1.7v5.44h-1.7zM196.9,471.9h3.1v5.44h-3.1zM223.2,471.9h3.5v5.44h-3.5zM87.8,493.7h1.5v5.44h-1.5z"/>
<path fill="#454545" d="M99.1,75.0h1.7v5.44h-1.7zM89.4,145.7h1.6v5.44h-1.6zM140.7,189.2h2.3v5.44h-2.3zM94.1,221.8h1.6v5.44h-1.6zM140.7,227.2h2.3v5.44h-2.3zM155.0,232.7h2.5v5.44h-2.5zM102.5,249.0h1.8v5.44h-1.8zM127.5,249.0h2.1v5.44h-2.1zM80.4,254.4h1.4v5.44h-1.4zM90.9,265.3h1.6v5.44h-1.6zM95.8,265.3h1.7v5.44h-1.7zM81.9,297.9h1.5v5.44h-1.5zM81.9,303.4h1.5v5.44h-1.5zM79.0,319.7h1.4v5.44h-1.4zM79.0,325.1h1.4v5.44h-1.4zM81.9,390.4h1.5v5.44h-1.5zM84.8,406.7h1.5v5.44h-1.5zM102.5,428.4h1.8v5.44h-1.8zM115.4,444.8h1.9v5.44h-1.9zM97.4,450.2h1.7v5.44h-1.7zM84.8,455.6h1.5v5.44h-1.5zM216.3,461.1h3.4v5.44h-3.4zM90.9,466.5h1.6v5.44h-1.6zM206.4,471.9h3.3v5.44h-3.3zM226.7,488.2h3.6v5.44h-3.6zM86.3,504.6h1.5v5.44h-1.5z"/>
<path fill="#464646" d="M94.1,156.6h1.6v5.44h-1.6zM84.8,167.4h1.5v5.44h-1.5zM94.1,205.5h1.6v5.44h-1.6zM129.6,205.5h2.1v5.44h-2.1zM200.0,205.5h3.2v5.44h-3.2zM219.8,210.9h3.5v5.44h-3.5zM90.9,243.6h1.6v5.44h-1.6zM133.9,270.8h2.2v5.44h-2.2zM109.7,319.7h1.9v5.44h-1.9zM87.8,336.0h1.5v5.44h-1.5zM97.4,336.0h1.7v5.44h-1.7zM104.3,336.0h1.8v5.44h-1.8zM79.0,423.0h1.4v5.44h-1.4zM95.8,444.8h1.7v5.44h-1.7zM109.7,450.2h1.9v5.44h-1.9zM94.1,482.8h1.6v5.44h-1.6z"/>
<path fill="#474747" d="M83.3,75.0h1.5v5.44h-1.5zM90.9,129.4h1.6v5.44h-1.6zM168.0,145.7h2.7v5.44h-2.7zM87.8,172.9h1.5v5.44h-1.5zM223.2,205.5h3.5v5.44h-3.5zM104.3,221.8h1.8v5.44h-1.8zM162.7,227.2h2.6v5.44h-2.6zM155.0,243.6h2.5v5.44h-2.5zM230.3,243.6h2.7v5.44h-2.7zM90.9,287.1h1.6v5.44h-1.6zM97.4,308.8h1.7v5.44h-1.7zM193.8,308.8h3.1v5.44h-3.1zM129.6,314.2h2.1v5.44h-2.1zM87.8,319.7h1.5v5.44h-1.5zM97.4,319.7h1.7v5.44h-1.7zM89.4,325.1h1.6v5.44h-1.6zM200.0,325.1h3.2v5.44h-3.2zM90.9,341.4h1.6v5.44h-1.6zM94.1,363.2h1.6v5.44h-1.6zM223.2,363.2h3.5v5.44h-3.5zM79.0,368.6h1.4v5.44h-1.4zM90.9,379.5h1.6v5.44h-1.6zM104.3,379.5h1.8v5.44h-1.8zM104.3,406.7h1.8v5.44h-1.8zM92.5,412.1h1.6v5.44h-1.6zM168.0,417.6h2.7v5.44h-2.7zM99.1,433.9h1.7v5.44h-1.7zM84.8,461.1h1.5v5.44h-1.5zM107.9,471.9h1.8v5.44h-1.8zM99.1,488.2h1.7v5.44h-1.7zM84.8,499.1h1.5v5.44h-1.5zM209.7,504.6h3.3v5.44h-3.3z"/>
<path fill="#484848" d="M89.4,113.1h1.6v5.44h-1.6zM80.4,123.9h1.4v5.44h-1.4zM106.1,123.9h1.8v5.44h-1.8zM168.0,140.2h2.7v5.44h-2.7zM99.1,167.4h1.7v5.44h-1.7zM165.3,216.4h2.7v5.44h-2.7zM90.9,238.1h1.6v5.44h-1.6zM200.0,249.0h3.2v5.44h-3.2zM216.3,249.0h3.4v5.44h-3.4zM104.3,325.1h1.8v5.44h-1.8zM230.3,357.8h2.7v5.44h-2.7zM97.4,363.2h1.7v5.44h-1.7zM87.8,374.1h1.5v5.44h-1.5zM94.1,379.5h1.6v5.44h-1.6zM83.3,401.2h1.5v5.44h-1.5zM115.4,423.0h1.9v5.44h-1.9zM80.4,444.8h1.4v5.44h-1.4zM109.7,499.1h1.9v5.44h-1.9z"/>
<path fill="#494949" d="M92.5,75.0h1.6v5.44h-1.6zM94.1,145.7h1.6v5.44h-1.6zM125.4,151.1h2.1v5.44h-2.1zM80.4,183.8h1.4v5.44h-1.4zM94.1,210.9h1.6v5.44h-1.6zM99.1,210.9h1.7v5.44h-1.7zM106.1,232.7h1.8v5.44h-1.8zM165.3,287.1h2.7v5.44h-2.7zM106.1,330.6h1.8v5.44h-1.8zM106.1,368.6h1.8v5.44h-1.8zM86.3,450.2h1.5v5.44h-1.5zM89.4,450.2h1.6v5.44h-1.6zM95.8,461.1h1.7v5.44h-1.7zM100.8,461.1h1.7v5.44h-1.7zM138.4,504.6h2.3v5.44h-2.3z"/>
<path fill="#4a4a4a" d="M89.4,91.3h1.6v5.44h-1.6zM80.4,107.6h1.4v5.44h-1.4zM173.5,118.5h2.8v5.44h-2.8zM136.1,151.1h2.2v5.44h-2.2zM115.4,162.0h1.9v5.44h-1.9zM94.1,183.8h1.6v5.44h-1.6zM145.3,194.6h2.4v5.44h-2.4zM143.0,238.1h2.3v5.44h-2.3zM147.7,238.1h2.4v5.44h-2.4zM173.5,243.6h2.8v5.44h-2.8zM109.7,259.9h1.9v5.44h-1.9zM94.1,270.8h1.6v5.44h-1.6zM162.7,281.6h2.6v5.44h-2.6zM196.9,292.5h3.1v5.44h-3.1zM87.8,297.9h1.5v5.44h-1.5zM106.1,308.8h1.8v5.44h-1.8zM81.9,314.2h1.5v5.44h-1.5zM97.4,314.2h1.7v5.44h-1.7zM106.1,346.9h1.8v5.44h-1.8zM83.3,368.6h1.5v5.44h-1.5zM219.8,368.6h3.5v5.44h-3.5zM97.4,428.4h1.7v5.44h-1.7z"/>
<path fill="#4b4b4b" d="M90.9,96.8h1.6v5.44h-1.6zM179.1,113.1h2.9v5.44h-2.9zM90.9,140.2h1.6v5.44h-1.6zM176.2,145.7h2.8v5.44h-2.8zM209.7,200.1h3.3v5.44h-3.3zM193.8,205.5h3.1v5.44h-3.1zM94.1,281.6h1.6v5.44h-1.6zM216.3,287.1h3.4v5.44h-3.4zM209.7,303.4h3.3v5.44h-3.3zM94.1,336.0h1.6v5.44h-1.6zM104.3,384.9h1.8v5.44h-1.8zM104.3,390.4h1.8v5.44h-1.8zM104.3,412.1h1.8v5.44h-1.8zM107.9,412.1h1.8v5.44h-1.8zM109.7,423.0h1.9v5.44h-1.9zM104.3,450.2h1.8v5.44h-1.8zM100.8,455.6h1.7v5.44h-1.7zM99.1,471.9h1.7v5.44h-1.7z"/>
<path fill="#4c4c4c" d="M145.3,123.9h2.4v5.44h-2.4zM94.1,151.1h1.6v5.44h-1.6zM100.8,172.9h1.7v5.44h-1.7zM125.4,227.2h2.1v5.44h-2.1zM193.8,232.7h3.1v5.44h-3.1zM193.8,238.1h3.1v5.44h-3.1zM129.6,265.3h2.1v5.44h-2.1zM80.4,270.8h1.4v5.44h-1.4zM81.9,325.1h1.5v5.44h-1.5zM104.3,352.3h1.8v5.44h-1.8zM81.9,384.9h1.5v5.44h-1.5zM206.4,390.4h3.3v5.44h-3.3zM200.0,401.2h3.2v5.44h-3.2zM99.1,417.6h1.7v5.44h-1.7zM81.9,423.0h1.5v5.44h-1.5zM213.0,466.5h3.4v5.44h-3.4zM213.0,482.8h3.4v5.44h-3.4zM216.3,493.7h3.4v5.44h-3.4zM102.5,504.6h1.8v5.44h-1.8z"/>
<path fill="#4d4d4d" d="M97.4,75.0h1.7v5.44h-1.7zM81.9,91.3h1.5v5.44h-1.5zM143.0,91.3h2.3v5.44h-2.3zM109.7,145.7h1.9v5.44h-1.9zM87.8,151.1h1.5v5.44h-1.5zM87.8,167.4h1.5v5.44h-1.5zM145.3,172.9h2.4v5.44h-2.4zM187.8,178.3h3.0v5.44h-3.0zM104.3,216.4h1.8v5.44h-1.8zM173.5,227.2h2.8v5.44h-2.8zM94.1,238.1h1.6v5.44h-1.6zM209.7,238.1h3.3v5.44h-3.3zM102.5,292.5h1.8v5.44h-1.8zM84.8,314.2h1.5v5.44h-1.5zM102.5,330.6h1.8v5.44h-1.8zM79.0,374.1h1.4v5.44h-1.4zM89.4,423.0h1.6v5.44h-1.6zM90.9,428.4h1.6v5.44h-1.6zM90.9,450.2h1.6v5.44h-1.6zM109.7,482.8h1.9v5.44h-1.9zM97.4,488.2h1.7v5.44h-1.7zM90.9,499.1h1.6v5.44h-1.6zM100.8,499.1h1.7v5.44h-1.7zM80.4,504.6h1.4v5.44h-1.4zM94.1,504.6h1.6v5.44h-1.6z"/>
<path fill="#4e4e4e" d="M170.7,96.8h2.7v5.44h-2.7zM160.1,102.2h2.6v5.44h-2.6zM125.4,107.6h2.1v5.44h-2.1zM157.6,113.1h2.6v5.44h-2.6zM138.4,129.4h2.3v5.44h-2.3zM140.7,167.4h2.3v5.44h-2.3zM155.0,210.9h2.5v5.44h-2.5zM107.9,232.7h1.8v5.44h-1.8zM104.3,254.4h1.8v5.44h-1.8zM173.5,254.4h2.8v5.44h-2.8zM219.8,276.2h3.5v5.44h-3.5zM206.4,281.6h3.3v5.44h-3.3zM209.7,297.9h3.3v5.44h-3.3zM106.1,336.0h1.8v5.44h-1.8zM84.8,352.3h1.5v5.44h-1.5zM109.7,374.1h1.9v5.44h-1.9zM100.8,379.5h1.7v5.44h-1.7zM95.8,390.4h1.7v5.44h-1.7zM102.5,390.4h1.8v5.44h-1.8zM107.9,395.8h1.8v5.44h-1.8zM193.8,395.8h3.1v5.44h-3.1zM104.3,423.0h1.8v5.44h-1.8zM90.9,444.8h1.6v5.44h-1.6zM97.4,461.1h1.7v5.44h-1.7zM84.8,471.9h1.5v5.44h-1.5zM102.5,477.4h1.8v5.44h-1.8zM100.8,493.7h1.7v5.44h-1.7zM90.9,504.6h1.6v5.44h-1.6z"/>
<path fill="#4f4f4f" d="M140.7,96.8h2.3v5.44h-2.3zM179.1,102.2h2.9v5.44h-2.9zM136.1,113.1h2.2v5.44h-2.2zM99.1,178.3h1.7v5.44h-1.7zM155.0,178.3h2.5v5.44h-2.5zM104.3,205.5h1.8v5.44h-1.8zM152.6,265.3h2.5v5.44h-2.5zM79.0,292.5h1.4v5.44h-1.4zM84.8,303.4h1.5v5.44h-1.5zM216.3,314.2h3.4v5.44h-3.4zM206.4,319.7h3.3v5.44h-3.3zM223.2,325.1h3.5v5.44h-3.5zM230.3,330.6h2.7v5.44h-2.7zM193.8,336.0h3.1v5.44h-3.1zM223.2,341.4h3.5v5.44h-3.5zM219.8,352.3h3.5v5.44h-3.5zM213.0,357.8h3.4v5.44h-3.4zM223.2,357.8h3.5v5.44h-3.5zM213.0,384.9h3.4v5.44h-3.4zM200.0,417.6h3.2v5.44h-3.2zM203.2,417.6h3.2v5.44h-3.2zM223.2,417.6h3.5v5.44h-3.5zM97.4,423.0h1.7v5.44h-1.7zM203.2,423.0h3.2v5.44h-3.2zM196.9,428.4h3.1v5.44h-3.1zM213.0,428.4h3.4v5.44h-3.4zM79.0,433.9h1.4v5.44h-1.4zM226.7,450.2h3.6v5.44h-3.6zM223.2,461.1h3.5v5.44h-3.5zM209.7,471.9h3.3v5.44h-3.3zM100.8,482.8h1.7v5.44h-1.7zM203.2,488.2h3.2v5.44h-3.2zM94.1,499.1h1.6v5.44h-1.6zM200.0,504.6h3.2v5.44h-3.2z"/>
<path fill="#505050" d="M117.3,91.3h2.0v5.44h-2.0zM136.1,91.3h2.2v5.44h-2.2zM87.8,118.5h1.5v5.44h-1.5zM138.4,194.6h2.3v5.44h-2.3zM173.5,200.1h2.8v5.44h-2.8zM136.1,216.4h2.2v5.44h-2.2zM223.2,221.8h3.5v5.44h-3.5zM87.8,227.2h1.5v5.44h-1.5zM152.6,227.2h2.5v5.44h-2.5zM125.4,292.5h2.1v5.44h-2.1zM133.9,292.5h2.2v5.44h-2.2zM213.0,292.5h3.4v5.44h-3.4zM89.4,330.6h1.6v5.44h-1.6zM90.9,368.6h1.6v5.44h-1.6zM89.4,384.9h1.6v5.44h-1.6zM81.9,395.8h1.5v5.44h-1.5zM97.4,412.1h1.7v5.44h-1.7zM100.8,428.4h1.7v5.44h-1.7zM104.3,433.9h1.8v5.44h-1.8zM107.9,461.1h1.8v5.44h-1.8zM89.4,477.4h1.6v5.44h-1.6zM80.4,493.7h1.4v5.44h-1.4zM107.9,493.7h1.8v5.44h-1.8z"/>
<path fill="#515151" d="M87.8,91.3h1.5v5.44h-1.5zM129.6,96.8h2.1v5.44h-2.1zM145.3,118.5h2.4v5.44h-2.4zM157.6,167.4h2.6v5.44h-2.6zM81.9,172.9h1.5v5.44h-1.5zM133.9,232.7h2.2v5.44h-2.2zM157.6,232.7h2.6v5.44h-2.6zM80.4,303.4h1.4v5.44h-1.4zM107.9,390.4h1.8v5.44h-1.8zM94.1,395.8h1.6v5.44h-1.6zM94.1,412.1h1.6v5.44h-1.6zM104.3,471.9h1.8v5.44h-1.8zM81.9,482.8h1.5v5.44h-1.5z"/>
<path fill="#525252" d="M90.9,80.4h1.6v5.44h-1.6zM111.6,113.1h1.9v5.44h-1.9zM168.0,151.1h2.7v5.44h-2.7zM168.0,167.4h2.7v5.44h-2.7zM106.1,297.9h1.8v5.44h-1.8zM90.9,330.6h1.6v5.44h-1.6zM94.1,368.6h1.6v5.44h-1.6zM83.3,374.1h1.5v5.44h-1.5zM86.3,379.5h1.5v5.44h-1.5zM84.8,401.2h1.5v5.44h-1.5zM80.4,461.1h1.4v5.44h-1.4zM90.9,493.7h1.6v5.44h-1.6z"/>
<path fill="#535353" d="M89.4,210.9h1.6v5.44h-1.6zM94.1,216.4h1.6v5.44h-1.6zM160.1,221.8h2.6v5.44h-2.6zM216.3,232.7h3.4v5.44h-3.4zM127.5,243.6h2.1v5.44h-2.1zM89.4,287.1h1.6v5.44h-1.6zM104.3,330.6h1.8v5.44h-1.8zM90.9,374.1h1.6v5.44h-1.6zM97.4,374.1h1.7v5.44h-1.7zM84.8,379.5h1.5v5.44h-1.5zM90.9,390.4h1.6v5.44h-1.6zM80.4,417.6h1.4v5.44h-1.4zM86.3,417.6h1.5v5.44h-1.5zM81.9,477.4h1.5v5.44h-1.5zM83.3,504.6h1.5v5.44h-1.5z"/>
<path fill="#545454" d="M87.8,134.8h1.5v5.44h-1.5zM97.4,162.0h1.7v5.44h-1.7zM136.1,194.6h2.2v5.44h-2.2zM79.0,281.6h1.4v5.44h-1.4zM87.8,471.9h1.5v5.44h-1.5z"/>
<path fill="#555555" d="M133.9,91.3h2.2v5.44h-2.2zM173.5,107.6h2.8v5.44h-2.8zM140.7,113.1h2.3v5.44h-2.3zM157.6,118.5h2.6v5.44h-2.6zM209.7,227.2h3.3v5.44h-3.3zM162.7,276.2h2.6v5.44h-2.6zM226.7,292.5h3.6v5.44h-3.6zM104.3,363.2h1.8v5.44h-1.8zM81.9,406.7h1.5v5.44h-1.5zM87.8,450.2h1.5v5.44h-1.5zM87.8,461.1h1.5v5.44h-1.5zM94.1,477.4h1.6v5.44h-1.6zM81.9,499.1h1.5v5.44h-1.5z"/>
<path fill="#565656" d="M136.1,96.8h2.2v5.44h-2.2zM115.4,113.1h1.9v5.44h-1.9zM109.7,167.4h1.9v5.44h-1.9zM131.7,178.3h2.2v5.44h-2.2zM184.8,183.8h3.0v5.44h-3.0zM129.6,189.2h2.1v5.44h-2.1zM230.3,210.9h2.7v5.44h-2.7zM226.7,221.8h3.6v5.44h-3.6zM196.9,238.1h3.1v5.44h-3.1zM133.9,243.6h2.2v5.44h-2.2zM226.7,249.0h3.6v5.44h-3.6zM196.9,259.9h3.1v5.44h-3.1zM94.1,265.3h1.6v5.44h-1.6zM104.3,265.3h1.8v5.44h-1.8zM200.0,265.3h3.2v5.44h-3.2zM196.9,270.8h3.1v5.44h-3.1zM200.0,276.2h3.2v5.44h-3.2zM89.4,341.4h1.6v5.44h-1.6zM115.4,341.4h1.9v5.44h-1.9zM107.9,379.5h1.8v5.44h-1.8zM81.9,461.1h1.5v5.44h-1.5z"/>
<path fill="#575757" d="M145.3,75.0h2.4v5.44h-2.4zM81.9,123.9h1.5v5.44h-1.5zM104.3,287.1h1.8v5.44h-1.8zM184.8,287.1h3.0v5.44h-3.0zM104.3,314.2h1.8v5.44h-1.8zM83.3,363.2h1.5v5.44h-1.5zM102.5,379.5h1.8v5.44h-1.8zM97.4,406.7h1.7v5.44h-1.7zM80.4,439.3h1.4v5.44h-1.4zM94.1,444.8h1.6v5.44h-1.6zM95.8,466.5h1.7v5.44h-1.7zM104.3,482.8h1.8v5.44h-1.8z"/>
<path fill="#585858" d="M127.5,96.8h2.1v5.44h-2.1zM131.7,145.7h2.2v5.44h-2.2zM127.5,172.9h2.1v5.44h-2.1zM81.9,357.8h1.5v5.44h-1.5zM92.5,395.8h1.6v5.44h-1.6zM121.3,417.6h2.0v5.44h-2.0zM94.1,439.3h1.6v5.44h-1.6z"/>
<path fill="#595959" d="M95.8,80.4h1.7v5.44h-1.7zM165.3,172.9h2.7v5.44h-2.7zM155.0,194.6h2.5v5.44h-2.5zM94.1,200.1h1.6v5.44h-1.6zM168.0,200.1h2.7v5.44h-2.7zM165.3,238.1h2.7v5.44h-2.7zM80.4,308.8h1.4v5.44h-1.4zM102.5,352.3h1.8v5.44h-1.8zM97.4,395.8h1.7v5.44h-1.7zM90.9,439.3h1.6v5.44h-1.6zM104.3,439.3h1.8v5.44h-1.8zM123.3,450.2h2.1v5.44h-2.1zM80.4,471.9h1.4v5.44h-1.4z"/>
<path fill="#5a5a5a" d="M87.8,123.9h1.5v5.44h-1.5zM95.8,145.7h1.7v5.44h-1.7zM173.5,172.9h2.8v5.44h-2.8zM181.9,189.2h2.9v5.44h-2.9zM84.8,205.5h1.5v5.44h-1.5zM94.1,259.9h1.6v5.44h-1.6zM81.9,265.3h1.5v5.44h-1.5zM89.4,303.4h1.6v5.44h-1.6zM94.1,303.4h1.6v5.44h-1.6zM109.7,352.3h1.9v5.44h-1.9zM94.1,384.9h1.6v5.44h-1.6zM87.8,401.2h1.5v5.44h-1.5zM80.4,406.7h1.4v5.44h-1.4zM94.1,406.7h1.6v5.44h-1.6zM109.7,433.9h1.9v5.44h-1.9zM86.3,439.3h1.5v5.44h-1.5zM107.9,439.3h1.8v5.44h-1.8zM80.4,499.1h1.4v5.44h-1.4z"/>
<path fill="#5b5b5b" d="M97.4,102.2h1.7v5.44h-1.7zM131.7,102.2h2.2v5.44h-2.2zM143.0,140.2h2.3v5.44h-2.3zM179.1,210.9h2.9v5.44h-2.9zM90.9,319.7h1.6v5.44h-1.6zM107.9,341.4h1.8v5.44h-1.8zM79.0,482.8h1.4v5.44h-1.4zM90.9,488.2h1.6v5.44h-1.6z"/>
<path fill="#5c5c5c" d="M170.7,102.2h2.7v5.44h-2.7zM147.7,151.1h2.4v5.44h-2.4zM173.5,167.4h2.8v5.44h-2.8zM190.8,172.9h3.0v5.44h-3.0zM140.7,221.8h2.3v5.44h-2.3zM94.1,325.1h1.6v5.44h-1.6zM97.4,341.4h1.7v5.44h-1.7zM89.4,346.9h1.6v5.44h-1.6zM80.4,357.8h1.4v5.44h-1.4z"/>
<path fill="#5d5d5d" d="M95.8,210.9h1.7v5.44h-1.7zM80.4,259.9h1.4v5.44h-1.4zM157.6,281.6h2.6v5.44h-2.6zM89.4,357.8h1.6v5.44h-1.6zM80.4,368.6h1.4v5.44h-1.4zM80.4,384.9h1.4v5.44h-1.4zM100.8,395.8h1.7v5.44h-1.7zM87.8,417.6h1.5v5.44h-1.5zM87.8,428.4h1.5v5.44h-1.5z"/>
<path fill="#5e5e5e" d="M187.8,118.5h3.0v5.44h-3.0zM80.4,178.3h1.4v5.44h-1.4zM152.6,183.8h2.5v5.44h-2.5zM89.4,194.6h1.6v5.44h-1.6zM173.5,194.6h2.8v5.44h-2.8zM179.1,200.1h2.9v5.44h-2.9zM81.9,308.8h1.5v5.44h-1.5zM86.3,368.6h1.5v5.44h-1.5zM102.5,423.0h1.8v5.44h-1.8zM107.9,423.0h1.8v5.44h-1.8zM104.3,444.8h1.8v5.44h-1.8zM109.7,455.6h1.9v5.44h-1.9z"/>
<path fill="#5f5f5f" d="M89.4,297.9h1.6v5.44h-1.6zM87.8,379.5h1.5v5.44h-1.5zM80.4,395.8h1.4v5.44h-1.4zM102.5,412.1h1.8v5.44h-1.8zM106.1,493.7h1.8v5.44h-1.8z"/>
<path fill="#606060" d="M80.4,75.0h1.4v5.44h-1.4zM143.0,80.4h2.3v5.44h-2.3zM184.8,140.2h3.0v5.44h-3.0zM81.9,379.5h1.5v5.44h-1.5zM102.5,401.2h1.8v5.44h-1.8zM92.5,428.4h1.6v5.44h-1.6zM94.1,433.9h1.6v5.44h-1.6zM104.3,493.7h1.8v5.44h-1.8z"/>
<path fill="#616161" d="M131.7,254.4h2.2v5.44h-2.2zM81.9,374.1h1.5v5.44h-1.5zM90.9,401.2h1.6v5.44h-1.6zM83.3,477.4h1.5v5.44h-1.5zM102.5,493.7h1.8v5.44h-1.8z"/>
<path fill="#626262" d="M176.2,140.2h2.8v5.44h-2.8zM143.0,183.8h2.3v5.44h-2.3zM107.9,363.2h1.8v5.44h-1.8zM109.7,384.9h1.9v5.44h-1.9zM92.5,406.7h1.6v5.44h-1.6zM109.7,428.4h1.9v5.44h-1.9zM104.3,461.1h1.8v5.44h-1.8zM109.7,471.9h1.9v5.44h-1.9z"/>
<path fill="#636363" d="M190.8,107.6h3.0v5.44h-3.0zM80.4,363.2h1.4v5.44h-1.4zM97.4,368.6h1.7v5.44h-1.7zM81.9,455.6h1.5v5.44h-1.5zM104.3,504.6h1.8v5.44h-1.8z"/>
<path fill="#646464" d="M79.0,75.0h1.4v5.44h-1.4zM80.4,341.4h1.4v5.44h-1.4zM100.8,346.9h1.7v5.44h-1.7zM102.5,406.7h1.8v5.44h-1.8zM81.9,471.9h1.5v5.44h-1.5z"/>
<path fill="#656565" d="M107.9,303.4h1.8v5.44h-1.8zM97.4,390.4h1.7v5.44h-1.7z"/>
<path fill="#666666" d="M127.5,265.3h2.1v5.44h-2.1zM80.4,374.1h1.4v5.44h-1.4zM87.8,433.9h1.5v5.44h-1.5zM99.1,499.1h1.7v5.44h-1.7z"/>
<path fill="#676767" d="M140.7,91.3h2.3v5.44h-2.3zM97.4,303.4h1.7v5.44h-1.7zM87.8,341.4h1.5v5.44h-1.5zM97.4,384.9h1.7v5.44h-1.7z"/>
<path fill="#686868" d="M102.5,303.4h1.8v5.44h-1.8zM104.3,303.4h1.8v5.44h-1.8zM104.3,417.6h1.8v5.44h-1.8zM95.8,428.4h1.7v5.44h-1.7z"/>
<path fill="#696969" d="M150.1,96.8h2.4v5.44h-2.4zM104.3,249.0h1.8v5.44h-1.8zM104.3,346.9h1.8v5.44h-1.8z"/>
<path fill="#6a6a6a" d="M89.4,379.5h1.6v5.44h-1.6z"/>
<path fill="#6b6b6b" d="M138.4,113.1h2.3v5.44h-2.3zM90.9,221.8h1.6v5.44h-1.6zM81.9,336.0h1.5v5.44h-1.5zM94.1,374.1h1.6v5.44h-1.6zM102.5,395.8h1.8v5.44h-1.8zM81.9,401.2h1.5v5.44h-1.5zM81.9,417.6h1.5v5.44h-1.5zM80.4,455.6h1.4v5.44h-1.4zM83.3,466.5h1.5v5.44h-1.5z"/>
<path fill="#6c6c6c" d="M160.1,189.2h2.6v5.44h-2.6zM181.9,205.5h2.9v5.44h-2.9zM100.8,325.1h1.7v5.44h-1.7zM102.5,336.0h1.8v5.44h-1.8zM80.4,412.1h1.4v5.44h-1.4z"/>
<path fill="#6e6e6e" d="M152.6,216.4h2.5v5.44h-2.5zM109.7,330.6h1.9v5.44h-1.9zM99.1,493.7h1.7v5.44h-1.7z"/>
<path fill="#6f6f6f" d="M86.3,493.7h1.5v5.44h-1.5z"/>
<path fill="#707070" d="M157.6,102.2h2.6v5.44h-2.6zM155.0,123.9h2.5v5.44h-2.5zM94.1,314.2h1.6v5.44h-1.6zM109.7,406.7h1.9v5.44h-1.9z"/>
<path fill="#727272" d="M138.4,249.0h2.3v5.44h-2.3zM79.0,297.9h1.4v5.44h-1.4zM94.1,297.9h1.6v5.44h-1.6z"/>
<path fill="#737373" d="M90.9,314.2h1.6v5.44h-1.6z"/>
<path fill="#747474" d="M125.4,210.9h2.1v5.44h-2.1zM80.4,428.4h1.4v5.44h-1.4zM104.3,499.1h1.8v5.44h-1.8zM81.9,504.6h1.5v5.44h-1.5z"/>
<path fill="#757575" d="M109.7,118.5h1.9v5.44h-1.9zM125.4,183.8h2.1v5.44h-2.1z"/>
<path fill="#777777" d="M165.3,162.0h2.7v5.44h-2.7zM131.7,183.8h2.2v5.44h-2.2zM104.3,374.1h1.8v5.44h-1.8z"/>
<path fill="#787878" d="M147.7,189.2h2.4v5.44h-2.4zM125.4,205.5h2.1v5.44h-2.1z"/>
<path fill="#797979" d="M99.1,330.6h1.7v5.44h-1.7z"/>
<path fill="#7a7a7a" d="M152.6,129.4h2.5v5.44h-2.5zM145.3,221.8h2.4v5.44h-2.4zM80.4,346.9h1.4v5.44h-1.4zM109.7,461.1h1.9v5.44h-1.9z"/>
<path fill="#7b7b7b" d="M102.5,319.7h1.8v5.44h-1.8z"/>
<path fill="#7d7d7d" d="M145.3,167.4h2.4v5.44h-2.4zM106.1,325.1h1.8v5.44h-1.8zM90.9,423.0h1.6v5.44h-1.6z"/>
<path fill="#7e7e7e" d="M90.9,308.8h1.6v5.44h-1.6zM87.8,325.1h1.5v5.44h-1.5zM81.9,368.6h1.5v5.44h-1.5z"/>
<path fill="#7f7f7f" d="M81.9,281.6h1.5v5.44h-1.5z"/>
<path fill="#828282" d="M136.1,167.4h2.2v5.44h-2.2zM80.4,390.4h1.4v5.44h-1.4z"/>
<path fill="#838383" d="M87.8,368.6h1.5v5.44h-1.5z"/>
<path fill="#868686" d="M97.4,379.5h1.7v5.44h-1.7z"/>
<path fill="#878787" d="M95.8,477.4h1.7v5.44h-1.7z"/>
<path fill="#898989" d="M94.1,357.8h1.6v5.44h-1.6z"/>
<path fill="#8b8b8b" d="M162.7,167.4h2.6v5.44h-2.6z"/>
<path fill="#909090" d="M136.1,265.3h2.2v5.44h-2.2z"/>
<path fill="#929292" d="M81.9,330.6h1.5v5.44h-1.5z"/>
<path fill="#939393" d="M81.9,216.4h1.5v5.44h-1.5z"/>
<path fill="#989898" d="M136.1,123.9h2.2v5.44h-2.2z"/>
<path fill="#151515" d="M79.0,75.0h1.4v11.3h-1.4z"/>
<path fill="#3d3d3d" d="M80.4,75.0h1.4v11.3h-1.4z"/>
<path fill="#474747" d="M81.9,75.0h1.5v11.3h-1.5z"/>
<path fill="#2b2b2b" d="M83.3,75.0h1.5v11.3h-1.5z"/>
<path fill="#525252" d="M84.8,75.0h1.5v11.3h-1.5z"/>
<path fill="#2e2e2e" d="M86.3,75.0h1.5v11.3h-1.5z"/>
<path fill="#3f3f3f" d="M87.8,75.0h1.5v11.3h-1.5z"/>
<path fill="#101010" d="M89.4,75.0h1.6v11.3h-1.6z"/>
<path fill="#5a5a5a" d="M90.9,75.0h1.6v11.3h-1.6z"/>
<path fill="#494949" d="M92.5,75.0h1.6v11.3h-1.6z"/>
<path fill="#6b6b6b" d="M94.1,75.0h1.6v11.3h-1.6z"/>
<path fill="#373737" d="M95.8,75.0h1.7v11.3h-1.7z"/>
<path fill="#7a7a7a" d="M97.4,75.0h1.7v11.3h-1.7z"/>
<path fill="#3a3a3a" d="M99.1,75.0h1.7v11.3h-1.7z"/>
<path fill="#333333" d="M100.8,75.0h1.7v11.3h-1.7z"/>
<path fill="#545454" d="M102.5,75.0h1.8v11.3h-1.8z"/>
<path fill="#2a2a2a" d="M104.3,75.0h1.8v11.3h-1.8z"/>
<path fill="#333333" d="M106.1,75.0h1.8v11.3h-1.8z"/>
<path fill="#080808" d="M107.9,75.0h1.8v11.3h-1.8z"/>
<path fill="#2b2b2b" d="M109.7,75.0h1.9v11.3h-1.9z"/>
<path fill="#262626" d="M111.6,75.0h1.9v11.3h-1.9z"/>
<path fill="#444444" d="M113.5,75.0h1.9v11.3h-1.9z"/>
<path fill="#545454" d="M115.4,75.0h1.9v11.3h-1.9z"/>
<path fill="#656565" d="M117.3,75.0h2.0v11.3h-2.0z"/>
<path fill="#3c3c3c" d="M119.3,75.0h2.0v11.3h-2.0z"/>
<path fill="#4e4e4e" d="M121.3,75.0h2.0v11.3h-2.0z"/>
<path fill="#303030" d="M123.3,75.0h2.1v11.3h-2.1z"/>
<path fill="#3c3c3c" d="M125.4,75.0h2.1v11.3h-2.1z"/>
<path fill="#666666" d="M127.5,75.0h2.1v11.3h-2.1z"/>
<path fill="#3b3b3b" d="M129.6,75.0h2.1v11.3h-2.1z"/>
<path fill="#545454" d="M131.7,75.0h2.2v11.3h-2.2z"/>
<path fill="#5f5f5f" d="M133.9,75.0h2.2v11.3h-2.2z"/>
<path fill="#4c4c4c" d="M136.1,75.0h2.2v11.3h-2.2z"/>
<path fill="#3a3a3a" d="M138.4,75.0h2.3v11.3h-2.3z"/>
<path fill="#616161" d="M140.7,75.0h2.3v11.3h-2.3z"/>
<path fill="#535353" d="M143.0,75.0h2.3v11.3h-2.3z"/>
<path fill="#777777" d="M145.3,75.0h2.4v11.3h-2.4z"/>
<path fill="#505050" d="M147.7,75.0h2.4v11.3h-2.4z"/>
<path fill="#4e4e4e" d="M150.1,75.0h2.4v11.3h-2.4z"/>
<path fill="#585858" d="M152.6,75.0h2.5v11.3h-2.5z"/>
<path fill="#4b4b4b" d="M155.0,75.0h2.5v11.3h-2.5z"/>
<path fill="#636363" d="M157.6,75.0h2.6v11.3h-2.6z"/>
<path fill="#646464" d="M160.1,75.0h2.6v11.3h-2.6z"/>
<path fill="#484848" d="M162.7,75.0h2.6v11.3h-2.6z"/>
<path fill="#535353" d="M165.3,75.0h2.7v11.3h-2.7z"/>
<path fill="#4b4b4b" d="M168.0,75.0h2.7v11.3h-2.7z"/>
<path fill="#454545" d="M170.7,75.0h2.7v11.3h-2.7z"/>
<path fill="#525252" d="M173.5,75.0h2.8v11.3h-2.8z"/>
<path fill="#676767" d="M176.2,75.0h2.8v11.3h-2.8z"/>
<path fill="#505050" d="M179.1,75.0h2.9v11.3h-2.9z"/>
<path fill="#585858" d="M181.9,75.0h2.9v11.3h-2.9z"/>
<path fill="#393939" d="M184.8,75.0h3.0v11.3h-3.0z"/>
<path fill="#4a4a4a" d="M187.8,75.0h3.0v11.3h-3.0z"/>
<path fill="#5d5d5d" d="M190.8,75.0h3.0v11.3h-3.0z"/>
<path fill="#535353" d="M193.8,75.0h3.1v11.3h-3.1z"/>
<path fill="#414141" d="M196.9,75.0h3.1v11.3h-3.1z"/>
<path fill="#424242" d="M200.0,75.0h3.2v11.3h-3.2z"/>
<path fill="#505050" d="M203.2,75.0h3.2v11.3h-3.2z"/>
<path fill="#464646" d="M206.4,75.0h3.3v11.3h-3.3z"/>
<path fill="#595959" d="M209.7,75.0h3.3v11.3h-3.3z"/>
<path fill="#373737" d="M213.0,75.0h3.4v11.3h-3.4z"/>
<path fill="#3c3c3c" d="M216.3,75.0h3.4v11.3h-3.4z"/>
<path fill="#5e5e5e" d="M219.8,75.0h3.5v11.3h-3.5z"/>
<path fill="#313131" d="M223.2,75.0h3.5v11.3h-3.5z"/>
<path fill="#646464" d="M226.7,75.0h3.6v11.3h-3.6z"/>
<path fill="#434343" d="M230.3,75.0h2.7v11.3h-2.7z"/>
<path fill="#5c5c5c" d="M233.0,75.0h5.5v11.3h-5.5z"/>
<path fill="#585858" d="M238.5,75.0h5.5v11.3h-5.5z"/>
<path fill="#585858" d="M244.1,75.0h5.5v11.3h-5.5z"/>
<path fill="#6a6a6a" d="M249.6,75.0h5.5v11.3h-5.5z"/>
<path fill="#6e6e6e" d="M255.2,75.0h5.5v11.3h-5.5z"/>
<path fill="#525252" d="M260.7,75.0h5.5v11.3h-5.5z"/>
<path fill="#535353" d="M266.2,75.0h5.5v11.3h-5.5z"/>
<path fill="#585858" d="M271.8,75.0h5.5v11.3h-5.5z"/>
<path fill="#4a4a4a" d="M277.3,75.0h5.5v11.3h-5.5z"/>
<path fill="#565656" d="M282.9,75.0h5.5v11.3h-5.5z"/>
<path fill="#4c4c4c" d="M288.4,75.0h5.5v11.3h-5.5z"/>
<path fill="#4f4f4f" d="M293.9,75.0h5.5v11.3h-5.5z"/>
<path fill="#464646" d="M299.5,75.0h5.5v11.3h-5.5z"/>
<path fill="#646464" d="M305.0,75.0h5.5v11.3h-5.5z"/>
<path fill="#474747" d="M310.6,75.0h5.5v11.3h-5.5z"/>
<path fill="#474747" d="M316.1,75.0h5.5v11.3h-5.5z"/>
<path fill="#555555" d="M321.6,75.0h5.5v11.3h-5.5z"/>
<path fill="#484848" d="M327.2,75.0h5.5v11.3h-5.5z"/>
<path fill="#545454" d="M332.7,75.0h5.5v11.3h-5.5z"/>
<path fill="#4e4e4e" d="M338.3,75.0h5.5v11.3h-5.5z"/>
<path fill="#4f4f4f" d="M343.8,75.0h5.5v11.3h-5.5z"/>
<path fill="#5c5c5c" d="M349.4,75.0h5.5v11.3h-5.5z"/>
<path fill="#646464" d="M354.9,75.0h5.5v11.3h-5.5z"/>
<path fill="#555555" d="M360.4,75.0h5.5v11.3h-5.5z"/>
<path fill="#505050" d="M366.0,75.0h5.5v11.3h-5.5z"/>
<path fill="#565656" d="M371.5,75.0h5.5v11.3h-5.5z"/>
<path fill="#535353" d="M377.1,75.0h5.5v11.3h-5.5z"/>
<path fill="#333333" d="M380.0,75.0h220.0v11.3h-220.0z"/>
<path fill="#595959" d="M380.8,75.0h14.4v11.3h-14.4z"/>
<path fill="#636363" d="M396.8,75.0h15.0v11.3h-15.0z"/>
<path fill="#606060" d="M413.4,75.0h14.8v11.3h-14.8z"/>
<path fill="#636363" d="M431.2,75.0h12.6v11.3h-12.6z"/>
<path fill="#636363" d="M448.2,75.0h13.1v11.3h-13.1z"/>
<path fill="#595959" d="M465.7,75.0h12.7v11.3h-12.7z"/>
<path fill="#434343" d="M482.8,75.0h11.6v11.3h-11.6z"/>
<path fill="#5c5c5c" d="M498.8,75.0h12.7v11.3h-12.7z"/>
<path fill="#5c5c5c" d="M515.9,75.0h12.9v11.3h-12.9z"/>
<path fill="#393939" d="M533.2,75.0h12.2v11.3h-12.2z"/>
<path fill="#505050" d="M549.8,75.0h12.0v11.3h-12.0z"/>
<path fill="#4d4d4d" d="M566.2,75.0h14.3v11.3h-14.3z"/>
<path fill="#434343" d="M584.9,75.0h12.9v11.3h-12.9z"/>
<path fill="#434343" d="M483.6,80.0h10.0v12.0h-10.0z"/>
<path fill="#666666" d="M258.0,87.5h10.0v9.5h-10.0z"/>
<path fill="#636363" d="M346.0,87.5h8.0v9.5h-8.0z"/>
<path fill="#1d1d1d" d="M364.0,87.5h7.0v9.5h-7.0z"/>
<path fill="#2d2d2d" d="M378.0,87.5h14.0v9.5h-14.0z"/>
<path fill="#313131" d="M446.5,87.5h13.0v9.5h-13.0z"/>
<path fill="#2e2e2e" d="M463.5,87.5h12.0v9.5h-12.0z"/>
<path fill="#353535" d="M515.5,87.5h13.0v9.5h-13.0z"/>
<path fill="#3e3e3e" d="M532.5,87.5h14.0v9.5h-14.0z"/>
<path fill="#2e2e2e" d="M549.5,87.5h13.0v9.5h-13.0z"/>
<path fill="#383838" d="M566.5,87.5h13.0v9.5h-13.0z"/>
<path fill="#2b2b2b" d="M583.5,87.5h13.0v9.5h-13.0z"/>
<path fill="#3f3f3f" d="M80.4,86.3h1.4v11.2h-1.4z"/>
<path fill="#3b3b3b" d="M83.3,86.3h1.5v11.2h-1.5z"/>
<path fill="#454545" d="M84.8,86.3h1.5v11.2h-1.5z"/>
<path fill="#636363" d="M86.3,86.3h1.5v11.2h-1.5z"/>
<path fill="#3f3f3f" d="M89.4,86.3h1.6v11.2h-1.6z"/>
<path fill="#3c3c3c" d="M92.5,86.3h1.6v11.2h-1.6z"/>
<path fill="#565656" d="M94.1,86.3h1.6v11.2h-1.6z"/>
<path fill="#494949" d="M97.4,86.3h1.7v11.2h-1.7z"/>
<path fill="#343434" d="M99.1,86.3h1.7v11.2h-1.7z"/>
<path fill="#3e3e3e" d="M102.5,86.3h1.8v11.2h-1.8z"/>
<path fill="#383838" d="M104.3,86.3h1.8v11.2h-1.8z"/>
<path fill="#2f2f2f" d="M109.7,86.3h1.9v11.2h-1.9z"/>
<path fill="#565656" d="M111.6,86.3h1.9v11.2h-1.9z"/>
<path fill="#4a4a4a" d="M113.5,86.3h1.9v11.2h-1.9z"/>
<path fill="#292929" d="M119.3,86.3h2.0v11.2h-2.0z"/>
<path fill="#434343" d="M123.3,86.3h2.1v11.2h-2.1z"/>
<path fill="#505050" d="M127.5,86.3h2.1v11.2h-2.1z"/>
<path fill="#383838" d="M129.6,86.3h2.1v11.2h-2.1z"/>
<path fill="#535353" d="M131.7,86.3h2.2v11.2h-2.2z"/>
<path fill="#434343" d="M133.9,86.3h2.2v11.2h-2.2z"/>
<path fill="#3c3c3c" d="M136.1,86.3h2.2v11.2h-2.2z"/>
<path fill="#535353" d="M138.4,86.3h2.3v11.2h-2.3z"/>
<path fill="#353535" d="M140.7,86.3h2.3v11.2h-2.3z"/>
<path fill="#292929" d="M143.0,86.3h2.3v11.2h-2.3z"/>
<path fill="#515151" d="M147.7,86.3h2.4v11.2h-2.4z"/>
<path fill="#606060" d="M150.1,86.3h2.4v11.2h-2.4z"/>
<path fill="#525252" d="M155.0,86.3h2.5v11.2h-2.5z"/>
<path fill="#464646" d="M157.6,86.3h2.6v11.2h-2.6z"/>
<path fill="#3c3c3c" d="M160.1,86.3h2.6v11.2h-2.6z"/>
<path fill="#4d4d4d" d="M162.7,86.3h2.6v11.2h-2.6z"/>
<path fill="#646464" d="M165.3,86.3h2.7v11.2h-2.7z"/>
<path fill="#484848" d="M173.5,86.3h2.8v11.2h-2.8z"/>
<path fill="#2d2d2d" d="M179.1,86.3h2.9v11.2h-2.9z"/>
<path fill="#2e2e2e" d="M187.8,86.3h3.0v11.2h-3.0z"/>
<path fill="#4f4f4f" d="M193.8,86.3h3.1v11.2h-3.1z"/>
<path fill="#555555" d="M196.9,86.3h3.1v11.2h-3.1z"/>
<path fill="#3e3e3e" d="M209.7,86.3h3.3v11.2h-3.3z"/>
<path fill="#424242" d="M213.0,86.3h3.4v11.2h-3.4z"/>
<path fill="#444444" d="M216.3,86.3h3.4v11.2h-3.4z"/>
<path fill="#404040" d="M219.8,86.3h3.5v11.2h-3.5z"/>
<path fill="#494949" d="M223.2,86.3h3.5v11.2h-3.5z"/>
<path fill="#494949" d="M230.3,86.3h2.7v11.2h-2.7z"/>
<path fill="#484848" d="M233.0,86.3h5.5v11.2h-5.5z"/>
<path fill="#626262" d="M79.0,136.0h1.4v15.0h-1.4z"/>
<path fill="#505050" d="M80.4,136.0h1.4v15.0h-1.4z"/>
<path fill="#6a6a6a" d="M81.9,136.0h1.5v15.0h-1.5z"/>
<path fill="#5f5f5f" d="M83.3,136.0h1.5v15.0h-1.5z"/>
<path fill="#606060" d="M84.8,136.0h1.5v15.0h-1.5z"/>
<path fill="#5f5f5f" d="M86.3,136.0h1.5v15.0h-1.5z"/>
<path fill="#727272" d="M87.8,136.0h1.5v15.0h-1.5z"/>
<path fill="#555555" d="M89.4,136.0h1.6v15.0h-1.6z"/>
<path fill="#717171" d="M90.9,136.0h1.6v15.0h-1.6z"/>
<path fill="#808080" d="M92.5,136.0h1.6v15.0h-1.6z"/>
<path fill="#5e5e5e" d="M94.1,136.0h1.6v15.0h-1.6z"/>
<path fill="#565656" d="M95.8,136.0h1.7v15.0h-1.7z"/>
<path fill="#474747" d="M97.4,136.0h1.7v15.0h-1.7z"/>
<path fill="#626262" d="M99.1,136.0h1.7v15.0h-1.7z"/>
<path fill="#5e5e5e" d="M100.8,136.0h1.7v15.0h-1.7z"/>
<path fill="#4e4e4e" d="M102.5,136.0h1.8v15.0h-1.8z"/>
<path fill="#535353" d="M104.3,136.0h1.8v15.0h-1.8z"/>
<path fill="#434343" d="M106.1,136.0h1.8v15.0h-1.8z"/>
<path fill="#656565" d="M107.9,136.0h1.8v15.0h-1.8z"/>
<path fill="#494949" d="M109.7,136.0h1.9v15.0h-1.9z"/>
<path fill="#595959" d="M111.6,136.0h1.9v15.0h-1.9z"/>
<path fill="#616161" d="M113.5,136.0h1.9v15.0h-1.9z"/>
<path fill="#686868" d="M115.4,136.0h1.9v15.0h-1.9z"/>
<path fill="#5d5d5d" d="M117.3,136.0h2.0v15.0h-2.0z"/>
<path fill="#575757" d="M119.3,136.0h2.0v15.0h-2.0z"/>
<path fill="#616161" d="M121.3,136.0h2.0v15.0h-2.0z"/>
<path fill="#545454" d="M123.3,136.0h2.1v15.0h-2.1z"/>
<path fill="#474747" d="M125.4,136.0h2.1v15.0h-2.1z"/>
<path fill="#515151" d="M127.5,136.0h2.1v15.0h-2.1z"/>
<path fill="#575757" d="M129.6,136.0h2.1v15.0h-2.1z"/>
<path fill="#4b4b4b" d="M131.7,136.0h2.2v15.0h-2.2z"/>
<path fill="#2e2e2e" d="M133.9,136.0h2.2v15.0h-2.2z"/>
<path fill="#3e3e3e" d="M136.1,136.0h2.2v15.0h-2.2z"/>
<path fill="#373737" d="M138.4,136.0h2.3v15.0h-2.3z"/>
<path fill="#414141" d="M140.7,136.0h2.3v15.0h-2.3z"/>
<path fill="#4a4a4a" d="M143.0,136.0h2.3v15.0h-2.3z"/>
<path fill="#535353" d="M145.3,136.0h2.4v15.0h-2.4z"/>
<path fill="#232323" d="M147.7,136.0h2.4v15.0h-2.4z"/>
<path fill="#525252" d="M150.1,136.0h2.4v15.0h-2.4z"/>
<path fill="#474747" d="M152.6,136.0h2.5v15.0h-2.5z"/>
<path fill="#4c4c4c" d="M155.0,136.0h2.5v15.0h-2.5z"/>
<path fill="#262626" d="M157.6,136.0h2.6v15.0h-2.6z"/>
<path fill="#2c2c2c" d="M160.1,136.0h2.6v15.0h-2.6z"/>
<path fill="#575757" d="M162.7,136.0h2.6v15.0h-2.6z"/>
<path fill="#525252" d="M165.3,136.0h2.7v15.0h-2.7z"/>
<path fill="#5f5f5f" d="M168.0,136.0h2.7v15.0h-2.7z"/>
<path fill="#555555" d="M170.7,136.0h2.7v15.0h-2.7z"/>
<path fill="#424242" d="M173.5,136.0h2.8v15.0h-2.8z"/>
<path fill="#383838" d="M176.2,136.0h2.8v15.0h-2.8z"/>
<path fill="#545454" d="M179.1,136.0h2.9v15.0h-2.9z"/>
<path fill="#0e0e0e" d="M181.9,136.0h2.9v15.0h-2.9z"/>
<path fill="#515151" d="M184.8,136.0h3.0v15.0h-3.0z"/>
<path fill="#525252" d="M187.8,136.0h3.0v15.0h-3.0z"/>
<path fill="#4e4e4e" d="M190.8,136.0h3.0v15.0h-3.0z"/>
<path fill="#4f4f4f" d="M193.8,136.0h3.1v15.0h-3.1z"/>
<path fill="#383838" d="M196.9,136.0h3.1v15.0h-3.1z"/>
<path fill="#212121" d="M200.0,136.0h3.2v15.0h-3.2z"/>
<path fill="#2e2e2e" d="M203.2,136.0h3.2v15.0h-3.2z"/>
<path fill="#202020" d="M206.4,136.0h3.3v15.0h-3.3z"/>
<path fill="#5c5c5c" d="M79.0,208.0h1.4v14.0h-1.4z"/>
<path fill="#727272" d="M80.4,208.0h1.4v14.0h-1.4z"/>
<path fill="#7b7b7b" d="M81.9,208.0h1.5v14.0h-1.5z"/>
<path fill="#5e5e5e" d="M83.3,208.0h1.5v14.0h-1.5z"/>
<path fill="#6f6f6f" d="M84.8,208.0h1.5v14.0h-1.5z"/>
<path fill="#5d5d5d" d="M86.3,208.0h1.5v14.0h-1.5z"/>
<path fill="#696969" d="M87.8,208.0h1.5v14.0h-1.5z"/>
<path fill="#373737" d="M89.4,208.0h1.6v14.0h-1.6z"/>
<path fill="#5b5b5b" d="M90.9,208.0h1.6v14.0h-1.6z"/>
<path fill="#787878" d="M92.5,208.0h1.6v14.0h-1.6z"/>
<path fill="#707070" d="M94.1,208.0h1.6v14.0h-1.6z"/>
<path fill="#6f6f6f" d="M95.8,208.0h1.7v14.0h-1.7z"/>
<path fill="#8f8f8f" d="M97.4,208.0h1.7v14.0h-1.7z"/>
<path fill="#616161" d="M99.1,208.0h1.7v14.0h-1.7z"/>
<path fill="#585858" d="M100.8,208.0h1.7v14.0h-1.7z"/>
<path fill="#343434" d="M102.5,208.0h1.8v14.0h-1.8z"/>
<path fill="#575757" d="M104.3,208.0h1.8v14.0h-1.8z"/>
<path fill="#515151" d="M106.1,208.0h1.8v14.0h-1.8z"/>
<path fill="#797979" d="M107.9,208.0h1.8v14.0h-1.8z"/>
<path fill="#606060" d="M109.7,208.0h1.9v14.0h-1.9z"/>
<path fill="#535353" d="M111.6,208.0h1.9v14.0h-1.9z"/>
<path fill="#656565" d="M113.5,208.0h1.9v14.0h-1.9z"/>
<path fill="#696969" d="M115.4,208.0h1.9v14.0h-1.9z"/>
<path fill="#646464" d="M117.3,208.0h2.0v14.0h-2.0z"/>
<path fill="#757575" d="M119.3,208.0h2.0v14.0h-2.0z"/>
<path fill="#636363" d="M121.3,208.0h2.0v14.0h-2.0z"/>
<path fill="#656565" d="M123.3,208.0h2.1v14.0h-2.1z"/>
<path fill="#616161" d="M125.4,208.0h2.1v14.0h-2.1z"/>
<path fill="#5c5c5c" d="M127.5,208.0h2.1v14.0h-2.1z"/>
<path fill="#666666" d="M129.6,208.0h2.1v14.0h-2.1z"/>
<path fill="#3e3e3e" d="M131.7,208.0h2.2v14.0h-2.2z"/>
<path fill="#363636" d="M133.9,208.0h2.2v14.0h-2.2z"/>
<path fill="#212121" d="M136.1,208.0h2.2v14.0h-2.2z"/>
<path fill="#2a2a2a" d="M138.4,208.0h2.3v14.0h-2.3z"/>
<path fill="#4f4f4f" d="M140.7,208.0h2.3v14.0h-2.3z"/>
<path fill="#505050" d="M143.0,208.0h2.3v14.0h-2.3z"/>
<path fill="#656565" d="M145.3,208.0h2.4v14.0h-2.4z"/>
<path fill="#555555" d="M147.7,208.0h2.4v14.0h-2.4z"/>
<path fill="#444444" d="M150.1,208.0h2.4v14.0h-2.4z"/>
<path fill="#6d6d6d" d="M152.6,208.0h2.5v14.0h-2.5z"/>
<path fill="#676767" d="M155.0,208.0h2.5v14.0h-2.5z"/>
<path fill="#595959" d="M157.6,208.0h2.6v14.0h-2.6z"/>
<path fill="#494949" d="M160.1,208.0h2.6v14.0h-2.6z"/>
<path fill="#686868" d="M162.7,208.0h2.6v14.0h-2.6z"/>
<path fill="#5f5f5f" d="M165.3,208.0h2.7v14.0h-2.7z"/>
<path fill="#575757" d="M168.0,208.0h2.7v14.0h-2.7z"/>
<path fill="#323232" d="M170.7,208.0h2.7v14.0h-2.7z"/>
<path fill="#3d3d3d" d="M173.5,208.0h2.8v14.0h-2.8z"/>
<path fill="#474747" d="M176.2,208.0h2.8v14.0h-2.8z"/>
<path fill="#363636" d="M179.1,208.0h2.9v14.0h-2.9z"/>
<path fill="#333333" d="M181.9,208.0h2.9v14.0h-2.9z"/>
<path fill="#454545" d="M184.8,208.0h3.0v14.0h-3.0z"/>
<path fill="#3a3a3a" d="M190.8,208.0h3.0v14.0h-3.0z"/>
<path fill="#404040" d="M193.8,208.0h3.1v14.0h-3.1z"/>
<path fill="#373737" d="M196.9,208.0h3.1v14.0h-3.1z"/>
<path fill="#2f2f2f" d="M203.2,208.0h3.2v14.0h-3.2z"/>
<path fill="#303030" d="M209.7,208.0h3.3v14.0h-3.3z"/>
<path fill="#3b3b3b" d="M213.0,208.0h3.4v14.0h-3.4z"/>
<path fill="#313131" d="M216.3,208.0h3.4v14.0h-3.4z"/>
<path fill="#161616" d="M223.2,208.0h3.5v14.0h-3.5z"/>
<path fill="#2f2f2f" d="M226.7,208.0h3.6v14.0h-3.6z"/>
<path fill="#1d1d1d" d="M233.0,208.0h5.5v14.0h-5.5z"/>
<path fill="#575757" d="M79.0,286.0h1.4v13.0h-1.4z"/>
<path fill="#5c5c5c" d="M80.4,286.0h1.4v13.0h-1.4z"/>
<path fill="#5e5e5e" d="M81.9,286.0h1.5v13.0h-1.5z"/>
<path fill="#525252" d="M83.3,286.0h1.5v13.0h-1.5z"/>
<path fill="#585858" d="M84.8,286.0h1.5v13.0h-1.5z"/>
<path fill="#4f4f4f" d="M86.3,286.0h1.5v13.0h-1.5z"/>
<path fill="#525252" d="M87.8,286.0h1.5v13.0h-1.5z"/>
<path fill="#474747" d="M89.4,286.0h1.6v13.0h-1.6z"/>
<path fill="#4c4c4c" d="M90.9,286.0h1.6v13.0h-1.6z"/>
<path fill="#494949" d="M92.5,286.0h1.6v13.0h-1.6z"/>
<path fill="#545454" d="M94.1,286.0h1.6v13.0h-1.6z"/>
<path fill="#6a6a6a" d="M95.8,286.0h1.7v13.0h-1.7z"/>
<path fill="#636363" d="M97.4,286.0h1.7v13.0h-1.7z"/>
<path fill="#505050" d="M99.1,286.0h1.7v13.0h-1.7z"/>
<path fill="#464646" d="M100.8,286.0h1.7v13.0h-1.7z"/>
<path fill="#464646" d="M102.5,286.0h1.8v13.0h-1.8z"/>
<path fill="#4c4c4c" d="M104.3,286.0h1.8v13.0h-1.8z"/>
<path fill="#737373" d="M106.1,286.0h1.8v13.0h-1.8z"/>
<path fill="#565656" d="M107.9,286.0h1.8v13.0h-1.8z"/>
<path fill="#444444" d="M109.7,286.0h1.9v13.0h-1.9z"/>
<path fill="#606060" d="M111.6,286.0h1.9v13.0h-1.9z"/>
<path fill="#525252" d="M113.5,286.0h1.9v13.0h-1.9z"/>
<path fill="#727272" d="M115.4,286.0h1.9v13.0h-1.9z"/>
<path fill="#666666" d="M117.3,286.0h2.0v13.0h-2.0z"/>
<path fill="#656565" d="M119.3,286.0h2.0v13.0h-2.0z"/>
<path fill="#616161" d="M121.3,286.0h2.0v13.0h-2.0z"/>
<path fill="#5d5d5d" d="M123.3,286.0h2.1v13.0h-2.1z"/>
<path fill="#474747" d="M125.4,286.0h2.1v13.0h-2.1z"/>
<path fill="#373737" d="M129.6,286.0h2.1v13.0h-2.1z"/>
<path fill="#363636" d="M131.7,286.0h2.2v13.0h-2.2z"/>
<path fill="#343434" d="M140.7,286.0h2.3v13.0h-2.3z"/>
<path fill="#2d2d2d" d="M152.6,286.0h2.5v13.0h-2.5z"/>
<path fill="#282828" d="M157.6,286.0h2.6v13.0h-2.6z"/>
<path fill="#282828" d="M160.1,286.0h2.6v13.0h-2.6z"/>
<path fill="#292929" d="M165.3,286.0h2.7v13.0h-2.7z"/>
<path fill="#303030" d="M168.0,286.0h2.7v13.0h-2.7z"/>
<path fill="#323232" d="M176.2,286.0h2.8v13.0h-2.8z"/>
<path fill="#101010" d="M179.1,286.0h2.9v13.0h-2.9z"/>
<path fill="#1f1f1f" d="M184.8,286.0h3.0v13.0h-3.0z"/>
<path fill="#313131" d="M190.8,286.0h3.0v13.0h-3.0z"/>
<path fill="#0d0d0d" d="M209.7,286.0h3.3v13.0h-3.3z"/>
<path fill="#242424" d="M213.0,286.0h3.4v13.0h-3.4z"/>
<path fill="#202020" d="M219.8,286.0h3.5v13.0h-3.5z"/>
<path fill="#222222" d="M223.2,286.0h3.5v13.0h-3.5z"/>
<path fill="#303030" d="M226.7,286.0h3.6v13.0h-3.6z"/>
<path fill="#585858" d="M79.0,362.0h1.4v10.0h-1.4z"/>
<path fill="#696969" d="M80.4,362.0h1.4v10.0h-1.4z"/>
<path fill="#707070" d="M81.9,362.0h1.5v10.0h-1.5z"/>
<path fill="#777777" d="M83.3,362.0h1.5v10.0h-1.5z"/>
<path fill="#797979" d="M84.8,362.0h1.5v10.0h-1.5z"/>
<path fill="#6d6d6d" d="M86.3,362.0h1.5v10.0h-1.5z"/>
<path fill="#515151" d="M87.8,362.0h1.5v10.0h-1.5z"/>
<path fill="#6c6c6c" d="M89.4,362.0h1.6v10.0h-1.6z"/>
<path fill="#656565" d="M90.9,362.0h1.6v10.0h-1.6z"/>
<path fill="#505050" d="M92.5,362.0h1.6v10.0h-1.6z"/>
<path fill="#585858" d="M94.1,362.0h1.6v10.0h-1.6z"/>
<path fill="#4b4b4b" d="M99.1,362.0h1.7v10.0h-1.7z"/>
<path fill="#454545" d="M100.8,362.0h1.7v10.0h-1.7z"/>
<path fill="#383838" d="M102.5,362.0h1.8v10.0h-1.8z"/>
<path fill="#3f3f3f" d="M106.1,362.0h1.8v10.0h-1.8z"/>
<path fill="#424242" d="M109.7,362.0h1.9v10.0h-1.9z"/>
<path fill="#434343" d="M113.5,362.0h1.9v10.0h-1.9z"/>
<path fill="#2b2b2b" d="M115.4,362.0h1.9v10.0h-1.9z"/>
<path fill="#242424" d="M121.3,362.0h2.0v10.0h-2.0z"/>
<path fill="#272727" d="M125.4,362.0h2.1v10.0h-2.1z"/>
<path fill="#545454" d="M79.0,432.0h1.4v14.0h-1.4z"/>
<path fill="#7d7d7d" d="M80.4,432.0h1.4v14.0h-1.4z"/>
<path fill="#6e6e6e" d="M81.9,432.0h1.5v14.0h-1.5z"/>
<path fill="#6e6e6e" d="M83.3,432.0h1.5v14.0h-1.5z"/>
<path fill="#7e7e7e" d="M84.8,432.0h1.5v14.0h-1.5z"/>
<path fill="#696969" d="M86.3,432.0h1.5v14.0h-1.5z"/>
<path fill="#656565" d="M87.8,432.0h1.5v14.0h-1.5z"/>
<path fill="#5a5a5a" d="M89.4,432.0h1.6v14.0h-1.6z"/>
<path fill="#5f5f5f" d="M90.9,432.0h1.6v14.0h-1.6z"/>
<path fill="#444444" d="M92.5,432.0h1.6v14.0h-1.6z"/>
<path fill="#3e3e3e" d="M94.1,432.0h1.6v14.0h-1.6z"/>
<path fill="#363636" d="M95.8,432.0h1.7v14.0h-1.7z"/>
<path fill="#434343" d="M97.4,432.0h1.7v14.0h-1.7z"/>
<path fill="#4c4c4c" d="M100.8,432.0h1.7v14.0h-1.7z"/>
<path fill="#3d3d3d" d="M107.9,432.0h1.8v14.0h-1.8z"/>
<path fill="#323232" d="M111.6,432.0h1.9v14.0h-1.9z"/>
<path fill="#353535" d="M113.5,432.0h1.9v14.0h-1.9z"/>
<path fill="#393939" d="M121.3,432.0h2.0v14.0h-2.0z"/>
<path fill="#1f1f1f" d="M125.4,432.0h2.1v14.0h-2.1z"/>
<path fill="#5c5c5c" d="M119.5,363.0h8.0v8.0h-8.0z"/>
<path fill="#4e4e4e" d="M90.9,363.0h1.6v8.0h-1.6z"/>
<path fill="#545454" d="M92.5,363.0h1.6v8.0h-1.6z"/>
<path fill="#4b4b4b" d="M94.1,363.0h1.6v8.0h-1.6z"/>
<path fill="#3b3b3b" d="M95.8,363.0h1.7v8.0h-1.7z"/>
<path fill="#4f4f4f" d="M97.4,363.0h1.7v8.0h-1.7z"/>
<path fill="#3b3b3b" d="M99.1,363.0h1.7v8.0h-1.7z"/>
<path fill="#424242" d="M102.5,363.0h1.8v8.0h-1.8z"/>
<path fill="#3f3f3f" d="M104.3,363.0h1.8v8.0h-1.8z"/>
<path fill="#454545" d="M107.9,363.0h1.8v8.0h-1.8z"/>
<path fill="#3e3e3e" d="M109.7,363.0h1.9v8.0h-1.9z"/>
<path fill="#323232" d="M111.6,363.0h1.9v8.0h-1.9z"/>
<path fill="#343434" d="M113.5,363.0h1.9v8.0h-1.9z"/>
<path fill="#575757" d="M115.4,363.0h1.9v8.0h-1.9z"/>
<path fill="#2d2d2d" d="M117.3,363.0h2.0v8.0h-2.0z"/>
<path fill="#5c5c5c" d="M119.5,433.0h8.0v12.0h-8.0z"/>
<path fill="#4a4a4a" d="M90.9,433.0h1.6v12.0h-1.6z"/>
<path fill="#3c3c3c" d="M92.5,433.0h1.6v12.0h-1.6z"/>
<path fill="#4c4c4c" d="M95.8,433.0h1.7v12.0h-1.7z"/>
<path fill="#656565" d="M99.1,433.0h1.7v12.0h-1.7z"/>
<path fill="#454545" d="M100.8,433.0h1.7v12.0h-1.7z"/>
<path fill="#4a4a4a" d="M106.1,433.0h1.8v12.0h-1.8z"/>
<path fill="#2f2f2f" d="M107.9,433.0h1.8v12.0h-1.8z"/>
<path fill="#4d4d4d" d="M109.7,433.0h1.9v12.0h-1.9z"/>
<path fill="#424242" d="M111.6,433.0h1.9v12.0h-1.9z"/>
<path fill="#333333" d="M115.4,433.0h1.9v12.0h-1.9z"/>
<path fill="#525252" d="M117.3,433.0h2.0v12.0h-2.0z"/>
<path fill="#6e6e6e" d="M79.0,137.0h5.5v13.0h-5.5z"/>
<path fill="#747474" d="M79.0,209.0h5.5v12.0h-5.5z"/>
<path fill="#6b6b6b" d="M79.0,287.0h5.5v11.0h-5.5z"/>
<path fill="#7b7b7b" d="M79.0,363.0h5.5v8.0h-5.5z"/>
<path fill="#7b7b7b" d="M79.0,433.0h5.5v12.0h-5.5z"/>
<path fill="#919191" d="M86.7,75.0h3.0v5.4h-3.0z"/>
<path fill="#8d8d8d" d="M86.7,80.4h3.0v5.4h-3.0z"/>
<path fill="#818181" d="M86.7,85.9h3.0v5.4h-3.0z"/>
<path fill="#898989" d="M86.7,91.3h3.0v5.4h-3.0z"/>
<path fill="#838383" d="M86.7,96.8h3.0v5.4h-3.0z"/>
<path fill="#7d7d7d" d="M86.7,102.2h3.0v5.4h-3.0z"/>
<path fill="#7f7f7f" d="M86.7,107.6h3.0v5.4h-3.0z"/>
<path fill="#818181" d="M86.7,113.1h3.0v5.4h-3.0z"/>
<path fill="#818181" d="M86.7,118.5h3.0v5.4h-3.0z"/>
<path fill="#848484" d="M86.7,123.9h3.0v5.4h-3.0z"/>
<path fill="#7a7a7a" d="M86.7,129.4h3.0v5.4h-3.0z"/>
<path fill="#767676" d="M86.7,134.8h3.0v5.4h-3.0z"/>
<path fill="#7e7e7e" d="M86.7,140.2h3.0v5.4h-3.0z"/>
<path fill="#8b8b8b" d="M86.7,145.7h3.0v5.4h-3.0z"/>
<path fill="#848484" d="M86.7,151.1h3.0v5.4h-3.0z"/>
<path fill="#878787" d="M86.7,156.6h3.0v5.4h-3.0z"/>
<path fill="#808080" d="M86.7,162.0h3.0v5.4h-3.0z"/>
<path fill="#7f7f7f" d="M86.7,167.4h3.0v5.4h-3.0z"/>
<path fill="#838383" d="M86.7,172.9h3.0v5.4h-3.0z"/>
<path fill="#868686" d="M86.7,178.3h3.0v5.4h-3.0z"/>
<path fill="#878787" d="M86.7,183.8h3.0v5.4h-3.0z"/>
<path fill="#929292" d="M86.7,189.2h3.0v5.4h-3.0z"/>
<path fill="#8d8d8d" d="M86.7,194.6h3.0v5.4h-3.0z"/>
<path fill="#898989" d="M86.7,200.1h3.0v5.4h-3.0z"/>
<path fill="#787878" d="M86.7,205.5h3.0v5.4h-3.0z"/>
<path fill="#828282" d="M86.7,210.9h3.0v5.4h-3.0z"/>
<path fill="#838383" d="M86.7,216.4h3.0v5.4h-3.0z"/>
<path fill="#7c7c7c" d="M86.7,221.8h3.0v5.4h-3.0z"/>
<path fill="#868686" d="M86.7,227.2h3.0v5.4h-3.0z"/>
<path fill="#818181" d="M86.7,232.7h3.0v5.4h-3.0z"/>
<path fill="#838383" d="M86.7,238.1h3.0v5.4h-3.0z"/>
<path fill="#858585" d="M86.7,243.6h3.0v5.4h-3.0z"/>
<path fill="#7f7f7f" d="M86.7,249.0h3.0v5.4h-3.0z"/>
<path fill="#878787" d="M86.7,254.4h3.0v5.4h-3.0z"/>
<path fill="#808080" d="M86.7,259.9h3.0v5.4h-3.0z"/>
<path fill="#848484" d="M86.7,265.3h3.0v5.4h-3.0z"/>
<path fill="#868686" d="M86.7,270.8h3.0v5.4h-3.0z"/>
<path fill="#949494" d="M86.7,276.2h3.0v5.4h-3.0z"/>
<path fill="#7b7b7b" d="M86.7,281.6h3.0v5.4h-3.0z"/>
<path fill="#8f8f8f" d="M86.7,287.1h3.0v5.4h-3.0z"/>
<path fill="#858585" d="M86.7,292.5h3.0v5.4h-3.0z"/>
<path fill="#7e7e7e" d="M86.7,297.9h3.0v5.4h-3.0z"/>
<path fill="#828282" d="M86.7,303.4h3.0v5.4h-3.0z"/>
<path fill="#7f7f7f" d="M86.7,308.8h3.0v5.4h-3.0z"/>
<path fill="#8a8a8a" d="M86.7,314.2h3.0v5.4h-3.0z"/>
<path fill="#898989" d="M86.7,319.7h3.0v5.4h-3.0z"/>
<path fill="#898989" d="M86.7,325.1h3.0v5.4h-3.0z"/>
<path fill="#8a8a8a" d="M86.7,330.6h3.0v5.4h-3.0z"/>
<path fill="#7d7d7d" d="M86.7,336.0h3.0v5.4h-3.0z"/>
<path fill="#787878" d="M86.7,341.4h3.0v5.4h-3.0z"/>
<path fill="#888888" d="M86.7,346.9h3.0v5.4h-3.0z"/>
<path fill="#828282" d="M86.7,352.3h3.0v5.4h-3.0z"/>
<path fill="#7e7e7e" d="M86.7,357.8h3.0v5.4h-3.0z"/>
<path fill="#8c8c8c" d="M86.7,363.2h3.0v5.4h-3.0z"/>
<path fill="#929292" d="M86.7,368.6h3.0v5.4h-3.0z"/>
<path fill="#8e8e8e" d="M86.7,374.1h3.0v5.4h-3.0z"/>
<path fill="#828282" d="M86.7,379.5h3.0v5.4h-3.0z"/>
<path fill="#939393" d="M86.7,384.9h3.0v5.4h-3.0z"/>
<path fill="#909090" d="M86.7,390.4h3.0v5.4h-3.0z"/>
<path fill="#7c7c7c" d="M86.7,395.8h3.0v5.4h-3.0z"/>
<path fill="#878787" d="M86.7,401.2h3.0v5.4h-3.0z"/>
<path fill="#848484" d="M86.7,406.7h3.0v5.4h-3.0z"/>
<path fill="#7c7c7c" d="M86.7,412.1h3.0v5.4h-3.0z"/>
<path fill="#878787" d="M86.7,417.6h3.0v5.4h-3.0z"/>
<path fill="#878787" d="M86.7,423.0h3.0v5.4h-3.0z"/>
<path fill="#797979" d="M86.7,428.4h3.0v5.4h-3.0z"/>
<path fill="#6f6f6f" d="M86.7,433.9h3.0v5.4h-3.0z"/>
<path fill="#7d7d7d" d="M86.7,439.3h3.0v5.4h-3.0z"/>
<path fill="#7f7f7f" d="M86.7,444.8h3.0v5.4h-3.0z"/>
<path fill="#7c7c7c" d="M86.7,450.2h3.0v5.4h-3.0z"/>
<path fill="#818181" d="M86.7,455.6h3.0v5.4h-3.0z"/>
<path fill="#8d8d8d" d="M86.7,461.1h3.0v5.4h-3.0z"/>
<path fill="#868686" d="M86.7,466.5h3.0v5.4h-3.0z"/>
<path fill="#7d7d7d" d="M86.7,471.9h3.0v5.4h-3.0z"/>
<path fill="#797979" d="M86.7,477.4h3.0v5.4h-3.0z"/>
<path fill="#7f7f7f" d="M86.7,482.8h3.0v5.4h-3.0z"/>
<path fill="#7e7e7e" d="M86.7,488.2h3.0v5.4h-3.0z"/>
<path fill="#828282" d="M86.7,493.7h3.0v5.4h-3.0z"/>
<path fill="#8a8a8a" d="M86.7,499.1h3.0v5.4h-3.0z"/>
<path fill="#797979" d="M86.7,504.6h3.0v5.4h-3.0z"/>
<path fill="#6a6a6a" d="M104.3,75.0h3.2v5.4h-3.2z"/>
<path fill="#717171" d="M104.3,80.4h3.2v5.4h-3.2z"/>
<path fill="#6b6b6b" d="M104.3,85.9h3.2v5.4h-3.2z"/>
<path fill="#6a6a6a" d="M104.3,91.3h3.2v5.4h-3.2z"/>
<path fill="#626262" d="M104.3,96.8h3.2v5.4h-3.2z"/>
<path fill="#656565" d="M104.3,102.2h3.2v5.4h-3.2z"/>
<path fill="#757575" d="M104.3,107.6h3.2v5.4h-3.2z"/>
<path fill="#6a6a6a" d="M104.3,113.1h3.2v5.4h-3.2z"/>
<path fill="#6c6c6c" d="M104.3,118.5h3.2v5.4h-3.2z"/>
<path fill="#676767" d="M104.3,123.9h3.2v5.4h-3.2z"/>
<path fill="#5c5c5c" d="M104.3,129.4h3.2v5.4h-3.2z"/>
<path fill="#696969" d="M104.3,134.8h3.2v5.4h-3.2z"/>
<path fill="#6a6a6a" d="M104.3,140.2h3.2v5.4h-3.2z"/>
<path fill="#656565" d="M104.3,145.7h3.2v5.4h-3.2z"/>
<path fill="#737373" d="M104.3,151.1h3.2v5.4h-3.2z"/>
<path fill="#6f6f6f" d="M104.3,156.6h3.2v5.4h-3.2z"/>
<path fill="#5f5f5f" d="M104.3,162.0h3.2v5.4h-3.2z"/>
<path fill="#676767" d="M104.3,167.4h3.2v5.4h-3.2z"/>
<path fill="#616161" d="M104.3,172.9h3.2v5.4h-3.2z"/>
<path fill="#686868" d="M104.3,178.3h3.2v5.4h-3.2z"/>
<path fill="#565656" d="M104.3,183.8h3.2v5.4h-3.2z"/>
<path fill="#6b6b6b" d="M104.3,189.2h3.2v5.4h-3.2z"/>
<path fill="#6a6a6a" d="M104.3,194.6h3.2v5.4h-3.2z"/>
<path fill="#626262" d="M104.3,200.1h3.2v5.4h-3.2z"/>
<path fill="#747474" d="M104.3,205.5h3.2v5.4h-3.2z"/>
<path fill="#6d6d6d" d="M104.3,210.9h3.2v5.4h-3.2z"/>
<path fill="#696969" d="M104.3,216.4h3.2v5.4h-3.2z"/>
<path fill="#6a6a6a" d="M104.3,221.8h3.2v5.4h-3.2z"/>
<path fill="#686868" d="M104.3,227.2h3.2v5.4h-3.2z"/>
<path fill="#656565" d="M104.3,232.7h3.2v5.4h-3.2z"/>
<path fill="#666666" d="M104.3,238.1h3.2v5.4h-3.2z"/>
<path fill="#6d6d6d" d="M104.3,243.6h3.2v5.4h-3.2z"/>
<path fill="#626262" d="M104.3,249.0h3.2v5.4h-3.2z"/>
<path fill="#616161" d="M104.3,254.4h3.2v5.4h-3.2z"/>
<path fill="#717171" d="M104.3,259.9h3.2v5.4h-3.2z"/>
<path fill="#646464" d="M104.3,265.3h3.2v5.4h-3.2z"/>
<path fill="#6a6a6a" d="M104.3,270.8h3.2v5.4h-3.2z"/>
<path fill="#626262" d="M104.3,276.2h3.2v5.4h-3.2z"/>
<path fill="#686868" d="M104.3,281.6h3.2v5.4h-3.2z"/>
<path fill="#646464" d="M104.3,287.1h3.2v5.4h-3.2z"/>
<path fill="#646464" d="M104.3,292.5h3.2v5.4h-3.2z"/>
<path fill="#696969" d="M104.3,297.9h3.2v5.4h-3.2z"/>
<path fill="#6b6b6b" d="M104.3,303.4h3.2v5.4h-3.2z"/>
<path fill="#676767" d="M104.3,308.8h3.2v5.4h-3.2z"/>
<path fill="#737373" d="M104.3,314.2h3.2v5.4h-3.2z"/>
<path fill="#6b6b6b" d="M104.3,319.7h3.2v5.4h-3.2z"/>
<path fill="#666666" d="M104.3,325.1h3.2v5.4h-3.2z"/>
<path fill="#6a6a6a" d="M104.3,330.6h3.2v5.4h-3.2z"/>
<path fill="#6c6c6c" d="M104.3,336.0h3.2v5.4h-3.2z"/>
<path fill="#6f6f6f" d="M104.3,341.4h3.2v5.4h-3.2z"/>
<path fill="#656565" d="M104.3,346.9h3.2v5.4h-3.2z"/>
<path fill="#5e5e5e" d="M104.3,352.3h3.2v5.4h-3.2z"/>
<path fill="#5e5e5e" d="M104.3,357.8h3.2v5.4h-3.2z"/>
<path fill="#5c5c5c" d="M104.3,363.2h3.2v5.4h-3.2z"/>
<path fill="#707070" d="M104.3,368.6h3.2v5.4h-3.2z"/>
<path fill="#5c5c5c" d="M104.3,374.1h3.2v5.4h-3.2z"/>
<path fill="#727272" d="M104.3,379.5h3.2v5.4h-3.2z"/>
<path fill="#6a6a6a" d="M104.3,384.9h3.2v5.4h-3.2z"/>
<path fill="#6e6e6e" d="M104.3,390.4h3.2v5.4h-3.2z"/>
<path fill="#5d5d5d" d="M104.3,395.8h3.2v5.4h-3.2z"/>
<path fill="#666666" d="M104.3,401.2h3.2v5.4h-3.2z"/>
<path fill="#707070" d="M104.3,406.7h3.2v5.4h-3.2z"/>
<path fill="#636363" d="M104.3,412.1h3.2v5.4h-3.2z"/>
<path fill="#737373" d="M104.3,417.6h3.2v5.4h-3.2z"/>
<path fill="#6d6d6d" d="M104.3,423.0h3.2v5.4h-3.2z"/>
<path fill="#696969" d="M104.3,428.4h3.2v5.4h-3.2z"/>
<path fill="#727272" d="M104.3,433.9h3.2v5.4h-3.2z"/>
<path fill="#686868" d="M104.3,439.3h3.2v5.4h-3.2z"/>
<path fill="#6b6b6b" d="M104.3,444.8h3.2v5.4h-3.2z"/>
<path fill="#6c6c6c" d="M104.3,450.2h3.2v5.4h-3.2z"/>
<path fill="#606060" d="M104.3,455.6h3.2v5.4h-3.2z"/>
<path fill="#6b6b6b" d="M104.3,461.1h3.2v5.4h-3.2z"/>
<path fill="#707070" d="M104.3,466.5h3.2v5.4h-3.2z"/>
<path fill="#707070" d="M104.3,471.9h3.2v5.4h-3.2z"/>
<path fill="#737373" d="M104.3,477.4h3.2v5.4h-3.2z"/>
<path fill="#6b6b6b" d="M104.3,482.8h3.2v5.4h-3.2z"/>
<path fill="#636363" d="M104.3,488.2h3.2v5.4h-3.2z"/>
<path fill="#757575" d="M104.3,493.7h3.2v5.4h-3.2z"/>
<path fill="#5d5d5d" d="M104.3,499.1h3.2v5.4h-3.2z"/>
<path fill="#6d6d6d" d="M104.3,504.6h3.2v5.4h-3.2z"/>
<path fill="#5d5d5d" d="M121.8,75.0h3.6v5.4h-3.6z"/>
<path fill="#6b6b6b" d="M121.8,80.4h3.6v5.4h-3.6z"/>
<path fill="#7b7b7b" d="M121.8,85.9h3.6v5.4h-3.6z"/>
<path fill="#616161" d="M121.8,91.3h3.6v5.4h-3.6z"/>
<path fill="#787878" d="M121.8,96.8h3.6v5.4h-3.6z"/>
<path fill="#6a6a6a" d="M121.8,102.2h3.6v5.4h-3.6z"/>
<path fill="#676767" d="M121.8,107.6h3.6v5.4h-3.6z"/>
<path fill="#6b6b6b" d="M121.8,113.1h3.6v5.4h-3.6z"/>
<path fill="#6b6b6b" d="M121.8,118.5h3.6v5.4h-3.6z"/>
<path fill="#707070" d="M121.8,123.9h3.6v5.4h-3.6z"/>
<path fill="#717171" d="M121.8,129.4h3.6v5.4h-3.6z"/>
<path fill="#707070" d="M121.8,134.8h3.6v5.4h-3.6z"/>
<path fill="#6e6e6e" d="M121.8,140.2h3.6v5.4h-3.6z"/>
<path fill="#6b6b6b" d="M121.8,145.7h3.6v5.4h-3.6z"/>
<path fill="#787878" d="M121.8,151.1h3.6v5.4h-3.6z"/>
<path fill="#747474" d="M121.8,156.6h3.6v5.4h-3.6z"/>
<path fill="#6c6c6c" d="M121.8,162.0h3.6v5.4h-3.6z"/>
<path fill="#6e6e6e" d="M121.8,167.4h3.6v5.4h-3.6z"/>
<path fill="#6f6f6f" d="M121.8,172.9h3.6v5.4h-3.6z"/>
<path fill="#787878" d="M121.8,178.3h3.6v5.4h-3.6z"/>
<path fill="#6e6e6e" d="M121.8,183.8h3.6v5.4h-3.6z"/>
<path fill="#6e6e6e" d="M121.8,189.2h3.6v5.4h-3.6z"/>
<path fill="#717171" d="M121.8,194.6h3.6v5.4h-3.6z"/>
<path fill="#6f6f6f" d="M121.8,200.1h3.6v5.4h-3.6z"/>
<path fill="#676767" d="M121.8,205.5h3.6v5.4h-3.6z"/>
<path fill="#646464" d="M121.8,210.9h3.6v5.4h-3.6z"/>
<path fill="#727272" d="M121.8,216.4h3.6v5.4h-3.6z"/>
<path fill="#6f6f6f" d="M121.8,221.8h3.6v5.4h-3.6z"/>
<path fill="#6e6e6e" d="M121.8,227.2h3.6v5.4h-3.6z"/>
<path fill="#6b6b6b" d="M121.8,232.7h3.6v5.4h-3.6z"/>
<path fill="#676767" d="M121.8,238.1h3.6v5.4h-3.6z"/>
<path fill="#6b6b6b" d="M121.8,243.6h3.6v5.4h-3.6z"/>
<path fill="#666666" d="M121.8,249.0h3.6v5.4h-3.6z"/>
<path fill="#666666" d="M121.8,254.4h3.6v5.4h-3.6z"/>
<path fill="#6a6a6a" d="M121.8,259.9h3.6v5.4h-3.6z"/>
<path fill="#707070" d="M121.8,265.3h3.6v5.4h-3.6z"/>
<path fill="#686868" d="M121.8,270.8h3.6v5.4h-3.6z"/>
<path fill="#717171" d="M121.8,276.2h3.6v5.4h-3.6z"/>
<path fill="#727272" d="M121.8,281.6h3.6v5.4h-3.6z"/>
<path fill="#6d6d6d" d="M121.8,287.1h3.6v5.4h-3.6z"/>
<path fill="#696969" d="M121.8,292.5h3.6v5.4h-3.6z"/>
<path fill="#707070" d="M121.8,297.9h3.6v5.4h-3.6z"/>
<path fill="#717171" d="M121.8,303.4h3.6v5.4h-3.6z"/>
<path fill="#7b7b7b" d="M121.8,308.8h3.6v5.4h-3.6z"/>
<path fill="#6c6c6c" d="M121.8,314.2h3.6v5.4h-3.6z"/>
<path fill="#737373" d="M121.8,319.7h3.6v5.4h-3.6z"/>
<path fill="#757575" d="M121.8,325.1h3.6v5.4h-3.6z"/>
<path fill="#787878" d="M121.8,330.6h3.6v5.4h-3.6z"/>
<path fill="#606060" d="M121.8,336.0h3.6v5.4h-3.6z"/>
<path fill="#6f6f6f" d="M121.8,341.4h3.6v5.4h-3.6z"/>
<path fill="#6b6b6b" d="M121.8,346.9h3.6v5.4h-3.6z"/>
<path fill="#696969" d="M121.8,352.3h3.6v5.4h-3.6z"/>
<path fill="#5c5c5c" d="M121.8,357.8h3.6v5.4h-3.6z"/>
<path fill="#676767" d="M121.8,363.2h3.6v5.4h-3.6z"/>
<path fill="#6a6a6a" d="M121.8,368.6h3.6v5.4h-3.6z"/>
<path fill="#717171" d="M121.8,374.1h3.6v5.4h-3.6z"/>
<path fill="#666666" d="M121.8,379.5h3.6v5.4h-3.6z"/>
<path fill="#707070" d="M121.8,384.9h3.6v5.4h-3.6z"/>
<path fill="#636363" d="M121.8,390.4h3.6v5.4h-3.6z"/>
<path fill="#6c6c6c" d="M121.8,395.8h3.6v5.4h-3.6z"/>
<path fill="#6f6f6f" d="M121.8,401.2h3.6v5.4h-3.6z"/>
<path fill="#616161" d="M139.1,75.0h4.4v5.4h-4.4z"/>
<path fill="#676767" d="M138.3,80.4h6.0v5.4h-6.0z"/>
<path fill="#666666" d="M139.1,85.9h4.4v5.4h-4.4z"/>
<path fill="#666666" d="M139.1,91.3h4.4v5.4h-4.4z"/>
<path fill="#717171" d="M138.3,96.8h6.0v5.4h-6.0z"/>
<path fill="#686868" d="M138.3,102.2h6.0v5.4h-6.0z"/>
<path fill="#6a6a6a" d="M139.1,107.6h4.4v5.4h-4.4z"/>
<path fill="#646464" d="M139.1,113.1h4.4v5.4h-4.4z"/>
<path fill="#616161" d="M139.1,118.5h4.4v5.4h-4.4z"/>
<path fill="#626262" d="M138.3,123.9h6.0v5.4h-6.0z"/>
<path fill="#696969" d="M139.1,129.4h4.4v5.4h-4.4z"/>
<path fill="#545454" d="M138.3,134.8h6.0v5.4h-6.0z"/>
<path fill="#636363" d="M138.3,140.2h6.0v5.4h-6.0z"/>
<path fill="#5f5f5f" d="M139.1,145.7h4.4v5.4h-4.4z"/>
<path fill="#616161" d="M139.1,151.1h4.4v5.4h-4.4z"/>
<path fill="#6a6a6a" d="M139.1,156.6h4.4v5.4h-4.4z"/>
<path fill="#656565" d="M139.1,162.0h4.4v5.4h-4.4z"/>
<path fill="#6c6c6c" d="M139.1,167.4h4.4v5.4h-4.4z"/>
<path fill="#696969" d="M138.3,172.9h6.0v5.4h-6.0z"/>
<path fill="#626262" d="M139.1,178.3h4.4v5.4h-4.4z"/>
<path fill="#666666" d="M139.1,183.8h4.4v5.4h-4.4z"/>
<path fill="#626262" d="M139.1,189.2h4.4v5.4h-4.4z"/>
<path fill="#646464" d="M139.1,194.6h4.4v5.4h-4.4z"/>
<path fill="#6b6b6b" d="M139.1,200.1h4.4v5.4h-4.4z"/>
<path fill="#6a6a6a" d="M139.1,205.5h4.4v5.4h-4.4z"/>
<path fill="#6a6a6a" d="M139.1,210.9h4.4v5.4h-4.4z"/>
<path fill="#6c6c6c" d="M138.3,216.4h6.0v5.4h-6.0z"/>
<path fill="#666666" d="M139.1,221.8h4.4v5.4h-4.4z"/>
<path fill="#6b6b6b" d="M139.1,227.2h4.4v5.4h-4.4z"/>
<path fill="#646464" d="M139.1,232.7h4.4v5.4h-4.4z"/>
<path fill="#6f6f6f" d="M139.1,238.1h4.4v5.4h-4.4z"/>
<path fill="#626262" d="M156.0,75.0h6.0v5.4h-6.0z"/>
<path fill="#5b5b5b" d="M156.0,80.4h6.0v5.4h-6.0z"/>
<path fill="#686868" d="M156.8,85.9h4.4v5.4h-4.4z"/>
<path fill="#5d5d5d" d="M156.8,91.3h4.4v5.4h-4.4z"/>
<path fill="#666666" d="M156.8,96.8h4.4v5.4h-4.4z"/>
<path fill="#656565" d="M156.0,102.2h6.0v5.4h-6.0z"/>
<path fill="#5d5d5d" d="M156.0,107.6h6.0v5.4h-6.0z"/>
<path fill="#636363" d="M156.8,113.1h4.4v5.4h-4.4z"/>
<path fill="#5d5d5d" d="M156.0,118.5h6.0v5.4h-6.0z"/>
<path fill="#5c5c5c" d="M156.0,123.9h6.0v5.4h-6.0z"/>
<path fill="#626262" d="M156.8,129.4h4.4v5.4h-4.4z"/>
<path fill="#696969" d="M156.8,134.8h4.4v5.4h-4.4z"/>
<path fill="#676767" d="M156.0,140.2h6.0v5.4h-6.0z"/>
<path fill="#5f5f5f" d="M156.8,145.7h4.4v5.4h-4.4z"/>
<path fill="#606060" d="M156.0,151.1h6.0v5.4h-6.0z"/>
<path fill="#616161" d="M156.8,156.6h4.4v5.4h-4.4z"/>
<path fill="#737373" d="M156.8,162.0h4.4v5.4h-4.4z"/>
<path fill="#636363" d="M156.8,167.4h4.4v5.4h-4.4z"/>
<path fill="#616161" d="M156.8,172.9h4.4v5.4h-4.4z"/>
<path fill="#696969" d="M156.8,178.3h4.4v5.4h-4.4z"/>
<path fill="#6b6b6b" d="M156.8,183.8h4.4v5.4h-4.4z"/>
<path fill="#5b5b5b" d="M156.0,189.2h6.0v5.4h-6.0z"/>
<path fill="#5b5b5b" d="M156.0,194.6h6.0v5.4h-6.0z"/>
<path fill="#676767" d="M156.0,200.1h6.0v5.4h-6.0z"/>
<path fill="#6c6c6c" d="M156.8,205.5h4.4v5.4h-4.4z"/>
<path fill="#686868" d="M175.4,85.9h2.6v5.4h-2.6z"/>
<path fill="#696969" d="M175.4,91.3h2.6v5.4h-2.6z"/>
<path fill="#696969" d="M175.4,96.8h2.6v5.4h-2.6z"/>
<path fill="#6f6f6f" d="M175.4,102.2h2.6v5.4h-2.6z"/>
<path fill="#686868" d="M175.4,107.6h2.6v5.4h-2.6z"/>
<path fill="#707070" d="M175.4,113.1h2.6v5.4h-2.6z"/>
<path fill="#6c6c6c" d="M175.4,118.5h2.6v5.4h-2.6z"/>
<path fill="#676767" d="M175.4,123.9h2.6v5.4h-2.6z"/>
<path fill="#6f6f6f" d="M175.4,129.4h2.6v5.4h-2.6z"/>
<path fill="#5e5e5e" d="M175.4,134.8h2.6v5.4h-2.6z"/>
<path fill="#6c6c6c" d="M175.4,140.2h2.6v5.4h-2.6z"/>
<path fill="#676767" d="M175.4,145.7h2.6v5.4h-2.6z"/>
<path fill="#666666" d="M175.4,151.1h2.6v5.4h-2.6z"/>
<path fill="#5f5f5f" d="M175.4,156.6h2.6v5.4h-2.6z"/>
<path fill="#6c6c6c" d="M175.4,162.0h2.6v5.4h-2.6z"/>
<path fill="#787878" d="M175.4,167.4h2.6v5.4h-2.6z"/>
<path fill="#6b6b6b" d="M175.4,172.9h2.6v5.4h-2.6z"/>
<path fill="#6b6b6b" d="M175.4,178.3h2.6v5.4h-2.6z"/>
<path fill="#616161" d="M175.4,183.8h2.6v5.4h-2.6z"/>
<path fill="#737373" d="M175.4,189.2h2.6v5.4h-2.6z"/>
<path fill="#6d6d6d" d="M175.4,194.6h2.6v5.4h-2.6z"/>
<path fill="#686868" d="M175.4,200.1h2.6v5.4h-2.6z"/>
<path fill="#717171" d="M175.4,205.5h2.6v5.4h-2.6z"/>
<path fill="#6b6b6b" d="M175.4,210.9h2.6v5.4h-2.6z"/>
<path fill="#646464" d="M175.4,216.4h2.6v5.4h-2.6z"/>
<path fill="#6c6c6c" d="M175.4,221.8h2.6v5.4h-2.6z"/>
<path fill="#696969" d="M175.4,227.2h2.6v5.4h-2.6z"/>
<path fill="#747474" d="M175.4,232.7h2.6v5.4h-2.6z"/>
<path fill="#666666" d="M175.4,238.1h2.6v5.4h-2.6z"/>
<path fill="#6d6d6d" d="M175.4,243.6h2.6v5.4h-2.6z"/>
<path fill="#686868" d="M175.4,249.0h2.6v5.4h-2.6z"/>
<path fill="#6a6a6a" d="M175.4,254.4h2.6v5.4h-2.6z"/>
<path fill="#656565" d="M175.4,259.9h2.6v5.4h-2.6z"/>
<path fill="#676767" d="M175.4,265.3h2.6v5.4h-2.6z"/>
<path fill="#616161" d="M175.4,270.8h2.6v5.4h-2.6z"/>
<path fill="#686868" d="M175.4,276.2h2.6v5.4h-2.6z"/>
<path fill="#6b6b6b" d="M175.4,281.6h2.6v5.4h-2.6z"/>
<path fill="#6d6d6d" d="M175.4,287.1h2.6v5.4h-2.6z"/>
<path fill="#6e6e6e" d="M192.9,85.9h3.0v5.4h-3.0z"/>
<path fill="#737373" d="M192.9,91.3h3.0v5.4h-3.0z"/>
<path fill="#676767" d="M192.9,96.8h3.0v5.4h-3.0z"/>
<path fill="#6a6a6a" d="M192.9,102.2h3.0v5.4h-3.0z"/>
<path fill="#686868" d="M192.9,107.6h3.0v5.4h-3.0z"/>
<path fill="#626262" d="M192.9,113.1h3.0v5.4h-3.0z"/>
<path fill="#686868" d="M192.9,118.5h3.0v5.4h-3.0z"/>
<path fill="#5f5f5f" d="M192.9,123.9h3.0v5.4h-3.0z"/>
<path fill="#6a6a6a" d="M192.9,129.4h3.0v5.4h-3.0z"/>
<path fill="#707070" d="M192.9,134.8h3.0v5.4h-3.0z"/>
<path fill="#6f6f6f" d="M192.9,140.2h3.0v5.4h-3.0z"/>
<path fill="#616161" d="M192.9,145.7h3.0v5.4h-3.0z"/>
<path fill="#6b6b6b" d="M210.6,91.3h3.0v5.4h-3.0z"/>
<path fill="#656565" d="M210.6,96.8h3.0v5.4h-3.0z"/>
<path fill="#5a5a5a" d="M210.6,102.2h3.0v5.4h-3.0z"/>
<path fill="#565656" d="M210.6,107.6h3.0v5.4h-3.0z"/>
<path fill="#4b4b4b" d="M122.1,401.2h3.0v5.4h-3.0z"/>
<path fill="#454545" d="M122.1,406.7h3.0v5.4h-3.0z"/>
<path fill="#4e4e4e" d="M122.1,412.1h3.0v5.4h-3.0z"/>
<path fill="#404040" d="M122.1,417.6h3.0v5.4h-3.0z"/>
<path fill="#4b4b4b" d="M122.1,423.0h3.0v5.4h-3.0z"/>
<path fill="#2d2d2d" d="M122.1,428.4h3.0v5.4h-3.0z"/>
<path fill="#595959" d="M122.1,433.9h3.0v5.4h-3.0z"/>
<path fill="#505050" d="M122.1,450.2h3.0v5.4h-3.0z"/>
<path fill="#4c4c4c" d="M139.5,243.6h3.6v5.4h-3.6z"/>
<path fill="#565656" d="M139.5,249.0h3.6v5.4h-3.6z"/>
<path fill="#555555" d="M139.5,254.4h3.6v5.4h-3.6z"/>
<path fill="#5b5b5b" d="M139.5,265.3h3.6v5.4h-3.6z"/>
<path fill="#4b4b4b" d="M139.5,270.8h3.6v5.4h-3.6z"/>
<path fill="#4d4d4d" d="M139.5,281.6h3.6v5.4h-3.6z"/>
<path fill="#505050" d="M139.5,287.1h3.6v5.4h-3.6z"/>
<path fill="#434343" d="M157.2,210.9h3.6v5.4h-3.6z"/>
<path fill="#4b4b4b" d="M157.2,216.4h3.6v5.4h-3.6z"/>
<path fill="#464646" d="M157.2,221.8h3.6v5.4h-3.6z"/>
<path fill="#454545" d="M157.2,227.2h3.6v5.4h-3.6z"/>
<path fill="#585858" d="M157.2,232.7h3.6v5.4h-3.6z"/>
<path fill="#434343" d="M157.2,249.0h3.6v5.4h-3.6z"/>
<path fill="#565656" d="M157.2,259.9h3.6v5.4h-3.6z"/>
<path fill="#4b4b4b" d="M157.2,265.3h3.6v5.4h-3.6z"/>
<path fill="#404040" d="M194.0,297.9h4.5v5.4h-4.5z"/>
<path fill="#2e2e2e" d="M194.0,303.4h4.5v5.4h-4.5z"/>
<path fill="#2b2b2b" d="M194.0,319.7h4.5v5.4h-4.5z"/>
<path fill="#2b2b2b" d="M194.0,352.3h4.5v5.4h-4.5z"/>
<path fill="#3c3c3c" d="M194.0,357.8h4.5v5.4h-4.5z"/>
<path fill="#393939" d="M194.0,363.2h4.5v5.4h-4.5z"/>
<path fill="#434343" d="M194.0,368.6h4.5v5.4h-4.5z"/>
<path fill="#353535" d="M194.0,374.1h4.5v5.4h-4.5z"/>
<path fill="#2d2d2d" d="M194.0,379.5h4.5v5.4h-4.5z"/>
<path fill="#3b3b3b" d="M194.0,384.9h4.5v5.4h-4.5z"/>
<path fill="#3b3b3b" d="M194.0,390.4h4.5v5.4h-4.5z"/>
<path fill="#484848" d="M194.0,401.2h4.5v5.4h-4.5z"/>
<path fill="#333333" d="M194.0,406.7h4.5v5.4h-4.5z"/>
<path fill="#424242" d="M194.0,412.1h4.5v5.4h-4.5z"/>
<path fill="#4d4d4d" d="M194.0,417.6h4.5v5.4h-4.5z"/>
<path fill="#2d2d2d" d="M194.0,423.0h4.5v5.4h-4.5z"/>
<path fill="#363636" d="M194.0,428.4h4.5v5.4h-4.5z"/>
<path fill="#313131" d="M194.0,433.9h4.5v5.4h-4.5z"/>
<path fill="#383838" d="M194.0,439.3h4.5v5.4h-4.5z"/>
<path fill="#2d2d2d" d="M194.0,444.8h4.5v5.4h-4.5z"/>
<path fill="#272727" d="M194.0,455.6h4.5v5.4h-4.5z"/>
<path fill="#363636" d="M194.0,461.1h4.5v5.4h-4.5z"/>
<path fill="#3c3c3c" d="M194.0,471.9h4.5v5.4h-4.5z"/>
<path fill="#383838" d="M194.0,482.8h4.5v5.4h-4.5z"/>
<path fill="#484848" d="M194.0,488.2h4.5v5.4h-4.5z"/>
<path fill="#3c3c3c" d="M194.0,493.7h4.5v5.4h-4.5z"/>
<path fill="#424242" d="M194.0,499.1h4.5v5.4h-4.5z"/>
<path fill="#333333" d="M194.0,504.6h4.5v5.4h-4.5z"/>
<path fill="#444444" d="M203.2,197.0h3.2v12.0h-3.2z"/>
<path fill="#2b2b2b" d="M203.2,209.0h3.2v3.0h-3.2z"/>
<path fill="#464646" d="M206.4,197.0h3.3v12.0h-3.3z"/>
<path fill="#333333" d="M206.4,209.0h3.3v3.0h-3.3z"/>
<path fill="#404040" d="M209.7,197.0h3.3v12.0h-3.3z"/>
<path fill="#2e2e2e" d="M209.7,209.0h3.3v3.0h-3.3z"/>
<path fill="#5e5e5e" d="M213.0,197.0h3.4v12.0h-3.4z"/>
<path fill="#2e2e2e" d="M213.0,209.0h3.4v3.0h-3.4z"/>
<path fill="#5e5e5e" d="M216.3,197.0h3.4v12.0h-3.4z"/>
<path fill="#292929" d="M216.3,209.0h3.4v3.0h-3.4z"/>
<path fill="#606060" d="M219.8,197.0h3.5v12.0h-3.5z"/>
<path fill="#363636" d="M219.8,209.0h3.5v3.0h-3.5z"/>
<path fill="#626262" d="M223.2,197.0h3.5v12.0h-3.5z"/>
<path fill="#383838" d="M223.2,209.0h3.5v3.0h-3.5z"/>
<path fill="#666666" d="M226.7,197.0h3.6v12.0h-3.6z"/>
<path fill="#333333" d="M226.7,209.0h3.6v3.0h-3.6z"/>
<path fill="#696969" d="M230.3,197.0h2.7v12.0h-2.7z"/>
<path fill="#373737" d="M230.3,209.0h2.7v3.0h-2.7z"/>
<path fill="#696969" d="M233.0,197.0h5.5v12.0h-5.5z"/>
<path fill="#393939" d="M233.0,209.0h5.5v3.0h-5.5z"/>
<path fill="#686868" d="M238.5,197.0h5.5v12.0h-5.5z"/>
<path fill="#3c3c3c" d="M238.5,209.0h5.5v3.0h-5.5z"/>
<path fill="#707070" d="M244.1,197.0h5.5v12.0h-5.5z"/>
<path fill="#3e3e3e" d="M244.1,209.0h5.5v3.0h-5.5z"/>
<path fill="#6b6b6b" d="M249.6,197.0h5.5v12.0h-5.5z"/>
<path fill="#363636" d="M249.6,209.0h5.5v3.0h-5.5z"/>
<path fill="#6d6d6d" d="M255.2,197.0h5.5v12.0h-5.5z"/>
<path fill="#323232" d="M255.2,209.0h5.5v3.0h-5.5z"/>
<path fill="#676767" d="M260.7,197.0h5.5v12.0h-5.5z"/>
<path fill="#323232" d="M260.7,209.0h5.5v3.0h-5.5z"/>
<path fill="#696969" d="M266.2,197.0h5.5v12.0h-5.5z"/>
<path fill="#323232" d="M266.2,209.0h5.5v3.0h-5.5z"/>
<path fill="#6a6a6a" d="M271.8,197.0h5.5v12.0h-5.5z"/>
<path fill="#4c4c4c" d="M271.8,209.0h5.5v3.0h-5.5z"/>
<path fill="#656565" d="M277.3,197.0h5.5v12.0h-5.5z"/>
<path fill="#292929" d="M277.3,209.0h5.5v3.0h-5.5z"/>
<path fill="#4a4a4a" d="M282.9,197.0h5.5v12.0h-5.5z"/>
<path fill="#353535" d="M282.9,209.0h5.5v3.0h-5.5z"/>
<path fill="#444444" d="M288.4,197.0h5.5v12.0h-5.5z"/>
<path fill="#3a3a3a" d="M288.4,209.0h5.5v3.0h-5.5z"/>
<path fill="#4d4d4d" d="M249.0,213.0h15.0v9.0h-15.0z"/>
<path fill="#454545" d="M299.5,208.0h15.5v13.0h-15.5z"/>
<path fill="#595959" d="M205.0,203.0h7.0v13.0h-7.0z"/>
<path fill="#4d4d4d" d="M203.0,216.0h6.0v13.0h-6.0z"/>
<path fill="#434343" d="M206.0,229.0h6.0v12.0h-6.0z"/>
<path fill="#393939" d="M299.5,204.0h5.5v5.0h-5.5z"/>
<path fill="#636363" d="M230.0,268.0h5.5v10.0h-5.5z"/>
<path fill="#555555" d="M366.0,252.5h5.5v9.0h-5.5z"/>
<path fill="#4e4e4e" d="M371.5,252.5h5.5v9.0h-5.5z"/>
<path fill="#505050" d="M377.1,252.5h5.5v9.0h-5.5z"/>
<path fill="#5e5e5e" d="M382.6,252.5h5.5v9.0h-5.5z"/>
<path fill="#505050" d="M388.1,252.5h5.5v9.0h-5.5z"/>
<path fill="#565656" d="M393.7,252.5h5.5v9.0h-5.5z"/>
<path fill="#525252" d="M399.2,252.5h5.5v9.0h-5.5z"/>
<path fill="#2d2d2d" d="M404.8,252.5h5.5v9.0h-5.5z"/>
<path fill="#525252" d="M410.3,252.5h5.5v9.0h-5.5z"/>
<path fill="#5d5d5d" d="M415.8,252.5h5.5v9.0h-5.5z"/>
<path fill="#646464" d="M421.4,252.5h5.5v9.0h-5.5z"/>
<path fill="#525252" d="M426.9,252.5h1.6v9.0h-1.6z"/>
<path fill="#525252" d="M428.5,246.4h17.5v10.4h-17.5z"/>
<path fill="#525252" d="M446.0,246.4h17.0v10.4h-17.0z"/>
<path fill="#535353" d="M463.0,246.4h17.0v10.4h-17.0z"/>
<path fill="#555555" d="M480.0,246.4h17.0v10.4h-17.0z"/>
<path fill="#565656" d="M497.0,246.4h17.0v10.4h-17.0z"/>
<path fill="#525252" d="M514.0,246.4h17.0v10.4h-17.0z"/>
<path fill="#414141" d="M531.0,246.4h17.0v10.4h-17.0z"/>
<path fill="#5a5a5a" d="M548.0,246.4h17.0v10.4h-17.0z"/>
<path fill="#555555" d="M565.0,246.4h17.0v10.4h-17.0z"/>
<path fill="#525252" d="M582.0,246.4h18.0v10.4h-18.0z"/>
</g>
</defs>
<rect x="79" y="59.5" width="521" height="450.5" fill="#000"/>
<g clip-path="url(#cA)"><g filter="url(#fA)"><rect x="53.0" y="40" width="206.0" height="490" fill="#060606"/><use href="#cells"/></g></g>
<g clip-path="url(#cB)"><g filter="url(#fB)"><rect x="205.0" y="40" width="261.0" height="490" fill="#060606"/><use href="#cells"/></g></g>
<g clip-path="url(#cC)"><g filter="url(#fC)"><rect x="404.0" y="40" width="230.0" height="490" fill="#060606"/><use href="#cells"/></g></g>
<path d="M69.5,60.0H79M74.5,66.0H79M74.5,72.0H79M74.5,78.0H79M74.5,84.0H79M74.5,90.0H79M74.5,96.0H79M74.5,102.0H79M74.5,108.0H79M74.5,114.0H79M69.5,120.0H79M74.5,126.0H79M74.5,132.0H79M74.5,138.0H79M74.5,144.0H79M74.5,150.0H79M74.5,156.0H79M74.5,162.0H79M74.5,168.0H79M74.5,174.0H79M69.5,180.0H79M74.5,186.0H79M74.5,192.0H79M74.5,198.0H79M74.5,204.0H79M74.5,210.0H79M74.5,216.0H79M74.5,222.0H79M74.5,228.0H79M74.5,234.0H79M69.5,240.0H79M74.5,246.0H79M74.5,252.0H79M74.5,258.0H79M74.5,264.0H79M74.5,270.0H79M74.5,276.0H79M74.5,282.0H79M74.5,288.0H79M74.5,294.0H79M69.5,300.0H79M74.5,306.0H79M74.5,312.0H79M74.5,318.0H79M74.5,324.0H79M74.5,330.0H79M74.5,336.0H79M74.5,342.0H79M74.5,348.0H79M74.5,354.0H79M69.5,360.0H79M74.5,366.0H79M74.5,372.0H79M74.5,378.0H79M74.5,384.0H79M74.5,390.0H79M74.5,396.0H79M74.5,402.0H79M74.5,408.0H79M74.5,414.0H79M69.5,420.0H79M74.5,426.0H79M74.5,432.0H79M74.5,438.0H79M74.5,444.0H79M74.5,450.0H79M74.5,456.0H79M74.5,462.0H79M74.5,468.0H79M74.5,474.0H79M69.5,480.0H79M74.5,486.0H79M74.5,492.0H79M74.5,498.0H79M74.5,504.0H79M74.5,510.0H79M600,60.0H609.5M600,100.0H605M600,140.0H609.5M600,180.0H605M600,220.0H609.5M600,260.0H605M600,300.0H609.5M600,340.0H605M600,380.0H609.5M600,420.0H605M600,460.0H609.5M600,500.0H605M80.6,510V515M90.2,510V515M99.8,510V515M109.4,510V515M119.0,510V515M128.6,510V515M138.2,510V515M147.8,510V515M157.4,510V515M167.0,510V519.5M176.6,510V515M186.2,510V515M195.8,510V515M205.4,510V515M215.0,510V515M224.6,510V515M234.2,510V515M243.8,510V515M253.4,510V515M263.0,510V519.5M272.6,510V515M282.2,510V515M291.8,510V515M301.4,510V515M311.0,510V515M320.6,510V515M330.2,510V515M339.8,510V515M349.4,510V515M359.0,510V519.5M368.6,510V515M378.2,510V515M387.8,510V515M397.4,510V515M407.0,510V515M416.6,510V515M426.2,510V515M435.8,510V515M445.4,510V515M455.0,510V519.5M464.6,510V515M474.2,510V515M483.8,510V515M493.4,510V515M503.0,510V515M512.6,510V515M522.2,510V515M531.8,510V515M541.4,510V515M551.0,510V519.5M560.6,510V515M570.2,510V515M579.8,510V515M589.4,510V515M599.0,510V515" stroke="#1a1a1a" stroke-width="1" fill="none" shape-rendering="crispEdges"/>
<path d="M79,60V510.5H600.5V60" stroke="#1a1a1a" stroke-width="1" fill="none" shape-rendering="crispEdges"/>
<rect x="739.5" y="60" width="21" height="450" fill="url(#cb)"/>
<path d="M739.5,60V510M760.5,60V510" stroke="#000" stroke-width="1" shape-rendering="crispEdges"/>
<path d="M730,60.00H739M761,60.00H770M735,99.32H739M761,99.32H765M735,89.41H739M761,89.41H765M735,82.38H739M761,82.38H765M735,76.93H739M761,76.93H765M735,72.48H739M761,72.48H765M735,68.71H739M761,68.71H765M735,65.45H739M761,65.45H765M735,62.57H739M761,62.57H765M730,116.25H739M761,116.25H770M735,155.57H739M761,155.57H765M735,145.66H739M761,145.66H765M735,138.63H739M761,138.63H765M735,133.18H739M761,133.18H765M735,128.73H739M761,128.73H765M735,124.96H739M761,124.96H765M735,121.70H739M761,121.70H765M735,118.82H739M761,118.82H765M730,172.50H739M761,172.50H770M735,211.82H739M761,211.82H765M735,201.91H739M761,201.91H765M735,194.88H739M761,194.88H765M735,189.43H739M761,189.43H765M735,184.98H739M761,184.98H765M735,181.21H739M761,181.21H765M735,177.95H739M761,177.95H765M735,175.07H739M761,175.07H765M730,228.75H739M761,228.75H770M735,268.07H739M761,268.07H765M735,258.16H739M761,258.16H765M735,251.13H739M761,251.13H765M735,245.68H739M761,245.68H765M735,241.23H739M761,241.23H765M735,237.46H739M761,237.46H765M735,234.20H739M761,234.20H765M735,231.32H739M761,231.32H765M730,285.00H739M761,285.00H770M735,324.32H739M761,324.32H765M735,314.41H739M761,314.41H765M735,307.38H739M761,307.38H765M735,301.93H739M761,301.93H765M735,297.48H739M761,297.48H765M735,293.71H739M761,293.71H765M735,290.45H739M761,290.45H765M735,287.57H739M761,287.57H765M730,341.25H739M761,341.25H770M735,380.57H739M761,380.57H765M735,370.66H739M761,370.66H765M735,363.63H739M761,363.63H765M735,358.18H739M761,358.18H765M735,353.73H739M761,353.73H765M735,349.96H739M761,349.96H765M735,346.70H739M761,346.70H765M735,343.82H739M761,343.82H765M730,397.50H739M761,397.50H770M735,436.82H739M761,436.82H765M735,426.91H739M761,426.91H765M735,419.88H739M761,419.88H765M735,414.43H739M761,414.43H765M735,409.98H739M761,409.98H765M735,406.21H739M761,406.21H765M735,402.95H739M761,402.95H765M735,400.07H739M761,400.07H765M730,453.75H739M761,453.75H770M735,493.07H739M761,493.07H765M735,483.16H739M761,483.16H765M735,476.13H739M761,476.13H765M735,470.68H739M761,470.68H765M735,466.23H739M761,466.23H765M735,462.46H739M761,462.46H765M735,459.20H739M761,459.20H765M735,456.32H739M761,456.32H765M730,510.00H739M761,510.00H770" stroke="#1a1a1a" stroke-width="1" fill="none" shape-rendering="crispEdges"/>
<path d="M739,510.5H761" stroke="#000" stroke-width="1" shape-rendering="crispEdges"/>
<text x="42.0" y="44.5" font-size="14.3" text-anchor="start">Orbit:</text>
<text x="80.7" y="44.5" font-size="14.3" text-anchor="start">7500</text>
<text x="128.7" y="44.5" font-size="14.3" text-anchor="start">2009-11-07</text>
<text x="206.0" y="44.5" font-size="14.3" text-anchor="start">(Day</text>
<text x="241.0" y="44.5" font-size="14.3" text-anchor="start">311)</text>
<text x="275.0" y="44.5" font-size="14.3" text-anchor="start">14:58:46.717</text>
<text x="373.0" y="44.5" font-size="14.3" text-anchor="start">SZA:</text>
<text x="411.7" y="44.5" font-size="14.3" text-anchor="start">74.61</text>
<text x="467.5" y="44.5" font-size="14.3" text-anchor="start">Altitude:</text>
<text x="538.0" y="44.5" font-size="14.3" text-anchor="start">455</text>
<text x="582.5" y="44.5" font-size="14.3" text-anchor="start">Lat:</text>
<text x="614.5" y="44.5" font-size="14.3" text-anchor="start">76.83</text>
<text x="670.0" y="44.5" font-size="14.3" text-anchor="start">Long:</text>
<text x="710.5" y="44.5" font-size="14.3" text-anchor="start">329.07</text>
<text x="67.5" y="64.9" font-size="14.1" text-anchor="end">0.</text>
<text x="67.5" y="124.9" font-size="14.1" text-anchor="end">1.</text>
<text x="67.5" y="184.9" font-size="14.1" text-anchor="end">2.</text>
<text x="67.5" y="244.9" font-size="14.1" text-anchor="end">3.</text>
<text x="67.5" y="304.9" font-size="14.1" text-anchor="end">4.</text>
<text x="67.5" y="364.9" font-size="14.1" text-anchor="end">5.</text>
<text x="67.5" y="424.9" font-size="14.1" text-anchor="end">6.</text>
<text x="67.5" y="484.9" font-size="14.1" text-anchor="end">7.</text>
<text x="613.6" y="64.8" font-size="14.1" text-anchor="start">0.</text>
<text x="613.6" y="145.0" font-size="14.1" text-anchor="start">200.</text>
<text x="613.6" y="225.2" font-size="14.1" text-anchor="start">400.</text>
<text x="613.6" y="305.4" font-size="14.1" text-anchor="start">600.</text>
<text x="613.6" y="385.6" font-size="14.1" text-anchor="start">800.</text>
<text x="613.6" y="465.8" font-size="14.1" text-anchor="start">1000.</text>
<text x="168.0" y="536.8" font-size="14.1" text-anchor="middle">1.</text>
<text x="264.0" y="536.8" font-size="14.1" text-anchor="middle">2.</text>
<text x="360.0" y="536.8" font-size="14.1" text-anchor="middle">3.</text>
<text x="456.0" y="536.8" font-size="14.1" text-anchor="middle">4.</text>
<text x="552.0" y="536.8" font-size="14.1" text-anchor="middle">5.</text>
<text x="294.5" y="557.6" font-size="14.2" textLength="106.6">Frequency (MHz)</text>
<text transform="translate(39.3,330) rotate(-90)" font-size="14.2" textLength="101">Time Delay (ms)</text>
<text transform="translate(653.6,216.5) rotate(90)" font-size="14.2" textLength="135.5">Apparent Range (km)</text>
<text x="729.6" y="67.5" font-size="13.9" text-anchor="end">10<tspan dy="-7" font-size="13.9">-9</tspan></text>
<text x="729.6" y="123.8" font-size="13.9" text-anchor="end">10<tspan dy="-7" font-size="13.9">-10</tspan></text>
<text x="729.6" y="180.0" font-size="13.9" text-anchor="end">10<tspan dy="-7" font-size="13.9">-11</tspan></text>
<text x="729.6" y="236.2" font-size="13.9" text-anchor="end">10<tspan dy="-7" font-size="13.9">-12</tspan></text>
<text x="729.6" y="292.5" font-size="13.9" text-anchor="end">10<tspan dy="-7" font-size="13.9">-13</tspan></text>
<text x="729.6" y="348.8" font-size="13.9" text-anchor="end">10<tspan dy="-7" font-size="13.9">-14</tspan></text>
<text x="729.6" y="405.0" font-size="13.9" text-anchor="end">10<tspan dy="-7" font-size="13.9">-15</tspan></text>
<text x="729.6" y="461.2" font-size="13.9" text-anchor="end">10<tspan dy="-7" font-size="13.9">-16</tspan></text>
<text x="729.6" y="517.5" font-size="13.9" text-anchor="end">10<tspan dy="-7" font-size="13.9">-17</tspan></text>
<text x="712" y="551" font-size="13.6">V<tspan dy="-5" font-size="9" dx="2">2</tspan><tspan dy="5" font-size="13.6" dx="3">m</tspan><tspan dy="-5" font-size="9" dx="2">-2</tspan><tspan dy="5" font-size="13.6" dx="2">Hz</tspan><tspan dy="-5" font-size="9" dx="2">-1</tspan></text>
<text x="724.0" y="582.0" font-size="7.4" text-anchor="start">UIOWA 20110512</text>
</svg></body></html>
